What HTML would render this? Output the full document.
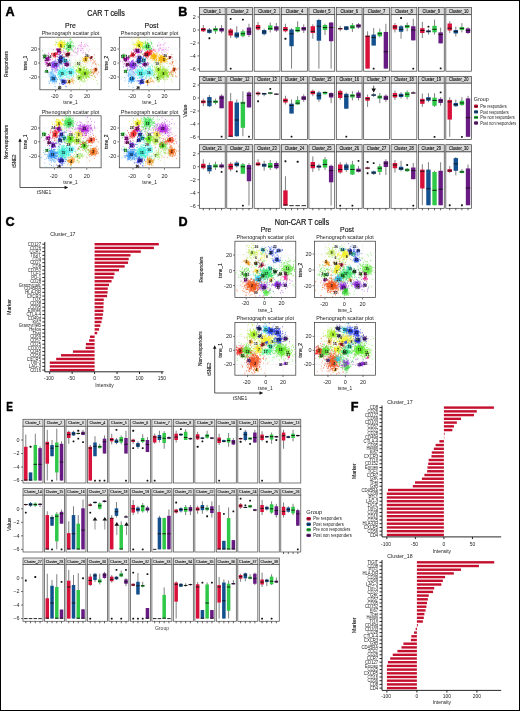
<!DOCTYPE html>
<html><head><meta charset="utf-8"><title>Figure</title>
<style>
html,body{margin:0;padding:0;background:#fff}
svg{display:block;will-change:transform}
text{font-family:"Liberation Sans",sans-serif}
</style></head><body>
<svg width="520" height="711" viewBox="0 0 520 711" font-family="Liberation Sans, sans-serif" fill="#222">
<defs><filter id="bl" x="-50%" y="-50%" width="200%" height="200%"><feGaussianBlur stdDeviation="8"/></filter></defs>
<rect x="0" y="0" width="520" height="711" fill="#fff"/>
<text x="5.6" y="15.8" font-size="12.6" font-weight="bold" fill="#000" stroke="#000" stroke-width=".45">A</text>
<text x="106" y="16" font-size="8.2" text-anchor="middle" textLength="37.5" lengthAdjust="spacingAndGlyphs" stroke="#111" stroke-width=".2">CAR T cells</text>
<text x="70.4" y="28" font-size="6.9" text-anchor="middle" stroke="#111" stroke-width=".15">Pre</text>
<text x="151.5" y="28" font-size="6.9" text-anchor="middle" stroke="#111" stroke-width=".15">Post</text>
<text font-size="5.6" text-anchor="middle" textLength="26" lengthAdjust="spacingAndGlyphs" stroke="#111" stroke-width=".12" transform="translate(8.3 64) rotate(-90)">Responders</text>
<text font-size="5.6" text-anchor="middle" textLength="34.5" lengthAdjust="spacingAndGlyphs" stroke="#111" stroke-width=".12" transform="translate(8.3 142) rotate(-90)">Non-responders</text>
<text font-size="5.4" text-anchor="middle" textLength="13.2" lengthAdjust="spacingAndGlyphs" stroke="#111" stroke-width=".12" transform="translate(16.1 161) rotate(-90)">tSNE2</text>
<text x="44" y="194.3" font-size="5.4" text-anchor="middle" textLength="14.5" lengthAdjust="spacingAndGlyphs">tSNE1</text>
<path d="M20 140.5V187.5H65.5" stroke="#111" stroke-width=".7" fill="none"/>
<path d="M20 138.2l1.7 3.6h-3.4zM68.2 187.5l-3.6 1.7v-3.4z" fill="#111"/>
<rect x="39.9" y="37.2" width="61.2" height="52.6" fill="#fff" stroke="#333" stroke-width=".7"/>
<path d="M55.5 37.2V89.8M71 37.2V89.8M87 37.2V89.8M39.9 49H101.1M39.9 63H101.1M39.9 77H101.1" stroke="#ebebeb" stroke-width=".5" fill="none"/>
<clipPath id="c1"><rect x="40.3" y="37.6" width="60.4" height="51.8"/></clipPath>
<g clip-path="url(#c1)" stroke-linecap="round" fill="none">
<g transform="scale(.1)">
<ellipse cx="608" cy="447" rx="25" ry="25" fill="#f2ee1c" opacity=".68" filter="url(#bl)" transform="rotate(0 608 447)"/>
<path d="M635 477h0m-25-45h0m-24 17h0m2-30h0m25 32h0m7-22h0m-11 18h0m-31 12h0m37 37h0m-2-51h0m21 7h0m-7-12h0m-14 29h0m10-19h0m-37 7h0m24 6h0m3 7h0m-6-18h0m15-26h0m-22 12h0m49 8h0m-27 14h0m-19-44h0m25 24h0m-5-19h0m-23 52h0m38-52h0m-57 26h0m42 4h0m-8-23h0m5 43h0m-20-52h0m-7 44h0m-20-17h0m15-1h0m15 3h0m36 8h0m-3-11h0m-37 11h0m-48-9h0m61-24h0m6 14h0m-60 7h0m31-7h0m16 36h0m6-26h0m5-36h0m18 15h0m-17-1h0m-28 15h0m58 22h0m-51-20h0m-11 5h0m12 16h0m-16-22h0m10-8h0m32 17h0m-3 22h0m12-52h0m-13-8h0m-12 75h0m-2-47h0m7 8h0m-3-16h0m21 34h0m-26-12h0m18 15h0m-6-7h0m-13-36h0m-5 43h0m30-18h0m-31 3h0m45 21h0m-47-28h0m-16-22h0m33 23h0m16 26h0m-3 1h0m-28-50h0m22 77h0m-3-78h0m-3 53h0m-26-13h0m9 10h0m28-20h0m25-14h0m-54 46h0m-4 7h0m17-66h0m0 24h0m5-7h0m17-43h0m-33 42h0m48-36h0m-43 18h0m-7 36h0m22 16h0m-21-24h0m36 13h0m-30 5h0m-12 14h0m22-39h0m2 19h0m30-20h0m-43 15h0m-10-47h0m34 27h0m6-13h0m-81 27h0m62 26h0m7-26h0m1-14h0m-10-20h0m9 12h0m-20 30h0m28-35h0m22 9h0m-24 31h0m-12-16h0m32 15h0m-27-55h0m-25 61h0m19-44h0m-17 14h0m27 14h0m7-25h0m23-5h0m-57 98h0m17-82h0m-13-11h0m78 77h0m-37-52h0m14-12h0m-26 21h0m-16 55h0m73-14h0m-160 22h0m114-100h0m-32 70h0m53-13h0m-45-36h0m30-5h0m-76-23h0m33 41h0m106-74h0m-79 56h0m-7 63h0m41-66h0m-79-53h0m21 114h0m-8-23h0m42-14h0m17-22h0m-84-46h0m77 35h0m-54 52h0m-21 41h0m64-100h0m-57 70h0m-24-75h0m52 37h0m0 8h0m-16-22h0" stroke="#f2ee1c" stroke-width="7"/>
<ellipse cx="690" cy="464" rx="30" ry="30" fill="#2ee03a" opacity=".35" filter="url(#bl)" transform="rotate(0 690 464)"/>
<path d="M721 480h0m-41 25h0m-36-39h0m63 21h0m-13-32h0m11 5h0m-3-63h0m-2 49h0m13 36h0m-5-27h0m-7 1h0m-5 5h0m-26 50h0m38-95h0m4 15h0m-27 20h0m-7 19h0m5-40h0m8 43h0m42-18h0m-70 0h0m43-12h0m-32 35h0m17-8h0m-15-25h0m7 16h0m0 14h0m21 2h0m-2-34h0m-38 40h0m27-16h0m-28-8h0m13-15h0m0-15h0m17 63h0m-19-25h0m-9 13h0m70-45h0m-49 63h0m14-31h0m-57-6h0m70 37h0m-7-47h0m-31-30h0m-10 70h0m23-58h0m34-8h0m-1 32h0m-22 23h0m-2 15h0m-6-38h0m-16-27h0m-1 58h0m37 9h0m45-16h0m-53-48h0m-18 83h0m19-55h0m-6-42h0m-27 14h0m-31 50h0m74-23h0m-15-19h0m3 41h0m25 19h0m-24-40h0m-32-11h0m35 28h0m-15 26h0m15-39h0m-20 1h0m-18-25h0m31 10h0m-14 42h0m1 3h0m5 4h0m11-77h0m18 36h0m-76 8h0m55-69h0m-39 94h0m103 31h0m-10-1h0m-189-95h0m137-100h0m29 183h0m-79-65h0m-8 18h0m46 1h0m-50 20h0m35 29h0m33-124h0m-90 79h0m49 20h0m66-23h0m-127-62h0m115 8h0m28 49h0m-30-41h0m-32-106h0m-6 181h0m-35-73h0" stroke="#2ee03a" stroke-width="7"/>
<path d="M829 488h0m-24 20h0m-27 14h0m7-63h0m88-5h0m-96 34h0m24-38h0m7 12h0m-9-9h0m83 11h0m-20-23h0m-14 5h0m-32 60h0m-3-83h0m0 58h0m36-27h0m-28 34h0m-43-5h0m26 17h0m23-19h0m-74 1h0m66-26h0m-5-11h0m22 62h0m14-38h0m35 44h0m-85-32h0m-22 1h0m75 45h0m-36-99h0m8 102h0m10-3h0m22 9h0m-7-71h0m-5 103h0m-31-142h0m84 73h0m-88-33h0m-29 43h0m54-43h0" stroke="#e46ae6" stroke-width="7"/>
<path d="M737 507h0m38 6h0m8-17h0m-50 9h0m1 10h0m40 33h0m-53 2h0m29 8h0m-6-62h0m24 38h0m-32-16h0m15 8h0m-46-39h0m44 37h0m-14-51h0m47 37h0m-61 48h0m56-14h0m-8-12h0" stroke="#f090e0" stroke-width="7"/>
<ellipse cx="589" cy="511" rx="16" ry="16" fill="#a000a8" opacity=".68" filter="url(#bl)" transform="rotate(0 589 511)"/>
<path d="M577 512h0m17 7h0m1-20h0m-13 8h0m5-7h0m-21-4h0m27 15h0m4-24h0m-13 36h0m-19-25h0m3 29h0m22-23h0m1 6h0m10 16h0m0-10h0m-2 6h0m5-34h0m-10 24h0m-3-4h0m-3 10h0m4-5h0m-16-18h0m4-6h0m3 12h0m-16-14h0m16 17h0m34 18h0m-38-17h0m-2-4h0m8 10h0m-3 11h0m16 14h0m-25-16h0m12-29h0m1-1h0m3 56h0m17-12h0m-1-42h0m-10 21h0m0-15h0m-31 40h0m41-23h0m-22-1h0m-9 10h0m18-15h0m-8 1h0m7-4h0m11 8h0m-14-14h0m17 28h0m-7-40h0m-18 50h0m10 8h0m-13-13h0m27-89h0m-26 61h0m-6-18h0m61 21h0m-22-33h0m-78 23h0m68-6h0m3 41h0m-27-23h0m-8 31h0m69-16h0m-62-33h0" stroke="#a000a8" stroke-width="7"/>
<ellipse cx="544" cy="549" rx="14" ry="14" fill="#e4102a" opacity=".68" filter="url(#bl)" transform="rotate(0 544 549)"/>
<path d="M542 559h0m-5 7h0m-5-17h0m27 20h0m-18-11h0m32 4h0m-52-9h0m50-16h0m-16-11h0m7 14h0m-8 19h0m-40-25h0m35-1h0m-4 6h0m15 5h0m-25 12h0m23-8h0m-10 7h0m-8-19h0m11 10h0m-21 13h0m20-8h0m-13-4h0m15 8h0m-16-16h0m13 12h0m5-14h0m1 32h0m0-18h0m0-16h0m-15 37h0m-13-35h0m27 5h0m-15-5h0m25 6h0m-22-14h0m11 20h0m-3 18h0m-3-31h0m-13 14h0m42-29h0m-37 25h0m22-18h0m-9 40h0m-8-21h0m16 16h0m15-39h0m-1 20h0m-56-8h0m-2 9h0m54-49h0m-53 72h0" stroke="#e4102a" stroke-width="7"/>
<ellipse cx="678" cy="543" rx="14" ry="14" fill="#a00828" opacity=".68" filter="url(#bl)" transform="rotate(0 678 543)"/>
<path d="M675 552h0m-11-10h0m-14-8h0m36 22h0m10-14h0m-27-3h0m-12 19h0m34-25h0m7-5h0m-14 6h0m-25 13h0m7 9h0m2-12h0m5 1h0m-2 7h0m14-8h0m-8 21h0m-6-27h0m16 5h0m-27-1h0m14-10h0m6-1h0m-4 0h0m19 9h0m-12 6h0m3-5h0m1 3h0m-36 3h0m13 7h0m17-15h0m-31-19h0m15 19h0m-2 26h0m20-23h0m-16-3h0m9-1h0m1 14h0m-18-6h0m31-18h0m-14 11h0m-25 27h0m20 4h0m17-34h0m-3-2h0m-46 43h0m48-7h0m-52-2h0m63-26h0m-70 3h0m34-7h0m18-16h0m-5 21h0" stroke="#a00828" stroke-width="7"/>
<ellipse cx="449" cy="562" rx="11" ry="11" fill="#1ec428" opacity=".68" filter="url(#bl)" transform="rotate(0 449 562)"/>
<path d="M463 561h0m9-10h0m-23 23h0m-14-6h0m18-12h0m-5 21h0m-2-12h0m8 8h0m-23-25h0m6 11h0m19 11h0m-9 6h0m2-7h0m-6 1h0m0 3h0m15 7h0m-12-29h0m12 14h0m-13-15h0m12-6h0m-12 28h0m2-6h0m7 2h0m6 0h0m-14-17h0m1 5h0m7 18h0m3-18h0m-5 6h0m-12 26h0m22-19h0m-37-60h0m10 76h0m10-23h0m0 10h0m5 25h0m-3-40h0" stroke="#1ec428" stroke-width="7"/>
<ellipse cx="475" cy="591" rx="16" ry="16" fill="#c400c0" opacity=".68" filter="url(#bl)" transform="rotate(0 475 591)"/>
<path d="M493 601h0m-9-3h0m-9-3h0m7-2h0m-31 16h0m18-25h0m2-2h0m-7 8h0m22-2h0m-5-14h0m4 3h0m-1 5h0m-16-7h0m-9 13h0m4 0h0m27-7h0m-19 9h0m-4 1h0m11 14h0m-12-16h0m7 18h0m-11-14h0m23 6h0m-19-21h0m-14 7h0m20-13h0m14 21h0m-14-8h0m9 3h0m1-3h0m7-14h0m-27 43h0m26-2h0m-23-11h0m23 2h0m-15 7h0m7-35h0m26 18h0m-15-11h0m-28 21h0m23-21h0m-8-8h0m-29 31h0m12-4h0m28-5h0m5 0h0m-15-5h0m2 5h0m-18-5h0m7 36h0m21-46h0m0-38h0m-14 98h0m0-15h0m-12-22h0m20-73h0m-32 112h0m-1-19h0m70-34h0m-19 11h0m-44 6h0m28-43h0m-24-10h0m3 36h0m-18-50h0m46 86h0" stroke="#c400c0" stroke-width="7"/>
<ellipse cx="608" cy="584" rx="16" ry="16" fill="#2828d8" opacity=".68" filter="url(#bl)" transform="rotate(0 608 584)"/>
<path d="M597 586h0m3-35h0m35 38h0m-44 12h0m27 2h0m0-11h0m9-11h0m-16-10h0m-17 17h0m17-23h0m2 33h0m-21-17h0m38-7h0m-14 21h0m-5-8h0m5 2h0m-6-23h0m2 9h0m15 38h0m-4-55h0m-2 28h0m-26-16h0m27 7h0m-15 9h0m13-35h0m4 24h0m-21 18h0m10-37h0m3 27h0m-21-6h0m-7 18h0m39-18h0m-25-11h0m-3 6h0m10 35h0m13-10h0m-26-1h0m3-22h0m19 10h0m22 3h0m-35 7h0m-11 0h0m34-11h0m-26 16h0m-8-9h0m8-1h0m-4 4h0m18 14h0m-12-16h0m-18-16h0m26-7h0m-6-8h0m16 41h0m-26 2h0m-3-15h0m30 12h0m2 31h0m-34-50h0m-33 28h0m20-40h0m16 27h0m7-19h0m10-1h0m-3-18h0m-15-6h0m39 58h0" stroke="#2828d8" stroke-width="7"/>
<ellipse cx="652" cy="606" rx="14" ry="14" fill="#20b4cc" opacity=".68" filter="url(#bl)" transform="rotate(0 652 606)"/>
<path d="M660 610h0m-14 3h0m-10-34h0m4 44h0m16 1h0m-11-6h0m25-1h0m-14 1h0m-8 8h0m-8-28h0m13 0h0m19 16h0m-27 11h0m23-23h0m2 18h0m-23-20h0m9 19h0m14 4h0m-22-36h0m-14 36h0m31-3h0m-12-13h0m5 5h0m-4-16h0m-16 12h0m13 14h0m-10-37h0m-10 21h0m40-3h0m-26 8h0m25 7h0m-7-1h0m-13-10h0m7 19h0m-28-25h0m28 3h0m-6 0h0m-9 8h0m25-9h0m-9 16h0m-21-15h0m-15 40h0m72-42h0m6 25h0m-91-9h0m50 1h0m10-23h0m11 18h0m18-10h0m-105 48h0m73-89h0m-28 25h0" stroke="#20b4cc" stroke-width="7"/>
<ellipse cx="602" cy="614" rx="12" ry="12" fill="#0c2c9c" opacity=".68" filter="url(#bl)" transform="rotate(0 602 614)"/>
<path d="M612 608h0m2 1h0m-2-1h0m-22 12h0m10-1h0m-15-15h0m14 30h0m7-37h0m-36 36h0m35-32h0m7 22h0m12-7h0m-27 6h0m-9-12h0m4-2h0m-3-9h0m2 19h0m11-5h0m5 9h0m0 13h0m-2-17h0m-8 7h0m20-41h0m-7 19h0m-4 12h0m-17-15h0m11 41h0m-10-31h0m9 1h0m15 24h0m-12-17h0m-3 12h0m3-9h0m-2 5h0m1-30h0m43-25h0m-38 35h0m-24 54h0m28-55h0m-27 17h0m19-13h0m-14 39h0m19-38h0m-32-13h0" stroke="#0c2c9c" stroke-width="7"/>
<ellipse cx="544" cy="650" rx="25" ry="25" fill="#8428e8" opacity=".68" filter="url(#bl)" transform="rotate(0 544 650)"/>
<path d="M560 636h0m-2 13h0m-5 9h0m-17-12h0m8 18h0m50 5h0m-76 27h0m25-59h0m5 13h0m2 0h0m-6 27h0m36-24h0m-3 17h0m-8-14h0m-20 11h0m-24-15h0m-3 18h0m27-7h0m-11-28h0m27 7h0m-24 10h0m13 0h0m-30-22h0m42 15h0m-26-12h0m24 27h0m-30-44h0m48 24h0m-61 1h0m1 10h0m12-24h0m25 7h0m-52 24h0m27-29h0m-23 8h0m22 4h0m2 36h0m32-20h0m-11-15h0m-41 20h0m58-25h0m-42 0h0m-13 25h0m5 17h0m56-26h0m-35-19h0m19 19h0m-48-21h0m40 9h0m-1 15h0m20-7h0m-7 24h0m5-29h0m-21 59h0m-10-64h0m6-12h0m-19 15h0m11 29h0m-16-24h0m27-2h0m10 51h0m-37-63h0m12 7h0m-1 20h0m46 41h0m-37-92h0m34 42h0m-40 22h0m6-27h0m-16 24h0m35-36h0m-28 42h0m-4-34h0m-1 4h0m33 6h0m3 11h0m-61-12h0m41-34h0m16 33h0m-26 12h0m30 4h0m-31-16h0m61-25h0m-49 27h0m30 11h0m-26-18h0m20 7h0m-27 2h0m16-2h0m-9 15h0m-20-21h0m16 19h0m10-24h0m-32 2h0m11 26h0m23-17h0m-35-28h0m24 39h0m6-17h0m4-35h0m11 71h0m-19-26h0m-8 13h0m-15-30h0m27-17h0m2 38h0m-10-19h0m35-1h0m-32 27h0m-3 5h0m0-16h0m0 8h0m-13 5h0m34-39h0m-51-6h0m14 41h0m17 24h0m31-69h0m-40 25h0m41 22h0m-14-33h0m22-5h0m-40 2h0m-19 25h0m0 9h0m29-13h0m17 48h0m20-99h0m-19 89h0m-45-56h0m69 46h0m-47 34h0m35 13h0m-58-33h0m-70-71h0m160-14h0m-80 27h0m28 65h0m49-57h0m-55 45h0m36-50h0m8-51h0m-47 3h0m-32 25h0m98 108h0m-44-66h0m-120-81h0m94 106h0m14-64h0m-56 56h0m133 8h0m-101-37h0m21 18h0m-82 55h0m83-44h0m-40 24h0m64-80h0m1 1h0m-126 68h0m38-61h0m2 21h0m25 10h0m37 64h0" stroke="#8428e8" stroke-width="7"/>
<ellipse cx="487" cy="644" rx="10" ry="10" fill="#980078" opacity=".68" filter="url(#bl)" transform="rotate(0 487 644)"/>
<path d="M492 649h0m0 2h0m4-4h0m-18-10h0m12 5h0m-6-2h0m-2 14h0m13-20h0m-6 10h0m-5 9h0m7-8h0m-10 8h0m9-6h0m-8 10h0m-20-24h0m12 1h0m5 6h0m6 6h0m14 3h0m-10-6h0m2 8h0m-9 8h0m6-7h0m-21-6h0m18 10h0m21-6h0m-7-11h0m-28 26h0m-5-30h0m1-8h0m13 33h0m-10-2h0" stroke="#980078" stroke-width="7"/>
<ellipse cx="665" cy="644" rx="14" ry="14" fill="#9400a0" opacity=".68" filter="url(#bl)" transform="rotate(0 665 644)"/>
<path d="M645 635h0m11 17h0m24-33h0m-14 43h0m0 1h0m12-15h0m-28-11h0m33-2h0m-29 5h0m25 6h0m-30-8h0m24 19h0m9-7h0m-11-16h0m-12-4h0m5 19h0m2-15h0m6 21h0m7-34h0m-40 12h0m32 23h0m3-11h0m-6-3h0m-10-8h0m42 8h0m-28 9h0m3-7h0m1 23h0m-17-29h0m-4 3h0m-3 7h0m21 10h0m7-17h0m-12-5h0m-2 10h0m5-2h0m-17 12h0m10-27h0m-17 23h0m-1 0h0m55 5h0m-16 1h0m-34-8h0m-29 9h0m59-11h0m10-7h0m-66 37h0m43-48h0m-15 6h0m17-21h0m-2 21h0m13 1h0" stroke="#9400a0" stroke-width="7"/>
<ellipse cx="468" cy="714" rx="8" ry="8" fill="#20d428" opacity=".68" filter="url(#bl)" transform="rotate(0 468 714)"/>
<path d="M473 708h0m-2 4h0m5 5h0m0-6h0m-11 3h0m-3-1h0m15-6h0m-12 8h0m15 14h0m-15-18h0m6-1h0m-15 8h0m15-2h0m2 0h0m-8 3h0m4-3h0m-7-1h0m6-13h0m-10 6h0m11-3h0m-16 10h0m-2 4h0" stroke="#20d428" stroke-width="7"/>
<ellipse cx="519" cy="735" rx="21" ry="21" fill="#7cc4ff" opacity=".35" filter="url(#bl)" transform="rotate(0 519 735)"/>
<path d="M505 733h0m33-34h0m-41 28h0m20-6h0m-13 5h0m-1 12h0m5-5h0m12 14h0m-11-18h0m18-29h0m-6 21h0m13 10h0m-29 22h0m5-32h0m17-17h0m-10 44h0m-18 4h0m16-25h0m-23 32h0m50-29h0m-16-26h0m-5 38h0m-14-17h0m9-3h0m-25 26h0m43-2h0m-2 7h0m-18-67h0m6 41h0m-20 17h0m3-28h0m56 13h0m-37 17h0m7-12h0m-1 0h0m-16-3h0m18 16h0m-3-36h0m-11 33h0m-3 0h0m8 12h0m-40-17h0m77 21h0m-57-32h0m6 23h0m39-36h0m12 37h0m-113-30h0m70-10h0m8 22h0m-7-8h0m14-11h0m9-43h0m-17 47h0" stroke="#7cc4ff" stroke-width="7"/>
<ellipse cx="621" cy="728" rx="32" ry="32" fill="#38f0dc" opacity=".44" filter="url(#bl)" transform="rotate(0 621 728)"/>
<path d="M611 735h0m-6-86h0m-20 74h0m29-7h0m-9 29h0m16-43h0m-22 50h0m25-15h0m-2-3h0m-14-30h0m-11 2h0m68 38h0m-43-18h0m-41 21h0m-3 7h0m31-61h0m49 11h0m-44 20h0m-30 15h0m4-16h0m5 45h0m29-3h0m-14-31h0m26-4h0m-20 26h0m16-26h0m12-70h0m-47 80h0m17-19h0m-28-2h0m71-3h0m-59 5h0m51-9h0m-67 22h0m32-2h0m-34-31h0m35 36h0m52 25h0m-15-10h0m-3-8h0m-10-25h0m-28 42h0m-17-47h0m23 19h0m-11-16h0m-3-7h0m10 102h0m-19-23h0m-2-56h0m29 11h0m-5-43h0m-7 19h0m-23 6h0m39-35h0m-35 57h0m9-36h0m9 1h0m28 21h0m40-15h0m-44-8h0m15-21h0m-45 33h0m91 61h0m-20-56h0m-89 14h0m66-31h0m22 67h0m-91-60h0m35 4h0m3 7h0m-2 64h0m-6-95h0m42 55h0m-58-47h0m6-32h0m-11 66h0m0-18h0m26-8h0m19 19h0m19 4h0m-46 33h0m23-29h0m-1-21h0m-30 39h0m5-38h0m40 32h0m-21 25h0m-6 9h0m40-54h0m-41 24h0m-36-11h0m59 22h0m18-32h0m-23-32h0m2 5h0m-48 64h0m79-47h0m-37 63h0m-42-22h0m26-23h0m6 23h0m33-43h0m-1 28h0m6-50h0m-14 27h0m-15-40h0m47 38h0m-42-36h0m-17 42h0m8-33h0m6 18h0m14-18h0m7 2h0m-58 38h0m44-1h0m-30-18h0m-9 36h0m-21-59h0m15 44h0m-52 30h0m-12-137h0m111 116h0m-38 50h0m-4-101h0m14 101h0m1 30h0m84-43h0m-25 11h0m-24-199h0m-16 121h0m-74-95h0m72 43h0m-8 15h0m18-8h0m-5 50h0m-38-12h0m40-130h0m-120 150h0m107 7h0m17-66h0m52 95h0m-52-55h0m-58-19h0m60 38h0m24 8h0m-69 50h0m-53-137h0m98 47h0m-99-54h0m78 155h0m78-80h0m-92-40h0m117 41h0m-123 46h0" stroke="#38f0dc" stroke-width="7"/>
<ellipse cx="703" cy="720" rx="32" ry="32" fill="#5cf0f4" opacity=".44" filter="url(#bl)" transform="rotate(0 703 720)"/>
<path d="M733 722h0m2-33h0m-20 47h0m-1 1h0m-6-2h0m-58-33h0m75-9h0m-44 79h0m24-44h0m8 37h0m-16-65h0m13 56h0m-51-39h0m35 7h0m26 5h0m-56-14h0m36 5h0m31-7h0m-43 4h0m16 21h0m-44-52h0m42 58h0m0-17h0m46-3h0m-37-4h0m17 14h0m-31 5h0m18-30h0m7 64h0m-46-79h0m25 22h0m9 4h0m-2 29h0m28-81h0m-19 54h0m0 0h0m-4-7h0m-26 2h0m37 5h0m-22 30h0m24-53h0m-42 17h0m32 31h0m-55 8h0m44-29h0m20 2h0m-16 18h0m25-53h0m-70 1h0m46 20h0m-11-6h0m-17 26h0m21-6h0m14 30h0m40-52h0m-21 19h0m-21 24h0m-26-31h0m39 18h0m22 1h0m-43-19h0m12-43h0m17 54h0m-48-6h0m29-32h0m9-25h0m14 48h0m-30 0h0m-21 31h0m-10-26h0m38-29h0m2 8h0m7 14h0m10 7h0m-58 26h0m56 0h0m-68-51h0m61 39h0m-31-17h0m12-50h0m-35 24h0m57 21h0m-79 6h0m44-15h0m-28-4h0m44 12h0m12 44h0m-28-73h0m-16 41h0m44-6h0m-21 10h0m32 13h0m-40-33h0m9-1h0m-24 42h0m29-54h0m6 1h0m-35-14h0m-6 28h0m37 10h0m1 4h0m-19 28h0m-17-55h0m80 31h0m-46 61h0m-33-26h0m26-46h0m-24 4h0m44 1h0m-31 10h0m44-8h0m-42-12h0m20-5h0m26 1h0m-9 10h0m-8-25h0m-24 4h0m-15 24h0m-9 51h0m121 0h0m-91-82h0m-95 77h0m30-48h0m31 3h0m124-5h0m-102 55h0m-17-156h0m-14 92h0m-1 68h0m108-109h0m-63 67h0m-25-47h0m47 13h0m75 20h0m-98 12h0m11-33h0m20 68h0m-20-23h0m-87-46h0m80 6h0m54 38h0m-60-57h0m-20 23h0m111-51h0m-39 45h0m37 71h0m-135-32h0m-30 20h0m70-96h0m4 89h0m136 14h0m-112-49h0m-143-77h0m-7 14h0" stroke="#5cf0f4" stroke-width="7"/>
<ellipse cx="532" cy="790" rx="20" ry="20" fill="#2494f4" opacity=".68" filter="url(#bl)" transform="rotate(0 532 790)"/>
<path d="M548 811h0m-11-27h0m6 44h0m-8-15h0m19-36h0m-20 0h0m3 6h0m-20 19h0m14-15h0m15 11h0m6 22h0m-40-22h0m-8 7h0m59-30h0m-11 26h0m-14-46h0m-23 29h0m18 8h0m12 1h0m-16-18h0m-9 12h0m48-2h0m-37 21h0m14-6h0m-11 16h0m-11-3h0m34-18h0m-33-15h0m13-21h0m16 18h0m-40 22h0m20-22h0m20-5h0m-30-7h0m37 35h0m-51-1h0m13-22h0m7-18h0m6 31h0m21-14h0m-46-1h0m13 29h0m45-4h0m-29-28h0m-29-1h0m33 38h0m-14-39h0m16 19h0m-25-24h0m-17 50h0m22-20h0m15 10h0m28-17h0m-17-11h0m-42 13h0m-8-24h0m19 35h0m9-39h0m3 19h0m-8 0h0m6 22h0m10-12h0m-21-26h0m44 50h0m-58-18h0m34-5h0m-4-8h0m20 12h0m-7-1h0m-13-12h0m17-22h0m2 26h0m-18-5h0m-33-6h0m36 7h0m1-7h0m-36 12h0m21-10h0m30-17h0m-21 25h0m43 9h0m-33 4h0m-4-16h0m-13 37h0m82-64h0m-68-3h0m57 98h0m-57-11h0m-1-90h0m54-13h0m-98 94h0m67-20h0m-44-45h0m-28 66h0m60 35h0m-3-57h0m-35-36h0m37-11h0m18 65h0m-79-16h0m52-14h0m-20 33h0m19-18h0m6-45h0" stroke="#2494f4" stroke-width="7"/>
<ellipse cx="633" cy="817" rx="16" ry="16" fill="#2430e4" opacity=".68" filter="url(#bl)" transform="rotate(0 633 817)"/>
<path d="M619 838h0m37-21h0m-8 17h0m5-5h0m-21-3h0m-4-6h0m-6-23h0m0 1h0m17 28h0m1-18h0m-6-7h0m5 23h0m19-19h0m-26 11h0m32 4h0m-24-22h0m-8 47h0m19-19h0m-22-20h0m8 4h0m26 0h0m-35 17h0m9-21h0m-20 1h0m37 3h0m-22 19h0m22-1h0m-15-18h0m-17 9h0m11 1h0m-25-20h0m36 36h0m-8-34h0m6 4h0m-12 8h0m14 17h0m-2-26h0m5 6h0m-32 18h0m43-25h0m-29 6h0m-1 22h0m16-12h0m-8-12h0m-9 1h0m14 17h0m-12 0h0m-6 18h0m-2-34h0m12 18h0m4-22h0m13 33h0m-46-79h0m46 29h0m12 78h0m7-41h0m-12-13h0m-46 1h0m12 10h0m-21-35h0m35 31h0m-2 23h0m-41-9h0m33-18h0m36 5h0m-5 40h0" stroke="#2430e4" stroke-width="7"/>
<ellipse cx="690" cy="817" rx="11" ry="11" fill="#f09420" opacity=".68" filter="url(#bl)" transform="rotate(0 690 817)"/>
<path d="M691 800h0m-5 13h0m7-3h0m-1 9h0m-19 13h0m12-27h0m-1 19h0m36-25h0m-35 29h0m0-10h0m2-1h0m7-9h0m-12-4h0m11 36h0m9-24h0m1 7h0m-15-12h0m4-1h0m-1 11h0m-12-14h0m9 3h0m2 10h0m4 4h0m-2-4h0m-2-2h0m0-1h0m-2 3h0m11 9h0m7-5h0m-27-33h0m-20 20h0m36 26h0m-2-20h0m-26 14h0m61-22h0m5 23h0m-59-2h0" stroke="#f09420" stroke-width="7"/>
<path d="M729 813h0m-22 0h0m32-24h0m-6 37h0m-3-29h0m-8 21h0m12-12h0m-18-10h0m6-7h0m9 48h0m-9-31h0m5 10h0m-6-1h0m-9-24h0m4 24h0m-1-19h0m14-19h0" stroke="#f0a040" stroke-width="7"/>
<ellipse cx="849" cy="733" rx="41" ry="32" fill="#8ce020" opacity=".53" filter="url(#bl)" transform="rotate(0 849 733)"/>
<path d="M835 674h0m-5 107h0m-33-19h0m33-43h0m8 64h0m-7-48h0m3-8h0m39 14h0m-20-25h0m3 12h0m-8 7h0m-15-34h0m29-14h0m16 32h0m-58 41h0m9-25h0m-9 9h0m40-17h0m-18-33h0m43 22h0m-40 5h0m12 6h0m-20-1h0m19 46h0m-43-12h0m39-15h0m-24 14h0m45-74h0m-79 91h0m37-49h0m-30 6h0m50-12h0m39 7h0m-14 6h0m-21-8h0m-24 43h0m54-6h0m-57-40h0m26 1h0m15 50h0m-37-51h0m-31 42h0m54-23h0m-27-8h0m12-18h0m26 50h0m23-41h0m58-8h0m-97-17h0m-9 41h0m-11-10h0m-12-9h0m-8 0h0m-29-10h0m53 17h0m55-24h0m-63 49h0m-6-30h0m-25-70h0m123 98h0m-4-22h0m-111 12h0m16-3h0m43 9h0m-38-12h0m37 32h0m-24 13h0m32-38h0m-39-1h0m39-34h0m1 32h0m-29-28h0m2 38h0m61-13h0m-65 14h0m41 1h0m-36-81h0m11 60h0m-42 3h0m4-9h0m71-7h0m-114 41h0m72-26h0m-55-47h0m46 33h0m17 9h0m6-6h0m1-2h0m3 29h0m-64-17h0m37 1h0m71-16h0m-64 22h0m-64 30h0m88-40h0m10 71h0m-55-33h0m81-54h0m-40-13h0m-6 16h0m10 7h0m21 41h0m15-33h0m-64-5h0m-10 5h0m-12-4h0m57 31h0m-12-64h0m35 86h0m-21-57h0m-7 8h0m-70 31h0m77-15h0m-5-12h0m-60 37h0m27-47h0m26-33h0m-22 56h0m-1-75h0m13 83h0m-47 36h0m48-57h0m8 25h0m-6-28h0m3-29h0m53-12h0m-69 23h0m9 17h0m29 0h0m-42 55h0m-23-52h0m20 25h0m12 6h0m-24-24h0m42-7h0m-9-40h0m7 33h0m44-18h0m-107 76h0m108-57h0m-122-13h0m70 30h0m22 19h0m-11-35h0m23 45h0m-31-50h0m13 14h0m-26-1h0m38 35h0m-5-27h0m-43-51h0m4 52h0m-21-2h0m2-4h0m-60 4h0m109-10h0m-1-25h0m-20 14h0m0 10h0m3-18h0m-19-27h0m6-18h0m18 113h0m-26-61h0m18 22h0m21-24h0m-33 24h0m23-42h0m3 75h0m-72-54h0m46-16h0m-33 69h0m49-32h0m25-41h0m8 15h0m-5 15h0m10 15h0m-45 11h0m-19-9h0m-24-20h0m105 27h0m-92 11h0m21-24h0m-1 6h0m-5 19h0m6-51h0m-3-19h0m35 63h0m73 4h0m-105 50h0m110-120h0m-185 8h0m86 100h0m75-46h0m4-39h0m-86-120h0m-28 121h0m116 9h0m-105 14h0m0-129h0m-21 111h0m31-30h0m-17 76h0m-69-53h0m60 2h0m43 57h0m-183-54h0m102-92h0m90 110h0m-62-20h0m-7 100h0m174-16h0m-198-28h0m104-38h0m-33-21h0m-31-25h0m-14 188h0m92-188h0m-82 75h0m169 71h0m-189-186h0m21 100h0m7-54h0m178-43h0m-95 69h0m-87 128h0m-47-102h0m76-59h0m-18 47h0m207 26h0m-195-117h0m33 136h0m177-147h0m-292-14h0m-7 184h0m99-117h0m17 38h0m-20 78h0m69-95h0m26 86h0m-102-91h0m-9-30h0m-119 128h0m239-220h0" stroke="#8ce020" stroke-width="7"/>
<ellipse cx="798" cy="701" rx="21" ry="21" fill="#a4f024" opacity=".56" filter="url(#bl)" transform="rotate(0 798 701)"/>
<path d="M794 686h0m-2 22h0m25 2h0m-6 11h0m-7 0h0m10-31h0m-2 5h0m4 27h0m-40-10h0m7-19h0m8 18h0m19-10h0m-46 9h0m54-52h0m-29 34h0m14 5h0m13-2h0m-32-26h0m-16 29h0m42-13h0m0 10h0m3 29h0m-6-38h0m9 19h0m-16 3h0m11 14h0m-34 0h0m26 2h0m-6-9h0m18 9h0m-21 2h0m-3-44h0m-6-2h0m38 38h0m-55-20h0m35 7h0m-13-15h0m23 10h0m-29 6h0m4-9h0m24 1h0m30-20h0m-60 50h0m20-29h0m13 0h0m-32 29h0m18-23h0m1-4h0m-17-16h0m-14 32h0m29-19h0m-26-19h0m18 28h0m4-7h0m-12 15h0m20 9h0m4-39h0m-20 14h0m30 4h0m-19 23h0m15-13h0m-45-14h0m63 14h0m-12 20h0m-8-64h0m-7 30h0m-21 20h0m3 4h0m20-30h0m-22 40h0m10-25h0m4-20h0m-12 7h0m-50-20h0m29 39h0m38-56h0m-27 47h0m-8-65h0m61 62h0m-43-17h0m24 1h0m-11 56h0m50 20h0m-87-62h0m-11-37h0m-4 24h0m35-21h0m12 54h0m-15-49h0m47 22h0m-20-30h0m12 69h0m-58-70h0" stroke="#a4f024" stroke-width="7"/>
<ellipse cx="798" cy="777" rx="17" ry="17" fill="#80d420" opacity=".44" filter="url(#bl)" transform="rotate(0 798 777)"/>
<path d="M793 786h0m16 7h0m-23-41h0m1 27h0m18-19h0m-7 13h0m7-7h0m-9 7h0m6 5h0m2 3h0m6-16h0m35 32h0m-65-10h0m12-20h0m23-21h0m-27 39h0m-12 5h0m17-12h0m26 1h0m-6 17h0m-22-24h0m26 14h0m2 24h0m-32-33h0m18-17h0m-19-2h0m9 21h0m26 34h0m-24-37h0m6 7h0m-5 15h0m17-28h0m-47 8h0m51 21h0m-26-29h0m7 0h0m-28-10h0m80 61h0m-44-17h0m-24-44h0m35 32h0m-58 23h0m-26-56h0m99 61h0m48-50h0m-87 21h0" stroke="#80d420" stroke-width="7"/>
<ellipse cx="855" cy="593" rx="16" ry="16" fill="#f0b000" opacity=".68" filter="url(#bl)" transform="rotate(0 855 593)"/>
<path d="M857 580h0m-5 9h0m16 2h0m-11 3h0m-5 14h0m-2-8h0m22-8h0m-2-4h0m-10-12h0m9 33h0m-13-35h0m-4 20h0m20-29h0m-13 30h0m-22 7h0m-3-1h0m34-19h0m-26 0h0m8 18h0m14-11h0m-1-9h0m-9-8h0m20 6h0m-29 37h0m23-34h0m0 48h0m-8-47h0m-12 34h0m1-33h0m39-10h0m-42-1h0m1 16h0m15-13h0m3 11h0m9 0h0m-18-17h0m-23 32h0m49-29h0m-30 19h0m4 11h0m8 1h0m-41-29h0m61 36h0m-50-23h0m28-4h0m-12-9h0m-8 45h0m15-26h0m7-9h0m-4 9h0m4-12h0m-13 44h0m20-56h0m-70 40h0m65-31h0m-38 14h0m35 19h0m6-6h0m-31-1h0m16-22h0m6 82h0m-20-78h0m18 3h0m-7 19h0m-21 2h0m54-32h0" stroke="#f0b000" stroke-width="7"/>
<ellipse cx="913" cy="576" rx="8" ry="8" fill="#c42020" opacity=".68" filter="url(#bl)" transform="rotate(0 913 576)"/>
<path d="M927 566h0m-11 11h0m-1-6h0m-12 7h0m-2 4h0m17-5h0m0 1h0m-3-2h0m-7-1h0m5-3h0m0-4h0m3 7h0m-18-1h0m8 1h0m18-5h0m-10-1h0m-4 12h0m9-6h0m8 17h0m16-43h0m-52 9h0m11 31h0" stroke="#c42020" stroke-width="7"/>
<ellipse cx="957" cy="695" rx="10" ry="10" fill="#f05010" opacity=".68" filter="url(#bl)" transform="rotate(0 957 695)"/>
<path d="M958 690h0m-3-3h0m10 11h0m-8-18h0m-5 3h0m0 18h0m-2 0h0m-1 10h0m7-20h0m8 12h0m-15-18h0m-1 15h0m4-9h0m8-3h0m1 11h0m-9-11h0m15-7h0m-8 29h0m-6-25h0m10 10h0m-13 5h0m6 7h0m7-19h0m0 11h0m-7-13h0m15 13h0m-29-7h0m20 21h0m25 7h0m-38-6h0m-11-21h0m29-3h0" stroke="#f05010" stroke-width="7"/>
<path d="M925 721h0m48 14h0m-54 19h0m13-33h0m11 2h0m-26-13h0m16 30h0m-38 0h0m78-47h0m-35 16h0m-30 44h0m41 4h0m23-9h0m-35-9h0m13-21h0m4-9h0m-18 25h0m24-5h0m-41-1h0m69-5h0m-31-30h0m-10 38h0m-23-9h0m11 15h0m8-51h0m11 90h0m-49-81h0m21 2h0m-12 28h0" stroke="#f07030" stroke-width="7"/>
<path d="M983 646h0m-48-15h0m19 7h0m-21-36h0m-16 62h0m36-32h0m2-22h0m-25 17h0m-18-20h0m32 10h0m-39-8h0m40 11h0m21 40h0m-43-20h0m14-29h0m17 35h0m-51-52h0m59 49h0" stroke="#f08040" stroke-width="7"/>
<path d="M813 659h0m-45-51h0m-5 42h0m48-68h0m-70 64h0m17-2h0m0-40h0m-4 37h0m49-29h0m-28 9h0m20 10h0m-6-16h0m-4 15h0m-3 9h0m-31 12h0m71-15h0m-83 30h0m42-30h0m9 54h0m-32-56h0m19 20h0m33 6h0m-14-16h0m3 5h0m2-29h0m54 25h0m-145-8h0m84-37h0" stroke="#c4e488" stroke-width="7"/>
<ellipse cx="595" cy="879" rx="5" ry="5" fill="#202020" opacity=".38" filter="url(#bl)" transform="rotate(0 595 879)"/>
<path d="M596 879h0m-3 2h0m-3 4h0m-2-12h0m9-2h0m3 12h0m3-18h0" stroke="#202020" stroke-width="7"/>
</g>
</g>
<g font-size="3.4" font-weight="bold" fill="#111" text-anchor="middle">
<text x="60.85" y="46.98">6</text>
<text x="69.1" y="47.99">13</text>
<text x="58.94" y="52.43">21</text>
<text x="54.5" y="56.24">1</text>
<text x="67.83" y="55.61">24</text>
<text x="44.09" y="57.51">12</text>
<text x="49.17" y="58.15">14</text>
<text x="46.88" y="61.32">23</text>
<text x="60.85" y="59.41">22</text>
<text x="65.29" y="61.95">17</text>
<text x="60.21" y="62.97">19</text>
<text x="49.17" y="66.01">25</text>
<text x="55.77" y="66.4">27</text>
<text x="66.94" y="65.76">28</text>
<text x="46.88" y="72.74">11</text>
<text x="62.11" y="74.9">15</text>
<text x="70.36" y="73.76">16</text>
<text x="53.23" y="80.36">18</text>
<text x="63.38" y="83.02">20</text>
<text x="69.1" y="83.28">4</text>
<text x="84.96" y="75.28">8</text>
<text x="79.88" y="70.84">9</text>
<text x="78.87" y="79.72">7</text>
<text x="85.59" y="60.68">5</text>
<text x="86.86" y="56.88">26</text>
<text x="91.31" y="58.91">2</text>
<text x="95.75" y="71.22">3</text>
<text x="78.61" y="64.75">10</text>
<text x="59.58" y="89.24">29</text>
</g>
<text x="70.5" y="34.8" font-size="5.3" text-anchor="middle" textLength="57.5" lengthAdjust="spacingAndGlyphs">Phenograph scattar plot</text>
<path d="M39.9 49h-1.9" stroke="#222" stroke-width=".6"/>
<text x="37" y="50.95" font-size="5.5" text-anchor="end">20</text>
<path d="M39.9 63h-1.9" stroke="#222" stroke-width=".6"/>
<text x="37" y="64.95" font-size="5.5" text-anchor="end">0</text>
<path d="M39.9 77h-1.9" stroke="#222" stroke-width=".6"/>
<text x="37" y="78.95" font-size="5.5" text-anchor="end">-20</text>
<path d="M55.5 89.8v1.9" stroke="#222" stroke-width=".6"/>
<text x="54.7" y="98.1" font-size="5.5" text-anchor="middle">-20</text>
<path d="M71 89.8v1.9" stroke="#222" stroke-width=".6"/>
<text x="71" y="98.1" font-size="5.5" text-anchor="middle">0</text>
<path d="M87 89.8v1.9" stroke="#222" stroke-width=".6"/>
<text x="87" y="98.1" font-size="5.5" text-anchor="middle">20</text>
<text x="70.5" y="104.1" font-size="5.6" text-anchor="middle" textLength="14.6" lengthAdjust="spacingAndGlyphs">tsne_1</text>
<text font-size="5.6" text-anchor="middle" textLength="14.6" lengthAdjust="spacingAndGlyphs" stroke="#111" stroke-width=".12" transform="translate(27 63) rotate(-90)">tsne_1</text>
<rect x="119.3" y="37.2" width="60.5" height="52.6" fill="#fff" stroke="#333" stroke-width=".7"/>
<path d="M133 37.2V89.8M149 37.2V89.8M164.5 37.2V89.8M119.3 49H179.8M119.3 63H179.8M119.3 77H179.8" stroke="#ebebeb" stroke-width=".5" fill="none"/>
<clipPath id="c2"><rect x="119.7" y="37.6" width="59.7" height="51.8"/></clipPath>
<g clip-path="url(#c2)" stroke-linecap="round" fill="none">
<g transform="scale(.1)">
<ellipse cx="1393" cy="447" rx="25" ry="25" fill="#f2ee1c" opacity=".68" filter="url(#bl)" transform="rotate(0 1393 447)"/>
<path d="M1441 434h0m-40 17h0m9-32h0m-25 14h0m-14-2h0m12 11h0m-8 14h0m7-73h0m35 57h0m-39 13h0m20-4h0m-22 3h0m-14 25h0m6-33h0m26 8h0m-6 6h0m-69-15h0m68-7h0m35-11h0m-33-21h0m7 8h0m-37 81h0m46-48h0m-11-29h0m-25 38h0m-22-3h0m8-3h0m13 33h0m43-46h0m-59-6h0m37-4h0m7 41h0m-7-30h0m18 3h0m1 0h0m16 0h0m-55 8h0m9-21h0m10 35h0m-42-17h0m41-2h0m20-24h0m-3 23h0m-11 0h0m-9-6h0m15 54h0m14-26h0m-11-27h0m2 52h0m-39-25h0m47-11h0m-4 23h0m29-2h0m-11-20h0m-17-3h0m-11-13h0m8 39h0m-17-24h0m16-5h0m6 5h0m-43-26h0m39 34h0m8-8h0m-18-37h0m24 13h0m-7-4h0m-35 26h0m5-17h0m27 28h0m-10-21h0m-25-2h0m6 9h0m26-3h0m-31-9h0m42 16h0m-21 2h0m7-3h0m12 14h0m-82-19h0m118-23h0m-57 48h0m-3 5h0m-26-53h0m22 11h0m-18 26h0m28-11h0m-14 5h0m6-20h0m13 22h0m-9 7h0m-24-17h0m12 30h0m21 16h0m21-51h0m-54 18h0m16-13h0m-15 15h0m25-4h0m3-26h0m-52 12h0m32-5h0m33 9h0m11 6h0m-17 6h0m3-36h0m5 28h0m-42 10h0m27 14h0m8-19h0m-48 27h0m63-18h0m-20 9h0m-27-11h0m18-34h0m7 27h0m27 12h0m-67-59h0m31 36h0m-18-26h0m15 6h0m-10 41h0m19-32h0m-28 11h0m58-6h0m0-6h0m-39 30h0m-30-12h0m-25 27h0m110-58h0m-43 11h0m-102 138h0m122-84h0m-11-29h0m87-87h0m-117 61h0m4 49h0m-22-88h0m-18 78h0m91 15h0m28-58h0m-26 53h0m-51-63h0m46 3h0m-52-13h0m90 41h0m-99-9h0m12 15h0m-65-55h0m97 98h0m-66-42h0m19-105h0m12 52h0m51 39h0m-40-55h0m8-21h0m4 145h0m-63-23h0m115-46h0m-13 12h0m-70-91h0m-26 23h0m152 76h0m-112-70h0" stroke="#f2ee1c" stroke-width="7"/>
<ellipse cx="1475" cy="464" rx="30" ry="30" fill="#2ee03a" opacity=".35" filter="url(#bl)" transform="rotate(0 1475 464)"/>
<path d="M1517 437h0m-6 53h0m-34-41h0m-2-16h0m16 71h0m6-15h0m-38-17h0m-8-18h0m42 70h0m-16-59h0m-46 4h0m23-38h0m-14 37h0m26 12h0m4-16h0m41 19h0m-17 16h0m-13-58h0m-24-14h0m27 28h0m4 29h0m-32-15h0m50-3h0m-8-6h0m-45-1h0m-22 22h0m32 15h0m-17-29h0m38-7h0m1-14h0m-35-15h0m12 14h0m19 11h0m-21-9h0m-30 9h0m56-23h0m-16 48h0m-11-12h0m6 54h0m44-30h0m-50-13h0m13-7h0m-10-5h0m-5 3h0m61-40h0m-74 45h0m51-21h0m-5 20h0m-1 23h0m-29-18h0m21-32h0m7-15h0m-48 57h0m9 15h0m52-53h0m-47-41h0m20 14h0m40-1h0m-37-26h0m-10 98h0m-2-52h0m-1 29h0m33-14h0m-71 13h0m73 48h0m-19-52h0m-18 14h0m56-42h0m-40-1h0m-19 21h0m29-16h0m-20 53h0m20-16h0m-3-21h0m1 17h0m-10 12h0m0-3h0m0-4h0m-17-31h0m-44 76h0m87-52h0m6-54h0m-27 17h0m-103 12h0m52 89h0m6-107h0m91 32h0m-121 12h0m30 77h0m-16-128h0m-88 4h0m241 29h0m-148 21h0m35-17h0m146 107h0m-47-18h0m-132-189h0m87 123h0m-36-27h0m35 36h0m-24-4h0m-24-45h0" stroke="#2ee03a" stroke-width="7"/>
<path d="M1661 478h0m20 29h0m-64 16h0m-18-43h0m5 6h0m34 68h0m-6-103h0m-44-25h0m51 89h0m-13-17h0m7 2h0m3-7h0m-53 24h0m76-85h0m-51 16h0m24 28h0m30 46h0m-62-52h0m-4 35h0m-11-5h0m-16 20h0m62-72h0m-42 42h0m35-98h0m-2 144h0m-21-95h0m54 53h0m-33 12h0m-47-42h0m3-16h0m27 3h0m63 51h0m-26-71h0m-34 50h0m12 19h0m-31-44h0m58 104h0m37-84h0m-95 16h0m42 52h0" stroke="#e46ae6" stroke-width="7"/>
<path d="M1527 498h0m33 1h0m-50 32h0m18-41h0m-2 17h0m1-9h0m21 10h0m-31 37h0m-8-8h0m39-27h0m-10-31h0m1 12h0m-29 33h0m4-3h0m29 24h0m0-1h0m-30-36h0m36 40h0m-5-44h0" stroke="#f090e0" stroke-width="7"/>
<ellipse cx="1374" cy="511" rx="16" ry="16" fill="#a000a8" opacity=".68" filter="url(#bl)" transform="rotate(0 1374 511)"/>
<path d="M1360 499h0m29 0h0m-18 20h0m9-17h0m20 11h0m-22 9h0m-8-2h0m2-20h0m-10 16h0m13-7h0m-7-1h0m16 17h0m-13-10h0m-21-18h0m15 3h0m18-15h0m-3 35h0m22-15h0m-22 25h0m6-31h0m-16-2h0m5 23h0m17-2h0m-6 7h0m-22-5h0m23-11h0m-25 4h0m14 7h0m-25-13h0m49 21h0m-28-20h0m-1-9h0m-3 12h0m-9-1h0m19-15h0m-10-4h0m7 23h0m-7-2h0m13 8h0m-24-13h0m-1-20h0m31 34h0m3 0h0m-22-7h0m-1 15h0m-23-13h0m23 4h0m23-17h0m2 22h0m-38 10h0m5-41h0m41-3h0m-20 19h0m-34 45h0m69-42h0m3-2h0m-37-8h0m-43-1h0m10 21h0m30-27h0m31 26h0m15-21h0m-60-10h0m17 16h0m-6 53h0m21-66h0" stroke="#a000a8" stroke-width="7"/>
<ellipse cx="1329" cy="549" rx="14" ry="14" fill="#e4102a" opacity=".68" filter="url(#bl)" transform="rotate(0 1329 549)"/>
<path d="M1334 547h0m-8 0h0m5 10h0m10-7h0m-20-1h0m7-3h0m-12 2h0m-6 15h0m28-5h0m-19-6h0m25-5h0m-26 1h0m-13 12h0m30-26h0m2 28h0m0-5h0m10-5h0m-2-5h0m-23-1h0m-4 8h0m4-1h0m11 14h0m16-24h0m-21 5h0m-5 21h0m20-22h0m-28-5h0m15 25h0m-14-2h0m-2-12h0m3-8h0m-14 11h0m27-18h0m-24 11h0m23-16h0m6 15h0m-18-7h0m-14 16h0m37-10h0m-24-10h0m6-9h0m14 0h0m15 49h0m-36-47h0m-56 20h0m79-23h0m18 6h0m-55 36h0m39-69h0m-27 19h0m11 34h0m-5 0h0" stroke="#e4102a" stroke-width="7"/>
<ellipse cx="1463" cy="543" rx="14" ry="14" fill="#a00828" opacity=".68" filter="url(#bl)" transform="rotate(0 1463 543)"/>
<path d="M1473 539h0m-24-7h0m23 30h0m-11-15h0m-7-10h0m19 0h0m-8 7h0m11 2h0m-14-6h0m-5 14h0m29-28h0m-12 6h0m-18 8h0m2-1h0m-2 24h0m-9-27h0m7 9h0m-5-2h0m15 21h0m6-22h0m-6 21h0m-2-28h0m-6 4h0m17-7h0m-16 11h0m-4 7h0m6-2h0m9 11h0m14-26h0m-34-3h0m20 19h0m-5-6h0m17 10h0m-15-3h0m-19 6h0m40-11h0m-28 12h0m0-13h0m12-3h0m1-19h0m-66 38h0m70-12h0m-21-4h0m19-28h0m-4 8h0m43 28h0m-43 15h0m16-2h0m-37-18h0m36 1h0m-18-18h0m1 46h0" stroke="#a00828" stroke-width="7"/>
<ellipse cx="1234" cy="562" rx="11" ry="11" fill="#1ec428" opacity=".68" filter="url(#bl)" transform="rotate(0 1234 562)"/>
<path d="M1223 549h0m0-1h0m23 32h0m-7-17h0m8 9h0m-33-11h0m43-3h0m-29-2h0m21 2h0m-10 15h0m-3-11h0m-11-11h0m20-1h0m0 24h0m3-14h0m-21 3h0m20 4h0m-8-6h0m4-17h0m-19 33h0m15-8h0m-22-15h0m14 7h0m15-4h0m-10-2h0m-3 11h0m5 5h0m-15-2h0m16-14h0m22-6h0m-34 24h0m36-19h0m1 16h0m-45 7h0m17-29h0m-4 39h0m10-30h0" stroke="#1ec428" stroke-width="7"/>
<ellipse cx="1259" cy="591" rx="16" ry="16" fill="#c400c0" opacity=".68" filter="url(#bl)" transform="rotate(0 1259 591)"/>
<path d="M1270 574h0m-2 34h0m-23-30h0m4 11h0m2 2h0m-3 4h0m19 2h0m-14 5h0m-12-19h0m18 24h0m-4-8h0m26 17h0m1-35h0m-19 17h0m5 0h0m-9-6h0m-16 8h0m21-16h0m19 8h0m-31 7h0m14 1h0m-7 1h0m3 6h0m2-26h0m-17 18h0m25-26h0m-4 18h0m-4-10h0m-18 3h0m4 2h0m11 6h0m23-12h0m-29 13h0m13-14h0m-26 16h0m23 4h0m3-27h0m5 18h0m13-3h0m-53 3h0m29 5h0m1-10h0m-24 4h0m17-6h0m5 5h0m-26-7h0m15 7h0m30 3h0m-13-26h0m8 20h0m-8-7h0m-8 35h0m0-15h0m-19-26h0m27 15h0m-3-13h0m-14 38h0m48-31h0m-55 14h0m42 4h0m4-13h0m-55-45h0m49 57h0m-40 3h0m-14 18h0m59 4h0" stroke="#c400c0" stroke-width="7"/>
<ellipse cx="1393" cy="584" rx="16" ry="16" fill="#2828d8" opacity=".68" filter="url(#bl)" transform="rotate(0 1393 584)"/>
<path d="M1388 603h0m16 2h0m-32-8h0m38-15h0m-5 5h0m6-5h0m-17-11h0m25 4h0m-39-1h0m14 12h0m5 18h0m7-37h0m-10 16h0m7 4h0m7 0h0m8-14h0m-10 24h0m-24-28h0m1 21h0m29-23h0m-24 2h0m13 18h0m-9 7h0m3 9h0m-7-25h0m4 7h0m15-5h0m-22-3h0m-3-16h0m11 30h0m0-15h0m10 18h0m-8-1h0m-5-3h0m8-20h0m-13 6h0m11-23h0m-1 32h0m-6 5h0m-16-2h0m9-11h0m27 4h0m-4 4h0m-17-5h0m-15 1h0m20 22h0m8-8h0m-21-19h0m16 16h0m-18 6h0m5-10h0m-4 17h0m36 8h0m-48-24h0m85-3h0m-48 3h0m-26 42h0m56-64h0m-29 68h0m-1-47h0m14 20h0m-59-44h0m76 6h0m-44-2h0m52-16h0m-46 23h0" stroke="#2828d8" stroke-width="7"/>
<ellipse cx="1437" cy="606" rx="14" ry="14" fill="#20b4cc" opacity=".68" filter="url(#bl)" transform="rotate(0 1437 606)"/>
<path d="M1435 594h0m-6 11h0m12-18h0m-2 10h0m-2 5h0m-1 2h0m7 3h0m-23-26h0m2 29h0m-2-14h0m38 7h0m-22 7h0m9-9h0m-6-16h0m2 28h0m-22 3h0m39-37h0m-23 43h0m10-23h0m-14 3h0m14-5h0m-23 11h0m7 17h0m-3-16h0m9-19h0m-3-5h0m10 11h0m-18-7h0m29 23h0m-26-7h0m17 8h0m-6-29h0m18 21h0m-3-13h0m-7 29h0m4-28h0m-15 30h0m-6-9h0m7-24h0m12 28h0m5-6h0m8-52h0m-24 87h0m12-15h0m-17-17h0m-22 4h0m34-21h0m-7 11h0m5 16h0m20-69h0m-18 77h0m-34-31h0" stroke="#20b4cc" stroke-width="7"/>
<ellipse cx="1386" cy="614" rx="12" ry="12" fill="#0c2c9c" opacity=".68" filter="url(#bl)" transform="rotate(0 1386 614)"/>
<path d="M1411 608h0m-14 9h0m-25-5h0m-4-1h0m28 10h0m-6-12h0m3 18h0m2-3h0m-3-5h0m-14 10h0m-2-24h0m4 2h0m20 5h0m-16-1h0m3 17h0m15-18h0m2 10h0m-14 7h0m-2-9h0m1-15h0m-15 1h0m4 4h0m3 17h0m6-3h0m3-16h0m-6-7h0m-15 19h0m17-3h0m11-15h0m-12-9h0m-7 29h0m-7-19h0m13 30h0m10-19h0m6 4h0m-22-14h0m18 9h0m7-9h0m1 3h0m8 30h0m-41 29h0m23-65h0m-35 17h0m30-19h0" stroke="#0c2c9c" stroke-width="7"/>
<ellipse cx="1329" cy="650" rx="25" ry="25" fill="#8428e8" opacity=".68" filter="url(#bl)" transform="rotate(0 1329 650)"/>
<path d="M1307 641h0m1-4h0m3 22h0m-33 32h0m42-41h0m-17 22h0m23-29h0m-15 20h0m28-25h0m23-6h0m-9 22h0m-51-9h0m38-3h0m-9 7h0m7-12h0m28 20h0m-7-11h0m-26-15h0m-3 50h0m6-45h0m-18 26h0m8 30h0m8-41h0m10 33h0m-45-48h0m17-25h0m10 38h0m21 15h0m-4-1h0m-22 45h0m38-64h0m-48 17h0m39 0h0m-5 10h0m-7-39h0m-18-17h0m28 25h0m-15 53h0m-19-42h0m-1-37h0m36 35h0m-21 17h0m-2-1h0m29-28h0m-17 17h0m13 46h0m-41-18h0m22-18h0m5-16h0m-32 3h0m7 29h0m27-41h0m-17 34h0m-21-18h0m32-22h0m18 10h0m0 12h0m-34-6h0m33-17h0m-37 17h0m28 14h0m-31-36h0m18 19h0m7-26h0m-15 8h0m41-18h0m-50 30h0m-17 2h0m20-23h0m6 58h0m12 1h0m23-25h0m-32-46h0m-34 48h0m42-1h0m-19-9h0m-4 23h0m23-57h0m-13 64h0m-9-47h0m1 12h0m21 7h0m2-8h0m9 40h0m-30-23h0m24-2h0m-7 6h0m-4-22h0m-11 27h0m5-50h0m1 25h0m27 31h0m-39 4h0m28 6h0m-17-17h0m25 18h0m-40-32h0m28-3h0m-20-1h0m19 43h0m0-17h0m-11-17h0m9-2h0m-28-2h0m80 0h0m-77 45h0m35-38h0m-39-13h0m25 3h0m-15 16h0m-6 9h0m25-31h0m-30 16h0m38-36h0m26 24h0m-63 29h0m9-42h0m-7-1h0m22-3h0m11 1h0m-8-24h0m-9 43h0m23-6h0m-10 14h0m-19 4h0m23-21h0m-59 63h0m98-45h0m0 53h0m-52-37h0m31-4h0m-30-40h0m38 29h0m37 10h0m-65-72h0m-9 65h0m-1-43h0m-117-8h0m128 107h0m-54-46h0m-6 17h0m45-39h0m25-28h0m-44 69h0m-31-81h0m92 70h0m-67-63h0m39 112h0m58-92h0m-86 8h0m-51 16h0m57 33h0m-17-31h0m8-37h0m101-15h0m-79 55h0m85-3h0m-99-2h0m93 12h0m-46 73h0m-66-47h0m2 4h0m59-25h0" stroke="#8428e8" stroke-width="7"/>
<ellipse cx="1272" cy="644" rx="10" ry="10" fill="#980078" opacity=".68" filter="url(#bl)" transform="rotate(0 1272 644)"/>
<path d="M1275 647h0m-26-12h0m41 10h0m-19 4h0m9-3h0m1 4h0m-13-4h0m13-9h0m-8 1h0m-3-6h0m3 7h0m9 3h0m7 12h0m-23 8h0m8-14h0m-12-4h0m5-10h0m-4 22h0m5-12h0m-2-3h0m2 2h0m5 8h0m-1-8h0m-7 6h0m11-7h0m-36 0h0m-6 27h0m38-3h0m-4-7h0m33-1h0m-48-42h0m8 30h0" stroke="#980078" stroke-width="7"/>
<ellipse cx="1450" cy="644" rx="14" ry="14" fill="#9400a0" opacity=".68" filter="url(#bl)" transform="rotate(0 1450 644)"/>
<path d="M1437 623h0m5 19h0m-13 0h0m28-11h0m-7 11h0m1 4h0m-13 3h0m33-2h0m-38-8h0m36 2h0m-19-12h0m-18 13h0m20-6h0m0 3h0m-26 1h0m29 27h0m-22-21h0m19 2h0m-2 11h0m11-23h0m-21 7h0m-7 2h0m24-8h0m-11-1h0m4 12h0m-12 5h0m0-9h0m14-11h0m-7-1h0m15 10h0m-27 9h0m12 12h0m2-13h0m-10-9h0m10 12h0m16-9h0m-16-11h0m-5 9h0m18 21h0m-14-27h0m-21 26h0m55-4h0m6-15h0m-47 4h0m-19-10h0m14-39h0m15 58h0m30-17h0m-4-15h0m2 2h0m-32-15h0m43 22h0" stroke="#9400a0" stroke-width="7"/>
<ellipse cx="1253" cy="714" rx="8" ry="8" fill="#20d428" opacity=".68" filter="url(#bl)" transform="rotate(0 1253 714)"/>
<path d="M1261 713h0m-6 6h0m-10-2h0m6-10h0m9 6h0m2 2h0m-11-5h0m2 0h0m7 0h0m3 2h0m-10-2h0m16-10h0m-10 22h0m2 4h0m2-23h0m-9 5h0m-2 5h0m16 13h0m-15-24h0m5 13h0m-11 12h0m25-25h0" stroke="#20d428" stroke-width="7"/>
<ellipse cx="1304" cy="735" rx="21" ry="21" fill="#7cc4ff" opacity=".35" filter="url(#bl)" transform="rotate(0 1304 735)"/>
<path d="M1325 717h0m-29-8h0m13 55h0m-26-40h0m3 12h0m35-25h0m-5 56h0m-18-33h0m15-32h0m-25 41h0m15 4h0m-16-15h0m3-16h0m24 47h0m-26-22h0m26 16h0m-22-48h0m19 13h0m-29 7h0m21 9h0m-3-38h0m-33 42h0m59 1h0m-41 8h0m2 6h0m21-8h0m-19-4h0m-20 11h0m14-22h0m36 17h0m-13-41h0m20 20h0m-45 31h0m68-31h0m-26 23h0m-11-6h0m-2-45h0m-18 26h0m-2 9h0m13 10h0m39-23h0m-25 42h0m-13-89h0m-1 104h0m24-97h0m-11 47h0m-29 36h0m-74 23h0m159-68h0m-102-39h0m49 32h0m-88-54h0m93 109h0m-68 19h0" stroke="#7cc4ff" stroke-width="7"/>
<ellipse cx="1405" cy="728" rx="32" ry="32" fill="#38f0dc" opacity=".44" filter="url(#bl)" transform="rotate(0 1405 728)"/>
<path d="M1392 732h0m-12 22h0m20-27h0m14-18h0m27 27h0m-52-38h0m21 33h0m-9-32h0m37 32h0m-7 12h0m-30-32h0m-29 40h0m28 12h0m43-21h0m-35 13h0m42-28h0m-26 43h0m-42-24h0m21-2h0m28-18h0m-13 46h0m9-28h0m-16-11h0m24-8h0m-37-8h0m2 18h0m8-9h0m58-22h0m-53 44h0m-5-14h0m-33-1h0m53-24h0m-10 43h0m-9-18h0m-40 26h0m97 2h0m-16-102h0m-62 56h0m20-2h0m-50 8h0m6-4h0m64 56h0m-9-27h0m-60-50h0m62 45h0m-12-33h0m-16 29h0m58-12h0m-104 59h0m76-71h0m19 33h0m-49-34h0m34 17h0m14-17h0m-54-19h0m12 86h0m-50-42h0m27-34h0m80-27h0m-64-8h0m-5 71h0m17 13h0m20-38h0m-18 24h0m-11-69h0m-2 65h0m17-56h0m-28 65h0m2 7h0m-9-72h0m-2 106h0m12-75h0m31 3h0m-64-1h0m79-27h0m-61 37h0m40-12h0m40 8h0m-78 13h0m38-4h0m-12 53h0m45-40h0m-43 7h0m26-12h0m-45 21h0m38-59h0m5 57h0m-1-34h0m-23-9h0m-4 47h0m26-57h0m-4 58h0m27-17h0m-60-22h0m4-9h0m-17 19h0m39-17h0m43 4h0m-27 63h0m-27-3h0m17 1h0m10-74h0m-39-14h0m3 21h0m22-37h0m-56 43h0m31 33h0m8-42h0m21-24h0m-4 69h0m15-45h0m23 31h0m-33 15h0m23-50h0m-35 20h0m0 17h0m17-15h0m4 36h0m-13-73h0m-121 16h0m101 14h0m15 4h0m69 3h0m-100-27h0m61-10h0m-50 31h0m-32-85h0m-26 28h0m12 36h0m80-1h0m-94 92h0m69-182h0m-3 39h0m-15 52h0m41-70h0m-9 152h0m-87-16h0m106-24h0m58-56h0m-111 61h0m59-17h0m-13-15h0m2-13h0m-7-10h0m-40-53h0m-13 86h0m-1 5h0m101-12h0m-103-10h0m-65 68h0m186-113h0m80 12h0m-113 59h0m43 52h0" stroke="#38f0dc" stroke-width="7"/>
<ellipse cx="1488" cy="720" rx="32" ry="32" fill="#5cf0f4" opacity=".44" filter="url(#bl)" transform="rotate(0 1488 720)"/>
<path d="M1516 756h0m-22-19h0m-30 32h0m24-32h0m4-35h0m-29 5h0m17-15h0m10 42h0m8-29h0m-10 49h0m23-41h0m-33 29h0m-44-6h0m26-30h0m19 36h0m-34-8h0m82-40h0m-26 85h0m-20-37h0m-4-19h0m-50-8h0m110 51h0m-65-35h0m5-13h0m-10 40h0m9 2h0m4 2h0m2-74h0m-11 37h0m42 14h0m-52 22h0m36-33h0m-25 20h0m14-63h0m2 46h0m-6-21h0m14-24h0m15 19h0m-58 25h0m74 21h0m-71-52h0m51 30h0m-5 10h0m-57 21h0m11-33h0m9 6h0m58 4h0m-52-15h0m18-6h0m23-16h0m-8-5h0m4 47h0m-13 10h0m32-29h0m-30-34h0m-31 63h0m-30 10h0m75-57h0m-16-2h0m27 1h0m3 17h0m-63 25h0m44-10h0m13-28h0m-69 11h0m49 11h0m-30 4h0m-12-7h0m50 4h0m-2-49h0m-22 33h0m-1-4h0m11 29h0m19-21h0m-28 12h0m-35 12h0m25 0h0m26-12h0m25 20h0m-20-53h0m-39 12h0m16-6h0m-17 50h0m-23 35h0m46-68h0m-50 4h0m62 20h0m-61-43h0m90 22h0m-6 16h0m-1-33h0m-13 17h0m-74 6h0m36-1h0m17-50h0m35 38h0m-29-48h0m-3 58h0m13-38h0m18-4h0m-19 50h0m4-40h0m-6-28h0m7 56h0m-3 6h0m-60 28h0m49-7h0m-62-1h0m45-52h0m28 34h0m40 45h0m-61-40h0m19-12h0m-39-20h0m-11-3h0m48 52h0m-72-69h0m44 46h0m21 30h0m10-83h0m42-69h0m-76 129h0m56-35h0m17 16h0m-114 3h0m105 23h0m8 10h0m3 16h0m-176-79h0m151-39h0m-16 16h0m13-18h0m25-27h0m-110-6h0m183 115h0m-191-6h0m69 42h0m-53-65h0m98 20h0m42 143h0m-18-98h0m-57-252h0m-25 117h0m-77 9h0m121 25h0m34 38h0m-108 40h0m-11-73h0m26 106h0m-73-3h0m112-39h0m-84-17h0m127 13h0m-34 15h0" stroke="#5cf0f4" stroke-width="7"/>
<ellipse cx="1317" cy="790" rx="20" ry="20" fill="#2494f4" opacity=".68" filter="url(#bl)" transform="rotate(0 1317 790)"/>
<path d="M1318 787h0m4 22h0m7-44h0m-31 24h0m26-17h0m-3 2h0m22 42h0m-21-5h0m-13-37h0m4 21h0m-2-2h0m-11-7h0m31 11h0m-26-2h0m25-8h0m-9 6h0m12 4h0m1-3h0m-6-9h0m-17-14h0m14 35h0m9-14h0m-11 3h0m-21 0h0m19 4h0m-12 32h0m22-44h0m4 7h0m-9-11h0m8 7h0m-18 7h0m-3 13h0m0-4h0m1-34h0m9 22h0m0-11h0m-25 23h0m38-18h0m-19-20h0m6 5h0m-2 37h0m-11-26h0m-8-3h0m1 22h0m4-1h0m24-13h0m-15 2h0m-7 28h0m-16-29h0m45-12h0m10 3h0m-25 31h0m17-18h0m-2-18h0m-5 1h0m-14 2h0m-3 18h0m20 14h0m3-4h0m-25 14h0m8-31h0m-26-10h0m18 11h0m-22 0h0m16-2h0m6 1h0m10 14h0m-22-12h0m13 36h0m10-32h0m-8-20h0m20-9h0m-43 23h0m4 19h0m41-22h0m-46 30h0m51-25h0m-16-5h0m-16-2h0m-25 29h0m49-12h0m-8 5h0m3 69h0m-46-112h0m49-21h0m14 43h0m-105-10h0m45 87h0m1-46h0m14-16h0m-18 33h0m58-80h0m17 53h0m-71-56h0m27 52h0m-25-17h0m57-56h0m23 84h0m-89-12h0m-32 7h0m136 27h0m-37-64h0m30 9h0m-79-30h0" stroke="#2494f4" stroke-width="7"/>
<ellipse cx="1418" cy="817" rx="16" ry="16" fill="#2430e4" opacity=".68" filter="url(#bl)" transform="rotate(0 1418 817)"/>
<path d="M1415 801h0m6 7h0m-11 14h0m28-5h0m-27-6h0m15-13h0m-6 2h0m-8 35h0m6-2h0m6-30h0m10-4h0m-28 21h0m10 11h0m23-2h0m-20-7h0m7 4h0m-16 7h0m4-8h0m-10-5h0m2-4h0m-22-9h0m22 26h0m-6-7h0m0 5h0m39-15h0m-21-3h0m-7-14h0m19 36h0m1-43h0m-19 29h0m7-2h0m-36-2h0m25 11h0m25 5h0m-21-8h0m14-26h0m-25 9h0m31 24h0m-29-23h0m9 21h0m18-5h0m-28-5h0m-1-2h0m-23-14h0m51 29h0m-11-38h0m5 31h0m-9-26h0m-6 38h0m1-17h0m1-2h0m7-73h0m-5 36h0m61 73h0m-19-75h0m-37 26h0m-11 40h0m-3-40h0m39-10h0m-32-35h0m8 74h0m-12-25h0m20 9h0m3-53h0m-33 72h0m1-31h0" stroke="#2430e4" stroke-width="7"/>
<ellipse cx="1475" cy="817" rx="11" ry="11" fill="#f09420" opacity=".68" filter="url(#bl)" transform="rotate(0 1475 817)"/>
<path d="M1471 825h0m4 7h0m-4-16h0m17 10h0m-31-7h0m16-14h0m2 25h0m-14-10h0m14 25h0m26-36h0m-30 12h0m-10 1h0m14-6h0m5 25h0m-8-25h0m-11-6h0m19 5h0m-5-2h0m-7-5h0m13 10h0m-18 6h0m20-7h0m-10 14h0m-9-10h0m21-16h0m-17 16h0m3-16h0m-1 3h0m5 2h0m8-12h0m-13 22h0m18-26h0m-24 10h0m35 23h0m-36-11h0m15-4h0m25-30h0" stroke="#f09420" stroke-width="7"/>
<path d="M1540 829h0m-17-27h0m-39 16h0m52-1h0m-5-8h0m-5 3h0m-21-23h0m-3 27h0m18-2h0m-7 4h0m4-4h0m-13-3h0m4-16h0m5-7h0m-8-5h0m-9 42h0m43-11h0" stroke="#f0a040" stroke-width="7"/>
<ellipse cx="1634" cy="733" rx="41" ry="32" fill="#8ce020" opacity=".53" filter="url(#bl)" transform="rotate(0 1634 733)"/>
<path d="M1621 676h0m2 70h0m9-29h0m23 0h0m-12 9h0m-23 53h0m60-26h0m-78 1h0m43-3h0m26-46h0m-27 35h0m7 4h0m-25 20h0m-20 26h0m62-42h0m-73-47h0m-5 38h0m60 12h0m-11-22h0m-74-11h0m88 8h0m17 7h0m5 35h0m-132-50h0m135 50h0m-47-28h0m33 31h0m15-59h0m-63-1h0m8 46h0m26-17h0m-13 50h0m19-68h0m-4 7h0m-26-6h0m-74-23h0m78-5h0m-28-3h0m-35 43h0m59-42h0m13 86h0m6-48h0m-57 16h0m67-57h0m-35 70h0m12-95h0m7 72h0m1-9h0m21 18h0m45-9h0m-59-2h0m-45-1h0m32-52h0m76 59h0m-47 3h0m-28 5h0m50 7h0m-64-1h0m38-38h0m-14 28h0m-18-5h0m-9-28h0m2-4h0m108 55h0m-94-64h0m30 63h0m-79-37h0m94 22h0m11-28h0m-67 0h0m-22-14h0m35 84h0m-4-46h0m-67 0h0m62-29h0m-47 52h0m87-43h0m-58 12h0m-6-50h0m0 89h0m-18-40h0m43-37h0m45 96h0m-18-54h0m16 19h0m-122-6h0m92-9h0m21-8h0m-16-24h0m-38 20h0m16 43h0m51-40h0m-15-9h0m-72 11h0m41 14h0m7-18h0m3 31h0m4-27h0m31-36h0m-119 23h0m103-27h0m-58 68h0m18-11h0m17-19h0m15-43h0m3 20h0m-32-11h0m9 61h0m50 3h0m-48-38h0m-12-31h0m101 64h0m-49-27h0m-40 3h0m7-43h0m-2 51h0m-50 17h0m29 5h0m10-47h0m-8 9h0m28-21h0m16 11h0m-56 33h0m-24 0h0m51-12h0m-10-16h0m28 31h0m-40-16h0m47-15h0m-1 1h0m39 15h0m-68-1h0m-35-34h0m2 53h0m65-23h0m-95-52h0m53 100h0m56-26h0m-92-30h0m2 3h0m101 37h0m-99-39h0m51-23h0m31 0h0m-34 42h0m-10-66h0m-4 74h0m-21-76h0m26 50h0m-28 7h0m51 35h0m-44-46h0m18 2h0m38-4h0m-60 58h0m-50-83h0m97-4h0m36 33h0m-11 21h0m-77-9h0m130-13h0m-102-38h0m46 48h0m-58 3h0m30-6h0m46-64h0m-57 72h0m-9-1h0m51-14h0m-18 47h0m-60-41h0m60 69h0m28-103h0m-13-17h0m-29 99h0m-23-34h0m9-40h0m8 61h0m-34-12h0m39-63h0m-11 67h0m18 39h0m11-65h0m-49 25h0m61 1h0m-47-38h0m0 52h0m28-42h0m-40-119h0m12-69h0m11 233h0m76-54h0m-108-57h0m20 64h0m40 17h0m-9-29h0m-43 42h0m-42-93h0m103-28h0m-31 57h0m-177 93h0m54-6h0m61-62h0m79 5h0m-95-72h0m85 63h0m-57-16h0m34 19h0m-68 30h0m72 37h0m0-132h0m-50 126h0m-9-104h0m-2-73h0m106 128h0m-127 14h0m128 25h0m-8 22h0m-45-35h0m-20-121h0m40 136h0m-54 54h0m129-25h0m-30-81h0m-39 98h0m14-117h0m42 58h0m-97-5h0m38-40h0m-38-20h0m81 81h0m-103-4h0m-1-88h0m35 91h0m-92-109h0m139 31h0m-58-12h0m12 34h0m23-47h0m-8-65h0m93 216h0m-44-99h0m-126-92h0m177 129h0" stroke="#8ce020" stroke-width="7"/>
<ellipse cx="1583" cy="701" rx="21" ry="21" fill="#a4f024" opacity=".56" filter="url(#bl)" transform="rotate(0 1583 701)"/>
<path d="M1577 720h0m14-3h0m3-24h0m-18 14h0m0 3h0m-3 5h0m-13-17h0m21 2h0m-51 6h0m70-23h0m-22 5h0m18 16h0m3-9h0m-30 8h0m36 2h0m6 12h0m-35-19h0m9 9h0m6 7h0m-20-1h0m51 2h0m-83 17h0m55-7h0m1-36h0m-12-1h0m-2 4h0m25-22h0m-25 44h0m-1-27h0m-10 5h0m35 0h0m-7-5h0m-42 1h0m44-9h0m-38 32h0m21-21h0m18 28h0m-19 11h0m27-25h0m-22-1h0m4 12h0m9 3h0m-1-34h0m-4 52h0m6-37h0m5-2h0m-18 5h0m20 39h0m-12-6h0m-17-72h0m-3 29h0m8 6h0m-9 17h0m12-31h0m2 25h0m1 8h0m-7-15h0m23-4h0m-24 27h0m11-23h0m2 5h0m-44-23h0m25 16h0m-7-37h0m9 29h0m-14-2h0m11 0h0m-9 6h0m17-4h0m-9-28h0m-2 44h0m11 9h0m-32-46h0m51 67h0m-15-11h0m-40 17h0m11-33h0m49-5h0m-65-35h0m46 62h0m-12-46h0m-26-13h0m24 74h0m37-16h0m-43-13h0m-54 22h0m93-76h0m-4-18h0m-45 57h0m17 34h0m46-6h0m-92-29h0m133 15h0" stroke="#a4f024" stroke-width="7"/>
<ellipse cx="1583" cy="777" rx="17" ry="17" fill="#80d420" opacity=".44" filter="url(#bl)" transform="rotate(0 1583 777)"/>
<path d="M1574 763h0m3 35h0m15 11h0m-2-16h0m-16 20h0m11-17h0m25-4h0m-7-23h0m-10 15h0m0 4h0m-6-14h0m7 11h0m-20-7h0m-14 7h0m10-4h0m10-24h0m-21 30h0m25-31h0m-8 19h0m6-20h0m-12 11h0m-7 6h0m20 21h0m26-30h0m-26 13h0m-4 3h0m20-13h0m-16-6h0m12 30h0m-8-21h0m-3 2h0m-2 22h0m14-11h0m-29-6h0m36-12h0m-19 43h0m-48-51h0m72 39h0m-44 12h0m28-36h0m-13 21h0m6-48h0m-39 29h0m50 41h0m-54-71h0m48 68h0" stroke="#80d420" stroke-width="7"/>
<ellipse cx="1640" cy="593" rx="16" ry="16" fill="#f0b000" opacity=".68" filter="url(#bl)" transform="rotate(0 1640 593)"/>
<path d="M1636 594h0m7-8h0m-4-2h0m4-21h0m6 35h0m-9-14h0m1 23h0m-8-37h0m2 18h0m2 6h0m-8-17h0m13 20h0m-12-23h0m13 19h0m14-13h0m-15 18h0m1-7h0m-13 7h0m4-7h0m-13-3h0m16 9h0m-5-10h0m18 2h0m-3 18h0m-10-10h0m-5-9h0m15 3h0m5 13h0m-12-40h0m-8 3h0m-13 28h0m9 7h0m13-12h0m-4-10h0m4-1h0m19 18h0m-2-1h0m-5-13h0m-28 24h0m23 13h0m20-22h0m-1 2h0m-40 1h0m7 12h0m14-21h0m-14 0h0m7-3h0m-5 13h0m4-17h0m18-6h0m8 37h0m6-54h0m-35 9h0m5 47h0m48-27h0m-40 21h0m-26-45h0m16 41h0m0 10h0m-1-1h0m-34-55h0m14 20h0m27 21h0m13-10h0m-36-18h0m51 42h0" stroke="#f0b000" stroke-width="7"/>
<ellipse cx="1697" cy="576" rx="8" ry="8" fill="#c42020" opacity=".68" filter="url(#bl)" transform="rotate(0 1697 576)"/>
<path d="M1696 575h0m-7-11h0m4 18h0m15-9h0m-5-3h0m-4 0h0m2 11h0m-3 0h0m2-6h0m-2-5h0m-18 20h0m10-19h0m9 3h0m-3 5h0m8-11h0m-1 1h0m2 10h0m13-32h0m-17 26h0m11-6h0m-18 4h0m27 2h0" stroke="#c42020" stroke-width="7"/>
<ellipse cx="1742" cy="695" rx="10" ry="10" fill="#f05010" opacity=".68" filter="url(#bl)" transform="rotate(0 1742 695)"/>
<path d="M1727 689h0m10 12h0m4-1h0m1-16h0m-8-1h0m-1 16h0m3-4h0m18-8h0m-13 14h0m5-11h0m-9 8h0m1-2h0m3 3h0m-7-12h0m6 26h0m22-22h0m-22 19h0m2-19h0m-14 15h0m12-13h0m11 7h0m4-13h0m-6 7h0m-4 16h0m-21-8h0m11-21h0m12 13h0m35-10h0m-47 5h0m9 12h0m-8-6h0m16-19h0" stroke="#f05010" stroke-width="7"/>
<path d="M1739 706h0m-44 20h0m39-4h0m-22-12h0m37-22h0m-25 62h0m-4-43h0m1 8h0m34 7h0m-61 15h0m61 22h0m-65-12h0m47-39h0m-6 35h0m-73-34h0m52 17h0m29-51h0m28 23h0m-52 45h0m8 20h0m16-59h0m-21 13h0m36 12h0m-35 14h0m48 25h0m-28-91h0m-22 54h0m41 30h0m-51-38h0" stroke="#f07030" stroke-width="7"/>
<path d="M1759 603h0m-24 57h0m-8-26h0m5 20h0m-28-23h0m20-19h0m4-19h0m-6 37h0m-4 13h0m9-16h0m-4-2h0m4 0h0m-16 24h0m22-33h0m-4 68h0m-10-68h0m5-1h0m-29 22h0" stroke="#f08040" stroke-width="7"/>
<path d="M1557 687h0m29-51h0m-62-74h0m22 37h0m11 9h0m-16 55h0m99 12h0m-95-42h0m38 42h0m-4-68h0m-29 50h0m57 28h0m7-40h0m-19-56h0m-6 51h0m33-7h0m-93-62h0m84 94h0m-66 2h0m46-40h0m-26-8h0m32 19h0m3 31h0m-51-45h0m44 29h0m-2-58h0m-2 12h0m-8 3h0" stroke="#c4e488" stroke-width="7"/>
<ellipse cx="1380" cy="879" rx="5" ry="5" fill="#202020" opacity=".38" filter="url(#bl)" transform="rotate(0 1380 879)"/>
<path d="M1385 879h0m1-5h0m-9 3h0m4 7h0m4-9h0m-7 1h0m-3 17h0" stroke="#202020" stroke-width="7"/>
<ellipse cx="1480" cy="532" rx="25" ry="15" fill="#f0102c" opacity=".8" filter="url(#bl)" transform="rotate(-35 1480 532)"/>
<path d="M1488 533h0m-48 18h0m50-25h0m-26 12h0m13-21h0m-2 18h0m5 9h0m-10-2h0m44-30h0m-48 35h0m18-11h0m11 13h0m-1-43h0m5-8h0m-35 43h0m48-9h0m-44 23h0m23-15h0m8-17h0m1 7h0m4-17h0m-24 27h0m27-13h0m32-32h0m-51 54h0m10-5h0m-38-28h0m15 3h0m5 1h0m8 11h0m10 0h0m-48 32h0m25-59h0m10 30h0m-23 7h0m-14-7h0m18-12h0m45-5h0m6 0h0m-36 28h0m-21 25h0m23-15h0m5-27h0m-14 9h0m20-5h0m16-21h0m8-4h0m-39 27h0m-15 1h0m-36 11h0m67-14h0m-42 17h0m53-6h0m-26-7h0m16-15h0m6 13h0m-26-11h0m9 27h0m-19-25h0m-9 2h0m58 12h0m-40-20h0m21 9h0m-38 8h0m42 8h0m21-30h0m-24 40h0m-27-18h0m20 2h0m9-13h0m-26 13h0m3 17h0m3-45h0m19 16h0m-19 19h0m22-29h0m-32 16h0m2 31h0m-16-37h0m20 9h0m14-10h0m2 15h0m-33-6h0m-3 17h0m38-22h0m-12 27h0m-12-15h0m2-14h0m9-2h0m31-10h0m1 18h0m-50 4h0m91-26h0m-19-8h0m-58 83h0m54-62h0m-56 20h0m33-27h0m-36 20h0m33-5h0m-122 17h0m136 3h0m-11-16h0m24 17h0m-138 20h0m75-45h0m41-26h0m-32-68h0m-54 150h0m53-63h0m-65 7h0m70-4h0m-42 29h0m52-34h0m-10 54h0m-31-27h0m80 16h0m-27-60h0m-63 37h0" stroke="#f0102c" stroke-width="7"/>
<ellipse cx="1541" cy="568" rx="20" ry="20" fill="#f8b400" opacity=".8" filter="url(#bl)" transform="rotate(0 1541 568)"/>
<path d="M1555 610h0m-44-91h0m47 41h0m-24-13h0m13 21h0m-37-3h0m28 6h0m-13 11h0m26-16h0m-8 16h0m5 2h0m5-30h0m-20 52h0m-1-35h0m11-12h0m-4 5h0m-23-5h0m24 24h0m-2-41h0m6 10h0m16 9h0m-25 12h0m6-22h0m6-20h0m-11 52h0m-1-48h0m21 26h0m-14 30h0m12-52h0m-13 46h0m-11-20h0m30 12h0m-19 12h0m-7-3h0m14-21h0m-7 7h0m-20-27h0m46-13h0m-23 44h0m-19-28h0m33 3h0m-9 33h0m-33-24h0m47-21h0m0 19h0m-31-3h0m5-1h0m15 6h0m-25 6h0m-9-1h0m23 21h0m-22-26h0m1-6h0m35 25h0m-45-10h0m25-9h0m6 17h0m5 3h0m-12-26h0m22 2h0m-7-10h0m5 14h0m-27 37h0m4-42h0m16 3h0m1 31h0m-1-36h0m16 16h0m-4-14h0m-3 15h0m-1-2h0m-17-8h0m-8-6h0m62 30h0m-46 3h0m-6 6h0m3-17h0m28-44h0m-20 69h0m28-16h0m-30-10h0m-10-27h0m-24 28h0m55-14h0m-21 36h0m19-36h0m-64-33h0m5 56h0m37-43h0m-18 30h0m21-16h0m1 20h0m-9-12h0m22 16h0m-27-10h0m19 10h0m-7-24h0m-4 11h0m26-6h0m-64 27h0m13-3h0m-17-8h0m8-22h0m51 56h0m-3-39h0m-38 33h0m96 4h0m-83-79h0m-20 25h0m102 24h0m-148-14h0m57 19h0m-34-99h0m75 121h0m21-25h0m-75-1h0m64-33h0m-87 50h0m72-38h0m41 85h0m-77-132h0m102 44h0m-104 0h0m8-20h0" stroke="#f8b400" stroke-width="7"/>
<ellipse cx="1611" cy="591" rx="18" ry="22" fill="#f8b400" opacity=".8" filter="url(#bl)" transform="rotate(0 1611 591)"/>
<path d="M1602 576h0m-8 20h0m16-23h0m1 15h0m18 16h0m-25 23h0m-14-25h0m20 16h0m-8-44h0m12 6h0m-14 12h0m-2-46h0m19 26h0m5 20h0m-4 9h0m18-18h0m-31 7h0m9 25h0m2-51h0m-31 5h0m21 23h0m2 11h0m24-33h0m-27 9h0m11 3h0m6-2h0m-13 29h0m13-42h0m-8 22h0m12 0h0m9-5h0m-40 7h0m38-24h0m-48 51h0m48-28h0m-14 15h0m-9-13h0m-9-8h0m21-1h0m33 24h0m-34-37h0m-25 26h0m4-7h0m18-3h0m-10 3h0m13-4h0m-2 35h0m3-19h0m1-5h0m10 15h0m-18-3h0m0-22h0m-5 2h0m8-4h0m0-6h0m-13-13h0m-1 33h0m-12-6h0m24 2h0m-3-8h0m2 16h0m-3-13h0m-3-4h0m9 23h0m-19-30h0m14 40h0m-47-23h0m50 15h0m-5-54h0m-9 64h0m9-17h0m-19-57h0m22 41h0m-24 17h0m25-44h0m3 32h0m-17-2h0m-4-18h0m12 21h0m-12 12h0m6-14h0m0-19h0m-4 4h0m12 49h0m-5-32h0m3 30h0m-18-19h0m24 6h0m-17-6h0m6-45h0m4 33h0m29-24h0m-24-12h0m62 31h0m-35-11h0m-44 1h0m23 51h0m-13-20h0m68-14h0m-39 15h0m2 2h0m-29-46h0m-6 26h0m74-56h0m-85 46h0m-12 21h0m46-8h0m27 28h0m-21-57h0m-27 38h0m-39-10h0m41 71h0m28-80h0m14-23h0m-64 49h0m24-13h0m-19-24h0m3-18h0m-24 38h0" stroke="#f8b400" stroke-width="7"/>
</g>
</g>
<g font-size="3.4" font-weight="bold" fill="#111" text-anchor="middle">
<text x="139.32" y="46.98">6</text>
<text x="147.57" y="47.99">13</text>
<text x="137.42" y="52.43">21</text>
<text x="132.98" y="56.24">1</text>
<text x="146.3" y="55.61">24</text>
<text x="122.57" y="57.51">12</text>
<text x="127.65" y="58.15">14</text>
<text x="125.36" y="61.32">23</text>
<text x="139.32" y="59.41">22</text>
<text x="143.76" y="61.95">17</text>
<text x="138.69" y="62.97">19</text>
<text x="127.65" y="66.01">25</text>
<text x="134.25" y="66.4">27</text>
<text x="145.41" y="65.76">28</text>
<text x="125.36" y="72.74">11</text>
<text x="140.59" y="74.9">15</text>
<text x="148.84" y="73.76">16</text>
<text x="131.71" y="80.36">18</text>
<text x="141.86" y="83.02">20</text>
<text x="147.57" y="83.28">4</text>
<text x="163.44" y="75.28">8</text>
<text x="158.36" y="70.84">9</text>
<text x="157.35" y="79.72">7</text>
<text x="164.07" y="60.68">5</text>
<text x="165.34" y="56.88">26</text>
<text x="169.78" y="58.91">2</text>
<text x="174.23" y="71.22">3</text>
<text x="157.09" y="64.75">10</text>
<text x="138.05" y="89.24">29</text>
</g>
<text x="149.55" y="34.8" font-size="5.3" text-anchor="middle" textLength="57.5" lengthAdjust="spacingAndGlyphs">Phenograph scattar plot</text>
<path d="M119.3 49h-1.9" stroke="#222" stroke-width=".6"/>
<text x="116.4" y="50.95" font-size="5.5" text-anchor="end">20</text>
<path d="M119.3 63h-1.9" stroke="#222" stroke-width=".6"/>
<text x="116.4" y="64.95" font-size="5.5" text-anchor="end">0</text>
<path d="M119.3 77h-1.9" stroke="#222" stroke-width=".6"/>
<text x="116.4" y="78.95" font-size="5.5" text-anchor="end">-20</text>
<path d="M133 89.8v1.9" stroke="#222" stroke-width=".6"/>
<text x="132.2" y="98.1" font-size="5.5" text-anchor="middle">-20</text>
<path d="M149 89.8v1.9" stroke="#222" stroke-width=".6"/>
<text x="149" y="98.1" font-size="5.5" text-anchor="middle">0</text>
<path d="M164.5 89.8v1.9" stroke="#222" stroke-width=".6"/>
<text x="164.5" y="98.1" font-size="5.5" text-anchor="middle">20</text>
<text x="149.55" y="104.1" font-size="5.6" text-anchor="middle" textLength="14.6" lengthAdjust="spacingAndGlyphs">tsne_1</text>
<text font-size="5.6" text-anchor="middle" textLength="14.6" lengthAdjust="spacingAndGlyphs" stroke="#111" stroke-width=".12" transform="translate(108.4 63) rotate(-90)">tsne_2</text>
<rect x="39.9" y="115.8" width="61.2" height="52" fill="#fff" stroke="#333" stroke-width=".7"/>
<path d="M54.5 115.8V167.8M70.8 115.8V167.8M86.8 115.8V167.8M39.9 128H101.1M39.9 141.8H101.1M39.9 156.2H101.1" stroke="#ebebeb" stroke-width=".5" fill="none"/>
<clipPath id="c3"><rect x="40.3" y="116.2" width="60.4" height="51.2"/></clipPath>
<g clip-path="url(#c3)" stroke-linecap="round" fill="none">
<g transform="scale(.1)">
<ellipse cx="589" cy="1234" rx="22" ry="22" fill="#f2ee1c" opacity=".68" filter="url(#bl)" transform="rotate(0 589 1234)"/>
<path d="M591 1256h0m-18-4h0m12-22h0m38 7h0m-34 10h0m20-13h0m-9-17h0m-17 9h0m-17-19h0m-6 23h0m26-1h0m5-19h0m-3 28h0m15-19h0m-21-21h0m-2-3h0m-16 59h0m-14-6h0m45-19h0m3 15h0m10-14h0m-29-7h0m-7 10h0m3 20h0m-19-38h0m16-18h0m51-6h0m-39 34h0m35-26h0m-11 22h0m-21 1h0m14-8h0m-13 27h0m34-50h0m-5 60h0m-36-11h0m0 24h0m12-34h0m-8 1h0m1-12h0m40-19h0m-101 32h0m62 9h0m-1-9h0m9 19h0m-14-23h0m43 16h0m-52 32h0m31-52h0m-34 16h0m6-25h0m-9 10h0m43 2h0m-45 19h0m27 3h0m20-18h0m-24 2h0m-18 13h0m45-9h0m-29-7h0m-9-10h0m6-1h0m0-13h0m14 29h0m-27-42h0m20 61h0m-13-28h0m3 20h0m-6 6h0m11-1h0m6-21h0m-27-8h0m22 24h0m9-24h0m3 30h0m-10-26h0m-5 23h0m17-31h0m-3 8h0m-20 30h0m28-35h0m-13 22h0m-13-11h0m23-30h0m-6 45h0m3-37h0m-3 9h0m5 26h0m-7-24h0m-14 28h0m-6-6h0m26-14h0m33 6h0m-4-37h0m-78 54h0m51-23h0m-13-29h0m-23-5h0m16 73h0m10-20h0m-28-30h0m31 5h0m44-22h0m24-4h0m-32 8h0m23 34h0m-48 24h0m-40-69h0m-53 87h0m51-69h0m25 98h0m-65-66h0m51 11h0m-54-36h0m102 75h0m29-93h0m-59 29h0m-55-51h0m81 65h0m-34 37h0m-33-27h0m39-22h0m18 9h0m-8 3h0m64-22h0m-36 36h0" stroke="#f2ee1c" stroke-width="7"/>
<ellipse cx="690" cy="1227" rx="34" ry="34" fill="#2ee048" opacity=".5" filter="url(#bl)" transform="rotate(0 690 1227)"/>
<path d="M681 1249h0m-13 10h0m1-44h0m31 35h0m16 2h0m-31-50h0m21 34h0m-41 18h0m31-52h0m7-10h0m-36 47h0m-18-10h0m5 19h0m17-15h0m-21-14h0m67 21h0m-76 13h0m74-35h0m14-19h0m-40 59h0m37 5h0m-65-83h0m41 9h0m-15 4h0m33 57h0m-14-22h0m-14-8h0m9 15h0m2-19h0m39 20h0m-13 28h0m-62-82h0m58 35h0m-32 4h0m1-25h0m-6 19h0m3-50h0m22 72h0m-69-29h0m48 37h0m-1 20h0m1-64h0m-19 47h0m1 3h0m45-7h0m0-21h0m-28-11h0m-17-27h0m2 14h0m-24 33h0m51-13h0m25 34h0m-9-41h0m-68 31h0m48 5h0m3 14h0m-19-16h0m-16-81h0m12 103h0m-33-13h0m27-38h0m19 17h0m-27-3h0m38 19h0m-32 20h0m72 23h0m-88-60h0m-14 5h0m65-41h0m-58 36h0m60-27h0m-24-47h0m-12 73h0m23 39h0m-35-104h0m43 45h0m-4 35h0m8 20h0m21-84h0m-39 99h0m-9-28h0m9-38h0m45 40h0m-50-4h0m-29-44h0m60 21h0m-53 11h0m38 23h0m17-43h0m-39 4h0m7 43h0m49-2h0m-33-44h0m14-3h0m-18-35h0m-18 84h0m-16-80h0m24 86h0m43-55h0m-52 7h0m-12 4h0m17-41h0m-8 33h0m-7-23h0m47 81h0m-32-63h0m22 6h0m-35 44h0m-7-58h0m10-4h0m12 39h0m45 3h0m-38-52h0m-3 8h0m-1 52h0m8-32h0m-25 5h0m23-24h0m-17 49h0m-31-36h0m13 54h0m48-28h0m-5-6h0m-3-51h0m-1 59h0m-46 6h0m57-63h0m-31 33h0m-1 18h0m-21-16h0m41 26h0m-5-27h0m18-47h0m6 46h0m-59-4h0m-16-44h0m41 35h0m29-3h0m-55-2h0m81 27h0m-63-28h0m-13 22h0m42 36h0m19-24h0m-49-30h0m-45-5h0m74 19h0m-1-28h0m14 45h0m-23 3h0m-62-26h0m37 64h0m19-63h0m28-15h0m15 10h0m-40-6h0m49-102h0m-7 79h0m-37-19h0m10 78h0m21 7h0m2 40h0m-59-127h0m-52 109h0m53 21h0m25-120h0m50 172h0m-64-168h0m-38 107h0m15-76h0m74 25h0m-33-33h0m-44 41h0m46 25h0m-38-14h0m57-15h0m5 54h0m-21-55h0m-69 15h0m51-37h0m-42 51h0m197-8h0m-144 0h0m-40-20h0m-4-43h0m53 51h0m-21-59h0m22-18h0m30 44h0m-45 66h0m32-122h0m-47 97h0m-49-162h0m60 138h0m29 8h0m-17 9h0m72 14h0m-48-51h0m34 12h0m-23-112h0m-29 117h0m-41 81h0" stroke="#2ee048" stroke-width="7"/>
<ellipse cx="843" cy="1291" rx="41" ry="30" fill="#b424e4" opacity=".62" filter="url(#bl)" transform="rotate(0 843 1291)"/>
<path d="M856 1288h0m-30 49h0m41-30h0m-48 16h0m42-38h0m-21-33h0m24 13h0m6 16h0m-47 19h0m27-36h0m-9 42h0m-6-47h0m0 9h0m-10 24h0m17-6h0m-52 14h0m47-18h0m11 56h0m-46-85h0m66 19h0m17-4h0m-57 43h0m44-9h0m-14-14h0m-29-2h0m55 22h0m-40-9h0m26 21h0m-31-31h0m15 65h0m-3-32h0m-57-10h0m4-47h0m25 23h0m26 12h0m1-19h0m76 20h0m-61 39h0m9-35h0m-20 31h0m-45-68h0m39-25h0m-30 75h0m11-23h0m36-32h0m-13 13h0m-44 9h0m33-3h0m-19 32h0m58-9h0m-40-39h0m-23-1h0m33 48h0m22-22h0m-41 5h0m16 10h0m43-31h0m20-34h0m-123 14h0m24 31h0m98-11h0m-31 8h0m-30-16h0m68 23h0m-92 56h0m25-45h0m-10-29h0m-41 15h0m97 14h0m-57 16h0m-24 7h0m29-53h0m22 33h0m-33-8h0m42 29h0m-58-97h0m92 57h0m-78 17h0m0 14h0m-26-30h0m-1 42h0m32-10h0m52-55h0m-51 46h0m9-21h0m25 25h0m-46-25h0m40 8h0m-16-31h0m51 21h0m-47 5h0m-7 4h0m-28 5h0m65 1h0m-16 2h0m-22 32h0m-23-34h0m55-3h0m-66-33h0m83 3h0m-49 36h0m2-55h0m-63 40h0m36-4h0m27 10h0m-45-44h0m72 25h0m-67-32h0m54 17h0m-50 45h0m43-1h0m-50-82h0m9 61h0m10 29h0m33-47h0m6 22h0m-33 30h0m-38-2h0m88-74h0m-41 45h0m-30-9h0m10 15h0m8-53h0m57 73h0m-65-1h0m91-58h0m-78 25h0m31 5h0m-63 38h0m35-13h0m84-36h0m-87 40h0m10-9h0m3 55h0m21-59h0m-17 1h0m-56-16h0m76-23h0m-22 27h0m-18 63h0m39-53h0m-48-6h0m16-4h0m16 63h0m36-19h0m1 27h0m-65-100h0m28 38h0m-6-22h0m21 57h0m-15-47h0m32-2h0m-50 15h0m-62 38h0m70-33h0m14-3h0m-54 33h0m62-35h0m83-38h0m-78 28h0m-72 49h0m-2-43h0m48 1h0m-28 28h0m39-63h0m-48 37h0m2 4h0m48-25h0m-73-17h0m74 19h0m48 2h0m-47 27h0m-10-9h0m30-11h0m-22-5h0m54 13h0m-38-76h0m-42 44h0m17 17h0m-35 4h0m60 32h0m-44 0h0m-2-11h0m-8 11h0m102-33h0m-35-28h0m-60 100h0m18-52h0m-50-13h0m27 30h0m8 32h0m-18-54h0m-29-17h0m104 7h0m-81 14h0m72-1h0m1-45h0m27 52h0m-126 28h0m52-33h0m-48-28h0m5 36h0m51-43h0m-5 50h0m-13-14h0m-13-54h0m23 33h0m21 30h0m-19-31h0m38 19h0m-26-5h0m-150-39h0m41 12h0m173-81h0m1 68h0m-78 6h0m64-12h0m-194 60h0m134 19h0m52-112h0m-27 81h0m-20-2h0m27-39h0m-32 93h0m-63-64h0m3-60h0m41 75h0m135-23h0m-41 45h0m-60-221h0m4 192h0m-81 4h0m174-78h0m-137 125h0m-90-117h0m146 120h0m64-12h0m75-22h0m-249-35h0m133 34h0m-178 1h0m79-36h0m157 2h0m-148 3h0m2 131h0m102-68h0m-105-95h0m65-93h0m53 55h0m-64 98h0m-61 1h0m103 94h0m-21-5h0m5-122h0m27-20h0m-49 69h0m68-21h0m-180 62h0m113-97h0m-68 53h0m79 7h0m-32 51h0m-9-68h0m32 40h0m-62-83h0m33-22h0m-30-33h0m97 164h0m-120-44h0m-11-96h0m57 57h0m54-125h0m-123 122h0m74 124h0" stroke="#b424e4" stroke-width="7"/>
<path d="M690 1293h0m40-55h0m-83 146h0m33-72h0m12-26h0m1-11h0m30 56h0m-7-46h0m-71 12h0m22 24h0m-14-36h0m48 37h0m-1-46h0m-21 88h0m44-76h0m26 19h0m-52-19h0m41 25h0m-43-28h0m-32 30h0m34 37h0m-24-52h0m51 32h0m-45 18h0m31-16h0m-4 3h0m-20-33h0m41 17h0m-20 20h0m-3-20h0" stroke="#f4a4f0" stroke-width="7"/>
<ellipse cx="589" cy="1291" rx="16" ry="16" fill="#a000c8" opacity=".68" filter="url(#bl)" transform="rotate(0 589 1291)"/>
<path d="M561 1285h0m39-5h0m-14 14h0m2 8h0m7-13h0m8-2h0m-23 8h0m17-6h0m-21-4h0m16 15h0m20-11h0m-25-25h0m19 39h0m-17-21h0m-33 19h0m23 9h0m20-2h0m-11-2h0m-16 4h0m17-34h0m-5 3h0m9 3h0m-20 5h0m13 7h0m12 13h0m-3 5h0m-37-22h0m43-15h0m-14 19h0m-17-10h0m27 3h0m12 34h0m-21-44h0m1 7h0m-18 2h0m12 1h0m18 18h0m-6-18h0m0 5h0m-3-13h0m-42 23h0m32-17h0m7 6h0m-3 20h0m5-17h0m-13-4h0m17 0h0m-2-11h0m1-1h0m-10 4h0m8 23h0m5-38h0m-4 52h0m16-14h0m-50-29h0m12 2h0m25 14h0m-16 15h0m-10-25h0m22-28h0m-26-1h0m-5 34h0m25 14h0m12-41h0m42 68h0m-84-56h0" stroke="#a000c8" stroke-width="7"/>
<ellipse cx="551" cy="1338" rx="17" ry="27" fill="#f02424" opacity=".68" filter="url(#bl)" transform="rotate(25 551 1338)"/>
<path d="M544 1339h0m15 3h0m-65 38h0m60-21h0m-13-23h0m26-2h0m-3 12h0m6 2h0m14-33h0m-19 40h0m-28 2h0m4-4h0m12 11h0m13 14h0m9-12h0m-25-19h0m12-33h0m2 2h0m-13 15h0m3-17h0m-1 24h0m9 20h0m5-24h0m-8-22h0m-25 35h0m16-13h0m-20 31h0m10-5h0m2-3h0m10-51h0m16 33h0m-21 18h0m10-10h0m-14-29h0m3 33h0m8-3h0m-12-14h0m29-7h0m-35 26h0m31 2h0m-7-35h0m-3 2h0m-10 31h0m-2 13h0m5-58h0m9 58h0m-21-31h0m0-3h0m8 27h0m5-51h0m10 27h0m18-11h0m-11-43h0m-15 90h0m6-36h0m-20-35h0m-11 73h0m40-41h0m-16 20h0m14-29h0m-29 32h0m26-19h0m16 22h0m-41-4h0m24-14h0m2 30h0m-19-18h0m17-15h0m3-5h0m-23 18h0m-3-25h0m-6 22h0m-5 24h0m48-37h0m-19-2h0m-12 20h0m5 37h0m35-65h0m-38 8h0m-1 8h0m17-7h0m-40 48h0m17 4h0m-8-23h0m28 12h0m-23-29h0m15-33h0m-5 36h0m3-13h0m15-6h0m-16 27h0m11 10h0m-30-49h0m-1 41h0m-26-36h0m-4 19h0m38-7h0m12 74h0m-25-77h0m-21-23h0m20 45h0m24-12h0m-20-27h0m-5 12h0m-16 2h0m33 113h0m31-39h0m-23 1h0m-3-51h0m-34-53h0m99-5h0m-48 47h0m-24 4h0m33-44h0m8-25h0m13 81h0m-2-38h0m-5 77h0" stroke="#f02424" stroke-width="7"/>
<ellipse cx="443" cy="1343" rx="10" ry="10" fill="#1ec428" opacity=".68" filter="url(#bl)" transform="rotate(0 443 1343)"/>
<path d="M446 1345h0m1-8h0m-5 5h0m5 14h0m6-10h0m-4-5h0m-9-11h0m-7 3h0m10 9h0m4 11h0m2-11h0m-9-1h0m9-5h0m-18 6h0m21 12h0m-3-27h0m-7 22h0m11 10h0m-17-12h0m-6-5h0m10 8h0m5-21h0m-2 18h0m13-10h0m-20 2h0m26-1h0m-17 14h0m-16 11h0m-15 14h0m18-50h0m-2-5h0m-2 7h0" stroke="#1ec428" stroke-width="7"/>
<ellipse cx="614" cy="1343" rx="14" ry="14" fill="#3030e4" opacity=".68" filter="url(#bl)" transform="rotate(0 614 1343)"/>
<path d="M602 1342h0m16-5h0m-1-3h0m0 6h0m-14 4h0m10-8h0m1 13h0m-13-11h0m21 5h0m1 27h0m-22-23h0m10 12h0m10-31h0m6 15h0m-16 1h0m6-10h0m-6 24h0m-7-21h0m19-4h0m-10 14h0m-8-7h0m0 1h0m13 3h0m-1 3h0m6-15h0m-7 29h0m-4-21h0m3-5h0m6 8h0m-8 8h0m15-23h0m-19 12h0m-10 11h0m39 1h0m-9-30h0m-19 7h0m13 13h0m-10 7h0m10 12h0m7-7h0m-54 19h0m41-66h0m2 31h0m-6 28h0m-30-7h0m60-42h0m5 11h0m-51 38h0m17-66h0m-14 60h0m2-28h0m13 11h0" stroke="#3030e4" stroke-width="7"/>
<ellipse cx="481" cy="1381" rx="12" ry="12" fill="#c400c0" opacity=".68" filter="url(#bl)" transform="rotate(0 481 1381)"/>
<path d="M475 1372h0m11 22h0m-30-8h0m36-13h0m4-7h0m-5 32h0m6-43h0m-15 16h0m4 25h0m0 2h0m-21-25h0m11 15h0m18-15h0m-22 17h0m-4-3h0m5-6h0m30-2h0m-21-6h0m5 24h0m1-29h0m-3 29h0m-13-17h0m0-4h0m-1-8h0m15 13h0m-27-10h0m15-1h0m9 9h0m2-11h0m-11 9h0m4 1h0m-4 2h0m24-6h0m-33 10h0m-3 15h0m42 19h0m-19-73h0m32 57h0m-7-18h0m-36-2h0m-33 21h0m27-35h0m22-5h0m9 5h0" stroke="#c400c0" stroke-width="7"/>
<ellipse cx="640" cy="1380" rx="14" ry="14" fill="#20b4d4" opacity=".68" filter="url(#bl)" transform="rotate(0 640 1380)"/>
<path d="M666 1394h0m-18-10h0m-7-9h0m-22-1h0m13 1h0m9-15h0m-14 13h0m8 17h0m35-11h0m-23 1h0m-4 19h0m-1-12h0m-1-13h0m11 4h0m5-10h0m-12 31h0m-12-15h0m24 1h0m-25-8h0m12-3h0m-8 8h0m-9 17h0m7-19h0m8 16h0m-6 7h0m25-15h0m-36-22h0m13 17h0m9 11h0m-2-13h0m0-23h0m8 6h0m-34 9h0m17-6h0m2 14h0m9 4h0m-12-3h0m19-4h0m-15-21h0m5 46h0m14-28h0m12 35h0m3-57h0m-60 45h0m40-6h0m-47 7h0m80 10h0m16-17h0m-58 32h0m21-97h0m-61 60h0m24 36h0" stroke="#20b4d4" stroke-width="7"/>
<ellipse cx="602" cy="1401" rx="12" ry="12" fill="#1c30c0" opacity=".68" filter="url(#bl)" transform="rotate(0 602 1401)"/>
<path d="M618 1415h0m-19-15h0m11-1h0m-1 6h0m1-2h0m-15-31h0m-6 15h0m20 0h0m-13 20h0m13 5h0m-2 6h0m-11-4h0m-8-16h0m18 10h0m-7-13h0m-9-16h0m-8 39h0m2-32h0m1 13h0m14-3h0m-10 4h0m-1 5h0m29-13h0m-13 5h0m-6-9h0m5 13h0m12 25h0m-24-13h0m3-17h0m-4 11h0m25-6h0m-11-8h0m-5-5h0m2-7h0m51 48h0m-63-38h0m3 13h0m15 39h0m-16-84h0m17 52h0m-24 8h0m14-35h0m2-11h0m-7 66h0" stroke="#1c30c0" stroke-width="7"/>
<ellipse cx="703" cy="1389" rx="24" ry="24" fill="#5ce410" opacity=".68" filter="url(#bl)" transform="rotate(0 703 1389)"/>
<path d="M727 1401h0m-21-7h0m-26-2h0m9-15h0m45-3h0m-29 17h0m18-7h0m-10 13h0m-13-19h0m-17 32h0m4 2h0m49-34h0m-51-9h0m8 46h0m-5-47h0m-17 23h0m41 28h0m-3-31h0m-6 58h0m32-39h0m-38-22h0m5 2h0m11-11h0m28-6h0m-24 34h0m5 12h0m-12-23h0m22 22h0m-28-9h0m-24-9h0m-17 17h0m29-6h0m21-30h0m8 44h0m-34 5h0m25-55h0m-13 25h0m19-23h0m-21 25h0m13 29h0m11-21h0m-34-35h0m-3 17h0m33 34h0m7-49h0m-21 58h0m4-32h0m-29-37h0m17 22h0m20 3h0m-44 49h0m41-79h0m25 49h0m-36-16h0m14-46h0m9 50h0m-6-16h0m-25 42h0m-54-7h0m88-55h0m-27 18h0m-6-12h0m-15 27h0m20 9h0m20-22h0m27 43h0m-72-35h0m24 11h0m-13 23h0m12 11h0m-7-4h0m23-20h0m-2-11h0m-26-11h0m5 0h0m7 19h0m13-21h0m-39 24h0m19-25h0m23 6h0m-7 3h0m-38 11h0m32 2h0m6-23h0m26 10h0m-8 10h0m-4 8h0m-4-38h0m-16 44h0m2-33h0m3 25h0m-17-19h0m7-12h0m24 2h0m-14 18h0m8 2h0m6-24h0m-62 31h0m79-24h0m-31 24h0m-16-17h0m7 11h0m9 21h0m-18-45h0m-10 18h0m25-9h0m14-14h0m-39 59h0m27-59h0m20 21h0m-38 4h0m39 8h0m-22 18h0m-15-36h0m25-16h0m4 27h0m29 7h0m41-69h0m-97 34h0m15 48h0m-43 15h0m90-36h0m-103 21h0m74-65h0m-46 17h0m-31 37h0m105-1h0m-74-16h0m27 78h0m-16-56h0m5 28h0m-21-27h0m19 3h0m-44-28h0m104 32h0m-89 79h0m62-117h0m-33-28h0m78 91h0m-3-95h0m-138-48h0m16 66h0m12-46h0m70 40h0m-9 79h0m-46-72h0m85-42h0m-72 15h0m10 22h0m17 6h0" stroke="#5ce410" stroke-width="7"/>
<ellipse cx="786" cy="1343" rx="21" ry="21" fill="#f0e444" opacity=".56" filter="url(#bl)" transform="rotate(0 786 1343)"/>
<path d="M806 1330h0m-22 24h0m-13-22h0m13 4h0m15-5h0m-39 23h0m12-22h0m9 30h0m18-16h0m-9-10h0m24 24h0m-42-2h0m-9-29h0m11 41h0m45-26h0m-42 21h0m0 5h0m-7-10h0m2 12h0m16-40h0m0-29h0m-1 51h0m39-29h0m-20 40h0m-8-27h0m-9-9h0m2-5h0m-13 21h0m-7-23h0m14 26h0m12 2h0m17-7h0m-5-17h0m-12 30h0m21-23h0m-1 9h0m-38-26h0m23 18h0m-2 12h0m0-1h0m-25-9h0m11 15h0m-13 8h0m-21-38h0m46 28h0m23 13h0m-52-37h0m18 17h0m12-7h0m-25-4h0m12-2h0m-2 27h0m-1-31h0m12 32h0m-24-20h0m-12-12h0m8-5h0m8 56h0m31-40h0m-13 8h0m-5-35h0m-5 14h0m-5 18h0m-54-42h0m69 67h0m8-42h0m-22 29h0m3-48h0m16 26h0m-13-19h0m-19 51h0m12-12h0m67-7h0m-59-11h0m30 23h0m-15 45h0m3-13h0m-50-55h0m56-21h0m-78 27h0m35 18h0m77-31h0m-99 5h0m19-8h0m63 41h0m-27-30h0m21 5h0m28 4h0m-66 25h0m81-90h0m-61 20h0m-78 28h0m92-45h0" stroke="#f0e444" stroke-width="7"/>
<ellipse cx="773" cy="1406" rx="22" ry="22" fill="#b0e440" opacity=".62" filter="url(#bl)" transform="rotate(0 773 1406)"/>
<path d="M765 1439h0m31-39h0m-11 8h0m-22-16h0m33 2h0m-26 3h0m-24 5h0m61-14h0m-35 40h0m9-22h0m3 6h0m-12-21h0m-7-16h0m10 27h0m-14-25h0m2-4h0m21 12h0m4 5h0m-3 26h0m3-16h0m-50 13h0m23-35h0m-8 33h0m31 1h0m1 13h0m-18-19h0m1-5h0m2 9h0m-6-2h0m25-7h0m-6-11h0m-25 47h0m12-9h0m-33-65h0m35 38h0m-41 18h0m53-26h0m-1 24h0m-9-21h0m10 2h0m-21-17h0m11 47h0m-10-31h0m-15 5h0m38 1h0m-4 23h0m-26-31h0m27 6h0m-31 5h0m27 19h0m-23-13h0m24-57h0m5 49h0m-43 34h0m37-27h0m35 14h0m-60-19h0m49 22h0m-3-22h0m-8-11h0m-24 22h0m1-1h0m0-5h0m40 5h0m-18-36h0m-30 42h0m-19-24h0m23 29h0m-25-31h0m32 12h0m-30 20h0m42 1h0m-2-12h0m-15-16h0m-17 13h0m0 12h0m31-31h0m-7-18h0m-21 16h0m-7 2h0m21-1h0m-11-10h0m-20 32h0m28 12h0m-14-31h0m33 34h0m6-10h0m-43-6h0m96-94h0m-59 169h0m-55-75h0m118 11h0m-69 11h0m-14-4h0m2 4h0m-28-38h0m39-81h0m30 73h0m-59-41h0m19 19h0m29 98h0m-42-90h0m12 17h0m25-67h0m1 76h0m-43-58h0m58 103h0m-24-16h0m21-20h0m-1-46h0m0-56h0m14 157h0m0-94h0m-56 54h0" stroke="#b0e440" stroke-width="7"/>
<ellipse cx="913" cy="1401" rx="25" ry="15" fill="#f03410" opacity=".68" filter="url(#bl)" transform="rotate(-20 913 1401)"/>
<path d="M897 1412h0m20 8h0m-16-21h0m27 11h0m-28-22h0m-20 4h0m30-3h0m-4-4h0m3 25h0m-13 12h0m14-30h0m-5 11h0m-12-2h0m16-23h0m54 16h0m-17 25h0m-20-23h0m-13 13h0m23-27h0m9 3h0m-47 40h0m7-11h0m-16 5h0m19 0h0m-29-14h0m15 6h0m-2-6h0m18-8h0m6 7h0m-30 21h0m2-25h0m55-18h0m-31 29h0m-13-6h0m7-4h0m-12 21h0m21-14h0m-5-14h0m21-9h0m-3 1h0m-29 22h0m62-12h0m-45 10h0m17-18h0m-62 15h0m37-9h0m5 26h0m-8-24h0m13 19h0m30-17h0m-43 0h0m-17 5h0m45-1h0m-19-14h0m-6 6h0m33-3h0m-31 11h0m3 1h0m-10 5h0m14 3h0m8-5h0m-22-1h0m-37 2h0m28-30h0m45 27h0m-14 24h0m-42-15h0m30-18h0m33 9h0m-28-16h0m-1 13h0m-1-19h0m-19 39h0m16-21h0m-13-29h0m34 4h0m-43 41h0m91 4h0m-102-38h0m60 17h0m-87 73h0m-17-29h0m98-22h0m-8 7h0m-13-61h0m-10 89h0m-62-3h0m25-100h0m15 77h0m-74 43h0m151-104h0m-61 39h0m39-54h0m-40 66h0m-43 14h0m66-5h0m-55-12h0m64-20h0m-47 58h0m28-47h0" stroke="#f03410" stroke-width="7"/>
<ellipse cx="830" cy="1437" rx="23" ry="9" fill="#f04020" opacity=".38" filter="url(#bl)" transform="rotate(-25 830 1437)"/>
<path d="M833 1442h0m-4-10h0m15-2h0m-11 8h0m-23 9h0m21-22h0m-6 14h0m16-9h0m-7 11h0m-27 1h0m21 3h0m25-18h0m-26 8h0m10 13h0m-10-13h0m30-11h0m-32 9h0m23-6h0m-56 10h0m42-6h0m6 6h0m21-2h0m-50 9h0m9 5h0m-36 29h0m-4 15h0m72-117h0m-29 46h0m-43 67h0m33-12h0m55-1h0" stroke="#f04020" stroke-width="7"/>
<ellipse cx="843" cy="1457" rx="20" ry="20" fill="#50d424" opacity=".68" filter="url(#bl)" transform="rotate(0 843 1457)"/>
<path d="M836 1471h0m10-20h0m14 7h0m-24 2h0m-14 15h0m48-42h0m-25 19h0m-13 19h0m39-8h0m-33 22h0m0-39h0m-4 26h0m10-12h0m-11 3h0m9 23h0m0-45h0m28 21h0m-27 3h0m1-42h0m-1 55h0m15-33h0m-20 20h0m39-2h0m-30-15h0m-10 1h0m6-7h0m-6-3h0m24 29h0m-21-14h0m16 7h0m-21-47h0m-22 54h0m27-23h0m-26 23h0m10-8h0m18-11h0m-18 13h0m-3-15h0m20 29h0m-5-17h0m17-41h0m-25 34h0m3 19h0m3-4h0m24-14h0m-9 28h0m9-23h0m-42-11h0m26 16h0m4-6h0m-20 10h0m32-11h0m-14 15h0m-7-7h0m22-18h0m-17-1h0m-17-18h0m23 70h0m-10-14h0m22-32h0m-2 0h0m-48 21h0m29-18h0m16 20h0m-15-12h0m9-18h0m7 5h0m-6 24h0m9-46h0m-27 26h0m-1 2h0m11 4h0m38 3h0m-35-16h0m-5 9h0m14-17h0m-14 3h0m-24 28h0m25-6h0m29 18h0m-29-11h0m-14-20h0m-37 34h0m57 10h0m60-65h0m-57 22h0m37-1h0m16 89h0m12-11h0m-58-68h0m-61 6h0m-8-41h0m99 68h0m-81 42h0m0-115h0m89 94h0m-58-33h0m-47 6h0m36 6h0m-3-51h0m46 40h0m-38-75h0m24 100h0m16-96h0" stroke="#50d424" stroke-width="7"/>
<ellipse cx="932" cy="1513" rx="24" ry="24" fill="#f06410" opacity=".68" filter="url(#bl)" transform="rotate(0 932 1513)"/>
<path d="M934 1519h0m29-8h0m-36 34h0m-19-45h0m6 36h0m4-10h0m0 16h0m24-41h0m3 19h0m-12-25h0m37 21h0m-45 0h0m7-26h0m21-7h0m-3-6h0m-44 60h0m-2-23h0m34 26h0m29-9h0m-24 5h0m9-53h0m-7 14h0m38 41h0m-64 12h0m-5-25h0m-6-18h0m29-19h0m7 46h0m20 1h0m-24-5h0m-23-26h0m42-12h0m-37 39h0m8-41h0m-9 10h0m-13 2h0m39 1h0m-11-2h0m-7 26h0m11-17h0m-13 25h0m-2-49h0m21 41h0m-16-24h0m28 36h0m-18-26h0m6 35h0m-26-18h0m-28-27h0m52 14h0m-35 13h0m37-1h0m-20-19h0m3 9h0m6-7h0m12 24h0m-12 3h0m-35 24h0m16-57h0m26 28h0m-5-51h0m-11 8h0m24 15h0m-64-7h0m52-7h0m4-11h0m-15 51h0m6-37h0m-15 38h0m28-13h0m1-8h0m-14-1h0m-9 24h0m-10 22h0m34-48h0m13 38h0m-22-56h0m-4 23h0m-14-28h0m-6 31h0m14 15h0m-20-5h0m8-4h0m20 19h0m7-33h0m-8-23h0m-3 38h0m5-20h0m0 15h0m2-23h0m8 18h0m-38-3h0m45 33h0m-28-45h0m-1 28h0m33-10h0m-31 25h0m13-43h0m-13 33h0m-2-18h0m-7 10h0m41 13h0m-35-45h0m35 35h0m-57 14h0m20-39h0m9-15h0m-21 54h0m16-18h0m31-2h0m-28 4h0m34-2h0m-39 28h0m35-60h0m-20 68h0m-35-72h0m58 6h0m-94 84h0m58-45h0m57-6h0m-87 83h0m77-93h0m-56-58h0m44 3h0m47-27h0m-40 36h0m-78 74h0m47 1h0m-51-37h0m32 17h0m51-16h0m-76 9h0m-31-30h0m122 4h0m-16 6h0m-74 22h0m59-11h0m-11 75h0m-10-55h0m-33 19h0m3-26h0m9 20h0m43 16h0m-19-17h0m75-65h0m-116 73h0m44-31h0m-108-13h0m142 30h0m-39-27h0" stroke="#f06410" stroke-width="7"/>
<ellipse cx="532" cy="1452" rx="17" ry="17" fill="#6410c4" opacity=".68" filter="url(#bl)" transform="rotate(0 532 1452)"/>
<path d="M523 1447h0m10-20h0m17 10h0m-1 26h0m-27-15h0m15 19h0m-17-8h0m22-9h0m-5-3h0m-10-8h0m-7 23h0m19-2h0m-14-3h0m19-22h0m-26 2h0m15 17h0m24 12h0m-61-11h0m30 9h0m-9-33h0m1 28h0m8 1h0m31-24h0m-32 19h0m18-13h0m-11-4h0m20 25h0m5 9h0m-19-9h0m4-10h0m-13-5h0m7 8h0m13-2h0m-13 21h0m-11-37h0m40-1h0m-41 37h0m5-30h0m4 5h0m-14-23h0m1 9h0m5 6h0m17 20h0m-19 14h0m35-47h0m-40 49h0m17-26h0m-8 0h0m18 9h0m-15-16h0m-4 23h0m0-16h0m7 4h0m-18 34h0m26-16h0m-25-42h0m18 17h0m-14 27h0m-23-68h0m90 57h0m-95 20h0m17-45h0m17 12h0m61-22h0m-80-10h0m23 2h0m4 74h0m57-48h0m-53-11h0m-15 38h0m-48-46h0m29-2h0m12 35h0m8 74h0m44-106h0" stroke="#6410c4" stroke-width="7"/>
<ellipse cx="487" cy="1427" rx="9" ry="9" fill="#980078" opacity=".62" filter="url(#bl)" transform="rotate(0 487 1427)"/>
<path d="M486 1422h0m4 5h0m3 1h0m5-2h0m-9 4h0m0-3h0m3 5h0m-1 0h0m-6-8h0m11 13h0m-10 1h0m-1 1h0m9-11h0m-2-6h0m-8 1h0m10 9h0m-8-4h0m-6-2h0m0 11h0m21-21h0m-23 38h0m11-46h0m-12 9h0m7-11h0" stroke="#980078" stroke-width="7"/>
<ellipse cx="633" cy="1521" rx="38" ry="38" fill="#3cf0d4" opacity=".62" filter="url(#bl)" transform="rotate(0 633 1521)"/>
<path d="M650 1501h0m40 45h0m-103-53h0m46-24h0m-38 99h0m16-68h0m30 33h0m-4 15h0m-24 10h0m59-47h0m-40 6h0m-11-31h0m18 7h0m-28-1h0m29-3h0m22-23h0m-64 48h0m26-28h0m80 22h0m-117 14h0m99 40h0m-57-46h0m64 9h0m-51-45h0m-27 54h0m-47-6h0m60-14h0m9 19h0m36-56h0m-10 30h0m-34 24h0m4 18h0m-20-10h0m13-78h0m-33 99h0m35-16h0m10-36h0m81 57h0m-116-38h0m40-69h0m-47 103h0m82 6h0m-70-30h0m37-15h0m-23 9h0m-43-97h0m42 137h0m-24-71h0m43-14h0m2 19h0m-24-18h0m23 55h0m34-35h0m-77 15h0m61-36h0m-12 106h0m18-114h0m-43-1h0m-26 119h0m34-93h0m16-12h0m46 54h0m-53 8h0m26-11h0m-86-34h0m116-5h0m-76-9h0m35 19h0m-36 44h0m-11-7h0m44-14h0m15-11h0m-29 52h0m-4-36h0m-3-40h0m24-12h0m9 69h0m-3-37h0m-62-13h0m122-15h0m-58 39h0m-17-41h0m-50 28h0m47 3h0m16-19h0m-61 31h0m37-77h0m37 86h0m1-21h0m-24-33h0m-55 76h0m17-107h0m-1 56h0m12-26h0m29 33h0m26-11h0m8 22h0m-50-20h0m19 8h0m-67-1h0m20 4h0m-15 4h0m103-24h0m-5 14h0m-83 8h0m86-41h0m-75 88h0m11-43h0m-58 3h0m9-23h0m84-34h0m-49 110h0m51-46h0m-5-3h0m16-52h0m-3 35h0m-57 0h0m-48 8h0m34 45h0m14 1h0m46 21h0m-19-65h0m-56-31h0m39-7h0m3 10h0m-7 42h0m13-13h0m7 28h0m-30-54h0m1 0h0m23 12h0m7-60h0m-47 44h0m55 19h0m13 22h0m-36-57h0m-26 40h0m-29 12h0m101 4h0m9 13h0m-53 22h0m-14-15h0m-58-43h0m40 10h0m13-6h0m49-10h0m-14 27h0m-25-82h0m-51 23h0m74 105h0m-8-84h0m25 39h0m-58-1h0m27-39h0m3 49h0m18 1h0m-37-42h0m52 51h0m19-6h0m-68-45h0m76 17h0m-9 4h0m-96-17h0m61 57h0m-17-6h0m42-50h0m-28 28h0m-60 12h0m57-60h0m-34 14h0m-2 17h0m55-12h0m-46 49h0m21-24h0m-57 4h0m37-1h0m7 22h0m5-3h0m-4-38h0m-16 52h0m37-2h0m19-33h0m-70 5h0m54-20h0m-71 38h0m-5-40h0m-27-17h0m142 47h0m-55-8h0m-30-26h0m102 3h0m-75-21h0m7 56h0m-12-14h0m15 4h0m-11-9h0m-22 56h0m49-106h0m47 17h0m-61 24h0m-27 28h0m26-33h0m-24-51h0m13 103h0m13-62h0m-28-19h0m21 12h0m-5 13h0m35 11h0m-51 20h0m44 70h0m-56-79h0m-9 31h0m76 12h0m-14-3h0m-59-40h0m42 38h0m4-3h0m-45-108h0m91 51h0m-29 54h0m18-17h0m-30-41h0m40 22h0m-81 23h0m57-103h0m-88 59h0m102-21h0m-91 78h0m-11-19h0m32-7h0m40-21h0m16-18h0m-34-19h0m-2-3h0m22 58h0m-28-34h0m22 9h0m-67-20h0m55 7h0m39 47h0m-49-22h0m44 24h0m-7-28h0m-4-12h0m-17 2h0m-1 15h0m-8-48h0m11-17h0m-9 42h0m-5 16h0m16-30h0m-143 60h0m224-37h0m-190 92h0m126-125h0m-178 84h0m298-60h0m-184 17h0m73-31h0m-86-11h0m88-12h0m-128 140h0m57-322h0m60 257h0m-59-93h0m91 24h0m14 67h0m-70 96h0m46-240h0m18 176h0m-7 118h0m-2-95h0m-65-120h0m-20 26h0m80 35h0m11 15h0m-127-168h0m60 210h0m-16-128h0m-2 112h0m54-113h0m-27 17h0m-24 88h0m25-13h0m-101 36h0m-14-247h0m87 224h0m27 26h0m80 6h0m-101-74h0m-53-11h0m89 54h0m-133-258h0m74 175h0m97 43h0m-53 57h0m-55-52h0m129 113h0m22-164h0m-24-3h0m-80-34h0m-63-38h0m35-4h0m-14 74h0m91-93h0m-41 171h0m45-37h0m-31 38h0m11 10h0m52 96h0m-72-141h0m48-35h0m-58-28h0m19 60h0m0-12h0m-66 28h0m8-68h0m56 7h0m-194-1h0m18 12h0m289 73h0m-302 101h0m157-190h0m21 9h0m-111 20h0m117 39h0" stroke="#3cf0d4" stroke-width="7"/>
<ellipse cx="707" cy="1495" rx="22" ry="22" fill="#5cf0f4" opacity=".62" filter="url(#bl)" transform="rotate(0 707 1495)"/>
<path d="M714 1486h0m-5-10h0m11 53h0m-22-23h0m52-42h0m-66 74h0m48-22h0m-36-27h0m-1 16h0m4-26h0m-15 28h0m19-5h0m-31-5h0m36 13h0m9-20h0m5 2h0m-7 31h0m8-40h0m-17 22h0m29-8h0m-28-17h0m-29 21h0m21-31h0m20 19h0m13 2h0m-36 29h0m5-7h0m21-46h0m-41 10h0m38 5h0m26 33h0m-20-12h0m0 6h0m-17-18h0m-19 5h0m0-34h0m16 28h0m-10 22h0m31 14h0m-29-17h0m15 8h0m-2-29h0m-17 8h0m31 7h0m-33-26h0m44 18h0m-2-12h0m-41-22h0m35 12h0m-26 35h0m9-15h0m-29 24h0m21-1h0m-9 0h0m17-26h0m-32 24h0m-12 7h0m39-4h0m19 10h0m-49-27h0m27-17h0m9 7h0m24-8h0m-27 37h0m-12-7h0m30-23h0m-23 4h0m23 10h0m-55 12h0m3-35h0m-3-3h0m35 22h0m2-29h0m4 37h0m-42-5h0m28-23h0m-5 9h0m6 15h0m7-11h0m-6 3h0m26 24h0m-5-39h0m14 9h0m-51 1h0m31 6h0m-8-18h0m14 15h0m-16 15h0m46-33h0m-44 35h0m-5-18h0m20-13h0m-9-59h0m-18 125h0m-4-88h0m-51 80h0m65 8h0m52-47h0m-12-9h0m-41-27h0m-24 60h0m52-50h0m22 37h0m-92-39h0m14 32h0m25-35h0m5 53h0m26-15h0m-42-44h0m-9 42h0m24 51h0m22-66h0m-55-83h0m-43 68h0" stroke="#5cf0f4" stroke-width="7"/>
<ellipse cx="525" cy="1546" rx="33" ry="33" fill="#3090f4" opacity=".62" filter="url(#bl)" transform="rotate(0 525 1546)"/>
<path d="M545 1588h0m-5-30h0m-12-10h0m-1-26h0m-29 57h0m27 19h0m29 14h0m-7-88h0m26 3h0m-26 13h0m-40 18h0m-12 0h0m46-30h0m-35 11h0m12 10h0m-27-12h0m-9-19h0m23 26h0m46-6h0m-14 38h0m-17-49h0m7 30h0m-25-19h0m28-6h0m-15 5h0m15 22h0m-30-46h0m-19 53h0m62-69h0m-35 27h0m-22 46h0m35-5h0m66-19h0m-89-40h0m71 55h0m-61-27h0m11 51h0m44-61h0m-4 32h0m-43 7h0m42-5h0m-35 12h0m-53-24h0m50 34h0m-21-69h0m38 20h0m-4 8h0m-48 18h0m61-25h0m-38-22h0m60 49h0m-35-25h0m-19 38h0m73-51h0m-50 49h0m-5-18h0m8 54h0m0-69h0m-41-17h0m-21 43h0m66-5h0m25 27h0m-34-66h0m35 55h0m-34-80h0m26 39h0m-83 16h0m79 36h0m-42-12h0m12-29h0m-27 43h0m-21-8h0m42-51h0m-21 20h0m3-37h0m12 35h0m21-12h0m-44-24h0m25 39h0m-3-6h0m19 19h0m8 15h0m-16-59h0m10 25h0m-21 24h0m-27-30h0m33 37h0m-13-11h0m59-1h0m-14-11h0m-23 22h0m-17-72h0m38 18h0m-26 31h0m33 40h0m-51-26h0m5 1h0m21 1h0m-36-14h0m41-1h0m17 0h0m-62-48h0m4 65h0m36-53h0m-21 28h0m-4-35h0m5 75h0m16-24h0m-19 16h0m1-16h0m55-22h0m-42 19h0m-11-67h0m5 18h0m48 31h0m-19 29h0m-48 1h0m47 9h0m-26-51h0m-11 3h0m3-9h0m42 19h0m-19 10h0m-13-13h0m7-20h0m-18 53h0m33-50h0m-44 42h0m1-28h0m18-13h0m4 39h0m-13-8h0m21 11h0m-41 30h0m15-47h0m-8 6h0m74 11h0m-125-19h0m67-11h0m26 13h0m-6 14h0m1-1h0m4-20h0m-27 10h0m11 9h0m-11 5h0m3-95h0m23 107h0m-68-79h0m92 67h0m-61 2h0m14-56h0m-24 70h0m19-41h0m23 26h0m14-65h0m-2 78h0m-10-25h0m-22-35h0m-11 42h0m0-4h0m12 52h0m45-45h0m-21 8h0m3-19h0m-19-8h0m-26 23h0m20-24h0m-10 16h0m38-60h0m-55 24h0m-24 63h0m51-92h0m32 89h0m-41-70h0m35 24h0m10 34h0m-13 45h0m14-83h0m-13-18h0m15 16h0m-5 96h0m-24-66h0m8-50h0m5 24h0m32-9h0m-47 19h0m5-22h0m31 64h0m14-54h0m-166 43h0m106-81h0m-23 115h0m-52-83h0m66-7h0m93-44h0m-103 72h0m-76 33h0m101 17h0m-26-136h0m61 37h0m-32 9h0m86 67h0m-72 89h0m-34-70h0m32-57h0m42 2h0m-1 22h0m-18 18h0m-104-31h0m147 185h0m-58-163h0m-16-21h0m24-23h0m54 30h0m-93 17h0m-20-18h0m94 25h0m-55 20h0m-182-45h0m121-52h0m37 105h0m9 49h0m108-154h0m-173 93h0m48 49h0m61-107h0m122 102h0m-244-135h0m148-40h0m-25 109h0m-112 58h0m73-123h0m70 117h0m-56-86h0m-22 33h0m4-20h0m-17 18h0m167 29h0m-66 54h0m-83-157h0m-31 90h0m27 34h0m62-16h0" stroke="#3090f4" stroke-width="7"/>
<ellipse cx="614" cy="1604" rx="18" ry="18" fill="#2424d8" opacity=".68" filter="url(#bl)" transform="rotate(0 614 1604)"/>
<path d="M606 1605h0m20-3h0m-27-14h0m14-2h0m-13 23h0m14-9h0m-25-6h0m10 16h0m7-29h0m0 41h0m17-35h0m4 64h0m-24-29h0m32-10h0m-50-18h0m30 14h0m-8 10h0m3-25h0m8-16h0m38 36h0m-31-4h0m12 9h0m-11-17h0m-45-12h0m35 5h0m-32 19h0m42-20h0m-16 9h0m-16 19h0m30-14h0m-12-3h0m13 23h0m-4-7h0m10-22h0m-18 2h0m-16 2h0m1 5h0m35 6h0m-31 10h0m12 14h0m-26-26h0m15-8h0m1 6h0m-3-7h0m8 54h0m23-55h0m-42-7h0m15 0h0m-16 10h0m39 7h0m3 3h0m-1-7h0m-6 8h0m1-12h0m-28 20h0m21-8h0m-21-1h0m21 1h0m7-6h0m-25 8h0m10 5h0m7-29h0m-7-12h0m26 13h0m-35-5h0m-34 60h0m59-17h0m15-1h0m10-52h0m28 32h0m-45 1h0m-26-6h0m19-47h0m31 36h0m-63 19h0m2 31h0m28-57h0m-55 9h0m51 56h0m-12-20h0m27 45h0m5-67h0m-54-30h0m34 60h0" stroke="#2424d8" stroke-width="7"/>
<ellipse cx="712" cy="1609" rx="20" ry="20" fill="#f09420" opacity=".68" filter="url(#bl)" transform="rotate(0 712 1609)"/>
<path d="M693 1613h0m10 0h0m5-17h0m10 0h0m3 5h0m-34-25h0m17 62h0m7-29h0m-12-7h0m40 20h0m-39-48h0m23 47h0m-24-18h0m24 18h0m-28-3h0m2-2h0m-9-6h0m25 18h0m15-41h0m-7-13h0m-39 38h0m34-17h0m-2-4h0m-10 15h0m7-10h0m-16 22h0m21-52h0m13 26h0m-22 37h0m-5-30h0m22 3h0m-54 1h0m46 23h0m29-34h0m-56 26h0m17-11h0m35-14h0m-19 11h0m-38-3h0m49-16h0m3 33h0m-28-1h0m-2-7h0m1 16h0m-6-8h0m-8-6h0m26 7h0m-8-6h0m-33-8h0m35 38h0m-12-20h0m15-30h0m-40 17h0m52 7h0m-21 11h0m-18-26h0m13 43h0m37-43h0m-49-10h0m44 25h0m-35-3h0m7-18h0m13 9h0m-8 23h0m7-12h0m-11-17h0m22 29h0m-3-35h0m-23 8h0m33-6h0m-17-4h0m-4 37h0m-19-3h0m23-7h0m-15-11h0m19 20h0m-39-7h0m49-12h0m-31-11h0m-2 3h0m41-20h0m-27 66h0m3-43h0m53 4h0m-86 2h0m28 33h0m-7-80h0m-26 48h0m17 9h0m-21 28h0m120-28h0m-45-5h0m-49 37h0m8 6h0m75-28h0m-10-53h0m-68 16h0m-26-14h0m44-5h0m-5 8h0m13 33h0m11-5h0m-17 17h0m47-34h0" stroke="#f09420" stroke-width="7"/>
<path d="M779 1562h0m8-5h0m-1-23h0m-3 28h0m-22-44h0m-21 56h0m54 4h0m-22-12h0m43-9h0m5 2h0m-21 18h0m-4-38h0m-14 67h0m0 11h0m14-56h0m24-3h0m-73-13h0m26 60h0m5 1h0m-42-46h0m92-11h0m-25 31h0m6-34h0m-15 39h0m0-19h0m-10-9h0m-14 14h0m24-33h0m-38 33h0m44 12h0m-5-1h0m12-76h0m21 41h0m-17 19h0m-39 10h0m-20-9h0m67-7h0m5 13h0m-5-28h0m-22-52h0m7 56h0m-38-7h0m-4 14h0m46 5h0m28 7h0m-47-17h0m-33-30h0m7 13h0m1 28h0m18 6h0m0 6h0m-15-5h0m-6 59h0m29-46h0" stroke="#94e444" stroke-width="7"/>
<ellipse cx="468" cy="1503" rx="7" ry="7" fill="#20d428" opacity=".68" filter="url(#bl)" transform="rotate(0 468 1503)"/>
<path d="M471 1498h0m5 8h0m-13 6h0m3-4h0m-5-5h0m9 2h0m-1-6h0m10 0h0m-13 4h0m3 1h0m-7-5h0m6-1h0m11-1h0m-13 0h0m16 0h0m14 7h0m-17 6h0m-27 12h0" stroke="#20d428" stroke-width="7"/>
<path d="M849 1482h0m79 15h0m-70-17h0m24 73h0m-23-106h0m-37 88h0m72-25h0m22-24h0m-31 36h0m-3 14h0m-19-67h0m5 37h0m-22 45h0m26-84h0m-19 21h0m39 15h0m-19 2h0m-11 13h0m-9-3h0m28-45h0m20 11h0m-38 45h0m6-38h0m-11-51h0m12 25h0m7 35h0m-25-5h0m34 32h0m27-12h0m-18 3h0m48 31h0m-65-13h0" stroke="#a0e860" stroke-width="7"/>
<ellipse cx="589" cy="1663" rx="5" ry="5" fill="#202020" opacity=".38" filter="url(#bl)" transform="rotate(0 589 1663)"/>
<path d="M593 1664h0m-4 0h0m5-5h0m0 5h0m-1 2h0m-3-6h0m5-6h0" stroke="#202020" stroke-width="7"/>
</g>
</g>
<g font-size="3.4" font-weight="bold" fill="#111" text-anchor="middle">
<text x="58.94" y="124.98">6</text>
<text x="69.1" y="124.98">13</text>
<text x="84.33" y="130.43">25</text>
<text x="58.94" y="130.43">21</text>
<text x="53.23" y="129.16">24</text>
<text x="55.13" y="135.89">1</text>
<text x="43.71" y="135.89">12</text>
<text x="61.48" y="135.64">22</text>
<text x="48.15" y="139.7">23</text>
<text x="64.02" y="139.57">17</text>
<text x="60.21" y="141.73">19</text>
<text x="70.36" y="140.21">9</text>
<text x="70.75" y="135.89">30</text>
<text x="78.61" y="135.64">5</text>
<text x="77.6" y="142.24">10</text>
<text x="91.31" y="141.48">3</text>
<text x="84.33" y="147.06">8</text>
<text x="93.21" y="152.9">2</text>
<text x="53.23" y="146.55">27</text>
<text x="49.17" y="143.76">26</text>
<text x="68.46" y="145.66">28</text>
<text x="63.38" y="153.91">15</text>
<text x="70.75" y="151.12">16</text>
<text x="52.6" y="156.2">18</text>
<text x="61.48" y="161.78">20</text>
<text x="71.25" y="162.54">4</text>
<text x="77.35" y="157.47">7</text>
<text x="46.88" y="151.63">11</text>
<text x="58.94" y="167.62">29</text>
</g>
<text x="70.5" y="113.7" font-size="5.3" text-anchor="middle" textLength="57.5" lengthAdjust="spacingAndGlyphs">Phenograph scattar plot</text>
<path d="M39.9 128h-1.9" stroke="#222" stroke-width=".6"/>
<text x="37" y="129.95" font-size="5.5" text-anchor="end">20</text>
<path d="M39.9 141.8h-1.9" stroke="#222" stroke-width=".6"/>
<text x="37" y="143.75" font-size="5.5" text-anchor="end">0</text>
<path d="M39.9 156.2h-1.9" stroke="#222" stroke-width=".6"/>
<text x="37" y="158.15" font-size="5.5" text-anchor="end">-20</text>
<path d="M54.5 167.8v1.9" stroke="#222" stroke-width=".6"/>
<text x="53.7" y="177.5" font-size="5.5" text-anchor="middle">-20</text>
<path d="M70.8 167.8v1.9" stroke="#222" stroke-width=".6"/>
<text x="70.8" y="177.5" font-size="5.5" text-anchor="middle">0</text>
<path d="M86.8 167.8v1.9" stroke="#222" stroke-width=".6"/>
<text x="86.8" y="177.5" font-size="5.5" text-anchor="middle">20</text>
<text x="70.5" y="183.9" font-size="5.6" text-anchor="middle" textLength="14.6" lengthAdjust="spacingAndGlyphs">tsne_1</text>
<text font-size="5.6" text-anchor="middle" textLength="14.6" lengthAdjust="spacingAndGlyphs" stroke="#111" stroke-width=".12" transform="translate(27 141.8) rotate(-90)">tsne_1</text>
<rect x="119.3" y="115.8" width="60.5" height="52" fill="#fff" stroke="#333" stroke-width=".7"/>
<path d="M133 115.8V167.8M149 115.8V167.8M164.5 115.8V167.8M119.3 128H179.8M119.3 141.8H179.8M119.3 156.2H179.8" stroke="#ebebeb" stroke-width=".5" fill="none"/>
<clipPath id="c4"><rect x="119.7" y="116.2" width="59.7" height="51.2"/></clipPath>
<g clip-path="url(#c4)" stroke-linecap="round" fill="none">
<g transform="scale(.1)">
<ellipse cx="1374" cy="1234" rx="22" ry="22" fill="#f2ee1c" opacity=".68" filter="url(#bl)" transform="rotate(0 1374 1234)"/>
<path d="M1375 1242h0m-9-2h0m25 2h0m11-24h0m-27 4h0m-15 9h0m18 11h0m5 32h0m7-68h0m-12 17h0m-13 34h0m5-57h0m10 29h0m-27-11h0m10 16h0m4 1h0m40-15h0m-47 10h0m34-8h0m6-11h0m-44 22h0m3-10h0m23 24h0m-6-18h0m22 12h0m-28 15h0m-12-19h0m28-3h0m-22 6h0m1-16h0m-9 33h0m8-2h0m17-25h0m5 9h0m-9-29h0m-2 40h0m8 2h0m18-10h0m8-35h0m-39-18h0m19 47h0m15-8h0m-66 29h0m12-45h0m21 33h0m-6-7h0m-24 27h0m32-29h0m12 1h0m-7-19h0m-6 24h0m21-10h0m-17 8h0m8-2h0m-14-13h0m24 14h0m-19 57h0m15-47h0m-13-33h0m17 17h0m-19 19h0m17-14h0m-17 34h0m9-56h0m4 21h0m-13 9h0m3 24h0m0-31h0m17-15h0m-3 9h0m3-14h0m-13-13h0m-16 29h0m17 34h0m24-59h0m-46 46h0m21-46h0m1 4h0m-24-2h0m11 62h0m11-42h0m38-6h0m-47 4h0m10-1h0m18 0h0m-16 9h0m-25-21h0m14-23h0m1 42h0m3-3h0m3-5h0m6-23h0m4 14h0m-7 7h0m-16-6h0m31-5h0m-45 23h0m31-2h0m-47-27h0m72-14h0m-11 67h0m-19-74h0m68 51h0m-65-19h0m-44 4h0m44-22h0m-3 76h0m12-47h0m23 38h0m-5-65h0m-104 61h0m72-45h0m16-3h0m-42 86h0m-37-37h0m99 36h0m-29-48h0m-45-19h0m-45-22h0m79 17h0m-17 49h0m-42-40h0m45-3h0m17 73h0m-42-24h0m94-56h0" stroke="#f2ee1c" stroke-width="7"/>
<ellipse cx="1475" cy="1227" rx="34" ry="34" fill="#2ee048" opacity=".5" filter="url(#bl)" transform="rotate(0 1475 1227)"/>
<path d="M1459 1195h0m-6 88h0m-36-43h0m40 39h0m27-87h0m-22 41h0m17-31h0m-11 14h0m21 19h0m-7-23h0m15 1h0m-44 3h0m14 4h0m-43 44h0m69 0h0m-28-16h0m16-19h0m43-17h0m-33-31h0m0 42h0m-43-11h0m-29-13h0m61-42h0m25 97h0m-50-66h0m-17 5h0m17 94h0m-10-39h0m64-46h0m-40 44h0m-11 16h0m76-35h0m-80 17h0m31-36h0m-13 22h0m17 29h0m-26-66h0m-31 85h0m32-61h0m78 41h0m-6-35h0m-79-9h0m36 25h0m-6 50h0m25-90h0m-24 45h0m-32 47h0m45-22h0m-40-72h0m35 26h0m-36 2h0m21 7h0m-11 8h0m84 20h0m-92 23h0m1-97h0m-25-13h0m69 25h0m-70 15h0m33-19h0m-10 34h0m33-26h0m-2 33h0m-1-22h0m-46 41h0m47-45h0m-37 37h0m76-8h0m14-2h0m-59 5h0m20-54h0m-25 75h0m-47-28h0m63 40h0m22-47h0m14-29h0m-94 66h0m56-67h0m11 54h0m-10-35h0m-54-34h0m29 41h0m-8-10h0m39-16h0m-46 85h0m3-72h0m47-31h0m15 14h0m-67 0h0m-4 15h0m52 18h0m12 23h0m-71-21h0m17-12h0m20 22h0m8-68h0m-16 45h0m55 6h0m-51 7h0m22-32h0m-25 28h0m3-3h0m-14 9h0m-22 42h0m36-94h0m-7 76h0m2-30h0m-57 42h0m64-92h0m-14 93h0m23-80h0m-26 47h0m72 0h0m-36-15h0m-19-19h0m-37-9h0m19 71h0m16-2h0m22-28h0m-35 54h0m44-24h0m38 7h0m-62-31h0m9 51h0m-43-111h0m14 50h0m-2 25h0m32-26h0m-14 53h0m52-5h0m-64-14h0m-22-83h0m78 74h0m-28 15h0m27-31h0m-38 9h0m16-12h0m-60 63h0m17-84h0m36 15h0m-1 67h0m24-78h0m-30 11h0m25-23h0m-60-22h0m40 57h0m6 12h0m-53-33h0m4 44h0m53-73h0m-9 43h0m-11 15h0m-20-27h0m-2-10h0m-10 50h0m44-38h0m-112 140h0m99-121h0m36 89h0m-55-239h0m-1 137h0m-15 87h0m7-67h0m-22 26h0m8 4h0m48-39h0m11-104h0m-45 107h0m4 57h0m74-112h0m17 29h0m-36 85h0m-98-120h0m62 34h0m-95 53h0m108-27h0m8 31h0m-66-24h0m23-47h0m-26 99h0m-92-113h0m183 23h0m-78 80h0m-17-77h0m79-14h0m-54 34h0m87-58h0m-26 50h0m-51-73h0m121 110h0m-85-51h0m78-20h0m-153-8h0m56 65h0m-114-2h0m133 46h0m-35 23h0m136-118h0m-133 90h0m86-58h0m-3-91h0m-12 117h0" stroke="#2ee048" stroke-width="7"/>
<ellipse cx="1628" cy="1291" rx="41" ry="30" fill="#b424e4" opacity=".62" filter="url(#bl)" transform="rotate(0 1628 1291)"/>
<path d="M1658 1304h0m-8-23h0m23-39h0m-36 35h0m54-13h0m-58 27h0m22 1h0m-61-3h0m72 21h0m-60-48h0m-18 27h0m36-6h0m-12 13h0m59 20h0m-56-5h0m6 12h0m41-8h0m38 2h0m-42 9h0m-62-42h0m22 29h0m12-51h0m-26 25h0m10-6h0m-32 14h0m5-12h0m22 2h0m66-3h0m-59-50h0m-16 66h0m19 13h0m0 0h0m18 7h0m-17-4h0m-6-41h0m52-14h0m-67 73h0m35-31h0m2-10h0m57 2h0m-18-1h0m-68-7h0m23 69h0m-21-52h0m-30 3h0m46-4h0m7-20h0m-1 11h0m31-2h0m-37-29h0m32 27h0m-57 33h0m59-30h0m-29-31h0m-77 35h0m27 12h0m37-9h0m-6 4h0m43-7h0m-1 15h0m-29-59h0m25 26h0m-54-30h0m-23 77h0m114 0h0m8-79h0m-41 13h0m-72 49h0m77-38h0m-83-16h0m47 60h0m70-11h0m-97-37h0m35 42h0m-67-9h0m44 13h0m-33 3h0m100 11h0m4-31h0m-47-30h0m-4 8h0m20 37h0m-24 21h0m-38-53h0m98 8h0m-33-55h0m26 44h0m-70 41h0m24-66h0m41 19h0m-55 7h0m-3 6h0m3-2h0m92 19h0m-61-22h0m38 28h0m-54-27h0m22-28h0m-48 34h0m34 11h0m-59 11h0m33-27h0m18 5h0m-18-1h0m36 10h0m-15-17h0m31 19h0m-61 23h0m-21-43h0m70 6h0m-36 2h0m11 20h0m19-27h0m-35-32h0m0 59h0m16 17h0m-9-22h0m36-33h0m16-6h0m-52-11h0m-1 20h0m40-25h0m-16 58h0m3 15h0m9-46h0m-7 4h0m-41 11h0m6-7h0m48 15h0m-93-20h0m44 73h0m24-67h0m7-42h0m34 47h0m-79 28h0m5-47h0m51 74h0m-37-49h0m7 12h0m-9-7h0m-12-6h0m52-33h0m-4 77h0m-44-50h0m25 8h0m-38 21h0m55 4h0m2-38h0m-27-1h0m87 6h0m-54 45h0m-32-30h0m17 32h0m-52-31h0m53 4h0m-40 11h0m41-45h0m-48 70h0m13-84h0m33 11h0m-14 38h0m-28-45h0m88 2h0m-96 31h0m50-2h0m-41 24h0m-7-41h0m56 43h0m-7-2h0m-2-3h0m-35-36h0m41 41h0m-31-42h0m8 44h0m2-32h0m-2-1h0m21-3h0m-12 5h0m-29 6h0m34-42h0m-2 47h0m-11-31h0m-17 41h0m-7 8h0m15-15h0m-82 4h0m100-51h0m26 27h0m-68 44h0m81-8h0m-17 2h0m-82-30h0m99 17h0m-40-20h0m-15-12h0m8-49h0m36 68h0m-124 0h0m98-3h0m15 21h0m-3-59h0m-87 22h0m96-26h0m-45 30h0m12-24h0m23 32h0m11 9h0m-30 21h0m42-12h0m-64-3h0m57 10h0m78 52h0m-137 57h0m74-85h0m-34-115h0m-150 113h0m205 61h0m-127-106h0m24 44h0m-17-88h0m-50 38h0m168-62h0m-97 158h0m-25-210h0m-10 173h0m67-103h0m-47 129h0m-50 9h0m66-49h0m-44-87h0m237 44h0m-232 40h0m19-90h0m-12 26h0m153-66h0m-64 1h0m12 67h0m2 16h0m22 56h0m-36-3h0m-60-60h0m-22 56h0m79-43h0m-104 4h0m112 52h0m-77-4h0m-40-71h0m10 41h0m11-58h0m133 107h0m-185 2h0m173-8h0m-89 25h0m72-162h0m-186 19h0m178 259h0m-125-165h0m103-22h0m35 53h0m-39 44h0m50-34h0m28-128h0m28 2h0m-102 39h0m-70 10h0m-46 40h0m98-77h0m19 61h0m-21-133h0m39 130h0m106 123h0m-55-106h0m-52-61h0m-56-24h0" stroke="#b424e4" stroke-width="7"/>
<path d="M1463 1287h0m53 70h0m-111-47h0m20-38h0m52 31h0m89 10h0m-108-44h0m38 20h0m-25-16h0m42 50h0m0-27h0m-29 5h0m-30 26h0m-21-34h0m14 20h0m-5-7h0m16-9h0m12 66h0m-14-19h0m15 46h0m17-52h0m-44 13h0m36-62h0m4 66h0m-18-39h0m48 23h0m-58-70h0m54 56h0m-6 13h0m-19-8h0" stroke="#f4a4f0" stroke-width="7"/>
<ellipse cx="1374" cy="1291" rx="16" ry="16" fill="#a000c8" opacity=".68" filter="url(#bl)" transform="rotate(0 1374 1291)"/>
<path d="M1367 1289h0m9-5h0m-4 29h0m1-11h0m5-27h0m6-7h0m-5 22h0m-16 10h0m5 16h0m-17-7h0m36-12h0m-28-22h0m-12 19h0m24 9h0m6-4h0m-23-6h0m25 12h0m-38 1h0m10-14h0m26 26h0m4-26h0m-17-12h0m-7 8h0m6 19h0m-2-5h0m11-21h0m4-13h0m3 23h0m-12 4h0m14 9h0m-6-19h0m6-17h0m14 19h0m-16 24h0m-14-24h0m12-7h0m11-11h0m-19 26h0m8-10h0m16 24h0m-18-8h0m-17 3h0m20-2h0m5-7h0m-9-22h0m-22 2h0m32 18h0m-18-11h0m17 8h0m11-4h0m-33-22h0m-10 37h0m-18 8h0m58-52h0m-6-5h0m-8 25h0m13-15h0m-23 42h0m-8-25h0m-7 39h0m27-7h0m18-8h0m-13-30h0m-11 33h0m-34-43h0m55 75h0" stroke="#a000c8" stroke-width="7"/>
<ellipse cx="1336" cy="1338" rx="17" ry="27" fill="#f02424" opacity=".68" filter="url(#bl)" transform="rotate(25 1336 1338)"/>
<path d="M1342 1342h0m3 24h0m1-4h0m-15-6h0m13 12h0m-43-6h0m41-50h0m-24 25h0m1-37h0m13 51h0m23-4h0m-21-29h0m10 26h0m2-19h0m-15-6h0m4 26h0m13 14h0m-22 3h0m-1-48h0m10 45h0m15-49h0m-33 25h0m43-33h0m-29 32h0m8 31h0m0-49h0m0 8h0m-18 22h0m39-59h0m-29 60h0m-25 12h0m34-19h0m-20 14h0m36-26h0m-60 20h0m57-53h0m20-3h0m-31 11h0m-24 26h0m54 4h0m-13-5h0m-36 5h0m-25 25h0m41-55h0m-2 26h0m-14 10h0m34 2h0m-39 10h0m37-22h0m-14-10h0m-31 25h0m19 25h0m54-74h0m-61 31h0m37 21h0m-4-22h0m-16 48h0m5-10h0m-30 7h0m21-54h0m-10 20h0m27 9h0m-9-6h0m0 5h0m-46 39h0m41-23h0m11-32h0m-21 22h0m19 4h0m-16-25h0m-4-6h0m12 0h0m-18 57h0m21-76h0m-25 52h0m-4-4h0m40-14h0m-39 0h0m10-5h0m32 21h0m-43-29h0m-7 41h0m40-40h0m-7 7h0m-3-28h0m6 16h0m-15 25h0m30-17h0m-8-12h0m-49 28h0m61-11h0m-30-69h0m-18 96h0m56-69h0m-4-6h0m-44 57h0m55-70h0m-60 49h0m38 2h0m-25 62h0m-41-61h0m106 49h0m-82 1h0m47-19h0m-85-51h0m59 52h0m70-58h0m-99 25h0m66-2h0m-66 15h0m20 29h0m1-21h0m-40-14h0m67-1h0m-75 44h0m85-34h0m-31 68h0m-28-27h0" stroke="#f02424" stroke-width="7"/>
<ellipse cx="1228" cy="1343" rx="10" ry="10" fill="#1ec428" opacity=".68" filter="url(#bl)" transform="rotate(0 1228 1343)"/>
<path d="M1234 1340h0m-9 14h0m12-6h0m-17-9h0m8-8h0m-13 5h0m17 12h0m-5 1h0m14-16h0m-6 5h0m5-11h0m-10 0h0m-2 15h0m-3 7h0m-7-8h0m16-1h0m-1 3h0m-3-7h0m-13 3h0m22 8h0m-14-9h0m13 12h0m-10-1h0m1 5h0m-9-9h0m18 7h0m-24-21h0m28 43h0m-30-35h0m39 0h0m-11 21h0m-15 18h0" stroke="#1ec428" stroke-width="7"/>
<ellipse cx="1399" cy="1343" rx="14" ry="14" fill="#3030e4" opacity=".68" filter="url(#bl)" transform="rotate(0 1399 1343)"/>
<path d="M1400 1339h0m10 17h0m-20-13h0m4 1h0m-8 2h0m27-9h0m-16 5h0m-12 1h0m10-8h0m21 2h0m-22-23h0m11 28h0m5-7h0m-12 7h0m19 9h0m-39 16h0m35-28h0m-26-3h0m-7 2h0m29 5h0m-19 6h0m15-3h0m2 14h0m-1-3h0m5-15h0m-3 1h0m-12 5h0m10 5h0m-4-25h0m-2 19h0m8 1h0m-9-5h0m13 10h0m-12-6h0m1-8h0m-2 1h0m9-6h0m-12 16h0m8-17h0m-13 7h0m17 22h0m-10 20h0m20-75h0m-24 57h0m30-30h0m-31 6h0m11-22h0m1 52h0m1-6h0m-23-1h0m9-7h0m22-38h0" stroke="#3030e4" stroke-width="7"/>
<ellipse cx="1266" cy="1381" rx="12" ry="12" fill="#c400c0" opacity=".68" filter="url(#bl)" transform="rotate(0 1266 1381)"/>
<path d="M1256 1391h0m17-5h0m-14 5h0m14-18h0m-18 16h0m13-16h0m-6 0h0m8 9h0m6 3h0m-7 9h0m-4-24h0m0 3h0m8 26h0m-13-20h0m-7 19h0m32-9h0m-3 6h0m-21-15h0m4 11h0m-13-20h0m18 4h0m-19-2h0m22 26h0m-6-4h0m-13-13h0m16-5h0m-5 31h0m-14-42h0m16 24h0m-16-17h0m11 8h0m-12 6h0m20-9h0m-21 17h0m14-44h0m16 53h0m-35-10h0m13-12h0m18-22h0m3 50h0m-17-18h0m1-13h0m29-12h0m-30 66h0" stroke="#c400c0" stroke-width="7"/>
<ellipse cx="1424" cy="1380" rx="14" ry="14" fill="#20b4d4" opacity=".68" filter="url(#bl)" transform="rotate(0 1424 1380)"/>
<path d="M1423 1379h0m1-2h0m-1 17h0m-13-37h0m18 17h0m-8 5h0m2-10h0m1 8h0m-10 4h0m28 4h0m2-7h0m-13 1h0m-14-10h0m-10 17h0m15-3h0m-10-19h0m3 27h0m29 13h0m-16-24h0m-18-20h0m11 20h0m3-13h0m0 16h0m5 17h0m-16-17h0m6-11h0m8-9h0m15 19h0m-3 0h0m5-11h0m-26 33h0m16-9h0m-8-18h0m-1 17h0m8-14h0m-30 6h0m33 13h0m-11-38h0m-7 32h0m13-6h0m-1-18h0m-14 9h0m22-30h0m23 66h0m-55-62h0m59 49h0m-46-43h0m43 41h0m-28 22h0m-28-52h0m2 17h0m-31-8h0" stroke="#20b4d4" stroke-width="7"/>
<ellipse cx="1386" cy="1401" rx="12" ry="12" fill="#1c30c0" opacity=".68" filter="url(#bl)" transform="rotate(0 1386 1401)"/>
<path d="M1378 1398h0m-1-22h0m15 38h0m5-21h0m-10 15h0m-4-19h0m8 15h0m-9 10h0m-3-9h0m8 10h0m2-23h0m-17 14h0m3 9h0m20-13h0m-13-3h0m19 6h0m-28-9h0m19-2h0m12-3h0m-9 8h0m8 10h0m-15-4h0m-4-19h0m1 11h0m0-3h0m-13 8h0m9 7h0m13-20h0m-6 10h0m0-4h0m-8 20h0m10-27h0m-16 13h0m7-4h0m-10 22h0m34-3h0m-19-17h0m-26 46h0m36-50h0m32-20h0m-51 16h0m-2 13h0m2-5h0m0 10h0" stroke="#1c30c0" stroke-width="7"/>
<ellipse cx="1488" cy="1389" rx="24" ry="24" fill="#5ce410" opacity=".68" filter="url(#bl)" transform="rotate(0 1488 1389)"/>
<path d="M1481 1373h0m29-14h0m-4 56h0m-19-41h0m5 9h0m-16 33h0m29-71h0m-46 33h0m73-3h0m-53 33h0m13-42h0m34 44h0m-46-14h0m6-3h0m12-9h0m39 5h0m-58 26h0m-3-13h0m41-27h0m-47 45h0m23-70h0m-23 49h0m36-23h0m-35 34h0m10-43h0m60 49h0m-42-3h0m-14-18h0m6 14h0m6-17h0m-28-5h0m35 8h0m-10 32h0m30-56h0m-18 5h0m-13 40h0m3 16h0m-3-18h0m-11-31h0m4-16h0m-6-1h0m10 14h0m4 38h0m11-18h0m-19-21h0m-22 27h0m29-1h0m-43-20h0m1-1h0m28 6h0m26-14h0m0 32h0m-18-18h0m-2 9h0m-10 0h0m19-12h0m-7 6h0m-12 8h0m8-1h0m-9 23h0m34-47h0m-33 6h0m17 6h0m-27 0h0m-21-1h0m36-3h0m29 21h0m-1-14h0m-16-23h0m18 20h0m-26 8h0m-15-1h0m14-31h0m21 9h0m-24 20h0m8-21h0m-28 23h0m17-9h0m6-7h0m60-25h0m-32 33h0m-38 22h0m17-34h0m-13 1h0m6 18h0m3-22h0m-20 8h0m44-14h0m-24-22h0m8 36h0m21-20h0m-21 44h0m-2-55h0m27 53h0m-16-28h0m-13 30h0m1 23h0m-2-53h0m-2-21h0m-2 77h0m-2-46h0m-9 16h0m24 15h0m-52-5h0m18-13h0m26-9h0m-18 40h0m-5-70h0m53 45h0m-33 3h0m-13 2h0m31-43h0m-21 11h0m-1-5h0m19-5h0m-5 40h0m-40-69h0m36 80h0m-6-46h0m-71 8h0m75 19h0m73-25h0m-91-52h0m32 23h0m73-10h0m-108-10h0m43 74h0m-94-32h0m156 42h0m-76-26h0m-22-58h0m-5 117h0m35-12h0m17-65h0m-73 27h0m17-47h0m-18 79h0m-30-102h0m60 94h0m10 6h0m-22-36h0m39 46h0m23-40h0m-15-23h0m-80-12h0m18-69h0m8 100h0m25-21h0m-10 29h0m20 27h0" stroke="#5ce410" stroke-width="7"/>
<ellipse cx="1570" cy="1343" rx="21" ry="21" fill="#f0e444" opacity=".56" filter="url(#bl)" transform="rotate(0 1570 1343)"/>
<path d="M1543 1322h0m65 40h0m-43-6h0m20-10h0m2-2h0m-20-21h0m7 64h0m15-59h0m-20 32h0m27-4h0m-42-32h0m7 3h0m-6 16h0m14 7h0m-16-19h0m33 3h0m-8 9h0m-27 2h0m-9-20h0m6 9h0m50-28h0m-4 59h0m-44-5h0m23-24h0m32 19h0m-65-18h0m45 21h0m-21-18h0m-1-7h0m1 4h0m-1-14h0m6-4h0m2 23h0m14 11h0m-31 1h0m5-20h0m9 23h0m-6 4h0m19-24h0m-3-18h0m-27 35h0m2-38h0m38 35h0m-33-3h0m23-14h0m-25-15h0m20 16h0m-14 1h0m10 5h0m-30 21h0m42-16h0m-19-13h0m20 7h0m-31 5h0m10-6h0m-13-4h0m28 17h0m11-3h0m-18 15h0m-19-35h0m20 36h0m-15-39h0m15 18h0m-8 22h0m2 5h0m24-45h0m0 29h0m-1-43h0m1 40h0m-19 12h0m-30-1h0m37-13h0m-20-72h0m-11 171h0m-16-151h0m96 60h0m-71-19h0m29 29h0m16-26h0m-56-11h0m-11 32h0m48-18h0m-34-9h0m15 11h0m-20-9h0m-10-43h0m110 29h0m-112-15h0m81 28h0m-76 9h0m27 10h0m10-62h0m23 47h0" stroke="#f0e444" stroke-width="7"/>
<ellipse cx="1558" cy="1406" rx="22" ry="22" fill="#b0e440" opacity=".62" filter="url(#bl)" transform="rotate(0 1558 1406)"/>
<path d="M1558 1421h0m-4-5h0m-6-23h0m25 20h0m-20-8h0m-21-25h0m1 11h0m31 18h0m-4-33h0m4 42h0m-6 15h0m1 10h0m0-51h0m-32 3h0m31 24h0m-50-46h0m60 51h0m2-16h0m5-40h0m-18 53h0m22 0h0m-47 2h0m19 3h0m9-27h0m-1 41h0m35-55h0m-27 14h0m-10 23h0m19-1h0m-23-8h0m5-20h0m-13 28h0m-5-45h0m35 25h0m0-20h0m-32 15h0m33 14h0m-3-5h0m18-3h0m-23-34h0m-45 36h0m9-12h0m33 18h0m-8-12h0m-2 13h0m33-21h0m13 6h0m-60 10h0m13 20h0m-8 6h0m13 15h0m-10-42h0m5 12h0m-19-26h0m7 44h0m32-10h0m-1-13h0m-33-24h0m-11 27h0m9 5h0m41 5h0m-38-2h0m5-15h0m22-23h0m-14 23h0m32 14h0m-40-11h0m15-10h0m-11 14h0m25-13h0m-19-2h0m-5 9h0m-22-16h0m15-3h0m16-7h0m23 32h0m-24-33h0m-48 10h0m32 44h0m-4-32h0m13 7h0m-3-25h0m16-21h0m13 41h0m-22 8h0m0-31h0m4-22h0m-2 56h0m17 4h0m3-30h0m-39 61h0m73-38h0m-57-10h0m38 33h0m3-51h0m-28 37h0m6 4h0m43-3h0m-62-68h0m50 81h0m-74-7h0m7-56h0m33 35h0m70-16h0m-105-57h0m3 43h0m-17 11h0m49 33h0m20-47h0m-46 5h0m12 41h0m-84 4h0m128-50h0m-20-7h0" stroke="#b0e440" stroke-width="7"/>
<ellipse cx="1697" cy="1401" rx="25" ry="15" fill="#f03410" opacity=".68" filter="url(#bl)" transform="rotate(-20 1697 1401)"/>
<path d="M1687 1388h0m0 18h0m-6-1h0m24-27h0m-13 13h0m8 12h0m7 3h0m-10-4h0m7-1h0m-33 13h0m24-37h0m26 19h0m-46 14h0m34-8h0m-9-18h0m2 32h0m2-31h0m5 25h0m17-32h0m-50 21h0m51 8h0m-20 13h0m-45-8h0m26 4h0m18 1h0m-32-13h0m47 17h0m-18-10h0m17-9h0m11-3h0m0 9h0m-53-7h0m36-26h0m-6 36h0m-3-8h0m15-24h0m-29 51h0m-20-25h0m52-29h0m5 15h0m-14 7h0m12 14h0m11-4h0m-31-7h0m-9-11h0m-13 26h0m24-26h0m-8-7h0m-37 36h0m47-35h0m21 30h0m-16 14h0m-57-21h0m17-13h0m27-8h0m-34 38h0m85-34h0m-61 29h0m10-19h0m-2 4h0m-5-3h0m-11-9h0m3 13h0m33-5h0m0 0h0m-17-18h0m36 20h0m-50 4h0m44-18h0m-28 0h0m-3 10h0m-8-9h0m11-7h0m-1 2h0m23 40h0m-9-7h0m-57 6h0m-11 6h0m72-88h0m-30 18h0m-22 15h0m53 9h0m-44 34h0m28-8h0m-22 7h0m1-7h0m18-15h0m-1 19h0m-48-22h0m46-1h0m-26 49h0m-21-25h0m105-57h0m-56 31h0m35 50h0m23-23h0m-59 45h0m-9-17h0m-6-35h0m-34 37h0" stroke="#f03410" stroke-width="7"/>
<ellipse cx="1615" cy="1437" rx="23" ry="9" fill="#f04020" opacity=".38" filter="url(#bl)" transform="rotate(-25 1615 1437)"/>
<path d="M1659 1434h0m-23 4h0m-31-3h0m7 7h0m17-1h0m-24 4h0m9-9h0m-2 5h0m6-3h0m-27 9h0m10 7h0m23-29h0m-16 29h0m47-24h0m-39-4h0m-1 14h0m10-17h0m-24 15h0m12-11h0m-18 14h0m15-9h0m37-6h0m-19 7h0m16-18h0m-52 55h0m38-26h0m-10-59h0m18 2h0m-20 68h0m-61 19h0m44-26h0" stroke="#f04020" stroke-width="7"/>
<ellipse cx="1628" cy="1457" rx="20" ry="20" fill="#50d424" opacity=".68" filter="url(#bl)" transform="rotate(0 1628 1457)"/>
<path d="M1659 1446h0m-52-12h0m26 34h0m-30-5h0m28 13h0m-34-30h0m39 22h0m-14-6h0m7-14h0m-14-3h0m12 23h0m35 10h0m-33-33h0m11 5h0m-21 27h0m32-15h0m-47 20h0m53-19h0m-37 13h0m12-16h0m26-10h0m-31 7h0m-6 8h0m42-15h0m-35 42h0m-4-44h0m-28 16h0m47 2h0m-11-25h0m-11 29h0m16-12h0m-25-23h0m7 24h0m4 3h0m22-2h0m-11-7h0m4-39h0m-40 43h0m24-4h0m-26 8h0m18-3h0m24 20h0m20-38h0m-36 18h0m-12 19h0m14-24h0m-27 12h0m42 26h0m-3-59h0m7 16h0m-1 36h0m-19-23h0m8-11h0m40-8h0m-45 29h0m21-20h0m-20-4h0m-8 2h0m0-2h0m6 27h0m-13-9h0m-13 1h0m53-3h0m-29 3h0m14-1h0m2-37h0m-25-3h0m7 15h0m23-6h0m17 27h0m-50 10h0m6-35h0m-1 21h0m30 7h0m-37 1h0m0 4h0m23-24h0m-3 27h0m-23-9h0m25-9h0m-6-47h0m82-20h0m-4 161h0m-101-83h0m6 10h0m19-42h0m9 30h0m41-63h0m-56 55h0m-1 16h0m12-32h0m-20 76h0m-4-45h0m66-82h0m-85 96h0m66-8h0m19 4h0m-3-51h0m-46 23h0m-12-24h0m-25 67h0m54 32h0m10-23h0m-53-73h0" stroke="#50d424" stroke-width="7"/>
<ellipse cx="1716" cy="1513" rx="24" ry="24" fill="#f06410" opacity=".68" filter="url(#bl)" transform="rotate(0 1716 1513)"/>
<path d="M1710 1518h0m-12-3h0m20 2h0m-22 12h0m0 17h0m-9-43h0m18-5h0m11-1h0m4 33h0m-8-25h0m27 32h0m-37-21h0m43-33h0m-14 46h0m-7-50h0m7 45h0m-19-10h0m17-10h0m-21 22h0m-5 13h0m20-48h0m-1 75h0m-3-27h0m15-43h0m-47 33h0m33-23h0m1 26h0m10-22h0m-39 28h0m21-29h0m37 22h0m-29-10h0m-1-1h0m-3-15h0m24-6h0m-16 0h0m-4 11h0m-9 2h0m37-2h0m-64-13h0m13-3h0m14 30h0m-9-20h0m23 19h0m3 20h0m0-44h0m4 26h0m13-9h0m-37 44h0m-11 0h0m11-36h0m-11 9h0m15-16h0m14 8h0m-26 29h0m1-65h0m5 27h0m-14-7h0m29-3h0m-2-20h0m-18 47h0m12-55h0m39 19h0m-51 13h0m13 25h0m1-37h0m27 24h0m-25-21h0m0-3h0m11 36h0m-13-34h0m-12 48h0m-3-43h0m33-8h0m22 42h0m-40-41h0m-2 35h0m34-32h0m-16 47h0m-7-46h0m-14 23h0m1-22h0m17-1h0m-29 14h0m19-53h0m-25 78h0m69-39h0m-23 51h0m-28-46h0m6 26h0m28-19h0m-24 16h0m12 7h0m-45-15h0m21 11h0m10-40h0m-27 14h0m37 23h0m-39-15h0m9 5h0m10-55h0m5 55h0m-17-12h0m46-13h0m-20 9h0m-6 7h0m-6 3h0m5 4h0m-13-48h0m6 67h0m25-19h0m-17-19h0m7 18h0m7-10h0m-16 21h0m-16 8h0m39-19h0m-40-41h0m18-19h0m-60 74h0m62-34h0m25-59h0m-42 39h0m-2-5h0m31 77h0m-10-26h0m34 6h0m-83 2h0m79 24h0m-6-58h0m-124-10h0m105 72h0m38-42h0m24-53h0m-116 113h0m114-67h0m-63 57h0m-17-42h0m87-57h0m-207 52h0m172 23h0m6 42h0m-23-26h0m-39-109h0m91 50h0m-154 74h0m79-83h0m-1 59h0m16-54h0m-13-8h0" stroke="#f06410" stroke-width="7"/>
<ellipse cx="1317" cy="1452" rx="17" ry="17" fill="#6410c4" opacity=".68" filter="url(#bl)" transform="rotate(0 1317 1452)"/>
<path d="M1360 1442h0m-32 1h0m-27 3h0m17 19h0m8 0h0m-16-11h0m27 16h0m0-32h0m-31 11h0m10 8h0m-13-16h0m0 30h0m16-39h0m8 27h0m0-21h0m-28 9h0m5-19h0m20 21h0m-23 16h0m18-3h0m10-11h0m-11 4h0m-2-2h0m-16-4h0m4-10h0m10 16h0m-12 0h0m23-23h0m-9 27h0m35-15h0m-28 10h0m-11 4h0m3 0h0m5-3h0m-24-10h0m41 7h0m-33-8h0m35-4h0m-24-5h0m-8 20h0m4 12h0m22-15h0m-4-20h0m-18 5h0m2 21h0m11 1h0m-11 2h0m29 0h0m-35-12h0m18 24h0m-11-38h0m23 39h0m-14-30h0m2-13h0m-8 41h0m-7-36h0m8 32h0m-10-28h0m19 53h0m-30-11h0m12-68h0m-7-8h0m-35 89h0m59-43h0m-30 31h0m-30-70h0m24 59h0m54-20h0m-1 40h0m-1-27h0m-34 9h0m11 52h0m-16-55h0m61-52h0m-42 51h0" stroke="#6410c4" stroke-width="7"/>
<ellipse cx="1272" cy="1427" rx="9" ry="9" fill="#980078" opacity=".62" filter="url(#bl)" transform="rotate(0 1272 1427)"/>
<path d="M1263 1421h0m-3 6h0m8 5h0m0-2h0m-4-2h0m-6 0h0m12-5h0m1-8h0m-3 4h0m3 6h0m-1 0h0m-9 7h0m22 3h0m-15-1h0m18-7h0m-15 4h0m9-18h0m1 13h0m-7 1h0m-26-14h0m14-7h0m-18 24h0m60-15h0m-46 6h0" stroke="#980078" stroke-width="7"/>
<ellipse cx="1418" cy="1521" rx="38" ry="38" fill="#3cf0d4" opacity=".62" filter="url(#bl)" transform="rotate(0 1418 1521)"/>
<path d="M1495 1512h0m-75-18h0m33 0h0m-57 15h0m-11-22h0m19 70h0m78-57h0m-47 35h0m-41-40h0m39 9h0m-43 29h0m-4 6h0m-5 29h0m24-85h0m-6 51h0m5-45h0m7 36h0m16 35h0m-49-44h0m67-2h0m52-61h0m-75 66h0m52-16h0m-37 8h0m3-15h0m-53 4h0m-8 14h0m5-19h0m64-15h0m-41 61h0m2-21h0m-7 10h0m50 1h0m5 38h0m-65-46h0m20-18h0m45-39h0m-14-14h0m-35 79h0m10 4h0m57-70h0m-82 79h0m20 15h0m2-47h0m-30 11h0m48-51h0m-45 64h0m-14-19h0m43-1h0m6 9h0m-22 59h0m90-42h0m-44-9h0m-62 75h0m41-104h0m-16 50h0m47 26h0m-48-50h0m-34-3h0m46 22h0m-21-19h0m15 23h0m-63-53h0m59-6h0m33 91h0m-42-43h0m38-37h0m-73 15h0m43 9h0m36-1h0m-29-36h0m40 9h0m-30 14h0m-55-38h0m54 56h0m59-25h0m-85 105h0m20-89h0m-52 42h0m84-71h0m-23 13h0m4-56h0m16 73h0m-40-6h0m-16-31h0m43-7h0m-61 45h0m67 36h0m21 5h0m-39-43h0m-18-20h0m56-9h0m-63 57h0m13-12h0m-2-1h0m16-7h0m7-50h0m-14 58h0m-60 8h0m28-2h0m56-9h0m37-38h0m-50 33h0m3-26h0m-31 39h0m33-31h0m12-33h0m-46 45h0m-21-48h0m46 65h0m16-7h0m14-18h0m-87 32h0m105-27h0m-55-16h0m5 21h0m23 36h0m24-54h0m-97-10h0m45-36h0m-3 88h0m-7-28h0m26 23h0m-32-17h0m-7-33h0m-20 3h0m50 86h0m25-78h0m-57 18h0m39-28h0m-23 36h0m-39-32h0m73 32h0m-32 35h0m-59-5h0m61-59h0m33 57h0m-38-29h0m-37-59h0m-15 85h0m30-99h0m10 56h0m1 31h0m-42 13h0m114-19h0m-134 2h0m82-40h0m25-8h0m-25 56h0m1-50h0m-8 26h0m53 1h0m-27-78h0m-62 108h0m47-47h0m0-23h0m70 95h0m-27-30h0m-17 2h0m-6-49h0m-27 53h0m-22-19h0m40 13h0m-22 11h0m-40-4h0m66-46h0m-11 40h0m13-47h0m-45 37h0m32-28h0m-30 8h0m15-61h0m30 69h0m-30-20h0m-10-12h0m11 58h0m-14 31h0m72-32h0m-37-1h0m-10-28h0m30 30h0m-91-6h0m36-42h0m-3 60h0m18-57h0m20 35h0m61-63h0m-73-5h0m13 85h0m-54 11h0m-25-75h0m64-27h0m1 53h0m23-31h0m-63 21h0m69 38h0m-74-14h0m11-29h0m49 3h0m7 37h0m47 5h0m-68-64h0m20 3h0m-42-9h0m-18 24h0m21-28h0m3 43h0m-15 6h0m4-21h0m24-33h0m-43 42h0m47 17h0m35-73h0m-20 27h0m-30 7h0m7 20h0m16-16h0m-8 39h0m-34-6h0m51-46h0m-60 80h0m7-24h0m26 10h0m44-81h0m-21 30h0m-44-9h0m38 86h0m-17-88h0m83-76h0m-82 116h0m-44 37h0m73-42h0m3 25h0m6 25h0m0-96h0m-113 41h0m63-43h0m36 68h0m-9-53h0m-7 62h0m40-60h0m-60 9h0m18-37h0m40 63h0m-5-24h0m-63 38h0m36-3h0m5-62h0m24 60h0m-13-3h0m-23 38h0m32-41h0m-34-13h0m63-36h0m43 25h0m-157-20h0m161 8h0m-46 29h0m-58-28h0m12 137h0m-44-152h0m-16 219h0m88-210h0m-41-46h0m-40-122h0m164 155h0m-197 109h0m86-114h0m-18 198h0m21-65h0m-5-158h0m-153 52h0m76 34h0m159 50h0m-115-11h0m71-88h0m-20 23h0m-75 45h0m-41-132h0m172 156h0m-107-6h0m101 14h0m-148-85h0m119 43h0m-38 1h0m-11-29h0m-56-73h0m47 89h0m70-29h0m-75 1h0m-82 38h0m128 24h0m45-121h0m-57 6h0m15 44h0m-61 21h0m-35 8h0m149 24h0m-83 87h0m111-116h0m-116 6h0m16 48h0m75 70h0m-58-73h0m16-65h0m-61-5h0m116 82h0m-37-79h0m-97 10h0m-15 91h0m-29-74h0m137-223h0m-81 161h0m80 134h0m-76-191h0m38 157h0m-36-126h0m-43 88h0m83 22h0m-66 31h0m109-137h0m-106-16h0m-18 17h0m105 115h0m-56 22h0m-11-128h0m-61 40h0" stroke="#3cf0d4" stroke-width="7"/>
<ellipse cx="1492" cy="1495" rx="22" ry="22" fill="#5cf0f4" opacity=".62" filter="url(#bl)" transform="rotate(0 1492 1495)"/>
<path d="M1461 1494h0m15 23h0m21-40h0m5-6h0m-5 12h0m-8 37h0m9-36h0m22 44h0m-4-19h0m-6 17h0m-28-25h0m-12-1h0m41 9h0m-18-14h0m-26 6h0m36 20h0m-21-38h0m5 14h0m11-15h0m6 17h0m-20 17h0m-3-10h0m-24 17h0m44-30h0m-17-22h0m31 9h0m-52 26h0m1 21h0m50-45h0m-18 41h0m-28-22h0m45-21h0m-56 15h0m0-1h0m52 3h0m-29 9h0m24 1h0m-23-8h0m16 8h0m12-42h0m-19 16h0m-7 15h0m27-4h0m-36 1h0m38 5h0m-52-29h0m12 10h0m8 42h0m32-29h0m-5 10h0m8-4h0m-21-1h0m4-19h0m-4 25h0m-38 24h0m40-9h0m26-46h0m-47 73h0m14-26h0m23-3h0m-34-5h0m-6 1h0m37-33h0m11 20h0m-15 6h0m12 15h0m-37-13h0m0-7h0m20-26h0m-19 19h0m12-6h0m-17-23h0m16 44h0m4-41h0m3 17h0m-42 41h0m28-17h0m17-18h0m-37-2h0m58-8h0m-18 6h0m5-29h0m-32 63h0m18-11h0m-21-27h0m13 6h0m-11 46h0m12-24h0m34 51h0m-76-133h0m23-12h0m-1 134h0m43-44h0m-18-58h0m-67 23h0m90-15h0m-69 48h0m50-22h0m-5 30h0m-47-73h0m23 90h0m-35 0h0m66 34h0m-20-23h0m16-56h0m-75 58h0m-17-125h0m66 121h0m92-102h0m-74 82h0m7-18h0m30 15h0m-90-27h0m77 78h0" stroke="#5cf0f4" stroke-width="7"/>
<ellipse cx="1310" cy="1546" rx="33" ry="33" fill="#3090f4" opacity=".62" filter="url(#bl)" transform="rotate(0 1310 1546)"/>
<path d="M1332 1518h0m-26 9h0m-20-8h0m2 72h0m82-22h0m-73-26h0m-7 27h0m25-14h0m3-22h0m1-16h0m48-11h0m-13 36h0m-78 46h0m32-33h0m20-12h0m12-47h0m-6 0h0m-35 78h0m-25-21h0m63 17h0m-25-30h0m-23 5h0m16-11h0m5-19h0m29 28h0m-9 35h0m28-49h0m-52 46h0m-1-25h0m-23 38h0m-5-82h0m64 41h0m-28-14h0m28-42h0m-54 56h0m16 36h0m-18-18h0m35-28h0m-41 13h0m5-10h0m22 25h0m32-47h0m7-2h0m-82 35h0m115-11h0m-24 11h0m-63 4h0m4-26h0m12-20h0m-5 7h0m-3 3h0m45 75h0m-6-56h0m-69 19h0m73-56h0m2 42h0m-61-49h0m42 58h0m-9-5h0m19-16h0m-47 20h0m21 30h0m-34-56h0m13 12h0m33 19h0m5-12h0m-17 0h0m24-2h0m-38 52h0m33-97h0m-11 7h0m14 14h0m-5 65h0m-20 19h0m-7-56h0m23 28h0m18-23h0m-52 8h0m63 4h0m-56-43h0m69 10h0m-52 7h0m-23 37h0m-6-7h0m35 29h0m3-60h0m-24 15h0m8-79h0m-19 57h0m30-9h0m45 21h0m-67 28h0m28-51h0m22 30h0m-22 0h0m9-7h0m-56 49h0m55-67h0m-7 11h0m26 23h0m-77 2h0m24 1h0m-53 12h0m111-13h0m-66 9h0m-38-5h0m57-43h0m21 30h0m9-32h0m-57-21h0m39 41h0m-13-7h0m14 17h0m25 21h0m-3-21h0m-22-22h0m14-9h0m-41 23h0m64 13h0m-24-16h0m-35-16h0m70 59h0m-83-63h0m7 59h0m4 6h0m-4-15h0m29-32h0m9 50h0m6-41h0m-36-6h0m10 4h0m12-23h0m-2 45h0m-41-47h0m10 23h0m48-2h0m-15-1h0m27 43h0m1-33h0m-27 34h0m-37 2h0m36-73h0m-57 31h0m25 5h0m8-2h0m-24 19h0m60-30h0m-3-11h0m-32 40h0m-8-27h0m-24-5h0m96 3h0m-25 62h0m-43-40h0m5-6h0m31-40h0m3 18h0m-42-3h0m34-3h0m-17-24h0m45 24h0m-44 37h0m-24 30h0m-4-24h0m53 13h0m-17 21h0m-11-71h0m57 32h0m-29-24h0m-34 3h0m-2 7h0m37-31h0m-29 44h0m15 4h0m-48 8h0m36-50h0m-31-9h0m38-41h0m-5 24h0m43 41h0m-31 9h0m-6 7h0m16-13h0m-47 32h0m25-20h0m-30-11h0m1-18h0m35 33h0m52-83h0m-150 106h0m78-33h0m-127-93h0m134 43h0m167 99h0m-168-14h0m-74-81h0m98-42h0m70 32h0m-70-43h0m-97 18h0m100 89h0m-16-2h0m-62 5h0m129 32h0m-146-86h0m66-29h0m138 63h0m-226-45h0m74 73h0m56 7h0m-83-13h0m185-83h0m-124 117h0m-132-20h0m147-41h0m-95 25h0m78-61h0m32 108h0m-6-15h0m15-46h0m-169-31h0m117-1h0m44 74h0m35-26h0m-134 17h0m99-25h0m-82 14h0m129 41h0m-160-109h0m131-52h0m21 123h0m-52-36h0m6 103h0m-67-28h0m8-12h0m-15-5h0m27-86h0m65 63h0m25-33h0m-89 56h0m-59-59h0m107-30h0m-101 0h0m114 89h0" stroke="#3090f4" stroke-width="7"/>
<ellipse cx="1399" cy="1604" rx="18" ry="18" fill="#2424d8" opacity=".68" filter="url(#bl)" transform="rotate(0 1399 1604)"/>
<path d="M1392 1611h0m-3 8h0m-18-29h0m57 34h0m-37-18h0m18 11h0m-11 5h0m-1-39h0m13 30h0m-36-22h0m35 50h0m10-22h0m-14 19h0m6-55h0m-14 30h0m-16-34h0m27 15h0m-61 30h0m58-23h0m6-1h0m-5 3h0m-33 12h0m6 5h0m-5-11h0m4 10h0m48-9h0m0-13h0m-41 17h0m24-18h0m-9 15h0m-25 17h0m11-32h0m25 10h0m-1 8h0m2 4h0m-23 6h0m17-33h0m7 1h0m-19-1h0m-12 31h0m18-14h0m4-13h0m-5 9h0m26-1h0m-23-10h0m6 14h0m-24-6h0m-13 27h0m22-30h0m34-17h0m-42 39h0m13-10h0m-12-29h0m4 34h0m-1-38h0m-13 31h0m27 1h0m-12-12h0m9 13h0m-19-5h0m15 0h0m-10-3h0m4-2h0m5 10h0m5 21h0m27-21h0m-2 47h0m-2-56h0m-26-33h0m-7 45h0m54-13h0m-21-5h0m8 65h0m-17-67h0m-53-35h0m52 58h0m-23-25h0m-6 51h0m10-64h0m20 30h0m-8 83h0m-7-82h0m-38 16h0m83-25h0" stroke="#2424d8" stroke-width="7"/>
<ellipse cx="1497" cy="1609" rx="20" ry="20" fill="#f09420" opacity=".68" filter="url(#bl)" transform="rotate(0 1497 1609)"/>
<path d="M1474 1593h0m25 25h0m-16 3h0m9-12h0m20-11h0m-5 35h0m13-30h0m-21-2h0m-8 39h0m44-15h0m-60-6h0m59-16h0m-6 2h0m-37-4h0m9 2h0m-7-24h0m6 25h0m-6 32h0m-35-21h0m34-30h0m-1 19h0m5 41h0m-24-51h0m67 9h0m-36-13h0m-13 27h0m0 27h0m4-32h0m12 3h0m-6-9h0m-6 2h0m-6-15h0m25 21h0m3-21h0m-19 22h0m-25 14h0m5-37h0m14 23h0m5-7h0m-16 2h0m-23 8h0m66 5h0m-29 6h0m-6-24h0m21-22h0m0 16h0m1-32h0m4 74h0m-10-37h0m-25-10h0m27 0h0m-19 22h0m1-32h0m0 24h0m14 11h0m-16-12h0m40 13h0m5-17h0m-40 32h0m-18-31h0m2 39h0m-1-70h0m56 45h0m-30-9h0m18 17h0m-24-49h0m-1 19h0m-11 24h0m33-17h0m18 6h0m-42 4h0m35 6h0m-23-8h0m-24 15h0m28-7h0m14-17h0m-25 29h0m21-31h0m-7-7h0m9 46h0m0-27h0m-68 44h0m61-25h0m-13-27h0m31 50h0m11-59h0m-51 53h0m-28-34h0m37-17h0m-24-29h0m43 85h0m7-37h0m-6-3h0m-8 37h0m-16-28h0m-23 14h0m22 13h0m-57-61h0m37-4h0m30 58h0m-79-41h0m31 37h0m31-15h0m-10-41h0" stroke="#f09420" stroke-width="7"/>
<path d="M1528 1636h0m50-89h0m22-3h0m6-17h0m-101-31h0m81 64h0m-16-8h0m7-1h0m-37-3h0m43 46h0m29-54h0m-22-28h0m-44 76h0m30-34h0m-5-28h0m8 26h0m-13-23h0m11-1h0m17 46h0m-11-6h0m-2-13h0m-25-14h0m-18-5h0m77 20h0m-54-42h0m23 25h0m30 39h0m-38-5h0m-24-1h0m-10-18h0m9 27h0m51 24h0m-24-60h0m-10-39h0m4 40h0m15-41h0m-28 53h0m28-15h0m-42 3h0m42-1h0m-50 65h0m31-79h0m-10 22h0m34 29h0m-10-47h0m-33 34h0m44-1h0m-1-40h0m-28 24h0m-18 1h0m47-8h0m-70-55h0m41 81h0m8 1h0" stroke="#94e444" stroke-width="7"/>
<ellipse cx="1253" cy="1503" rx="7" ry="7" fill="#20d428" opacity=".68" filter="url(#bl)" transform="rotate(0 1253 1503)"/>
<path d="M1247 1503h0m5-4h0m12 13h0m-14-32h0m8 19h0m-8 2h0m0 7h0m1-9h0m-4 12h0m-1-25h0m5 16h0m13-12h0m-10 26h0m8-24h0m-9 9h0m18 14h0m-20-14h0m-4-14h0" stroke="#20d428" stroke-width="7"/>
<path d="M1685 1531h0m7-5h0m-50-3h0m9-22h0m-8 23h0m3 12h0m37 6h0m-18-56h0m-46-15h0m36 51h0m8-33h0m-1 20h0m17-5h0m2 17h0m-24-28h0m-6-6h0m30 2h0m3 12h0m-58 61h0m-6-59h0m52-32h0m27 76h0m-64-44h0m20 25h0m-19-9h0m13-16h0m43-14h0m-10 61h0m-78-63h0m110-7h0m-70 2h0m12 57h0" stroke="#a0e860" stroke-width="7"/>
<ellipse cx="1374" cy="1663" rx="5" ry="5" fill="#202020" opacity=".38" filter="url(#bl)" transform="rotate(0 1374 1663)"/>
<path d="M1374 1661h0m3-1h0m-6 8h0m2-4h0m0-10h0m-10 13h0m0-19h0" stroke="#202020" stroke-width="7"/>
</g>
</g>
<g font-size="3.4" font-weight="bold" fill="#111" text-anchor="middle">
<text x="137.42" y="124.98">6</text>
<text x="147.57" y="124.98">13</text>
<text x="162.8" y="130.43">25</text>
<text x="137.42" y="130.43">21</text>
<text x="131.71" y="129.16">24</text>
<text x="133.61" y="135.89">1</text>
<text x="122.19" y="135.89">12</text>
<text x="139.96" y="135.64">22</text>
<text x="126.63" y="139.7">23</text>
<text x="142.5" y="139.57">17</text>
<text x="138.69" y="141.73">19</text>
<text x="148.84" y="140.21">9</text>
<text x="149.22" y="135.89">30</text>
<text x="157.09" y="135.64">5</text>
<text x="156.08" y="142.24">10</text>
<text x="169.78" y="141.48">3</text>
<text x="162.8" y="147.06">8</text>
<text x="171.69" y="152.9">2</text>
<text x="131.71" y="146.55">27</text>
<text x="127.65" y="143.76">26</text>
<text x="146.94" y="145.66">28</text>
<text x="141.86" y="153.91">15</text>
<text x="149.22" y="151.12">16</text>
<text x="131.07" y="156.2">18</text>
<text x="139.96" y="161.78">20</text>
<text x="149.73" y="162.54">4</text>
<text x="155.82" y="157.47">7</text>
<text x="125.36" y="151.63">11</text>
<text x="137.42" y="167.62">29</text>
</g>
<text x="149.55" y="113.7" font-size="5.3" text-anchor="middle" textLength="57.5" lengthAdjust="spacingAndGlyphs">Phenograph scattar plot</text>
<path d="M119.3 128h-1.9" stroke="#222" stroke-width=".6"/>
<text x="116.4" y="129.95" font-size="5.5" text-anchor="end">20</text>
<path d="M119.3 141.8h-1.9" stroke="#222" stroke-width=".6"/>
<text x="116.4" y="143.75" font-size="5.5" text-anchor="end">0</text>
<path d="M119.3 156.2h-1.9" stroke="#222" stroke-width=".6"/>
<text x="116.4" y="158.15" font-size="5.5" text-anchor="end">-20</text>
<path d="M133 167.8v1.9" stroke="#222" stroke-width=".6"/>
<text x="132.2" y="177.5" font-size="5.5" text-anchor="middle">-20</text>
<path d="M149 167.8v1.9" stroke="#222" stroke-width=".6"/>
<text x="149" y="177.5" font-size="5.5" text-anchor="middle">0</text>
<path d="M164.5 167.8v1.9" stroke="#222" stroke-width=".6"/>
<text x="164.5" y="177.5" font-size="5.5" text-anchor="middle">20</text>
<text x="149.55" y="183.9" font-size="5.6" text-anchor="middle" textLength="14.6" lengthAdjust="spacingAndGlyphs">tsne_1</text>
<text font-size="5.6" text-anchor="middle" textLength="14.6" lengthAdjust="spacingAndGlyphs" stroke="#111" stroke-width=".12" transform="translate(108.4 141.8) rotate(-90)">tsne_2</text>
<text x="178.2" y="15.9" font-size="12.6" font-weight="bold" fill="#000" stroke="#000" stroke-width=".45">B</text>
<text font-size="5.8" text-anchor="middle" textLength="13" lengthAdjust="spacingAndGlyphs" stroke="#111" stroke-width=".12" transform="translate(187.3 111) rotate(-90)">Value</text>
<path d="M199.4 17.04h-1.9" stroke="#222" stroke-width=".7"/>
<text x="195.8" y="18.94" font-size="5.4" text-anchor="end" fill="#222">2</text>
<path d="M199.4 30h-1.9" stroke="#222" stroke-width=".7"/>
<text x="195.8" y="31.9" font-size="5.4" text-anchor="end" fill="#222">0</text>
<path d="M199.4 42.96h-1.9" stroke="#222" stroke-width=".7"/>
<text x="195.8" y="44.86" font-size="5.4" text-anchor="end" fill="#222">−2</text>
<path d="M199.4 55.92h-1.9" stroke="#222" stroke-width=".7"/>
<text x="195.8" y="57.82" font-size="5.4" text-anchor="end" fill="#222">−4</text>
<path d="M199.4 68.88h-1.9" stroke="#222" stroke-width=".7"/>
<text x="195.8" y="70.78" font-size="5.4" text-anchor="end" fill="#222">−6</text>
<rect x="199.4" y="7.6" width="25.8" height="7.1" fill="#d9d9d9" stroke="#3a3a3a" stroke-width=".7"/>
<rect x="199.4" y="14.7" width="25.8" height="56.5" fill="#fff" stroke="#3a3a3a" stroke-width=".7"/>
<text x="212.3" y="12.65" font-size="4.5" text-anchor="middle" textLength="17.55" lengthAdjust="spacingAndGlyphs" fill="#000" stroke="#000" stroke-width=".08">Cluster_1</text>
<path d="M203.3 25.01V31.94" stroke="#2a2a2a" stroke-width=".6"/>
<rect x="201.1" y="28.06" width="4.4" height="3.24" fill="#d8103a"/>
<path d="M201.1 29.35h4.4" stroke="#111" stroke-width=".9"/>
<path d="M209.4 28.06V33.76" stroke="#2a2a2a" stroke-width=".6"/>
<rect x="207.2" y="29.48" width="4.4" height="3.5" fill="#14508e"/>
<path d="M207.2 30.97h4.4" stroke="#111" stroke-width=".9"/>
<rect x="208.5" y="37.33" width="1.8" height="1.8" rx=".5" fill="#111"/>
<path d="M215.5 25.79V33.76" stroke="#2a2a2a" stroke-width=".6"/>
<rect x="213.3" y="28.06" width="4.4" height="3.24" fill="#30c848"/>
<path d="M213.3 29.35h4.4" stroke="#111" stroke-width=".9"/>
<path d="M221.6 25.01V33.24" stroke="#2a2a2a" stroke-width=".6"/>
<rect x="219.4" y="28.06" width="4.4" height="3.43" fill="#671b82"/>
<path d="M219.4 29.68h4.4" stroke="#111" stroke-width=".9"/>
<rect x="226.78" y="7.6" width="25.8" height="7.1" fill="#d9d9d9" stroke="#3a3a3a" stroke-width=".7"/>
<rect x="226.78" y="14.7" width="25.8" height="56.5" fill="#fff" stroke="#3a3a3a" stroke-width=".7"/>
<text x="239.68" y="12.65" font-size="4.5" text-anchor="middle" textLength="17.55" lengthAdjust="spacingAndGlyphs" fill="#000" stroke="#000" stroke-width=".08">Cluster_2</text>
<path d="M230.68 28.06V37.97" stroke="#2a2a2a" stroke-width=".6"/>
<rect x="228.48" y="29.48" width="4.4" height="6.03" fill="#d8103a"/>
<path d="M228.48 31.94h4.4" stroke="#111" stroke-width=".9"/>
<rect x="229.78" y="17.89" width="1.8" height="1.8" rx=".5" fill="#111"/>
<rect x="229.78" y="67.72" width="1.8" height="1.8" rx=".5" fill="#111"/>
<path d="M236.78 26.24V38.75" stroke="#2a2a2a" stroke-width=".6"/>
<rect x="234.58" y="32.46" width="4.4" height="4.99" fill="#14508e"/>
<path d="M234.58 34.99h4.4" stroke="#111" stroke-width=".9"/>
<path d="M242.88 29.48V37.45" stroke="#2a2a2a" stroke-width=".6"/>
<rect x="240.68" y="31.3" width="4.4" height="4.92" fill="#30c848"/>
<path d="M240.68 33.76h4.4" stroke="#111" stroke-width=".9"/>
<rect x="241.98" y="18.73" width="1.8" height="1.8" rx=".5" fill="#111"/>
<path d="M248.98 23.78V37" stroke="#2a2a2a" stroke-width=".6"/>
<rect x="246.78" y="27.54" width="4.4" height="7.45" fill="#671b82"/>
<path d="M246.78 31.94h4.4" stroke="#111" stroke-width=".9"/>
<rect x="254.16" y="7.6" width="25.8" height="7.1" fill="#d9d9d9" stroke="#3a3a3a" stroke-width=".7"/>
<rect x="254.16" y="14.7" width="25.8" height="56.5" fill="#fff" stroke="#3a3a3a" stroke-width=".7"/>
<text x="267.06" y="12.65" font-size="4.5" text-anchor="middle" textLength="17.55" lengthAdjust="spacingAndGlyphs" fill="#000" stroke="#000" stroke-width=".08">Cluster_3</text>
<path d="M258.06 22.03V30.52" stroke="#2a2a2a" stroke-width=".6"/>
<rect x="255.86" y="25.01" width="4.4" height="4.47" fill="#d8103a"/>
<path d="M255.86 27.54h4.4" stroke="#111" stroke-width=".9"/>
<path d="M264.16 28.7V35.51" stroke="#2a2a2a" stroke-width=".6"/>
<rect x="261.96" y="30" width="4.4" height="4.21" fill="#14508e"/>
<path d="M261.96 31.94h4.4" stroke="#111" stroke-width=".9"/>
<path d="M270.26 22.55V32.46" stroke="#2a2a2a" stroke-width=".6"/>
<rect x="268.06" y="25.46" width="4.4" height="4.54" fill="#30c848"/>
<path d="M268.06 28.7h4.4" stroke="#111" stroke-width=".9"/>
<path d="M276.36 23V31.94" stroke="#2a2a2a" stroke-width=".6"/>
<rect x="274.16" y="26.24" width="4.4" height="4.28" fill="#671b82"/>
<path d="M274.16 28.06h4.4" stroke="#111" stroke-width=".9"/>
<rect x="281.54" y="7.6" width="25.8" height="7.1" fill="#d9d9d9" stroke="#3a3a3a" stroke-width=".7"/>
<rect x="281.54" y="14.7" width="25.8" height="56.5" fill="#fff" stroke="#3a3a3a" stroke-width=".7"/>
<text x="294.44" y="12.65" font-size="4.5" text-anchor="middle" textLength="17.55" lengthAdjust="spacingAndGlyphs" fill="#000" stroke="#000" stroke-width=".08">Cluster_4</text>
<path d="M285.44 23.78V32.46" stroke="#2a2a2a" stroke-width=".6"/>
<rect x="283.24" y="27.02" width="4.4" height="4.28" fill="#d8103a"/>
<path d="M283.24 29.48h4.4" stroke="#111" stroke-width=".9"/>
<rect x="284.54" y="37.85" width="1.8" height="1.8" rx=".5" fill="#111"/>
<path d="M291.54 28.06V68.62" stroke="#2a2a2a" stroke-width=".6"/>
<rect x="289.34" y="29.48" width="4.4" height="16.72" fill="#14508e"/>
<path d="M289.34 33.76h4.4" stroke="#111" stroke-width=".9"/>
<path d="M297.64 21.25V32.46" stroke="#2a2a2a" stroke-width=".6"/>
<rect x="295.44" y="27.02" width="4.4" height="4.73" fill="#30c848"/>
<path d="M295.44 30.52h4.4" stroke="#111" stroke-width=".9"/>
<path d="M303.74 24.3V32.98" stroke="#2a2a2a" stroke-width=".6"/>
<rect x="301.54" y="27.02" width="4.4" height="3.5" fill="#671b82"/>
<path d="M301.54 28.7h4.4" stroke="#111" stroke-width=".9"/>
<rect x="308.92" y="7.6" width="25.8" height="7.1" fill="#d9d9d9" stroke="#3a3a3a" stroke-width=".7"/>
<rect x="308.92" y="14.7" width="25.8" height="56.5" fill="#fff" stroke="#3a3a3a" stroke-width=".7"/>
<text x="321.82" y="12.65" font-size="4.5" text-anchor="middle" textLength="17.55" lengthAdjust="spacingAndGlyphs" fill="#000" stroke="#000" stroke-width=".08">Cluster_5</text>
<path d="M312.82 24.3V38.75" stroke="#2a2a2a" stroke-width=".6"/>
<rect x="310.62" y="26.24" width="4.4" height="6.74" fill="#d8103a"/>
<path d="M310.62 31.3h4.4" stroke="#111" stroke-width=".9"/>
<path d="M318.92 18.79V68.62" stroke="#2a2a2a" stroke-width=".6"/>
<rect x="316.72" y="20.02" width="4.4" height="20.67" fill="#14508e"/>
<path d="M316.72 26.24h4.4" stroke="#111" stroke-width=".9"/>
<path d="M325.02 23.78V34.99" stroke="#2a2a2a" stroke-width=".6"/>
<rect x="322.82" y="25.01" width="4.4" height="4.99" fill="#30c848"/>
<path d="M322.82 27.54h4.4" stroke="#111" stroke-width=".9"/>
<path d="M331.12 22.03V68.62" stroke="#2a2a2a" stroke-width=".6"/>
<rect x="328.92" y="22.55" width="4.4" height="18.66" fill="#671b82"/>
<path d="M328.92 27.54h4.4" stroke="#111" stroke-width=".9"/>
<rect x="336.3" y="7.6" width="25.8" height="7.1" fill="#d9d9d9" stroke="#3a3a3a" stroke-width=".7"/>
<rect x="336.3" y="14.7" width="25.8" height="56.5" fill="#fff" stroke="#3a3a3a" stroke-width=".7"/>
<text x="349.2" y="12.65" font-size="4.5" text-anchor="middle" textLength="17.55" lengthAdjust="spacingAndGlyphs" fill="#000" stroke="#000" stroke-width=".08">Cluster_6</text>
<path d="M340.2 25.79V31.3" stroke="#2a2a2a" stroke-width=".6"/>
<rect x="338" y="28.06" width="4.4" height="1.3" fill="#d8103a"/>
<path d="M338 28.7h4.4" stroke="#111" stroke-width=".9"/>
<path d="M346.3 26.11V30.52" stroke="#2a2a2a" stroke-width=".6"/>
<rect x="344.1" y="26.24" width="4.4" height="3.76" fill="#14508e"/>
<path d="M344.1 28.06h4.4" stroke="#111" stroke-width=".9"/>
<path d="M352.4 23V31.94" stroke="#2a2a2a" stroke-width=".6"/>
<rect x="350.2" y="25.01" width="4.4" height="3.69" fill="#30c848"/>
<path d="M350.2 27.02h4.4" stroke="#111" stroke-width=".9"/>
<path d="M358.5 23V28.7" stroke="#2a2a2a" stroke-width=".6"/>
<rect x="356.3" y="24.3" width="4.4" height="3.24" fill="#671b82"/>
<path d="M356.3 25.79h4.4" stroke="#111" stroke-width=".9"/>
<rect x="363.68" y="7.6" width="25.8" height="7.1" fill="#d9d9d9" stroke="#3a3a3a" stroke-width=".7"/>
<rect x="363.68" y="14.7" width="25.8" height="56.5" fill="#fff" stroke="#3a3a3a" stroke-width=".7"/>
<text x="376.58" y="12.65" font-size="4.5" text-anchor="middle" textLength="17.55" lengthAdjust="spacingAndGlyphs" fill="#000" stroke="#000" stroke-width=".08">Cluster_7</text>
<path d="M367.58 31.3V68.62" stroke="#2a2a2a" stroke-width=".6"/>
<rect x="365.38" y="35.7" width="4.4" height="32.92" fill="#d8103a"/>
<path d="M365.38 36.22h4.4" stroke="#111" stroke-width=".9"/>
<path d="M373.68 28.06V45.55" stroke="#2a2a2a" stroke-width=".6"/>
<rect x="371.48" y="34.54" width="4.4" height="11.02" fill="#14508e"/>
<path d="M371.48 37.45h4.4" stroke="#111" stroke-width=".9"/>
<rect x="372.78" y="67.72" width="1.8" height="1.8" rx=".5" fill="#111"/>
<path d="M379.78 28.7V37.45" stroke="#2a2a2a" stroke-width=".6"/>
<rect x="377.58" y="31.94" width="4.4" height="4.28" fill="#30c848"/>
<path d="M377.58 33.76h4.4" stroke="#111" stroke-width=".9"/>
<path d="M385.88 23.78V68.62" stroke="#2a2a2a" stroke-width=".6"/>
<rect x="383.68" y="31.94" width="4.4" height="36.68" fill="#671b82"/>
<path d="M383.68 51.71h4.4" stroke="#111" stroke-width=".9"/>
<rect x="391.06" y="7.6" width="25.8" height="7.1" fill="#d9d9d9" stroke="#3a3a3a" stroke-width=".7"/>
<rect x="391.06" y="14.7" width="25.8" height="56.5" fill="#fff" stroke="#3a3a3a" stroke-width=".7"/>
<text x="403.96" y="12.65" font-size="4.5" text-anchor="middle" textLength="17.55" lengthAdjust="spacingAndGlyphs" fill="#000" stroke="#000" stroke-width=".08">Cluster_8</text>
<path d="M394.96 23V32.46" stroke="#2a2a2a" stroke-width=".6"/>
<rect x="392.76" y="25.01" width="4.4" height="4.47" fill="#d8103a"/>
<path d="M392.76 27.02h4.4" stroke="#111" stroke-width=".9"/>
<path d="M401.06 25.01V38.75" stroke="#2a2a2a" stroke-width=".6"/>
<rect x="398.86" y="26.24" width="4.4" height="5.51" fill="#14508e"/>
<path d="M398.86 29.48h4.4" stroke="#111" stroke-width=".9"/>
<rect x="400.16" y="17.11" width="1.8" height="1.8" rx=".5" fill="#111"/>
<path d="M407.16 22.55V31.3" stroke="#2a2a2a" stroke-width=".6"/>
<rect x="404.96" y="25.01" width="4.4" height="3.05" fill="#30c848"/>
<path d="M404.96 26.24h4.4" stroke="#111" stroke-width=".9"/>
<path d="M413.26 18.79V40.37" stroke="#2a2a2a" stroke-width=".6"/>
<rect x="411.06" y="26.24" width="4.4" height="14.13" fill="#671b82"/>
<path d="M411.06 30h4.4" stroke="#111" stroke-width=".9"/>
<rect x="412.36" y="67.72" width="1.8" height="1.8" rx=".5" fill="#111"/>
<rect x="418.44" y="7.6" width="25.8" height="7.1" fill="#d9d9d9" stroke="#3a3a3a" stroke-width=".7"/>
<rect x="418.44" y="14.7" width="25.8" height="56.5" fill="#fff" stroke="#3a3a3a" stroke-width=".7"/>
<text x="431.34" y="12.65" font-size="4.5" text-anchor="middle" textLength="17.55" lengthAdjust="spacingAndGlyphs" fill="#000" stroke="#000" stroke-width=".08">Cluster_9</text>
<path d="M422.34 21.96V38.04" stroke="#2a2a2a" stroke-width=".6"/>
<rect x="420.14" y="28.19" width="4.4" height="4.8" fill="#d8103a"/>
<path d="M420.14 30.45h4.4" stroke="#111" stroke-width=".9"/>
<path d="M428.44 28.83V34.54" stroke="#2a2a2a" stroke-width=".6"/>
<rect x="426.24" y="30.45" width="4.4" height="1.88" fill="#14508e"/>
<path d="M426.24 31.3h4.4" stroke="#111" stroke-width=".9"/>
<rect x="427.54" y="25.67" width="1.8" height="1.8" rx=".5" fill="#111"/>
<path d="M434.54 19.63V34.54" stroke="#2a2a2a" stroke-width=".6"/>
<rect x="432.34" y="25.85" width="4.4" height="6.48" fill="#30c848"/>
<path d="M432.34 29.35h4.4" stroke="#111" stroke-width=".9"/>
<path d="M440.64 27.67V43.35" stroke="#2a2a2a" stroke-width=".6"/>
<rect x="438.44" y="32.33" width="4.4" height="11.02" fill="#671b82"/>
<path d="M438.44 34.54h4.4" stroke="#111" stroke-width=".9"/>
<rect x="439.74" y="67.53" width="1.8" height="1.8" rx=".5" fill="#111"/>
<rect x="445.82" y="7.6" width="25.8" height="7.1" fill="#d9d9d9" stroke="#3a3a3a" stroke-width=".7"/>
<rect x="445.82" y="14.7" width="25.8" height="56.5" fill="#fff" stroke="#3a3a3a" stroke-width=".7"/>
<text x="458.72" y="12.65" font-size="4.5" text-anchor="middle" textLength="19.5" lengthAdjust="spacingAndGlyphs" fill="#000" stroke="#000" stroke-width=".08">Cluster_10</text>
<path d="M449.72 21.25V32.98" stroke="#2a2a2a" stroke-width=".6"/>
<rect x="447.52" y="23.52" width="4.4" height="6.93" fill="#d8103a"/>
<path d="M447.52 28.19h4.4" stroke="#111" stroke-width=".9"/>
<path d="M455.82 26.57V36.48" stroke="#2a2a2a" stroke-width=".6"/>
<rect x="453.62" y="30" width="4.4" height="3.43" fill="#14508e"/>
<path d="M453.62 31.62h4.4" stroke="#111" stroke-width=".9"/>
<path d="M461.92 23.13V32.33" stroke="#2a2a2a" stroke-width=".6"/>
<rect x="459.72" y="27.02" width="4.4" height="2.98" fill="#30c848"/>
<path d="M459.72 28.38h4.4" stroke="#111" stroke-width=".9"/>
<path d="M468.02 27.21V34.15" stroke="#2a2a2a" stroke-width=".6"/>
<rect x="465.82" y="28.38" width="4.4" height="4.6" fill="#671b82"/>
<path d="M465.82 30.45h4.4" stroke="#111" stroke-width=".9"/>
<path d="M199.4 85.04h-1.9" stroke="#222" stroke-width=".7"/>
<text x="195.8" y="86.94" font-size="5.4" text-anchor="end" fill="#222">2</text>
<path d="M199.4 98h-1.9" stroke="#222" stroke-width=".7"/>
<text x="195.8" y="99.9" font-size="5.4" text-anchor="end" fill="#222">0</text>
<path d="M199.4 110.96h-1.9" stroke="#222" stroke-width=".7"/>
<text x="195.8" y="112.86" font-size="5.4" text-anchor="end" fill="#222">−2</text>
<path d="M199.4 123.92h-1.9" stroke="#222" stroke-width=".7"/>
<text x="195.8" y="125.82" font-size="5.4" text-anchor="end" fill="#222">−4</text>
<path d="M199.4 136.88h-1.9" stroke="#222" stroke-width=".7"/>
<text x="195.8" y="138.78" font-size="5.4" text-anchor="end" fill="#222">−6</text>
<rect x="199.4" y="76.6" width="25.8" height="6.6" fill="#d9d9d9" stroke="#3a3a3a" stroke-width=".7"/>
<rect x="199.4" y="83.2" width="25.8" height="56.2" fill="#fff" stroke="#3a3a3a" stroke-width=".7"/>
<text x="212.3" y="81.4" font-size="4.5" text-anchor="middle" textLength="19.5" lengthAdjust="spacingAndGlyphs" fill="#000" stroke="#000" stroke-width=".08">Cluster_11</text>
<path d="M203.3 98.65V106.23" stroke="#2a2a2a" stroke-width=".6"/>
<rect x="201.1" y="100.46" width="4.4" height="2.72" fill="#d8103a"/>
<path d="M201.1 101.76h4.4" stroke="#111" stroke-width=".9"/>
<path d="M209.4 95.02V107.07" stroke="#2a2a2a" stroke-width=".6"/>
<rect x="207.2" y="97.03" width="4.4" height="9.2" fill="#14508e"/>
<path d="M207.2 101.89h4.4" stroke="#111" stroke-width=".9"/>
<path d="M215.5 98.65V104.48" stroke="#2a2a2a" stroke-width=".6"/>
<rect x="213.3" y="100.46" width="4.4" height="2.53" fill="#30c848"/>
<path d="M213.3 101.76h4.4" stroke="#111" stroke-width=".9"/>
<path d="M221.6 94.24V108.24" stroke="#2a2a2a" stroke-width=".6"/>
<rect x="219.4" y="95.73" width="4.4" height="12.51" fill="#671b82"/>
<path d="M219.4 98h4.4" stroke="#111" stroke-width=".9"/>
<rect x="220.7" y="135.72" width="1.8" height="1.8" rx=".5" fill="#111"/>
<rect x="226.78" y="76.6" width="25.8" height="6.6" fill="#d9d9d9" stroke="#3a3a3a" stroke-width=".7"/>
<rect x="226.78" y="83.2" width="25.8" height="56.2" fill="#fff" stroke="#3a3a3a" stroke-width=".7"/>
<text x="239.68" y="81.4" font-size="4.5" text-anchor="middle" textLength="19.5" lengthAdjust="spacingAndGlyphs" fill="#000" stroke="#000" stroke-width=".08">Cluster_12</text>
<path d="M230.68 93.01V136.62" stroke="#2a2a2a" stroke-width=".6"/>
<rect x="228.48" y="101.24" width="4.4" height="35.38" fill="#d8103a"/>
<path d="M228.48 136.23h4.4" stroke="#111" stroke-width=".9"/>
<path d="M236.78 99.49V136.62" stroke="#2a2a2a" stroke-width=".6"/>
<rect x="234.58" y="102.54" width="4.4" height="33.7" fill="#14508e"/>
<path d="M234.58 120.03h4.4" stroke="#111" stroke-width=".9"/>
<path d="M242.88 91.26V136.23" stroke="#2a2a2a" stroke-width=".6"/>
<rect x="240.68" y="101.76" width="4.4" height="26.05" fill="#30c848"/>
<path d="M240.68 102.99h4.4" stroke="#111" stroke-width=".9"/>
<path d="M248.98 91.26V107.46" stroke="#2a2a2a" stroke-width=".6"/>
<rect x="246.78" y="92.49" width="4.4" height="14.97" fill="#671b82"/>
<path d="M246.78 95.54h4.4" stroke="#111" stroke-width=".9"/>
<rect x="248.08" y="135.72" width="1.8" height="1.8" rx=".5" fill="#111"/>
<rect x="254.16" y="76.6" width="25.8" height="6.6" fill="#d9d9d9" stroke="#3a3a3a" stroke-width=".7"/>
<rect x="254.16" y="83.2" width="25.8" height="56.2" fill="#fff" stroke="#3a3a3a" stroke-width=".7"/>
<text x="267.06" y="81.4" font-size="4.5" text-anchor="middle" textLength="19.5" lengthAdjust="spacingAndGlyphs" fill="#000" stroke="#000" stroke-width=".08">Cluster_13</text>
<path d="M258.06 91.26V96.25" stroke="#2a2a2a" stroke-width=".6"/>
<rect x="255.86" y="92.49" width="4.4" height="2.01" fill="#d8103a"/>
<path d="M255.86 93.46h4.4" stroke="#111" stroke-width=".9"/>
<rect x="257.16" y="100.34" width="1.8" height="1.8" rx=".5" fill="#111"/>
<path d="M264.16 92.82V96.25" stroke="#2a2a2a" stroke-width=".6"/>
<rect x="261.96" y="93.01" width="4.4" height="1.49" fill="#14508e"/>
<path d="M261.96 93.79h4.4" stroke="#111" stroke-width=".9"/>
<path d="M270.26 92.17V94.44" stroke="#2a2a2a" stroke-width=".6"/>
<rect x="268.06" y="92.49" width="4.4" height="1.3" fill="#30c848"/>
<path d="M268.06 93.01h4.4" stroke="#111" stroke-width=".9"/>
<rect x="269.36" y="87.9" width="1.8" height="1.8" rx=".5" fill="#111"/>
<path d="M276.36 93.46V94.76" stroke="#2a2a2a" stroke-width=".6"/>
<rect x="274.16" y="93.79" width="4.4" height=".8" fill="#671b82"/>
<path d="M274.16 94.11h4.4" stroke="#111" stroke-width=".9"/>
<rect x="281.54" y="76.6" width="25.8" height="6.6" fill="#d9d9d9" stroke="#3a3a3a" stroke-width=".7"/>
<rect x="281.54" y="83.2" width="25.8" height="56.2" fill="#fff" stroke="#3a3a3a" stroke-width=".7"/>
<text x="294.44" y="81.4" font-size="4.5" text-anchor="middle" textLength="19.5" lengthAdjust="spacingAndGlyphs" fill="#000" stroke="#000" stroke-width=".08">Cluster_14</text>
<path d="M285.44 95.73V104.48" stroke="#2a2a2a" stroke-width=".6"/>
<rect x="283.24" y="98.65" width="4.4" height="3.89" fill="#d8103a"/>
<path d="M283.24 100.46h4.4" stroke="#111" stroke-width=".9"/>
<path d="M291.54 99.49V113.55" stroke="#2a2a2a" stroke-width=".6"/>
<rect x="289.34" y="103.7" width="4.4" height="9.85" fill="#14508e"/>
<path d="M289.34 105.45h4.4" stroke="#111" stroke-width=".9"/>
<rect x="290.64" y="135.72" width="1.8" height="1.8" rx=".5" fill="#111"/>
<path d="M297.64 96.25V105" stroke="#2a2a2a" stroke-width=".6"/>
<rect x="295.44" y="99.94" width="4.4" height="4.54" fill="#30c848"/>
<path d="M295.44 103.18h4.4" stroke="#111" stroke-width=".9"/>
<path d="M303.74 94.24V101.89" stroke="#2a2a2a" stroke-width=".6"/>
<rect x="301.54" y="96.25" width="4.4" height="3.69" fill="#671b82"/>
<path d="M301.54 98h4.4" stroke="#111" stroke-width=".9"/>
<rect x="308.92" y="76.6" width="25.8" height="6.6" fill="#d9d9d9" stroke="#3a3a3a" stroke-width=".7"/>
<rect x="308.92" y="83.2" width="25.8" height="56.2" fill="#fff" stroke="#3a3a3a" stroke-width=".7"/>
<text x="321.82" y="81.4" font-size="4.5" text-anchor="middle" textLength="19.5" lengthAdjust="spacingAndGlyphs" fill="#000" stroke="#000" stroke-width=".08">Cluster_15</text>
<path d="M312.82 89.58V96.25" stroke="#2a2a2a" stroke-width=".6"/>
<rect x="310.62" y="90.87" width="4.4" height="3.37" fill="#d8103a"/>
<path d="M310.62 92.49h4.4" stroke="#111" stroke-width=".9"/>
<path d="M318.92 90.87V101.89" stroke="#2a2a2a" stroke-width=".6"/>
<rect x="316.72" y="92.49" width="4.4" height="7" fill="#14508e"/>
<path d="M316.72 95.73h4.4" stroke="#111" stroke-width=".9"/>
<path d="M325.02 91.52V94.76" stroke="#2a2a2a" stroke-width=".6"/>
<rect x="322.82" y="91.78" width="4.4" height="2.46" fill="#30c848"/>
<path d="M322.82 92.49h4.4" stroke="#111" stroke-width=".9"/>
<path d="M331.12 92.17V103.18" stroke="#2a2a2a" stroke-width=".6"/>
<rect x="328.92" y="93.01" width="4.4" height="4.47" fill="#671b82"/>
<path d="M328.92 95.02h4.4" stroke="#111" stroke-width=".9"/>
<rect x="336.3" y="76.6" width="25.8" height="6.6" fill="#d9d9d9" stroke="#3a3a3a" stroke-width=".7"/>
<rect x="336.3" y="83.2" width="25.8" height="56.2" fill="#fff" stroke="#3a3a3a" stroke-width=".7"/>
<text x="349.2" y="81.4" font-size="4.5" text-anchor="middle" textLength="19.5" lengthAdjust="spacingAndGlyphs" fill="#000" stroke="#000" stroke-width=".08">Cluster_16</text>
<path d="M340.2 89.58V99.94" stroke="#2a2a2a" stroke-width=".6"/>
<rect x="338" y="90.87" width="4.4" height="7.13" fill="#d8103a"/>
<path d="M338 93.79h4.4" stroke="#111" stroke-width=".9"/>
<path d="M346.3 92.49V108.69" stroke="#2a2a2a" stroke-width=".6"/>
<rect x="344.1" y="93.79" width="4.4" height="14.9" fill="#14508e"/>
<path d="M344.1 96.25h4.4" stroke="#111" stroke-width=".9"/>
<rect x="345.4" y="135.72" width="1.8" height="1.8" rx=".5" fill="#111"/>
<path d="M352.4 91.26V100.46" stroke="#2a2a2a" stroke-width=".6"/>
<rect x="350.2" y="94.24" width="4.4" height="3.24" fill="#30c848"/>
<path d="M350.2 95.73h4.4" stroke="#111" stroke-width=".9"/>
<path d="M358.5 90.55V100.46" stroke="#2a2a2a" stroke-width=".6"/>
<rect x="356.3" y="92.49" width="4.4" height="5.51" fill="#671b82"/>
<path d="M356.3 95.02h4.4" stroke="#111" stroke-width=".9"/>
<rect x="363.68" y="76.6" width="25.8" height="6.6" fill="#d9d9d9" stroke="#3a3a3a" stroke-width=".7"/>
<rect x="363.68" y="83.2" width="25.8" height="56.2" fill="#fff" stroke="#3a3a3a" stroke-width=".7"/>
<text x="376.58" y="81.4" font-size="4.5" text-anchor="middle" textLength="19.5" lengthAdjust="spacingAndGlyphs" fill="#000" stroke="#000" stroke-width=".08">Cluster_17</text>
<path d="M367.58 94.5V106.94" stroke="#2a2a2a" stroke-width=".6"/>
<rect x="365.38" y="97.03" width="4.4" height="3.69" fill="#d8103a"/>
<path d="M365.38 98.65h4.4" stroke="#111" stroke-width=".9"/>
<path d="M373.68 93.01V97.03" stroke="#2a2a2a" stroke-width=".6"/>
<rect x="371.48" y="94.5" width="4.4" height="1.23" fill="#14508e"/>
<path d="M371.48 95.02h4.4" stroke="#111" stroke-width=".9"/>
<path d="M379.78 93.01V103.18" stroke="#2a2a2a" stroke-width=".6"/>
<rect x="377.58" y="95.54" width="4.4" height="3.11" fill="#30c848"/>
<path d="M377.58 97.03h4.4" stroke="#111" stroke-width=".9"/>
<path d="M385.88 94.24V101.89" stroke="#2a2a2a" stroke-width=".6"/>
<rect x="383.68" y="95.73" width="4.4" height="4.21" fill="#671b82"/>
<path d="M383.68 98h4.4" stroke="#111" stroke-width=".9"/>
<rect x="391.06" y="76.6" width="25.8" height="6.6" fill="#d9d9d9" stroke="#3a3a3a" stroke-width=".7"/>
<rect x="391.06" y="83.2" width="25.8" height="56.2" fill="#fff" stroke="#3a3a3a" stroke-width=".7"/>
<text x="403.96" y="81.4" font-size="4.5" text-anchor="middle" textLength="19.5" lengthAdjust="spacingAndGlyphs" fill="#000" stroke="#000" stroke-width=".08">Cluster_18</text>
<path d="M394.96 90.55V99.94" stroke="#2a2a2a" stroke-width=".6"/>
<rect x="392.76" y="93.01" width="4.4" height="4.47" fill="#d8103a"/>
<path d="M392.76 95.54h4.4" stroke="#111" stroke-width=".9"/>
<path d="M401.06 92.17V98.65" stroke="#2a2a2a" stroke-width=".6"/>
<rect x="398.86" y="93.79" width="4.4" height="3.24" fill="#14508e"/>
<path d="M398.86 95.54h4.4" stroke="#111" stroke-width=".9"/>
<path d="M407.16 90.55V99.49" stroke="#2a2a2a" stroke-width=".6"/>
<rect x="404.96" y="92.17" width="4.4" height="4.86" fill="#30c848"/>
<path d="M404.96 94.24h4.4" stroke="#111" stroke-width=".9"/>
<path d="M413.26 91.26V93.46" stroke="#2a2a2a" stroke-width=".6"/>
<rect x="411.06" y="92.69" width="4.4" height=".8" fill="#671b82"/>
<path d="M411.06 92.95h4.4" stroke="#111" stroke-width=".9"/>
<rect x="418.44" y="76.6" width="25.8" height="6.6" fill="#d9d9d9" stroke="#3a3a3a" stroke-width=".7"/>
<rect x="418.44" y="83.2" width="25.8" height="56.2" fill="#fff" stroke="#3a3a3a" stroke-width=".7"/>
<text x="431.34" y="81.4" font-size="4.5" text-anchor="middle" textLength="19.5" lengthAdjust="spacingAndGlyphs" fill="#000" stroke="#000" stroke-width=".08">Cluster_19</text>
<path d="M422.34 93.59V106.88" stroke="#2a2a2a" stroke-width=".6"/>
<rect x="420.14" y="98.84" width="4.4" height="4.99" fill="#d8103a"/>
<path d="M420.14 100.72h4.4" stroke="#111" stroke-width=".9"/>
<path d="M428.44 93.14V102.28" stroke="#2a2a2a" stroke-width=".6"/>
<rect x="426.24" y="97.22" width="4.4" height="3.5" fill="#14508e"/>
<path d="M426.24 98.84h4.4" stroke="#111" stroke-width=".9"/>
<path d="M434.54 93.14V106.88" stroke="#2a2a2a" stroke-width=".6"/>
<rect x="432.34" y="97.68" width="4.4" height="8.1" fill="#30c848"/>
<path d="M432.34 100.46h4.4" stroke="#111" stroke-width=".9"/>
<rect x="433.64" y="135.92" width="1.8" height="1.8" rx=".5" fill="#111"/>
<path d="M440.64 97.22V105.78" stroke="#2a2a2a" stroke-width=".6"/>
<rect x="438.44" y="98.84" width="4.4" height="4.15" fill="#671b82"/>
<path d="M438.44 100.72h4.4" stroke="#111" stroke-width=".9"/>
<rect x="439.74" y="91.53" width="1.8" height="1.8" rx=".5" fill="#111"/>
<rect x="445.82" y="76.6" width="25.8" height="6.6" fill="#d9d9d9" stroke="#3a3a3a" stroke-width=".7"/>
<rect x="445.82" y="83.2" width="25.8" height="56.2" fill="#fff" stroke="#3a3a3a" stroke-width=".7"/>
<text x="458.72" y="81.4" font-size="4.5" text-anchor="middle" textLength="19.5" lengthAdjust="spacingAndGlyphs" fill="#000" stroke="#000" stroke-width=".08">Cluster_20</text>
<path d="M449.72 97.22V136.82" stroke="#2a2a2a" stroke-width=".6"/>
<rect x="447.52" y="99.94" width="4.4" height="19.63" fill="#d8103a"/>
<path d="M447.52 101.89h4.4" stroke="#111" stroke-width=".9"/>
<path d="M455.82 99.56V106.88" stroke="#2a2a2a" stroke-width=".6"/>
<rect x="453.62" y="102.99" width="4.4" height="3.24" fill="#14508e"/>
<path d="M453.62 104.48h4.4" stroke="#111" stroke-width=".9"/>
<path d="M461.92 97.22V105.78" stroke="#2a2a2a" stroke-width=".6"/>
<rect x="459.72" y="100.72" width="4.4" height="4.41" fill="#30c848"/>
<path d="M459.72 102.99h4.4" stroke="#111" stroke-width=".9"/>
<rect x="461.02" y="135.92" width="1.8" height="1.8" rx=".5" fill="#111"/>
<path d="M468.02 95.86V136.82" stroke="#2a2a2a" stroke-width=".6"/>
<rect x="465.82" y="98.39" width="4.4" height="38.43" fill="#671b82"/>
<path d="M465.82 117.7h4.4" stroke="#111" stroke-width=".9"/>
<path d="M199.4 153.79h-1.9" stroke="#222" stroke-width=".7"/>
<text x="195.8" y="155.69" font-size="5.4" text-anchor="end" fill="#222">2</text>
<path d="M199.4 166.75h-1.9" stroke="#222" stroke-width=".7"/>
<text x="195.8" y="168.65" font-size="5.4" text-anchor="end" fill="#222">0</text>
<path d="M199.4 179.71h-1.9" stroke="#222" stroke-width=".7"/>
<text x="195.8" y="181.61" font-size="5.4" text-anchor="end" fill="#222">−2</text>
<path d="M199.4 192.67h-1.9" stroke="#222" stroke-width=".7"/>
<text x="195.8" y="194.57" font-size="5.4" text-anchor="end" fill="#222">−4</text>
<path d="M199.4 205.63h-1.9" stroke="#222" stroke-width=".7"/>
<text x="195.8" y="207.53" font-size="5.4" text-anchor="end" fill="#222">−6</text>
<rect x="199.4" y="144.7" width="25.8" height="7.2" fill="#d9d9d9" stroke="#3a3a3a" stroke-width=".7"/>
<rect x="199.4" y="151.9" width="25.8" height="56.4" fill="#fff" stroke="#3a3a3a" stroke-width=".7"/>
<text x="212.3" y="149.8" font-size="4.5" text-anchor="middle" textLength="19.5" lengthAdjust="spacingAndGlyphs" fill="#000" stroke="#000" stroke-width=".08">Cluster_21</text>
<path d="M203.3 208.3v2" stroke="#222" stroke-width=".7"/>
<path d="M203.3 159.3V169.47" stroke="#2a2a2a" stroke-width=".6"/>
<rect x="201.1" y="163.77" width="4.4" height="4.47" fill="#d8103a"/>
<path d="M201.1 166.23h4.4" stroke="#111" stroke-width=".9"/>
<path d="M209.4 208.3v2" stroke="#222" stroke-width=".7"/>
<path d="M209.4 162.54V173.75" stroke="#2a2a2a" stroke-width=".6"/>
<rect x="207.2" y="165" width="4.4" height="6.29" fill="#14508e"/>
<path d="M207.2 168.24h4.4" stroke="#111" stroke-width=".9"/>
<path d="M215.5 208.3v2" stroke="#222" stroke-width=".7"/>
<path d="M215.5 161.76V169.99" stroke="#2a2a2a" stroke-width=".6"/>
<rect x="213.3" y="164.29" width="4.4" height="3.24" fill="#30c848"/>
<path d="M213.3 166.23h4.4" stroke="#111" stroke-width=".9"/>
<path d="M221.6 208.3v2" stroke="#222" stroke-width=".7"/>
<path d="M221.6 162.54V168.69" stroke="#2a2a2a" stroke-width=".6"/>
<rect x="219.4" y="164.48" width="4.4" height="3.05" fill="#671b82"/>
<path d="M219.4 166.23h4.4" stroke="#111" stroke-width=".9"/>
<rect x="220.7" y="171.03" width="1.8" height="1.8" rx=".5" fill="#111"/>
<rect x="226.78" y="144.7" width="25.8" height="7.2" fill="#d9d9d9" stroke="#3a3a3a" stroke-width=".7"/>
<rect x="226.78" y="151.9" width="25.8" height="56.4" fill="#fff" stroke="#3a3a3a" stroke-width=".7"/>
<text x="239.68" y="149.8" font-size="4.5" text-anchor="middle" textLength="19.5" lengthAdjust="spacingAndGlyphs" fill="#000" stroke="#000" stroke-width=".08">Cluster_22</text>
<path d="M230.68 208.3v2" stroke="#222" stroke-width=".7"/>
<path d="M230.68 162.02V171.29" stroke="#2a2a2a" stroke-width=".6"/>
<rect x="228.48" y="163.77" width="4.4" height="5.7" fill="#d8103a"/>
<path d="M228.48 166.75h4.4" stroke="#111" stroke-width=".9"/>
<path d="M236.78 208.3v2" stroke="#222" stroke-width=".7"/>
<path d="M236.78 160.79V167.53" stroke="#2a2a2a" stroke-width=".6"/>
<rect x="234.58" y="162.54" width="4.4" height="3.69" fill="#14508e"/>
<path d="M234.58 164.48h4.4" stroke="#111" stroke-width=".9"/>
<rect x="235.88" y="170.39" width="1.8" height="1.8" rx=".5" fill="#111"/>
<path d="M242.88 208.3v2" stroke="#222" stroke-width=".7"/>
<path d="M242.88 162.99V173.75" stroke="#2a2a2a" stroke-width=".6"/>
<rect x="240.68" y="164.29" width="4.4" height="9.46" fill="#30c848"/>
<path d="M240.68 166.75h4.4" stroke="#111" stroke-width=".9"/>
<rect x="241.98" y="204.73" width="1.8" height="1.8" rx=".5" fill="#111"/>
<path d="M248.98 208.3v2" stroke="#222" stroke-width=".7"/>
<path d="M248.98 162.99V205.63" stroke="#2a2a2a" stroke-width=".6"/>
<rect x="246.78" y="165" width="4.4" height="16.2" fill="#671b82"/>
<path d="M246.78 168.24h4.4" stroke="#111" stroke-width=".9"/>
<rect x="254.16" y="144.7" width="25.8" height="7.2" fill="#d9d9d9" stroke="#3a3a3a" stroke-width=".7"/>
<rect x="254.16" y="151.9" width="25.8" height="56.4" fill="#fff" stroke="#3a3a3a" stroke-width=".7"/>
<text x="267.06" y="149.8" font-size="4.5" text-anchor="middle" textLength="19.5" lengthAdjust="spacingAndGlyphs" fill="#000" stroke="#000" stroke-width=".08">Cluster_23</text>
<path d="M258.06 208.3v2" stroke="#222" stroke-width=".7"/>
<path d="M258.06 159.3V166.23" stroke="#2a2a2a" stroke-width=".6"/>
<rect x="255.86" y="162.54" width="4.4" height="2.92" fill="#d8103a"/>
<path d="M255.86 164.29h4.4" stroke="#111" stroke-width=".9"/>
<path d="M264.16 208.3v2" stroke="#222" stroke-width=".7"/>
<path d="M264.16 160.79V170.64" stroke="#2a2a2a" stroke-width=".6"/>
<rect x="261.96" y="163.77" width="4.4" height="2.98" fill="#14508e"/>
<path d="M261.96 165h4.4" stroke="#111" stroke-width=".9"/>
<path d="M270.26 208.3v2" stroke="#222" stroke-width=".7"/>
<path d="M270.26 160.01V169.99" stroke="#2a2a2a" stroke-width=".6"/>
<rect x="268.06" y="162.99" width="4.4" height="5.05" fill="#30c848"/>
<path d="M268.06 166.23h4.4" stroke="#111" stroke-width=".9"/>
<path d="M276.36 208.3v2" stroke="#222" stroke-width=".7"/>
<path d="M276.36 161.24V169.47" stroke="#2a2a2a" stroke-width=".6"/>
<rect x="274.16" y="162.99" width="4.4" height="5.25" fill="#671b82"/>
<path d="M274.16 165.45h4.4" stroke="#111" stroke-width=".9"/>
<rect x="281.54" y="144.7" width="25.8" height="7.2" fill="#d9d9d9" stroke="#3a3a3a" stroke-width=".7"/>
<rect x="281.54" y="151.9" width="25.8" height="56.4" fill="#fff" stroke="#3a3a3a" stroke-width=".7"/>
<text x="294.44" y="149.8" font-size="4.5" text-anchor="middle" textLength="19.5" lengthAdjust="spacingAndGlyphs" fill="#000" stroke="#000" stroke-width=".08">Cluster_24</text>
<path d="M285.44 208.3v2" stroke="#222" stroke-width=".7"/>
<path d="M285.44 176.21V205.63" stroke="#2a2a2a" stroke-width=".6"/>
<rect x="283.24" y="190.4" width="4.4" height="15.23" fill="#d8103a"/>
<path d="M283.24 204.98h4.4" stroke="#111" stroke-width=".9"/>
<rect x="284.54" y="160.34" width="1.8" height="1.8" rx=".5" fill="#111"/>
<path d="M291.54 208.3v2" stroke="#222" stroke-width=".7"/>
<path d="M289.34 205.63h4.4" stroke="#3a3a3a" stroke-width="1.1"/>
<path d="M297.64 208.3v2" stroke="#222" stroke-width=".7"/>
<path d="M295.44 205.63h4.4" stroke="#3a3a3a" stroke-width="1.1"/>
<rect x="296.74" y="160.86" width="1.8" height="1.8" rx=".5" fill="#111"/>
<path d="M303.74 208.3v2" stroke="#222" stroke-width=".7"/>
<path d="M301.54 205.63h4.4" stroke="#3a3a3a" stroke-width="1.1"/>
<rect x="308.92" y="144.7" width="25.8" height="7.2" fill="#d9d9d9" stroke="#3a3a3a" stroke-width=".7"/>
<rect x="308.92" y="151.9" width="25.8" height="56.4" fill="#fff" stroke="#3a3a3a" stroke-width=".7"/>
<text x="321.82" y="149.8" font-size="4.5" text-anchor="middle" textLength="19.5" lengthAdjust="spacingAndGlyphs" fill="#000" stroke="#000" stroke-width=".08">Cluster_25</text>
<path d="M312.82 208.3v2" stroke="#222" stroke-width=".7"/>
<path d="M312.82 156.38V171.93" stroke="#2a2a2a" stroke-width=".6"/>
<rect x="310.62" y="162.02" width="4.4" height="6.22" fill="#d8103a"/>
<path d="M310.62 165.45h4.4" stroke="#111" stroke-width=".9"/>
<path d="M318.92 208.3v2" stroke="#222" stroke-width=".7"/>
<path d="M318.92 163.77V170.64" stroke="#2a2a2a" stroke-width=".6"/>
<rect x="316.72" y="165.45" width="4.4" height="2.07" fill="#14508e"/>
<path d="M316.72 166.75h4.4" stroke="#111" stroke-width=".9"/>
<path d="M325.02 208.3v2" stroke="#222" stroke-width=".7"/>
<path d="M325.02 157.03V169.99" stroke="#2a2a2a" stroke-width=".6"/>
<rect x="322.82" y="159.3" width="4.4" height="8.23" fill="#30c848"/>
<path d="M322.82 164.48h4.4" stroke="#111" stroke-width=".9"/>
<path d="M331.12 208.3v2" stroke="#222" stroke-width=".7"/>
<path d="M331.12 164.48V205.63" stroke="#2a2a2a" stroke-width=".6"/>
<rect x="328.92" y="165.78" width="4.4" height="16.52" fill="#671b82"/>
<path d="M328.92 170.64h4.4" stroke="#111" stroke-width=".9"/>
<rect x="336.3" y="144.7" width="25.8" height="7.2" fill="#d9d9d9" stroke="#3a3a3a" stroke-width=".7"/>
<rect x="336.3" y="151.9" width="25.8" height="56.4" fill="#fff" stroke="#3a3a3a" stroke-width=".7"/>
<text x="349.2" y="149.8" font-size="4.5" text-anchor="middle" textLength="19.5" lengthAdjust="spacingAndGlyphs" fill="#000" stroke="#000" stroke-width=".08">Cluster_26</text>
<path d="M340.2 208.3v2" stroke="#222" stroke-width=".7"/>
<path d="M340.2 162.02V173.75" stroke="#2a2a2a" stroke-width=".6"/>
<rect x="338" y="164.48" width="4.4" height="7.97" fill="#d8103a"/>
<path d="M338 169.47h4.4" stroke="#111" stroke-width=".9"/>
<rect x="339.3" y="204.73" width="1.8" height="1.8" rx=".5" fill="#111"/>
<path d="M346.3 208.3v2" stroke="#222" stroke-width=".7"/>
<path d="M346.3 162.54V171.93" stroke="#2a2a2a" stroke-width=".6"/>
<rect x="344.1" y="164.48" width="4.4" height="5.51" fill="#14508e"/>
<path d="M344.1 167.01h4.4" stroke="#111" stroke-width=".9"/>
<path d="M352.4 208.3v2" stroke="#222" stroke-width=".7"/>
<path d="M352.4 160.79V174.98" stroke="#2a2a2a" stroke-width=".6"/>
<rect x="350.2" y="164.48" width="4.4" height="10.04" fill="#30c848"/>
<path d="M350.2 169.47h4.4" stroke="#111" stroke-width=".9"/>
<rect x="351.5" y="204.73" width="1.8" height="1.8" rx=".5" fill="#111"/>
<path d="M358.5 208.3v2" stroke="#222" stroke-width=".7"/>
<path d="M358.5 166.23V172.45" stroke="#2a2a2a" stroke-width=".6"/>
<rect x="356.3" y="168.69" width="4.4" height="3.05" fill="#671b82"/>
<path d="M356.3 170.64h4.4" stroke="#111" stroke-width=".9"/>
<rect x="357.6" y="159.89" width="1.8" height="1.8" rx=".5" fill="#111"/>
<rect x="363.68" y="144.7" width="25.8" height="7.2" fill="#d9d9d9" stroke="#3a3a3a" stroke-width=".7"/>
<rect x="363.68" y="151.9" width="25.8" height="56.4" fill="#fff" stroke="#3a3a3a" stroke-width=".7"/>
<text x="376.58" y="149.8" font-size="4.5" text-anchor="middle" textLength="19.5" lengthAdjust="spacingAndGlyphs" fill="#000" stroke="#000" stroke-width=".08">Cluster_27</text>
<path d="M367.58 208.3v2" stroke="#222" stroke-width=".7"/>
<path d="M367.58 166.75V169.34" stroke="#2a2a2a" stroke-width=".6"/>
<rect x="365.38" y="167.53" width="4.4" height="1.17" fill="#d8103a"/>
<path d="M365.38 168.05h4.4" stroke="#111" stroke-width=".9"/>
<rect x="366.68" y="161.12" width="1.8" height="1.8" rx=".5" fill="#111"/>
<rect x="366.68" y="172.33" width="1.8" height="1.8" rx=".5" fill="#111"/>
<path d="M373.68 208.3v2" stroke="#222" stroke-width=".7"/>
<path d="M373.68 170.64V174.98" stroke="#2a2a2a" stroke-width=".6"/>
<rect x="371.48" y="171.29" width="4.4" height="2.46" fill="#14508e"/>
<path d="M371.48 172.97h4.4" stroke="#111" stroke-width=".9"/>
<rect x="372.78" y="162.29" width="1.8" height="1.8" rx=".5" fill="#111"/>
<path d="M379.78 208.3v2" stroke="#222" stroke-width=".7"/>
<path d="M379.78 163.77V174.98" stroke="#2a2a2a" stroke-width=".6"/>
<rect x="377.58" y="166.23" width="4.4" height="5.7" fill="#30c848"/>
<path d="M377.58 168.24h4.4" stroke="#111" stroke-width=".9"/>
<path d="M385.88 208.3v2" stroke="#222" stroke-width=".7"/>
<path d="M385.88 159.3V174.98" stroke="#2a2a2a" stroke-width=".6"/>
<rect x="383.68" y="161.24" width="4.4" height="5.77" fill="#671b82"/>
<path d="M383.68 163.25h4.4" stroke="#111" stroke-width=".9"/>
<rect x="391.06" y="144.7" width="25.8" height="7.2" fill="#d9d9d9" stroke="#3a3a3a" stroke-width=".7"/>
<rect x="391.06" y="151.9" width="25.8" height="56.4" fill="#fff" stroke="#3a3a3a" stroke-width=".7"/>
<text x="403.96" y="149.8" font-size="4.5" text-anchor="middle" textLength="19.5" lengthAdjust="spacingAndGlyphs" fill="#000" stroke="#000" stroke-width=".08">Cluster_28</text>
<path d="M394.96 208.3v2" stroke="#222" stroke-width=".7"/>
<path d="M394.96 160.01V172.45" stroke="#2a2a2a" stroke-width=".6"/>
<rect x="392.76" y="162.99" width="4.4" height="5.25" fill="#d8103a"/>
<path d="M392.76 165h4.4" stroke="#111" stroke-width=".9"/>
<path d="M401.06 208.3v2" stroke="#222" stroke-width=".7"/>
<path d="M401.06 160.79V171.29" stroke="#2a2a2a" stroke-width=".6"/>
<rect x="398.86" y="166.75" width="4.4" height="3.24" fill="#14508e"/>
<path d="M398.86 168.69h4.4" stroke="#111" stroke-width=".9"/>
<path d="M407.16 208.3v2" stroke="#222" stroke-width=".7"/>
<path d="M407.16 168.05V171.93" stroke="#2a2a2a" stroke-width=".6"/>
<rect x="404.96" y="168.69" width="4.4" height="2.59" fill="#30c848"/>
<path d="M404.96 169.99h4.4" stroke="#111" stroke-width=".9"/>
<rect x="406.26" y="164.1" width="1.8" height="1.8" rx=".5" fill="#111"/>
<path d="M413.26 208.3v2" stroke="#222" stroke-width=".7"/>
<path d="M413.26 162.99V179.19" stroke="#2a2a2a" stroke-width=".6"/>
<rect x="411.06" y="167.53" width="4.4" height="11.66" fill="#671b82"/>
<path d="M411.06 170.64h4.4" stroke="#111" stroke-width=".9"/>
<rect x="412.36" y="204.73" width="1.8" height="1.8" rx=".5" fill="#111"/>
<rect x="418.44" y="144.7" width="25.8" height="7.2" fill="#d9d9d9" stroke="#3a3a3a" stroke-width=".7"/>
<rect x="418.44" y="151.9" width="25.8" height="56.4" fill="#fff" stroke="#3a3a3a" stroke-width=".7"/>
<text x="431.34" y="149.8" font-size="4.5" text-anchor="middle" textLength="19.5" lengthAdjust="spacingAndGlyphs" fill="#000" stroke="#000" stroke-width=".08">Cluster_29</text>
<path d="M422.34 208.3v2" stroke="#222" stroke-width=".7"/>
<path d="M422.34 164.29V205.24" stroke="#2a2a2a" stroke-width=".6"/>
<rect x="420.14" y="169.6" width="4.4" height="18.86" fill="#d8103a"/>
<path d="M420.14 171.29h4.4" stroke="#111" stroke-width=".9"/>
<path d="M428.44 208.3v2" stroke="#222" stroke-width=".7"/>
<path d="M428.44 162.21V205.24" stroke="#2a2a2a" stroke-width=".6"/>
<rect x="426.24" y="169.6" width="4.4" height="35.64" fill="#14508e"/>
<path d="M426.24 188.72h4.4" stroke="#111" stroke-width=".9"/>
<path d="M434.54 208.3v2" stroke="#222" stroke-width=".7"/>
<path d="M434.54 170.77V205.24" stroke="#2a2a2a" stroke-width=".6"/>
<rect x="432.34" y="171.93" width="4.4" height="33.31" fill="#30c848"/>
<path d="M432.34 190.27h4.4" stroke="#111" stroke-width=".9"/>
<path d="M440.64 208.3v2" stroke="#222" stroke-width=".7"/>
<path d="M440.64 162.21V205.24" stroke="#2a2a2a" stroke-width=".6"/>
<rect x="438.44" y="170.77" width="4.4" height="34.47" fill="#671b82"/>
<path d="M438.44 189.17h4.4" stroke="#111" stroke-width=".9"/>
<rect x="445.82" y="144.7" width="25.8" height="7.2" fill="#d9d9d9" stroke="#3a3a3a" stroke-width=".7"/>
<rect x="445.82" y="151.9" width="25.8" height="56.4" fill="#fff" stroke="#3a3a3a" stroke-width=".7"/>
<text x="458.72" y="149.8" font-size="4.5" text-anchor="middle" textLength="19.5" lengthAdjust="spacingAndGlyphs" fill="#000" stroke="#000" stroke-width=".08">Cluster_30</text>
<path d="M449.72 208.3v2" stroke="#222" stroke-width=".7"/>
<path d="M449.72 166.1V173.04" stroke="#2a2a2a" stroke-width=".6"/>
<rect x="447.52" y="169.15" width="4.4" height="2.79" fill="#d8103a"/>
<path d="M447.52 170.77h4.4" stroke="#111" stroke-width=".9"/>
<rect x="448.82" y="204.34" width="1.8" height="1.8" rx=".5" fill="#111"/>
<path d="M455.82 208.3v2" stroke="#222" stroke-width=".7"/>
<path d="M455.82 157.03V175.37" stroke="#2a2a2a" stroke-width=".6"/>
<rect x="453.62" y="158.13" width="4.4" height="12.64" fill="#14508e"/>
<path d="M453.62 163.83h4.4" stroke="#111" stroke-width=".9"/>
<path d="M461.92 208.3v2" stroke="#222" stroke-width=".7"/>
<path d="M461.92 169.15V173.23" stroke="#2a2a2a" stroke-width=".6"/>
<rect x="459.72" y="170.77" width="4.4" height="2.27" fill="#30c848"/>
<path d="M459.72 171.93h4.4" stroke="#111" stroke-width=".9"/>
<rect x="461.02" y="204.34" width="1.8" height="1.8" rx=".5" fill="#111"/>
<path d="M468.02 208.3v2" stroke="#222" stroke-width=".7"/>
<path d="M468.02 164.55V205.24" stroke="#2a2a2a" stroke-width=".6"/>
<rect x="465.82" y="168.43" width="4.4" height="36.81" fill="#671b82"/>
<path d="M465.82 188h4.4" stroke="#111" stroke-width=".9"/>
<path d="M373.68 85.6V89.5" stroke="#333" stroke-width=".8"/><path d="M373.68 92.5l-2.3 -3.9h4.6z" fill="#111"/>
<text x="473.8" y="101.3" font-size="5.6" textLength="14.8" lengthAdjust="spacingAndGlyphs">Group</text>
<rect x="474.1" y="104.6" width="3.9" height="3.4" rx=".9" fill="#d8103a"/>
<path d="M474.1 106.3h3.9" stroke="#111" stroke-width=".8"/>
<text x="480.2" y="107.9" font-size="4.5" textLength="26.6" lengthAdjust="spacingAndGlyphs">Pre responders</text>
<rect x="474.1" y="110.2" width="3.9" height="3.4" rx=".9" fill="#14508e"/>
<path d="M474.1 111.9h3.9" stroke="#111" stroke-width=".8"/>
<text x="480.2" y="113.5" font-size="4.5" textLength="28.5" lengthAdjust="spacingAndGlyphs">Post responders</text>
<rect x="474.1" y="115.7" width="3.9" height="3.4" rx=".9" fill="#30c848"/>
<path d="M474.1 117.4h3.9" stroke="#111" stroke-width=".8"/>
<text x="480.2" y="119" font-size="4.5" textLength="34.6" lengthAdjust="spacingAndGlyphs">Pre non responders</text>
<rect x="474.1" y="121.3" width="3.9" height="3.4" rx=".9" fill="#671b82"/>
<path d="M474.1 123h3.9" stroke="#111" stroke-width=".8"/>
<text x="480.2" y="124.6" font-size="4.5" textLength="35.9" lengthAdjust="spacingAndGlyphs">Post non responders</text>
<text x="5.4" y="226.4" font-size="12.6" font-weight="bold" fill="#000" stroke="#000" stroke-width=".45">C</text>
<rect x="94.6" y="243" width="64.21" height="2.4" fill="#c4102e"/>
<rect x="94.6" y="246.7" width="59.27" height="2.4" fill="#c4102e"/>
<rect x="94.6" y="250.41" width="46.25" height="2.4" fill="#c4102e"/>
<rect x="94.6" y="254.11" width="35.92" height="2.4" fill="#c4102e"/>
<rect x="94.6" y="257.81" width="34.12" height="2.4" fill="#c4102e"/>
<rect x="94.6" y="261.51" width="33.45" height="2.4" fill="#c4102e"/>
<rect x="94.6" y="265.22" width="30.08" height="2.4" fill="#c4102e"/>
<rect x="94.6" y="268.92" width="24.47" height="2.4" fill="#c4102e"/>
<rect x="94.6" y="272.62" width="19.89" height="2.4" fill="#c4102e"/>
<rect x="94.6" y="276.33" width="19.04" height="2.4" fill="#c4102e"/>
<rect x="94.6" y="280.03" width="16.97" height="2.4" fill="#c4102e"/>
<rect x="94.6" y="283.73" width="14.37" height="2.4" fill="#c4102e"/>
<rect x="94.6" y="287.44" width="13.16" height="2.4" fill="#c4102e"/>
<rect x="94.6" y="291.14" width="12.98" height="2.4" fill="#c4102e"/>
<rect x="94.6" y="294.84" width="12.48" height="2.4" fill="#c4102e"/>
<rect x="94.6" y="298.55" width="9.16" height="2.4" fill="#c4102e"/>
<rect x="94.6" y="302.25" width="8.98" height="2.4" fill="#c4102e"/>
<rect x="94.6" y="305.95" width="8.85" height="2.4" fill="#c4102e"/>
<rect x="94.6" y="309.65" width="8.85" height="2.4" fill="#c4102e"/>
<rect x="94.6" y="313.36" width="8.31" height="2.4" fill="#c4102e"/>
<rect x="94.6" y="317.06" width="7.77" height="2.4" fill="#c4102e"/>
<rect x="94.6" y="320.76" width="6.91" height="2.4" fill="#c4102e"/>
<rect x="94.6" y="324.47" width="5.7" height="2.4" fill="#c4102e"/>
<rect x="94.6" y="328.17" width="4.49" height="2.4" fill="#c4102e"/>
<rect x="94.6" y="331.87" width="2.6" height="2.4" fill="#c4102e"/>
<rect x="89.93" y="335.57" width="4.67" height="2.4" fill="#c4102e"/>
<rect x="89.08" y="339.28" width="5.52" height="2.4" fill="#c4102e"/>
<rect x="85.93" y="342.98" width="8.67" height="2.4" fill="#c4102e"/>
<rect x="85.62" y="346.68" width="8.98" height="2.4" fill="#c4102e"/>
<rect x="72.96" y="350.39" width="21.64" height="2.4" fill="#c4102e"/>
<rect x="61.01" y="354.09" width="33.59" height="2.4" fill="#c4102e"/>
<rect x="56.17" y="357.79" width="38.43" height="2.4" fill="#c4102e"/>
<rect x="49.79" y="361.5" width="44.81" height="2.4" fill="#c4102e"/>
<rect x="49.79" y="365.2" width="44.81" height="2.4" fill="#c4102e"/>
<rect x="49.79" y="368.9" width="44.81" height="2.4" fill="#c4102e"/>
<path d="M44.8 242V371.8H163.5M44.8 244.2h-2.5M44.8 247.9h-2.5M44.8 251.61h-2.5M44.8 255.31h-2.5M44.8 259.01h-2.5M44.8 262.71h-2.5M44.8 266.42h-2.5M44.8 270.12h-2.5M44.8 273.82h-2.5M44.8 277.53h-2.5M44.8 281.23h-2.5M44.8 284.93h-2.5M44.8 288.64h-2.5M44.8 292.34h-2.5M44.8 296.04h-2.5M44.8 299.75h-2.5M44.8 303.45h-2.5M44.8 307.15h-2.5M44.8 310.85h-2.5M44.8 314.56h-2.5M44.8 318.26h-2.5M44.8 321.96h-2.5M44.8 325.67h-2.5M44.8 329.37h-2.5M44.8 333.07h-2.5M44.8 336.77h-2.5M44.8 340.48h-2.5M44.8 344.18h-2.5M44.8 347.88h-2.5M44.8 351.59h-2.5M44.8 355.29h-2.5M44.8 358.99h-2.5M44.8 362.7h-2.5M44.8 366.4h-2.5M44.8 370.1h-2.5M49.7 371.8v2.2M72.15 371.8v2.2M94.6 371.8v2.2M117.05 371.8v2.2M139.5 371.8v2.2M161.95 371.8v2.2" stroke="#111" stroke-width=".9" fill="none"/>
<g font-size="4.7" text-anchor="end" fill="#1a1a1a" stroke="#fff" stroke-width=".55" paint-order="stroke" transform="translate(41 0) scale(.9 1)">
<text x="0" y="245.85">CD127</text>
<text x="0" y="249.55">CD26</text>
<text x="0" y="253.26">CCR7</text>
<text x="0" y="256.96">TIGIT</text>
<text x="0" y="260.66">CD4</text>
<text x="0" y="264.36">CD27</text>
<text x="0" y="268.07">CD8</text>
<text x="0" y="271.77">CD152</text>
<text x="0" y="275.47">TCF1</text>
<text x="0" y="279.18">PD-1</text>
<text x="0" y="282.88">CD28</text>
<text x="0" y="286.58">GranzymeK</text>
<text x="0" y="290.29">CD45RA</text>
<text x="0" y="293.99">HLA-DR</text>
<text x="0" y="297.69">CXCR3</text>
<text x="0" y="301.39">TOX</text>
<text x="0" y="305.1">CD38</text>
<text x="0" y="308.8">CD95</text>
<text x="0" y="312.5">Eomes</text>
<text x="0" y="316.21">CTLA-4</text>
<text x="0" y="319.91">CD49d</text>
<text x="0" y="323.61">Ki67</text>
<text x="0" y="327.32">GranzymeB</text>
<text x="0" y="331.02">Helios</text>
<text x="0" y="334.72">Tbet</text>
<text x="0" y="338.42">CD69</text>
<text x="0" y="342.13">CD57</text>
<text x="0" y="345.83">CD25</text>
<text x="0" y="349.53">CD103</text>
<text x="0" y="353.24">CD45</text>
<text x="0" y="356.94">CD56</text>
<text x="0" y="360.64">CXCR5</text>
<text x="0" y="364.35">Tim-3</text>
<text x="0" y="368.05">LAG-3</text>
<text x="0" y="371.75">CD16</text>
</g>
<text x="48.9" y="380.3" font-size="4.9" text-anchor="middle">-100</text>
<text x="71.35" y="380.3" font-size="4.9" text-anchor="middle">-50</text>
<text x="94.6" y="380.3" font-size="4.9" text-anchor="middle">0</text>
<text x="117.05" y="380.3" font-size="4.9" text-anchor="middle">50</text>
<text x="139.5" y="380.3" font-size="4.9" text-anchor="middle">100</text>
<text x="161.95" y="380.3" font-size="4.9" text-anchor="middle">150</text>
<text x="50.2" y="236.4" font-size="5" textLength="25.3" lengthAdjust="spacingAndGlyphs">Cluster_17</text>
<text x="104.45" y="387.3" font-size="5.9" text-anchor="middle" textLength="18.4" lengthAdjust="spacingAndGlyphs">Intensity</text>
<text font-size="5.9" text-anchor="middle" textLength="15.5" lengthAdjust="spacingAndGlyphs" stroke="#111" stroke-width=".12" transform="translate(11.1 306.9) rotate(-90)">Marker</text>
<text x="178.4" y="226.3" font-size="12.6" font-weight="bold" fill="#000" stroke="#000" stroke-width=".45">D</text>
<text x="302" y="224.7" font-size="8.2" text-anchor="middle" textLength="54.3" lengthAdjust="spacingAndGlyphs" stroke="#111" stroke-width=".2">Non-CAR T cells</text>
<text x="266" y="231.6" font-size="6.9" text-anchor="middle" stroke="#111" stroke-width=".15">Pre</text>
<text x="347" y="231.6" font-size="6.9" text-anchor="middle" stroke="#111" stroke-width=".15">Post</text>
<text font-size="5.6" text-anchor="middle" textLength="26" lengthAdjust="spacingAndGlyphs" stroke="#111" stroke-width=".12" transform="translate(202.6 269.5) rotate(-90)">Responders</text>
<text font-size="5.6" text-anchor="middle" textLength="34.5" lengthAdjust="spacingAndGlyphs" stroke="#111" stroke-width=".12" transform="translate(202.4 348.7) rotate(-90)">Non-responders</text>
<text font-size="5.4" text-anchor="middle" textLength="13.2" lengthAdjust="spacingAndGlyphs" stroke="#111" stroke-width=".12" transform="translate(210.8 369) rotate(-90)">tSNE2</text>
<text x="240" y="400.2" font-size="5.4" text-anchor="middle" textLength="14.5" lengthAdjust="spacingAndGlyphs">tSNE1</text>
<path d="M214.7 347.5V393H260.5" stroke="#111" stroke-width=".7" fill="none"/>
<path d="M214.7 345.2l1.7 3.6h-3.4zM263.2 393l-3.6 1.7v-3.4z" fill="#111"/>
<rect x="234.9" y="241.2" width="60.9" height="56.4" fill="#fff" stroke="#333" stroke-width=".7"/>
<path d="M246.2 241.2V297.6M264.5 241.2V297.6M281.5 241.2V297.6M234.9 255H295.8M234.9 270.6H295.8M234.9 285.6H295.8" stroke="#ebebeb" stroke-width=".5" fill="none"/>
<clipPath id="c5"><rect x="235.3" y="241.6" width="60.1" height="55.6"/></clipPath>
<g clip-path="url(#c5)" stroke-linecap="round" fill="none">
<g transform="scale(.1)">
<ellipse cx="2520" cy="2525" rx="28" ry="28" fill="#b4e444" opacity=".35" filter="url(#bl)" transform="rotate(0 2520 2525)"/>
<path d="M2494 2501h0m41-26h0m-18 1h0m28 54h0m5-15h0m-21 5h0m-25 9h0m-11-11h0m43 9h0m-25 47h0m11-61h0m2 1h0m-12 4h0m53 8h0m-41 15h0m41-20h0m-58 59h0m-19-62h0m47 58h0m-36-103h0m36 41h0m-23 22h0m13-4h0m-14 22h0m43-27h0m-44 15h0m21-39h0m-21 46h0m8-30h0m7 6h0m-5-42h0m39 47h0m-58 18h0m26-22h0m16 50h0m-10-15h0m35-58h0m-59 40h0m-26-23h0m66 29h0m-16-65h0m39 54h0m-35-1h0m-54-43h0m11 74h0m8-47h0m13 18h0m16-7h0m-38-75h0m31 75h0m23-8h0m-40 11h0m-21-32h0m12 29h0m68 11h0m-20-12h0m-19-15h0m-13-44h0m-20 26h0m45 43h0m7 19h0m-32-11h0m49-23h0m-19-4h0m-59 7h0m17-1h0m8 5h0m-37 39h0m112-63h0m-108 17h0m75 20h0m-13-113h0m-72 157h0m65-136h0m-53 3h0m-7 125h0m38-2h0m19-126h0m-40 182h0m-5-161h0m96 55h0m-60 67h0m-85-51h0m34-88h0m12 124h0m33-145h0m-47 163h0m103-127h0" stroke="#b4e444" stroke-width="7"/>
<path d="M2824 2506h0m-131 9h0m77 63h0m4-74h0m-58-37h0m17 31h0m12-24h0m-28 14h0m-25-11h0m7 0h0m58 46h0m-69 15h0m59 35h0m-18-61h0m-18 12h0m43 2h0m-27 14h0m12-11h0m-37-2h0m-2-38h0m42 107h0m30-76h0m-42 36h0m56 8h0m-57-38h0m-5-17h0m-19 2h0m-47-35h0m94 10h0m4-13h0m-33 61h0m-25-40h0m128 1h0m-116 4h0m27 20h0m35 29h0m-51-41h0m-36-42h0m24 81h0m32 3h0m29-35h0m43-13h0m-100 3h0m64 11h0m-68 20h0m68-19h0m-50 43h0m45-5h0m-64-24h0m41-76h0m31 69h0m-56 79h0m17-109h0m-7 47h0m32-22h0m-61-24h0m1-13h0m29 21h0m3-12h0m-33 23h0m18 48h0m-20-34h0m32-55h0m28 54h0m-103 15h0m110-50h0m28 34h0m-104 15h0m29-69h0m-65 58h0m51 14h0" stroke="#3458f4" stroke-width="7"/>
<ellipse cx="2628" cy="2500" rx="12" ry="12" fill="#30c4d8" opacity=".68" filter="url(#bl)" transform="rotate(0 2628 2500)"/>
<path d="M2632 2495h0m-9 24h0m23-11h0m-21-18h0m-1 28h0m9-20h0m-17 4h0m3-1h0m17 11h0m-6-15h0m1 22h0m1-33h0m12 17h0m20-7h0m-37 2h0m5-3h0m-19-14h0m14 14h0m-5 27h0m14-10h0m-13-8h0m3-6h0m10 9h0m-5-5h0m-18-9h0m19 4h0m-12 7h0m-1-10h0m18 3h0m6 9h0m-6 6h0m-31-12h0m9-4h0m12 17h0m0 24h0m-10-38h0m13 23h0m-3-35h0m-6-18h0m35 48h0m-18-10h0m-23-15h0m31-9h0m-35 53h0" stroke="#30c4d8" stroke-width="7"/>
<ellipse cx="2767" cy="2598" rx="17" ry="17" fill="#2444e4" opacity=".68" filter="url(#bl)" transform="rotate(0 2767 2598)"/>
<path d="M2789 2602h0m-14-1h0m12-9h0m-18 13h0m19-10h0m-17-3h0m-12-3h0m10 21h0m-11-20h0m4 13h0m15-22h0m-4 4h0m5 0h0m-25 4h0m14-4h0m4 15h0m-2 2h0m11-14h0m-12 10h0m-28 6h0m17-15h0m5 11h0m10 5h0m-14 3h0m16-15h0m-6 16h0m6-1h0m-5 6h0m29-10h0m-52 18h0m14-42h0m-24 24h0m47 8h0m-20 6h0m4-28h0m2 11h0m0 3h0m-31 16h0m22-13h0m-3-6h0m8-24h0m8 30h0m-20-37h0m6 17h0m10 11h0m21 9h0m-26-7h0m-35-14h0m26 11h0m17 4h0m9-12h0m-9 8h0m-4 6h0m-4-2h0m3 11h0m-1-10h0m37 5h0m-28 6h0m-37 6h0m52-8h0m6 10h0m7-41h0m-23 2h0m24 20h0m-74 0h0m9 25h0m19-92h0m-1 93h0m20-48h0m10 35h0m24 10h0m-32-50h0m-3 32h0m-8 4h0m-35 4h0" stroke="#2444e4" stroke-width="7"/>
<ellipse cx="2710" cy="2529" rx="12" ry="12" fill="#203080" opacity=".41" filter="url(#bl)" transform="rotate(0 2710 2529)"/>
<path d="M2711 2533h0m-1-6h0m3 11h0m-5-5h0m-5 1h0m8-17h0m12 4h0m-11-4h0m-19 19h0m4-27h0m12 5h0m0 34h0m-2-15h0m9-1h0m-6 13h0m0-12h0m2-16h0m2 13h0m3 7h0m10-26h0m-28 8h0m-7 20h0m17-6h0m-34-24h0m34 11h0m-11 7h0" stroke="#203080" stroke-width="7"/>
<ellipse cx="2786" cy="2506" rx="10" ry="10" fill="#2848e8" opacity=".38" filter="url(#bl)" transform="rotate(0 2786 2506)"/>
<path d="M2785 2498h0m16 3h0m-9 11h0m3-10h0m-16 9h0m10-24h0m-24 15h0m19 3h0m6-6h0m19 15h0m-11-5h0m-28 0h0m12 2h0m4 2h0m-15-13h0m16-7h0m-8 25h0m43-15h0" stroke="#2848e8" stroke-width="7"/>
<path d="M2651 2530h0m-45 52h0m36-48h0m1 41h0m25 28h0m-27-47h0m-10-16h0m-38-34h0m-17 20h0m42 48h0m-43-7h0m61 36h0m-17-25h0m-10 25h0m-42-24h0m-27 51h0m114-134h0m-51 25h0m-43 35h0m31 51h0m12-76h0m16 53h0m31 4h0m-81-47h0m46 0h0m33 17h0m-29-1h0m4-40h0m72 33h0m-99-42h0m22 14h0m15 90h0m10-58h0m23 9h0m-46 9h0m-15 13h0m-27-77h0m85 36h0m-54 38h0m-4-53h0m9 8h0m27 17h0m-29 43h0m-45-79h0m80 96h0m-22-69h0m39 43h0m-7-82h0m-40 28h0m-34 56h0m64-37h0m-34 65h0m31-52h0m-5 8h0m-62-22h0m54 40h0" stroke="#f2f244" stroke-width="7"/>
<ellipse cx="2475" cy="2627" rx="20" ry="10" fill="#f09414" opacity=".68" filter="url(#bl)" transform="rotate(40 2475 2627)"/>
<path d="M2465 2610h0m11 2h0m11 29h0m16-14h0m-46 3h0m11-28h0m3 37h0m17-11h0m-8 7h0m-3-3h0m3 11h0m7 5h0m-4-33h0m7 9h0m19 19h0m-46-46h0m16 36h0m3 3h0m-20-12h0m13-13h0m9 29h0m-18-24h0m18 27h0m-27-20h0m-13-22h0m37 29h0m4-11h0m-13 10h0m-8-10h0m21-7h0m-19 13h0m-9-13h0m29 11h0m-18 7h0m22-1h0m-3 11h0m-17-2h0m13-1h0m1 4h0m8-1h0m-46-21h0m37 20h0m-4-13h0m15-15h0m1 35h0m-48-35h0m21 8h0m-22 73h0m-5-80h0m47 39h0m34 1h0m-55-32h0m-45-1h0m12-8h0" stroke="#f09414" stroke-width="7"/>
<ellipse cx="2615" cy="2649" rx="12" ry="12" fill="#a01030" opacity=".68" filter="url(#bl)" transform="rotate(0 2615 2649)"/>
<path d="M2628 2641h0m-14 6h0m19 5h0m-35 8h0m28-31h0m-38 46h0m28-47h0m10 35h0m-34-1h0m31-13h0m-15 4h0m-1-2h0m6-6h0m8 14h0m3-5h0m8-18h0m-16 15h0m12-25h0m-17 20h0m6 26h0m1-24h0m2 11h0m-6 7h0m-11-4h0m20-3h0m8-12h0m-11 5h0m-11-11h0m-1 17h0m-15-22h0m23 26h0m-1 0h0m0-18h0m-15 7h0m53 0h0m-60 11h0m-7-38h0m54 34h0m-3-4h0m-24-1h0m-5 19h0m-20-64h0m9 61h0m7-70h0" stroke="#a01030" stroke-width="7"/>
<ellipse cx="2558" cy="2633" rx="10" ry="10" fill="#705424" opacity=".62" filter="url(#bl)" transform="rotate(0 2558 2633)"/>
<path d="M2582 2626h0m-25 13h0m5-7h0m-17 6h0m5-6h0m15-1h0m-22-2h0m21 11h0m-16-6h0m13 9h0m1-8h0m-6 3h0m9-6h0m-9 16h0m2-21h0m6-4h0m-15 19h0m10-2h0m6-13h0m-2 4h0m-3 5h0m-2-13h0m3 11h0m7-19h0m-6 15h0m-11-1h0m3-20h0m-5 16h0m18 6h0" stroke="#705424" stroke-width="7"/>
<ellipse cx="2666" cy="2737" rx="54" ry="40" fill="#30e468" opacity=".44" filter="url(#bl)" transform="rotate(0 2666 2737)"/>
<path d="M2725 2757h0m-46-13h0m-72 5h0m112-43h0m2 51h0m-43-32h0m-11-12h0m-1 27h0m3-40h0m36 17h0m-22 39h0m-25 59h0m13-64h0m-15-3h0m-42 10h0m37-36h0m47 44h0m-49-60h0m-66 1h0m104 51h0m-73-19h0m96-25h0m-67-4h0m41-31h0m-23 74h0m3 15h0m28-46h0m-67-17h0m62 29h0m-16-25h0m43 56h0m-16-62h0m76 61h0m-153 4h0m40-54h0m-26 39h0m44-9h0m-22-38h0m20 24h0m-19 27h0m78-39h0m-30-3h0m-5 43h0m-33-13h0m-34-18h0m72 35h0m54-55h0m-113 34h0m22-19h0m-20 13h0m70 0h0m-84 13h0m-77-37h0m82 36h0m-68-16h0m50 37h0m77-44h0m-13-22h0m-11 44h0m35-21h0m-132 38h0m44-42h0m29 68h0m13-15h0m5-79h0m16 59h0m-42-64h0m140 114h0m-100-52h0m22 4h0m-100-61h0m95 85h0m10-16h0m-44 4h0m64-14h0m-12 21h0m-81-1h0m-2-64h0m98-23h0m-74 79h0m24-40h0m-55 28h0m60-19h0m-62-41h0m40 42h0m35-8h0m3-27h0m-109 66h0m54-55h0m12-11h0m-9-6h0m21 25h0m-9 18h0m21-53h0m-12 45h0m-54 0h0m68 22h0m61-24h0m-76 69h0m-30-85h0m6 8h0m17 22h0m-30-39h0m29-3h0m-31 49h0m30-42h0m-55 0h0m-2 47h0m91-7h0m-18-24h0m-6 17h0m-5-17h0m-46 24h0m60-43h0m-25 33h0m30-51h0m-78 10h0m7 9h0m85-3h0m53 44h0m-59-9h0m7 13h0m-3 6h0m-7-6h0m19-11h0m-66 48h0m2-37h0m105-32h0m-97-1h0m-27 41h0m30-16h0m-61 11h0m40-74h0m0 10h0m94-3h0m-53 20h0m-45-7h0m83 5h0m-75 41h0m10 14h0m-15-71h0m49 87h0m3-63h0m26 50h0m-63-11h0m14-9h0m28 23h0m-23-25h0m-105-27h0m120 1h0m-3 18h0m-13 9h0m51 12h0m-52-51h0m14 3h0m35 12h0m-76 16h0m-15 20h0m54-36h0m-35 77h0m69-39h0m-36 29h0m-27-54h0m10-24h0m-31 88h0m43-83h0m-16 12h0m-8 13h0m-42-53h0m51 48h0m-39 4h0m25 9h0m14 28h0m66-14h0m-56 6h0m29-12h0m1-25h0m0 27h0m-15-21h0m-33 23h0m-3-50h0m88 69h0m-99 6h0m-52-24h0m111-11h0m-36 16h0m29-58h0m-50 65h0m59-65h0m-90 48h0m27-36h0m12 29h0m-60 17h0m66 4h0m-31-54h0m66 57h0m-22-40h0m56 43h0m-42-41h0m39 29h0m-65 23h0m59-38h0m-26 17h0m-37-60h0m67-13h0m-110 7h0m81 74h0m-46 8h0m93 2h0m-119-2h0m145-67h0m-158 67h0m87-40h0m-24-51h0m-32 58h0m54 22h0m18-42h0m-41 57h0m-52-27h0m21-10h0m110 6h0m-94-33h0m-38 20h0m-36-2h0m98-25h0m-37 64h0m82 26h0m-4-53h0m-55 28h0m36-32h0m46-10h0m-66 38h0m12-31h0m23 82h0m-56-63h0m31-16h0m51-8h0m1-27h0m-64 5h0m10 46h0m7-14h0m-33-44h0m45 38h0m69-128h0m-124-2h0m118 74h0m-187 124h0m83-49h0m-1 67h0m34-66h0m-26 54h0m100-101h0m-23-88h0m-146 74h0m5 82h0m-57-160h0m139 52h0m-12 74h0m-64-38h0m134 31h0m-69 52h0m-71-145h0m33 218h0m85 46h0m34-100h0m-131-198h0m-143 138h0m88-102h0m148 113h0m-164-3h0m236 53h0m-183 0h0m-113-95h0m135 118h0m-68-169h0m77 132h0m-93-40h0m91-54h0m-80 68h0m125 1h0m2-42h0m-93 7h0m147 12h0m-22 56h0m-17-86h0m-115 117h0m70-111h0m23 76h0m68-117h0m-83 144h0m-46-87h0m-21-115h0m-40 125h0m142-212h0m-51 182h0m-113 12h0m67 110h0m-18-24h0m-17-160h0m230 21h0m-164-64h0m52 230h0m-39-129h0m25-37h0m-113 62h0m84-139h0m-184 172h0m101-2h0m191-40h0m-132-191h0m188 265h0m-202-151h0m110-72h0m19 226h0m-169-155h0" stroke="#30e468" stroke-width="7"/>
<ellipse cx="2875" cy="2694" rx="43" ry="43" fill="#54e430" opacity=".35" filter="url(#bl)" transform="rotate(0 2875 2694)"/>
<path d="M2935 2679h0m-53 5h0m-73 44h0m120-52h0m-82 69h0m-21-60h0m6-42h0m24-36h0m-20 89h0m16-38h0m105 63h0m-98 10h0m38-30h0m3-18h0m-43 71h0m21-9h0m-68-80h0m36 34h0m28 28h0m19-32h0m0 23h0m-8-103h0m-25 100h0m3 26h0m-4-44h0m-10-6h0m63 50h0m-7-24h0m-25-64h0m16 21h0m-11 17h0m19-18h0m-2 22h0m27-4h0m-58-58h0m34 63h0m-102 15h0m89-27h0m27 7h0m-48 17h0m-32 5h0m9-10h0m64-21h0m-57 68h0m22-20h0m19-20h0m27-16h0m-97-7h0m30-29h0m7 51h0m30-11h0m-21-1h0m-10-30h0m17 57h0m-26-28h0m46-32h0m-10 37h0m21-35h0m-48 80h0m82-31h0m-22-40h0m-12 31h0m-11-50h0m-17 63h0m32-8h0m-23 17h0m42-78h0m-116 48h0m114 58h0m-29-90h0m-5 10h0m8 15h0m28-26h0m-7 8h0m-26 34h0m-66-74h0m38 53h0m-14 34h0m29-4h0m-44-25h0m29 38h0m47-49h0m-42-64h0m67 92h0m-50-1h0m-22-69h0m-25 31h0m23-9h0m14 57h0m-1-16h0m72-31h0m-100 53h0m10 30h0m-10-57h0m79-53h0m-22 63h0m-27 36h0m-27-25h0m3 22h0m-24-45h0m23-34h0m50 23h0m-14-64h0m-53 44h0m46-20h0m-1 85h0m-8-27h0m-16-34h0m12 36h0m50-1h0m-73 21h0m-10-94h0m26 43h0m28 21h0m-64-22h0m26 93h0m-24-103h0m82 83h0m-52-4h0m8-75h0m0 60h0m52-37h0m-92 15h0m28-30h0m29 29h0m-54-30h0m86 16h0m14-73h0m-96 81h0m4 5h0m35-50h0m57 103h0m-116-69h0m13-3h0m28 5h0m52 48h0m-48-26h0m33-66h0m-19 18h0m35 76h0m-27 7h0m-20-75h0m54 26h0m-34-44h0m13 41h0m-29-33h0m-20 22h0m30 56h0m-63-89h0m26 23h0m4-15h0m5 53h0m9-45h0m34 36h0m-53 35h0m11-73h0m34 5h0m-84 126h0m39-168h0m46 59h0m-154-22h0m175 0h0m-3-52h0m29 59h0m-114-64h0m120 86h0m-95 28h0m17-50h0m36-8h0m41 200h0m-188-165h0m92 44h0m-110 108h0m197-5h0m25-222h0m-93 191h0m93-172h0m-63 153h0m76-125h0m-65 66h0m-45-56h0m86 17h0m-74 85h0m87-44h0m-112-98h0m-49 13h0m101-49h0m-84 21h0m75 42h0m96 126h0m-106-104h0m74-54h0m-8-27h0m-96 114h0m36-140h0m-67 126h0m-56 118h0m64-118h0m250-29h0m-180 61h0m-30-115h0m-101 90h0m96 79h0m28-48h0" stroke="#54e430" stroke-width="7"/>
<path d="M2408 2715h0m52-2h0m8-2h0m-33 28h0m-31 78h0m-4-40h0m98-60h0m-39 43h0m-1-11h0m-25-5h0m-7-58h0m11 66h0m18-13h0m-24-9h0m-14-9h0m31-24h0m49-39h0m-30 56h0m13-6h0m-6-9h0m-56 19h0m28-27h0m40-3h0m-50 41h0m4 33h0m-28-3h0m72-32h0m29-57h0m-89 5h0m-88-31h0m118 43h0m-94 41h0m39-18h0m27 64h0m-67-43h0m204-6h0m-109-3h0m19 18h0m-8-55h0m-21 57h0m0 2h0m37 27h0m-29-26h0m-21-33h0m39-31h0m15 4h0m-44 12h0m-28 44h0m-30 33h0m3-24h0m48-36h0m22 56h0m-5-70h0m-7 60h0m-36-25h0m80-32h0m-50 54h0m-15-33h0m11 9h0m-29-67h0m78 31h0m-73 58h0m13-37h0m-19-3h0m53 47h0m13-80h0m-38 66h0m-19-56h0m19 72h0m-29-11h0m66-52h0" stroke="#64e444" stroke-width="7"/>
<ellipse cx="2564" cy="2712" rx="12" ry="12" fill="#f0e424" opacity=".68" filter="url(#bl)" transform="rotate(0 2564 2712)"/>
<path d="M2552 2709h0m9-3h0m4 29h0m9-10h0m-10-1h0m-6-9h0m18 20h0m-6-21h0m-6-11h0m7 26h0m1-17h0m-10-9h0m16 9h0m-1-9h0m-5 18h0m-9-14h0m28 22h0m-13-23h0m1 13h0m4-8h0m-21-9h0m-13-7h0m12 18h0m19 19h0m-21-42h0m9 26h0m-8-13h0m-2 11h0m8-19h0m-3 7h0m-8 11h0m1 1h0m-17 4h0m28-11h0m-22-30h0m-6 74h0m34-42h0m-23-12h0m-12 21h0m46-29h0m-7 13h0m-6-10h0m10 57h0m-30-44h0" stroke="#f0e424" stroke-width="7"/>
<ellipse cx="2628" cy="2760" rx="12" ry="12" fill="#20a428" opacity=".68" filter="url(#bl)" transform="rotate(0 2628 2760)"/>
<path d="M2638 2753h0m-23-18h0m7 37h0m-2-14h0m-18-3h0m24-2h0m-3-5h0m-5 24h0m-2 1h0m-2 0h0m12-6h0m0-2h0m26-28h0m-30 28h0m21-18h0m-14 22h0m-6-8h0m8 10h0m1-6h0m-11-9h0m30-8h0m-27 6h0m5-2h0m7 1h0m-14-8h0m1 0h0m2 21h0m-14 14h0m25-17h0m-12 8h0m9-15h0m-3 6h0m-10 13h0m-6-10h0m-6-6h0m15 5h0m39-14h0m-22 19h0m-6-34h0m-6-11h0m25 69h0m-21-21h0m-4-51h0m-7 60h0" stroke="#20a428" stroke-width="7"/>
<ellipse cx="2583" cy="2793" rx="23" ry="23" fill="#30c4f4" opacity=".62" filter="url(#bl)" transform="rotate(0 2583 2793)"/>
<path d="M2582 2778h0m-53 35h0m85 13h0m18-73h0m-48 53h0m-11-8h0m32-15h0m-9-7h0m-59 18h0m56 9h0m6-29h0m-3-40h0m-9 34h0m-3 3h0m3 39h0m17-27h0m6 16h0m0-6h0m-47 2h0m3-20h0m-22 22h0m64-24h0m-29-9h0m12 50h0m-8-8h0m14-16h0m1-29h0m-18 35h0m16 22h0m-17-41h0m-4 10h0m-9-20h0m23 3h0m-6 23h0m-1 20h0m8-16h0m21-11h0m-53-3h0m44-9h0m-35 28h0m62-17h0m-25 37h0m-31-42h0m6 0h0m4-10h0m-5 21h0m44-24h0m-37 11h0m-3 7h0m-15 4h0m2 8h0m33 5h0m-17 3h0m-6-3h0m55-1h0m-13 6h0m-45-9h0m-12 5h0m42-1h0m-6-8h0m-25-35h0m17 52h0m7-22h0m-5 14h0m1-22h0m-33-25h0m13 29h0m-8 11h0m-9 1h0m54-8h0m-62 3h0m22 1h0m5-12h0m11 31h0m-9-18h0m-26 36h0m13-37h0m-10 8h0m9-8h0m6-6h0m5-11h0m3 1h0m-3 7h0m-14 12h0m31-1h0m-40 7h0m44-41h0m4-13h0m-14 56h0m18 15h0m-15-10h0m20 16h0m-23-18h0m-27-29h0m48 22h0m-47-11h0m-49-2h0m107-65h0m-41 82h0m-3-9h0m-21-36h0m28-41h0m-5 14h0m-25 118h0m14-78h0m49-12h0m-57 29h0m48-35h0m-26-37h0m-49 70h0m24 14h0m56-93h0m-17 88h0m-26 1h0m-18 11h0m38 55h0m-83-114h0m92 82h0m-64-84h0m28 58h0m-16 23h0m96-46h0m-15-51h0m-85 83h0" stroke="#30c4f4" stroke-width="7"/>
<ellipse cx="2520" cy="2859" rx="45" ry="38" fill="#f05414" opacity=".62" filter="url(#bl)" transform="rotate(0 2520 2859)"/>
<path d="M2549 2818h0m-47 53h0m15-36h0m1 48h0m-17-63h0m63 24h0m-117 22h0m104 25h0m1-33h0m-22 14h0m47-4h0m-113 21h0m61-35h0m-14 28h0m9-15h0m-1 20h0m-40-16h0m58-13h0m35 51h0m-62-13h0m-15 24h0m68-76h0m-14 32h0m-42-54h0m7 68h0m40-19h0m-18-38h0m-37 31h0m13-35h0m-38 65h0m42-23h0m-32-50h0m67 48h0m1-33h0m-47 33h0m4 30h0m56-62h0m-9 17h0m-6 17h0m-38-4h0m77 25h0m-54-42h0m72 52h0m-72-20h0m-11-2h0m35-14h0m-36-18h0m-22 13h0m37-65h0m13 37h0m5 64h0m20-15h0m-79 38h0m11-12h0m-14-48h0m-11 2h0m62 29h0m-79-41h0m28 45h0m40 0h0m-10 18h0m7-30h0m17-12h0m-52-17h0m79 50h0m-64-25h0m-46 15h0m54-99h0m-29 57h0m18 8h0m-16-53h0m86 24h0m-96-15h0m27 81h0m55 23h0m-66-62h0m72-2h0m-34 61h0m-50-87h0m57 11h0m-31 57h0m24 7h0m-39-42h0m38 9h0m-85-43h0m90-25h0m-78 34h0m42 47h0m39-39h0m-56-14h0m77 40h0m-22-73h0m-88 92h0m142-16h0m-103-65h0m-17 63h0m56-32h0m13 65h0m-6-62h0m-59 5h0m15 65h0m13-3h0m-5-42h0m37-13h0m-13 8h0m-12 1h0m53 54h0m-49-11h0m3-43h0m16-5h0m20-10h0m-38 19h0m-19-30h0m36 50h0m-24-56h0m-14 19h0m12 5h0m82-30h0m-108 17h0m-12 46h0m-2-53h0m16 33h0m30-29h0m-11 38h0m34 39h0m-42-13h0m99-25h0m-134-11h0m95 16h0m-26-48h0m18 39h0m-22-67h0m21 61h0m-3-23h0m36 44h0m-45-61h0m-36-18h0m31 31h0m-22-51h0m21 32h0m-89 88h0m143-55h0m-140 0h0m105-23h0m3 56h0m-11-10h0m-60-35h0m-2-29h0m69 35h0m1 1h0m-64 49h0m76-47h0m-23-48h0m-38 92h0m26-41h0m45 46h0m-86-56h0m45-19h0m11 53h0m-18-64h0m-9 43h0m20-1h0m-26 53h0m62-70h0m-94 52h0m20-69h0m33-3h0m-36 32h0m29-8h0m39 38h0m28-7h0m-56 14h0m-16 3h0m-15-48h0m-75-8h0m107 39h0m-9-4h0m84-7h0m-80-8h0m14-33h0m-4 95h0m18-31h0m-63-71h0m27 59h0m-22-36h0m-26-12h0m102 41h0m-20-14h0m-64-8h0m47-3h0m15 36h0m-77-8h0m67 53h0m-58-73h0m34-2h0m60-19h0m-61 61h0m63-20h0m-14-20h0m-8 2h0m7-38h0m-11 28h0m-45 14h0m24-3h0m-57-16h0m58 45h0m-17-21h0m-27 13h0m17-63h0m80 26h0m-71 61h0m-20-91h0m43 71h0m-44-39h0m55 2h0m-35 5h0m80-38h0m-45 43h0m19-69h0m-40 82h0m-65-85h0m121 89h0m-88-40h0m48 57h0m-50-28h0m71-29h0m-23 65h0m-93-77h0m143 33h0m-40 18h0m-1 31h0m24-13h0m-96-57h0m106 8h0m-73-21h0m-36 31h0m64 14h0m-36-32h0m-52 46h0m22 15h0m66-86h0m-18 95h0m-51-33h0m66 2h0m-18 43h0m6-82h0m-38 9h0m3 14h0m-22 69h0m63-73h0m39 51h0m-100-26h0m9-40h0m55 15h0m1-8h0m9 29h0m-90-16h0m-19-34h0m95 66h0m-55-45h0m28-16h0m64 65h0m-46-42h0m-2 8h0m-22-36h0m16 51h0m2 30h0m-61-54h0m87 49h0m-27-29h0m10 5h0m-1-6h0m28-12h0m-32-27h0m-29 30h0m50-5h0m37-6h0m-49 2h0m41 7h0m-92-15h0m-43 44h0m170-34h0m-59 38h0m-35-48h0m53-13h0m-24 49h0m-53-74h0m60 56h0m-4-34h0m-42 52h0m25-12h0m-43 10h0m55 45h0m14-24h0m-42 157h0m-86-148h0m-93-91h0m268-98h0m6 60h0m-38 39h0m-102 5h0m107 15h0m3 25h0m-124 98h0m19-120h0m158 126h0m-85-23h0m21-151h0m-91 76h0m141-44h0m-133-24h0m20-5h0m49 127h0m-20-201h0m-124 132h0m214-32h0m-44 33h0m31-77h0m-181 44h0m99 52h0m152 18h0m-242 28h0m-64-6h0m141-120h0m-28 31h0m77 23h0m38-32h0m51 210h0m-95-62h0m-39-63h0m44-182h0m48 77h0m-118 34h0m97 32h0m-80-12h0m-26 92h0m-41-67h0m67-3h0m-32-62h0m99 97h0m-117-147h0m29 121h0m-40-87h0m-129 88h0m139 45h0m103-57h0m-24 36h0m0-13h0m73-76h0m-188 52h0m67 133h0m24-214h0m9 75h0m119 25h0m-38-10h0m-156-23h0m20 168h0m177-194h0m-307-7h0m167-8h0m44 79h0m33 13h0m-101-74h0m101 62h0m-213 7h0m263-121h0m-120 214h0m-10-39h0m-35-103h0m-4-3h0m75-36h0m-7 5h0m73 49h0m-3-72h0m-81 152h0m-54 7h0m44-50h0m33-41h0" stroke="#f05414" stroke-width="7"/>
<ellipse cx="2634" cy="2869" rx="21" ry="21" fill="#8414d4" opacity=".68" filter="url(#bl)" transform="rotate(0 2634 2869)"/>
<path d="M2644 2881h0m-20 8h0m1-19h0m22-23h0m-8 32h0m11 4h0m-33-34h0m20 55h0m13-45h0m-8 18h0m-9-13h0m-17-13h0m28 20h0m-8 17h0m16-43h0m-19 27h0m-9-5h0m1 41h0m6-22h0m-15-51h0m40 43h0m-26-16h0m17 17h0m-26 13h0m38-27h0m-76 29h0m68-31h0m-36 11h0m39 11h0m-24-34h0m-27 0h0m13 1h0m39-1h0m-61 30h0m47-13h0m4 2h0m7-17h0m-14 2h0m-6 25h0m9-4h0m9 21h0m-48-35h0m51 6h0m-2 34h0m-1-19h0m-10-20h0m-8 31h0m30-5h0m-28-41h0m2 13h0m11-8h0m-36 38h0m19-20h0m3-5h0m-9-1h0m-4 14h0m7-32h0m0 33h0m9-16h0m-25-8h0m21 11h0m24 15h0m-16-35h0m21 20h0m-64 22h0m38-11h0m-4-6h0m-15-11h0m27 30h0m-34-16h0m33-34h0m-11 22h0m-19-4h0m28 26h0m-19-17h0m26 9h0m-37 8h0m57-18h0m5-27h0m-61 28h0m50 7h0m-18-18h0m-14 8h0m22-2h0m-28 10h0m40-34h0m-46 42h0m12 15h0m-18-48h0m67 27h0m-35-7h0m-33-23h0m48 45h0m1-26h0m-97 17h0m79-6h0m-47-36h0m108 47h0m-62-65h0m-2 132h0m22 53h0m-101-161h0m28 11h0m84 0h0m-73 102h0m56-89h0m20-47h0m-33 74h0m59-1h0m-5 9h0m-30-137h0m20 146h0m-35-34h0m-4-26h0m-20-90h0" stroke="#8414d4" stroke-width="7"/>
<ellipse cx="2774" cy="2844" rx="28" ry="19" fill="#8424d4" opacity=".62" filter="url(#bl)" transform="rotate(0 2774 2844)"/>
<path d="M2751 2846h0m48-15h0m9 11h0m-40 4h0m35-18h0m-7 35h0m-25-2h0m8-11h0m-39-1h0m24-34h0m41 16h0m-31 40h0m-1-34h0m50 11h0m-28 24h0m1-33h0m-30 4h0m46 15h0m-50-22h0m15 14h0m-1-18h0m37 22h0m-44-1h0m-14-14h0m-5 3h0m7-1h0m-38 3h0m61 16h0m-29-12h0m6 15h0m29-22h0m-70 18h0m92-14h0m-51 13h0m15-25h0m31 20h0m-5-10h0m1-6h0m-39-13h0m18-2h0m-17 0h0m13 54h0m-20-43h0m7 1h0m16 45h0m2-20h0m-26-24h0m36 16h0m-14-15h0m-11 9h0m64 19h0m-77-13h0m35-2h0m-62-8h0m71-2h0m-36 5h0m21-7h0m-11 17h0m2-40h0m-15 36h0m27-9h0m-7-10h0m12 7h0m16-15h0m-36 31h0m0-14h0m-11-2h0m12 0h0m-1-5h0m-25 0h0m41 23h0m-17-34h0m11 20h0m-19 12h0m35-22h0m-26 21h0m-13-4h0m50-2h0m-14-13h0m-60 20h0m97-20h0m-54 1h0m-13 20h0m26-36h0m-7 17h0m4 57h0m-26-31h0m-15-7h0m71-10h0m-11-13h0m-49 32h0m29 6h0m0-45h0m-8-4h0m12-63h0m-7-2h0m-10 72h0m36 101h0m49-42h0m-86-64h0m62-20h0m-48 78h0m-37-88h0m-52 12h0m41 112h0m130-90h0m-124 29h0m-15-12h0m38-15h0m5 33h0m35 7h0m-111-43h0m11 78h0m-49-58h0m98 29h0m66 30h0m-142-114h0m17 55h0m136 79h0m-28-69h0m-10-12h0m128-33h0" stroke="#8424d4" stroke-width="7"/>
<ellipse cx="2850" cy="2852" rx="10" ry="10" fill="#7020c0" opacity=".56" filter="url(#bl)" transform="rotate(0 2850 2852)"/>
<path d="M2858 2856h0m-2-25h0m-23 16h0m5 12h0m24-2h0m-8 8h0m-4-11h0m-5 0h0m4-2h0m-4 3h0m-2 6h0m7-19h0m-6 13h0m-4-12h0m11 14h0m-3-11h0m3-5h0m6 15h0m8-10h0m-31-17h0m31 22h0m0-14h0m-3 6h0m37-9h0m-29-24h0m-31 17h0m34 44h0" stroke="#7020c0" stroke-width="7"/>
<ellipse cx="2856" cy="2781" rx="12" ry="12" fill="#f02494" opacity=".62" filter="url(#bl)" transform="rotate(0 2856 2781)"/>
<path d="M2875 2792h0m-11-30h0m-8 11h0m-9 1h0m20-3h0m-24 19h0m16-23h0m-13 25h0m6-13h0m4 8h0m-4-6h0m6-13h0m9 25h0m-10-14h0m-1-9h0m19-2h0m-32 1h0m20 27h0m-12-31h0m-1 18h0m2 2h0m-3-17h0m-5 1h0m10 26h0m7-28h0m-1 21h0m-7 1h0m0-17h0m10 33h0m-26-35h0m15 13h0m48 19h0m-35-19h0m-27-15h0m38 18h0m-30-12h0m-1 19h0m-34-14h0m15-17h0m32 16h0" stroke="#f02494" stroke-width="7"/>
<ellipse cx="2748" cy="2717" rx="10" ry="10" fill="#205424" opacity=".68" filter="url(#bl)" transform="rotate(0 2748 2717)"/>
<path d="M2762 2727h0m-22-9h0m13-5h0m-19 7h0m14-5h0m0 19h0m-6-22h0m15-1h0m-3 2h0m-11-1h0m18 6h0m-20-1h0m4 9h0m-11-25h0m12-4h0m2 22h0m10 12h0m2-5h0m4-9h0m-21 1h0m9-5h0m6 5h0m16-14h0m-28 13h0m-6 3h0m-1-17h0m-20 34h0m34-33h0m-9 12h0m2 2h0m-9-14h0m32 5h0" stroke="#205424" stroke-width="7"/>
<ellipse cx="2659" cy="2925" rx="21" ry="21" fill="#54e444" opacity=".5" filter="url(#bl)" transform="rotate(0 2659 2925)"/>
<path d="M2674 2950h0m-31-11h0m14-30h0m-2 16h0m3 7h0m-17-6h0m23 15h0m37-13h0m-31-13h0m17 9h0m-41 1h0m4-30h0m15 13h0m3 9h0m4-37h0m-2 48h0m-21-25h0m13 25h0m44-24h0m-41 19h0m-5-16h0m-10 29h0m6-27h0m6 20h0m15 2h0m-20-27h0m37 14h0m-17-5h0m-43 10h0m19-5h0m-11 2h0m-2 6h0m-3-1h0m19 10h0m32-10h0m-34 32h0m9-46h0m-5 26h0m15-10h0m25-25h0m-69-10h0m51 41h0m-7-10h0m26 8h0m-70-30h0m59 41h0m-57-34h0m27 21h0m-8-15h0m15 20h0m14 4h0m-18-20h0m10 37h0m-10-7h0m11 7h0m-18-33h0m-7 25h0m14-12h0m-4-7h0m11 1h0m-18 26h0m23-40h0m-15-21h0m28 28h0m-50-70h0m24 63h0m31-43h0m-40 48h0m13 8h0m-51-18h0m103 57h0m-73-30h0m-8-26h0m31 39h0m-2-40h0m-2 36h0m-30-68h0m9 57h0m102 1h0m-93-18h0m-35-45h0" stroke="#54e444" stroke-width="7"/>
<ellipse cx="2456" cy="2748" rx="10" ry="10" fill="#208424" opacity=".68" filter="url(#bl)" transform="rotate(0 2456 2748)"/>
<path d="M2463 2768h0m-2-12h0m-24 0h0m6-6h0m13-9h0m-8 9h0m6 3h0m16 17h0m-9-24h0m4 2h0m-8-9h0m-9 11h0m19 0h0m-11 17h0m-4-24h0m11-4h0m-15-1h0m8 4h0m10-4h0m-8-4h0m1 38h0m-5-43h0m1 26h0m24-27h0m-24 16h0m-4 26h0m22-21h0m-54-18h0m24-19h0m24 72h0m-7-22h0m-11-25h0" stroke="#208424" stroke-width="7"/>
<ellipse cx="2456" cy="2798" rx="10" ry="10" fill="#a024a0" opacity=".62" filter="url(#bl)" transform="rotate(0 2456 2798)"/>
<path d="M2470 2800h0m-2 4h0m-3 1h0m-1-11h0m-2 22h0m3-22h0m-9-1h0m7 7h0m-18-10h0m15 13h0m-5 2h0m-6 5h0m-1-1h0m-2-26h0m-8 4h0m11 19h0m10-2h0m-12 8h0m18-19h0m-13 12h0m-4-10h0m22 3h0m-20 9h0m-38 2h0m58 20h0m-17-12h0m17-15h0m-19 10h0m0-20h0" stroke="#a024a0" stroke-width="7"/>
<ellipse cx="2710" cy="2798" rx="8" ry="8" fill="#f08010" opacity=".56" filter="url(#bl)" transform="rotate(0 2710 2798)"/>
<path d="M2708 2807h0m-6-10h0m11 6h0m0-25h0m-1 23h0m16-18h0m-31 26h0m2-18h0m13 8h0m3-7h0m5 14h0m-5-7h0m-5-11h0m-8 10h0m-1-6h0m-2 23h0m14 9h0m16-35h0" stroke="#f08010" stroke-width="7"/>
<ellipse cx="2856" cy="2741" rx="9" ry="9" fill="#901060" opacity=".62" filter="url(#bl)" transform="rotate(0 2856 2741)"/>
<path d="M2860 2747h0m-10-10h0m6 6h0m-5 3h0m23 10h0m-14-34h0m-3 31h0m-1-17h0m-9-1h0m2 1h0m8 12h0m-4 2h0m-1-6h0m27 6h0m-32 4h0m13-15h0m-1 8h0m3-5h0m-14-8h0m18 26h0m-26-39h0m6-5h0m18 30h0m-10-22h0" stroke="#901060" stroke-width="7"/>
<ellipse cx="2805" cy="2741" rx="9" ry="9" fill="#406020" opacity=".56" filter="url(#bl)" transform="rotate(0 2805 2741)"/>
<path d="M2803 2730h0m5 0h0m-17 19h0m11-15h0m7 1h0m-9 15h0m11-9h0m-6 4h0m-4-10h0m-2 8h0m0 6h0m12 0h0m0 0h0m-13-7h0m2 12h0m7-3h0m6-11h0m-29 14h0m-7-12h0m38-8h0m-28 7h0m-4 7h0" stroke="#406020" stroke-width="7"/>
<ellipse cx="2698" cy="2684" rx="12" ry="12" fill="#30d0c0" opacity=".5" filter="url(#bl)" transform="rotate(0 2698 2684)"/>
<path d="M2701 2692h0m-3 3h0m-3-3h0m16-12h0m-15 9h0m-7-15h0m6 9h0m-11-10h0m0 6h0m8 13h0m5 10h0m1-30h0m-8 12h0m11 0h0m-11-3h0m17-22h0m-23 17h0m22 38h0m-28-23h0m29-5h0m-11-7h0m11 6h0m-16-19h0m12 31h0m7-25h0m-29-7h0m20 37h0m-20-25h0m12-8h0m-6 5h0m-7-31h0m36 27h0" stroke="#30d0c0" stroke-width="7"/>
</g>
</g>
<g font-size="3.4" font-weight="bold" fill="#111" text-anchor="middle">
<text x="256.48" y="248.18">26</text>
<text x="274.88" y="247.55">23</text>
<text x="262.83" y="251.36">24</text>
<text x="278.69" y="251.99">28</text>
<text x="252.04" y="253.52">9</text>
<text x="271.08" y="254.28">21</text>
<text x="267.01" y="258.34">8</text>
<text x="255.85" y="259.35">6</text>
<text x="276.79" y="261.13">25</text>
<text x="246.33" y="262.78">5</text>
<text x="255.85" y="264.68">14</text>
<text x="261.56" y="266.21">1</text>
<text x="270.44" y="269.76">19</text>
<text x="287.58" y="269.76">11</text>
<text x="257.11" y="272.55">7</text>
<text x="266.25" y="275.47">17</text>
<text x="274.88" y="273.06">18</text>
<text x="280.59" y="275.47">13</text>
<text x="285.67" y="275.47">31</text>
<text x="242.52" y="275.47">3</text>
<text x="247.6" y="276.11">12</text>
<text x="262.83" y="277.38">16</text>
<text x="245.69" y="281.44">27</text>
<text x="259.02" y="280.68">22</text>
<text x="271.08" y="281.82">4</text>
<text x="252.04" y="287.28">2</text>
<text x="264.1" y="289.05">29</text>
<text x="278.06" y="286.51">33</text>
<text x="278.06" y="289.43">35</text>
<text x="285.29" y="286.51">32</text>
<text x="255.85" y="293.88">30</text>
</g>
<text x="265.35" y="239.1" font-size="5.3" text-anchor="middle" textLength="57.5" lengthAdjust="spacingAndGlyphs">Phenograph scattar plot</text>
<path d="M234.9 255h-1.9" stroke="#222" stroke-width=".6"/>
<text x="232" y="256.95" font-size="5.5" text-anchor="end">20</text>
<path d="M234.9 270.6h-1.9" stroke="#222" stroke-width=".6"/>
<text x="232" y="272.55" font-size="5.5" text-anchor="end">0</text>
<path d="M234.9 285.6h-1.9" stroke="#222" stroke-width=".6"/>
<text x="232" y="287.55" font-size="5.5" text-anchor="end">-20</text>
<path d="M246.2 297.6v1.9" stroke="#222" stroke-width=".6"/>
<text x="245.4" y="305.1" font-size="5.5" text-anchor="middle">-20</text>
<path d="M264.5 297.6v1.9" stroke="#222" stroke-width=".6"/>
<text x="264.5" y="305.1" font-size="5.5" text-anchor="middle">0</text>
<path d="M281.5 297.6v1.9" stroke="#222" stroke-width=".6"/>
<text x="281.5" y="305.1" font-size="5.5" text-anchor="middle">20</text>
<text x="265.35" y="311.9" font-size="5.6" text-anchor="middle" textLength="14.6" lengthAdjust="spacingAndGlyphs">tsne_1</text>
<text font-size="5.6" text-anchor="middle" textLength="14.6" lengthAdjust="spacingAndGlyphs" stroke="#111" stroke-width=".12" transform="translate(221.7 270.6) rotate(-90)">tsne_1</text>
<rect x="314.5" y="241.2" width="60.9" height="56.4" fill="#fff" stroke="#333" stroke-width=".7"/>
<path d="M325 241.2V297.6M344.4 241.2V297.6M362.6 241.2V297.6M314.5 254H375.4M314.5 270H375.4M314.5 285.7H375.4" stroke="#ebebeb" stroke-width=".5" fill="none"/>
<clipPath id="c6"><rect x="314.9" y="241.6" width="60.1" height="55.6"/></clipPath>
<g clip-path="url(#c6)" stroke-linecap="round" fill="none">
<g transform="scale(.1)">
<ellipse cx="3316" cy="2525" rx="28" ry="28" fill="#b4e444" opacity=".35" filter="url(#bl)" transform="rotate(0 3316 2525)"/>
<path d="M3328 2487h0m-28 41h0m49-2h0m-69 7h0m10 20h0m21 12h0m3-62h0m-30 15h0m43 34h0m-4-42h0m5-16h0m0 15h0m22 39h0m-25-45h0m4 31h0m-24-22h0m40 5h0m-19 40h0m-42 8h0m55-53h0m-43-13h0m41-30h0m0 61h0m-35-15h0m7 6h0m27-13h0m5 40h0m-30-9h0m-6-12h0m23 42h0m-12-46h0m1-1h0m-24 45h0m10-54h0m-2 28h0m81 52h0m-44-59h0m-22-30h0m17 20h0m30-4h0m-68-35h0m-18 54h0m47-38h0m-41 31h0m26-1h0m7-22h0m-38 20h0m41 1h0m19 17h0m-32-8h0m-37 2h0m47 8h0m23-44h0m-25 46h0m-9-23h0m-2 11h0m20-31h0m-38-31h0m51 39h0m-35-2h0m-5 27h0m35-65h0m-15 52h0m-6 0h0m44 5h0m-11 16h0m-60 17h0m39-46h0m35 114h0m-78-141h0m55-52h0m-71 88h0m90 23h0m4 26h0m-61-68h0m6 0h0m69 58h0m-153-18h0m48-78h0m113 118h0m-5-31h0m31-88h0m-48 23h0m-69-47h0m103 165h0m-31-114h0m-34-23h0m-22 125h0" stroke="#b4e444" stroke-width="7"/>
<path d="M3591 2544h0m-30-28h0m-15-2h0m5-17h0m18 15h0m-29 3h0m49 38h0m-85-67h0m50 38h0m-29 4h0m68-11h0m-8-15h0m-60 30h0m5-30h0m-35 6h0m23 12h0m53 19h0m4-11h0m-26 15h0m10 14h0m-46-21h0m28 29h0m23-65h0m-15 46h0m-14 20h0m8-91h0m1 74h0m-40-3h0m-70 48h0m49-91h0m39-33h0m22 17h0m-59-50h0m73 125h0m-35-34h0m68 6h0m-16 23h0m-15-17h0m16-11h0m-38-34h0m-79-7h0m63 70h0m-1-109h0m37 116h0m-13-34h0m-1-13h0m40-27h0m-77-23h0m8 28h0m-5 32h0m62-56h0m-34 24h0m-28 9h0m37-42h0m41 55h0m-80-55h0m64 83h0m-6-19h0m31 51h0m14-44h0m-43-27h0m-30 3h0m-2 13h0m-1-2h0m5-15h0m-31-2h0m48 43h0m16 62h0m-76-58h0m-11-51h0m18 23h0" stroke="#3458f4" stroke-width="7"/>
<ellipse cx="3424" cy="2500" rx="12" ry="12" fill="#30c4d8" opacity=".68" filter="url(#bl)" transform="rotate(0 3424 2500)"/>
<path d="M3438 2517h0m-9-6h0m0-23h0m13 7h0m-23 5h0m-4-6h0m18-3h0m-15-8h0m-13 21h0m24-7h0m14-6h0m-13 2h0m-5 13h0m-14 9h0m13-14h0m-1 4h0m-11-17h0m17 11h0m-8 5h0m20-14h0m-41 7h0m7 1h0m8 3h0m29-1h0m-37-11h0m7-3h0m16 17h0m5 6h0m-12-14h0m-3 5h0m-2-16h0m31 31h0m-27-19h0m-1 9h0m-3-53h0m13 61h0m-36-44h0m28 7h0m25 44h0m-61-9h0m6-26h0m62 10h0m-16-4h0m31 10h0" stroke="#30c4d8" stroke-width="7"/>
<ellipse cx="3564" cy="2598" rx="17" ry="17" fill="#2444e4" opacity=".68" filter="url(#bl)" transform="rotate(0 3564 2598)"/>
<path d="M3607 2606h0m-47-6h0m1 20h0m-11-9h0m35 3h0m-39 3h0m30-3h0m-25-13h0m30-1h0m-13-7h0m-6 6h0m38-2h0m-43-13h0m13 17h0m-13-26h0m34 21h0m-36 6h0m-3-7h0m-15-5h0m-9 19h0m35-15h0m1-16h0m-1 20h0m13-11h0m-20 9h0m10 3h0m1 10h0m0-7h0m-6-25h0m10 15h0m-9-12h0m26 33h0m-29-8h0m18 21h0m-10-15h0m-15-16h0m9-2h0m-13 13h0m3-20h0m11 31h0m18-21h0m-32-18h0m16 31h0m11-13h0m-22 8h0m28-6h0m-10-5h0m-10 25h0m-5-2h0m3-18h0m16 10h0m-19-11h0m8 2h0m-1 11h0m-13 0h0m27-29h0m-13 6h0m-22 12h0m39-14h0m-7 14h0m-69-6h0m88 47h0m-66-87h0m49 37h0m-8-7h0m18 35h0m-33-19h0m8 17h0m12-8h0m11-7h0m-34 24h0m0-64h0m-11 39h0m11-14h0m21 25h0" stroke="#2444e4" stroke-width="7"/>
<ellipse cx="3507" cy="2529" rx="12" ry="12" fill="#203080" opacity=".41" filter="url(#bl)" transform="rotate(0 3507 2529)"/>
<path d="M3504 2525h0m5 14h0m-15-15h0m2-2h0m19 29h0m-9-32h0m-10 19h0m22 2h0m-3-16h0m-16 6h0m16-6h0m-18 18h0m-5 4h0m4-9h0m7 6h0m-1-12h0m10-5h0m-18-3h0m4 9h0m-29 9h0m84-8h0m-65-19h0m-1-8h0m49-29h0m-49 51h0m-11 38h0" stroke="#203080" stroke-width="7"/>
<ellipse cx="3583" cy="2506" rx="10" ry="10" fill="#2848e8" opacity=".38" filter="url(#bl)" transform="rotate(0 3583 2506)"/>
<path d="M3580 2507h0m0-2h0m-4 12h0m-1-17h0m14-3h0m9 7h0m-16 18h0m-12 1h0m7-22h0m14 21h0m-9-14h0m2-2h0m1 2h0m-8-10h0m-36 13h0m30-2h0m21-2h0m4 4h0" stroke="#2848e8" stroke-width="7"/>
<path d="M3455 2565h0m-58 32h0m-20 17h0m23-66h0m42 83h0m-63-76h0m69 108h0m-108-107h0m55-31h0m101 57h0m-69-23h0m38 38h0m-58-47h0m27 19h0m-53-16h0m12 64h0m-31-25h0m57-26h0m-21 44h0m6 6h0m31-43h0m-41-4h0m34 37h0m-53-65h0m9 5h0m-31 54h0m115-87h0m0 39h0m-32 71h0m-24-23h0m-1-24h0m-15 3h0m26 29h0m-2-89h0m-24 104h0m-6-34h0m4-3h0m77 61h0m-96-106h0m11 3h0m29 23h0m44 21h0m-46-16h0m13 28h0m59-43h0m-33 22h0m-45 7h0m-15 88h0m51-118h0m-21-4h0m-14 7h0m-20-26h0m77 36h0m-24-13h0m-40-3h0m109 60h0" stroke="#f2f244" stroke-width="7"/>
<ellipse cx="3272" cy="2627" rx="20" ry="10" fill="#f09414" opacity=".68" filter="url(#bl)" transform="rotate(40 3272 2627)"/>
<path d="M3283 2638h0m-17-10h0m26 2h0m-36-7h0m20 4h0m-9-21h0m-3 7h0m5 18h0m4 6h0m-14-3h0m14-1h0m9-9h0m1 25h0m0-10h0m-27-18h0m7 22h0m2-26h0m3-1h0m-9-5h0m3 29h0m28 15h0m-34-35h0m24 22h0m-22-14h0m14-5h0m19 30h0m-21-12h0m9-26h0m11 28h0m-15-15h0m22 22h0m-24-37h0m8 8h0m-9 12h0m18 10h0m-24-48h0m4 36h0m-27-11h0m21 22h0m1-34h0m18 41h0m-32-29h0m38 30h0m-31-45h0m4 10h0m-15 39h0m-50-7h0m50-19h0m-19-10h0m-28 36h0m62 8h0m34-34h0m-40 26h0m73-33h0" stroke="#f09414" stroke-width="7"/>
<ellipse cx="3411" cy="2649" rx="12" ry="12" fill="#a01030" opacity=".68" filter="url(#bl)" transform="rotate(0 3411 2649)"/>
<path d="M3422 2636h0m10 24h0m-19-9h0m-3-2h0m8 2h0m2-3h0m6-18h0m-13 24h0m2 9h0m-6-22h0m4 4h0m8 6h0m-20-18h0m32 9h0m-7 4h0m-17 4h0m-18-10h0m24-2h0m-14-2h0m27 12h0m-38-13h0m22 14h0m8-2h0m0 2h0m-8 1h0m3-10h0m9 20h0m-9-2h0m-11-4h0m7-12h0m5-3h0m-12 14h0m14-8h0m-13 8h0m10-1h0m-20-39h0m7 58h0m13-29h0m-8 42h0m5-18h0m-17-20h0m21 9h0m36-10h0m-39 15h0" stroke="#a01030" stroke-width="7"/>
<ellipse cx="3354" cy="2633" rx="10" ry="10" fill="#705424" opacity=".62" filter="url(#bl)" transform="rotate(0 3354 2633)"/>
<path d="M3344 2633h0m18-2h0m4 15h0m-7-7h0m-1 12h0m5-19h0m-17-8h0m-6 14h0m9 8h0m8-8h0m1 0h0m3-6h0m-7 1h0m10-9h0m-22-12h0m27 25h0m1 11h0m-8-14h0m-16-3h0m10 0h0m0 2h0m13-3h0m-11 4h0m3 5h0m0 6h0m-27-14h0m21 56h0m-18-65h0m30-10h0" stroke="#705424" stroke-width="7"/>
<ellipse cx="3462" cy="2737" rx="54" ry="40" fill="#30e468" opacity=".44" filter="url(#bl)" transform="rotate(0 3462 2737)"/>
<path d="M3519 2695h0m-111 93h0m48-55h0m-25 47h0m11-89h0m30-4h0m18 37h0m47-23h0m-63 16h0m-78-17h0m84 20h0m34 28h0m-6 9h0m-29-8h0m26-42h0m6 46h0m-61 18h0m15-100h0m4 68h0m14-10h0m9-30h0m-81 17h0m-16 56h0m101-41h0m-31 40h0m-39-4h0m71-40h0m-3 0h0m-80 49h0m9-100h0m13 44h0m38-5h0m26 27h0m-30-5h0m34-37h0m-72 1h0m45 71h0m66-35h0m-121 17h0m5-2h0m16 2h0m28-20h0m26 39h0m3-74h0m-6 68h0m54-35h0m-72 95h0m11-90h0m-7-16h0m24 26h0m26-16h0m-33 63h0m-59-3h0m-35-65h0m-1 13h0m-17-44h0m-4 45h0m63-3h0m-47-41h0m26 57h0m17-32h0m31 54h0m29-15h0m-82-10h0m-7 0h0m67-76h0m-73 84h0m52 1h0m-29-18h0m12 40h0m-2-49h0m-90-47h0m115 104h0m-34-8h0m139-84h0m-85 20h0m-8 8h0m13-30h0m16 38h0m-4-18h0m46 60h0m-50 1h0m-58-82h0m-34-19h0m53 53h0m-88-21h0m109-1h0m-84 20h0m72 3h0m-11 40h0m69-27h0m-87-21h0m-69-31h0m68 53h0m-34 8h0m90 28h0m-33-44h0m-6 3h0m-19-9h0m61 31h0m-40-30h0m16-23h0m-58 15h0m30 17h0m52 8h0m27-10h0m-11 23h0m-79-24h0m-5-64h0m88 60h0m15-41h0m-83 82h0m41 16h0m31-78h0m-96 73h0m19-34h0m-8-2h0m37-12h0m14-27h0m58 37h0m-96 4h0m-10-42h0m-11 39h0m79 49h0m-29-50h0m-77 2h0m1 49h0m98-90h0m39-21h0m-62 74h0m24-32h0m31-8h0m-103-21h0m12-20h0m9 48h0m36 17h0m-20-24h0m35 20h0m-44 57h0m8-61h0m-42 32h0m7 45h0m42-86h0m-39 81h0m55-72h0m-8 52h0m-40-39h0m-3-54h0m74 48h0m-81-13h0m31 75h0m18-62h0m-28-2h0m37 23h0m-113-31h0m94 26h0m-46-35h0m56 22h0m-44-51h0m36 62h0m25 1h0m20-54h0m-19-13h0m-39 48h0m17 6h0m30-20h0m-26-12h0m22 60h0m6 20h0m-83-57h0m6 42h0m20-16h0m50-58h0m26 66h0m-90-23h0m33 46h0m14-12h0m1-15h0m-44-40h0m68 18h0m-53-14h0m-25 17h0m30-21h0m14 18h0m10-49h0m-12-3h0m28 41h0m26 6h0m-52 17h0m44 8h0m-39-42h0m-64 78h0m41-174h0m10 158h0m42-45h0m-73 5h0m24 0h0m20-18h0m-41 20h0m-13-9h0m73-40h0m10 15h0m33 36h0m-73 48h0m-17-79h0m77 8h0m-97 14h0m39 10h0m27-7h0m-18 63h0m-58 12h0m19-78h0m156 40h0m-96-10h0m-56-55h0m49 57h0m-75-28h0m59 10h0m-40-3h0m15-52h0m-28 63h0m19-81h0m69 45h0m-83 23h0m0-12h0m95-1h0m-127 5h0m70-28h0m-25-25h0m-6 86h0m23-44h0m0-21h0m-40 74h0m47-41h0m-33-7h0m62-8h0m-11-16h0m14-22h0m-14 0h0m62 15h0m-142-16h0m63 65h0m20-50h0m-31 27h0m67 137h0m37 5h0m44-188h0m-39 138h0m-77-95h0m-54 29h0m76-42h0m44-90h0m-24-76h0m-44 161h0m-6-41h0m66 57h0m-96 109h0m-95-34h0m20-31h0m-149-124h0m85 144h0m132-119h0m77 158h0m-132-77h0m-17-13h0m-5 37h0m216-96h0m1-19h0m-187 90h0m21-121h0m90 120h0m29-28h0m112 19h0m-50-25h0m-113-42h0m-96 144h0m141-40h0m-129-93h0m-78-107h0m383 155h0m-308 91h0m30-50h0m124-28h0m-84-77h0m-48 85h0m43 154h0m90-358h0m-150 182h0m3-20h0m34 95h0m-9-193h0m16 278h0m48-190h0m70 79h0m48 262h0m-99-195h0m59-51h0m-133-1h0m-44-45h0m-3-160h0m59 226h0m-178-68h0m244 23h0m40 121h0m-153-19h0m186-259h0m-206 151h0m45 59h0m81-136h0m120 0h0m-128 101h0m-68-94h0m113 62h0m-156 9h0m-42-96h0" stroke="#30e468" stroke-width="7"/>
<ellipse cx="3672" cy="2694" rx="43" ry="43" fill="#54e430" opacity=".35" filter="url(#bl)" transform="rotate(0 3672 2694)"/>
<path d="M3716 2671h0m-41 13h0m-22-23h0m20 40h0m18-11h0m-1 24h0m1 22h0m-44-39h0m-37 4h0m-22-7h0m85-25h0m-25 23h0m34 15h0m-8-36h0m11 18h0m-23-21h0m39 63h0m-38-65h0m0 46h0m-12-45h0m75 9h0m-96-30h0m80 38h0m-54 6h0m-14 6h0m122 9h0m-70-7h0m-28 65h0m-1 16h0m-17-109h0m-4 54h0m24-82h0m29 81h0m-11-23h0m-27-23h0m-2 98h0m41-65h0m-48 23h0m22-68h0m-12 94h0m-26-89h0m62 19h0m-65 23h0m39-11h0m-5 24h0m-29-99h0m10 90h0m-43-31h0m68-5h0m5-24h0m14 55h0m9-8h0m-48 37h0m38-2h0m-84-84h0m42 22h0m-20 7h0m80 18h0m-38-11h0m13 16h0m-6-22h0m-18 89h0m51-104h0m-61 27h0m16-7h0m46-26h0m-103-23h0m19 24h0m40 77h0m-31-98h0m62 47h0m21 27h0m-46-25h0m-22 49h0m45-54h0m-24 34h0m-6 19h0m26-75h0m-35 59h0m3-20h0m23 18h0m-4-53h0m9 25h0m6 5h0m-18-21h0m7 82h0m-1-14h0m-33 13h0m-29-29h0m36-40h0m-8 33h0m-69-60h0m108 34h0m-38-7h0m24 40h0m39 14h0m-3-135h0m-20 32h0m23 85h0m-59-3h0m20-62h0m-17 15h0m33 19h0m-6 31h0m16 6h0m-76-25h0m51 20h0m-65 16h0m48-36h0m18-58h0m44 95h0m-34-2h0m23-31h0m-24 12h0m-11-21h0m-56-36h0m89 22h0m16 20h0m-46-88h0m22 37h0m-15 59h0m-17-34h0m15 28h0m31-29h0m-60 59h0m-11-33h0m30-57h0m-63 1h0m68 70h0m-24-9h0m-6 24h0m-24 11h0m50-34h0m43-19h0m-10-32h0m-14 29h0m20 23h0m-75-5h0m73-46h0m-22 44h0m-39-36h0m3 18h0m57-3h0m-62 29h0m105-9h0m-113 34h0m1-64h0m62 4h0m-43 22h0m-37-38h0m54-18h0m-29 66h0m58-108h0m-36 117h0m34-4h0m-68-44h0m27 33h0m-149 50h0m272-129h0m-76-99h0m-36 88h0m-158 117h0m171-47h0m-74 44h0m79-48h0m-16 150h0m-70-50h0m27-122h0m0 35h0m58 169h0m86-233h0m-101-82h0m-219 73h0m171-39h0m140 25h0m-73 100h0m36 86h0m-73-130h0m61 207h0m-61-225h0m40 24h0m-46-64h0m-1 136h0m13 68h0m6-116h0m-24 111h0m100-81h0m-121-71h0m-108 76h0m99 39h0m44-151h0m26 85h0m-65 49h0m-65 16h0m126-55h0m-3 1h0m-37-30h0m81 24h0m-103-126h0m123 94h0m-150-107h0m95-8h0m86 72h0m-59-78h0" stroke="#54e430" stroke-width="7"/>
<path d="M3200 2746h0m42-30h0m7 61h0m-19-40h0m-1-63h0m-58 113h0m86-77h0m22-62h0m-49 133h0m9-40h0m-65 3h0m76-41h0m4 16h0m-60 38h0m87-36h0m-21 43h0m78-53h0m-113-1h0m1 20h0m8 29h0m40-2h0m-60-73h0m73-12h0m-77 45h0m82-15h0m-97 45h0m59 9h0m34-24h0m-51-30h0m-3 19h0m50-27h0m10 7h0m-22-11h0m-17 23h0m18-16h0m-78 36h0m11-16h0m31 43h0m17-4h0m16-65h0m-26 79h0m-7-18h0m-28-61h0m31-10h0m-30 22h0m38-17h0m-29 80h0m59-64h0m30 79h0m-47-39h0m-62-27h0m125-8h0m-188 83h0m46-39h0m122 3h0m-40-59h0m-51-12h0m94 1h0m-51 61h0m15-61h0m2 71h0m-12 2h0m-65-88h0m136 51h0m-103 33h0m95-25h0m-96-69h0m20 116h0m-44-80h0m37 72h0m19 11h0" stroke="#64e444" stroke-width="7"/>
<ellipse cx="3361" cy="2712" rx="12" ry="12" fill="#f0e424" opacity=".68" filter="url(#bl)" transform="rotate(0 3361 2712)"/>
<path d="M3345 2720h0m7-20h0m37 26h0m-35 14h0m-12-31h0m25-19h0m5 9h0m-14 33h0m2-20h0m-2 5h0m-8-10h0m19-12h0m-17 14h0m1 12h0m18-5h0m0 6h0m-12-34h0m3 13h0m11 18h0m-4-14h0m-6 21h0m-9 4h0m-8-7h0m21 4h0m14-5h0m-14-1h0m8-20h0m-15 26h0m3-17h0m-5-7h0m15 9h0m-25 0h0m-4 6h0m25 17h0m-20-16h0m22-14h0m22 21h0m-44-45h0m-11 41h0m-21 10h0m-2-34h0m59-11h0m-21 35h0m-4-9h0" stroke="#f0e424" stroke-width="7"/>
<ellipse cx="3424" cy="2760" rx="12" ry="12" fill="#20a428" opacity=".68" filter="url(#bl)" transform="rotate(0 3424 2760)"/>
<path d="M3444 2765h0m-28-30h0m22 36h0m-20-21h0m-3 21h0m20-2h0m-9-31h0m-7 7h0m4 12h0m0-8h0m14 27h0m-5-29h0m-14 14h0m3-1h0m5 3h0m-13 5h0m0-8h0m19 1h0m10 9h0m-2-7h0m-34 9h0m13-13h0m30 9h0m-22-16h0m2 7h0m-10 20h0m12-25h0m10-1h0m-11 6h0m-8 0h0m4 9h0m3-14h0m5 19h0m-2-11h0m-33 8h0m-33 12h0m55-27h0m9 27h0m-17 21h0m-40-43h0m37-20h0m-8 17h0m13 52h0m44-28h0" stroke="#20a428" stroke-width="7"/>
<ellipse cx="3380" cy="2793" rx="23" ry="23" fill="#30c4f4" opacity=".62" filter="url(#bl)" transform="rotate(0 3380 2793)"/>
<path d="M3350 2777h0m27 25h0m3-2h0m-9-20h0m2 27h0m39-17h0m-42-15h0m16 20h0m-44-5h0m72 1h0m-16 0h0m-28 9h0m38-1h0m-57 1h0m20 15h0m-13-24h0m-11 16h0m39-39h0m-3 12h0m-27 24h0m-14-10h0m44 7h0m-12-3h0m16 15h0m-30 12h0m-30-29h0m62-20h0m-10 33h0m4-14h0m4-19h0m-33 17h0m4-16h0m30 18h0m-24 9h0m13-28h0m26-3h0m-12-2h0m-7 12h0m3 6h0m-7 11h0m-7-19h0m3 29h0m-3 6h0m32-6h0m-5-2h0m-24-14h0m39 6h0m-50-30h0m20-1h0m4 11h0m-10-11h0m2 31h0m-28-14h0m17-23h0m12 19h0m-25 32h0m17-11h0m-4-23h0m-1-13h0m-13 40h0m13 9h0m11-22h0m5-7h0m36 4h0m-55 13h0m30 19h0m1-30h0m-28-14h0m-14 30h0m16 1h0m-5-13h0m-15-24h0m39-3h0m33 5h0m-25 31h0m-7-1h0m-29-16h0m-6 1h0m44-3h0m-16 28h0m5-35h0m1 6h0m1-17h0m-6 10h0m-21 20h0m53-23h0m-38 49h0m27-49h0m-7-5h0m1 38h0m-54 11h0m24-10h0m-16-25h0m-9 11h0m58 4h0m-15 5h0m-22-5h0m84 30h0m-30-118h0m-81 97h0m39-43h0m41 8h0m14 57h0m-47 7h0m-11-92h0m-46 5h0m57 111h0m-6-23h0m-5-84h0m-1 33h0m5-33h0m9 20h0m-118-31h0m143 30h0m-30 17h0m29-1h0m-55-20h0m-38-15h0m71 73h0m21-38h0m93 44h0m-155-88h0m58 36h0m-54 22h0" stroke="#30c4f4" stroke-width="7"/>
<ellipse cx="3316" cy="2859" rx="45" ry="38" fill="#f05414" opacity=".62" filter="url(#bl)" transform="rotate(0 3316 2859)"/>
<path d="M3382 2879h0m3 16h0m-95 3h0m52-33h0m-49-28h0m28 42h0m9 8h0m20-30h0m23-14h0m-63 45h0m-43-81h0m118 21h0m-41 8h0m-63 8h0m41-20h0m-32 58h0m63-14h0m-6-7h0m8 15h0m-72 51h0m61-73h0m-16 28h0m-30-58h0m-36 42h0m8 7h0m-26-15h0m94-7h0m6 1h0m-58 14h0m27-39h0m30-9h0m-2 45h0m-51 26h0m12-70h0m-14 86h0m4-94h0m14 46h0m20-3h0m-22 39h0m20-33h0m64 10h0m-67-69h0m-20 72h0m82 31h0m-13-82h0m-59 31h0m-12-21h0m24 21h0m-40-18h0m50 49h0m4-24h0m-8-3h0m13-13h0m20-15h0m-28 62h0m36-9h0m-63-2h0m14-35h0m0 41h0m39-4h0m-61-20h0m-37 26h0m50-54h0m-34 24h0m47-2h0m-16-15h0m-35-4h0m48 37h0m-15-39h0m65 61h0m-83-66h0m93 55h0m-51-61h0m6 91h0m-57-32h0m58 59h0m-4-87h0m-6 23h0m-51 13h0m48-2h0m-5-98h0m-35 46h0m-16 0h0m11 15h0m41 7h0m-33 9h0m71-39h0m-40-6h0m-26 48h0m26-63h0m3 21h0m30 36h0m9 22h0m-135-13h0m75 2h0m-62-1h0m71-56h0m21 30h0m-5-32h0m12-17h0m2 78h0m25-55h0m-32 64h0m7-45h0m-67 23h0m53 15h0m8-27h0m-91-1h0m129-39h0m-82 50h0m-13-61h0m56 54h0m-63-50h0m41 88h0m45-41h0m22 1h0m-92 49h0m46-53h0m-55 34h0m37-17h0m25-21h0m-35-9h0m49 4h0m-17 71h0m-27-1h0m28-50h0m-32 67h0m37-99h0m-24 38h0m31 20h0m-11-68h0m-20 24h0m-19-19h0m30 25h0m78 22h0m-124-2h0m55-7h0m-58-31h0m40 58h0m20-29h0m66-45h0m-44 35h0m-45 1h0m-93 24h0m132-30h0m-79 69h0m59-73h0m-28 2h0m18 49h0m7-17h0m-55-34h0m107 5h0m-15 75h0m-7-37h0m9-45h0m-15 20h0m-123-20h0m121-12h0m-31 70h0m-17-47h0m-1-10h0m-33 27h0m-23-37h0m48-7h0m35 29h0m-21 29h0m-25 1h0m48-28h0m7 68h0m1-51h0m-29 13h0m-40-20h0m55-36h0m26 114h0m0-113h0m-41 35h0m6 49h0m28 13h0m-1-55h0m-14-31h0m-34 81h0m48-2h0m-13-84h0m-53-44h0m91 69h0m-39-39h0m-13 28h0m-36 55h0m-17-112h0m55 54h0m-29 22h0m-19-23h0m72 35h0m-35-21h0m24-18h0m-68 17h0m71 56h0m-41-56h0m24 17h0m40 24h0m-83-32h0m-1-32h0m-55 63h0m32-56h0m35-19h0m2 49h0m46 21h0m-80-53h0m99 50h0m-8-34h0m-43-19h0m-24 13h0m57-25h0m-64 19h0m13-9h0m30-19h0m34 60h0m22 34h0m-54-41h0m49 47h0m-57-138h0m57 86h0m-81-8h0m62-5h0m4 56h0m-70-97h0m-41 51h0m126-3h0m-21 53h0m27-31h0m-13-17h0m-110-11h0m110 37h0m-26-29h0m-40-23h0m-8 22h0m10-49h0m-33 24h0m113 23h0m-72 4h0m-28-59h0m26 113h0m-6-78h0m49 46h0m-44-42h0m55 31h0m-86-22h0m43 15h0m19 19h0m-33-15h0m16-10h0m8 11h0m10-37h0m1 6h0m-45 25h0m26 2h0m41-95h0m-7 44h0m-76 65h0m41-95h0m-49 54h0m118 93h0m-100-114h0m76 43h0m-56 6h0m13 30h0m-12-23h0m65 6h0m-19-43h0m-77 69h0m16-65h0m41 23h0m7 5h0m-5 48h0m33-40h0m-122-30h0m19 2h0m44 1h0m26 19h0m-3 19h0m-29-55h0m-1-22h0m54 38h0m-50 49h0m4-22h0m14 9h0m-4 32h0m-15-55h0m15-1h0m-4-20h0m-10 18h0m17 21h0m30-37h0m115 15h0m-153-14h0m115-25h0m-46-68h0m-68 59h0m-50 29h0m25 45h0m-132-71h0m86-11h0m69-147h0m0 57h0m205 145h0m-190 109h0m80-69h0m-183-46h0m76 147h0m-3-80h0m-41-74h0m48 4h0m-9-68h0m-49 194h0m70-215h0m49 48h0m-117 79h0m35 14h0m119 7h0m6-218h0m-125 30h0m-15 35h0m91 160h0m-59-127h0m-149 35h0m123 26h0m-19 155h0m115-88h0m-49-35h0m-9-38h0m125-23h0m-134 196h0m-99-57h0m3-129h0m105-49h0m248 63h0m-183-38h0m104 7h0m-29 76h0m-159 89h0m-19-65h0m30-57h0m-58-45h0m72 8h0m-6-73h0m49 105h0m-84 192h0m-4-141h0m-1-59h0m135 8h0m-55 102h0m76-172h0m-109 27h0m32 2h0m-62-87h0m44 65h0m107 72h0m-56-26h0m-42 8h0m-30 19h0m59-1h0m-13-73h0m-144 171h0m-65-48h0m64-100h0m-61 92h0m110 174h0m14-151h0m53-99h0m-46 82h0m162-38h0m-16 41h0m-19-100h0m-98-11h0m-54 185h0m211-234h0m-83 16h0m-147-110h0" stroke="#f05414" stroke-width="7"/>
<ellipse cx="3430" cy="2869" rx="21" ry="21" fill="#8414d4" opacity=".68" filter="url(#bl)" transform="rotate(0 3430 2869)"/>
<path d="M3428 2856h0m-15-11h0m-10 40h0m43 19h0m-1-80h0m-10 19h0m8 12h0m-1 7h0m3 52h0m-8-50h0m-14 13h0m-7 9h0m6-33h0m-16 43h0m0-17h0m8-19h0m22 16h0m2-31h0m14 29h0m-34-11h0m3 30h0m-3-26h0m20 8h0m13-9h0m-27-4h0m-8 15h0m15 1h0m-31-40h0m62 33h0m-30-32h0m17-11h0m-12 36h0m21-13h0m-54-14h0m32 53h0m-3-13h0m-47-31h0m44 13h0m0-1h0m24 9h0m-24-6h0m23-26h0m-36 36h0m-1 20h0m20-43h0m-24 22h0m22 7h0m31 13h0m-36-37h0m23-9h0m-3 10h0m31 15h0m-48-7h0m16 11h0m-26 0h0m22-21h0m-16 20h0m-25 8h0m29-8h0m29-29h0m-46 42h0m3-30h0m20 42h0m11-30h0m-19 3h0m0 5h0m-13-3h0m23-8h0m1 3h0m10 5h0m-31-35h0m9 61h0m-17-58h0m42 38h0m-19-30h0m-5 24h0m44 9h0m-30-11h0m-28-4h0m4-16h0m-11 35h0m38-23h0m-30 14h0m8-17h0m36 23h0m-11-34h0m-10 23h0m-23-4h0m-20-3h0m63-35h0m-36 22h0m-24 1h0m-8-8h0m46-8h0m-31 27h0m9-44h0m-8 27h0m53 6h0m-91 22h0m50 17h0m59-73h0m-91 50h0m31 17h0m-100-58h0m94 46h0m11 9h0m-65 31h0m64 17h0m52-96h0m-64 20h0m73 4h0m-26 47h0m3-36h0m-32-40h0m-19-5h0" stroke="#8414d4" stroke-width="7"/>
<ellipse cx="3570" cy="2844" rx="28" ry="19" fill="#8424d4" opacity=".62" filter="url(#bl)" transform="rotate(0 3570 2844)"/>
<path d="M3590 2843h0m-31-3h0m35 17h0m-28-12h0m11-23h0m-31 19h0m3-14h0m25 4h0m-52 15h0m27-26h0m31 46h0m-14-42h0m-9 51h0m-3-21h0m27 21h0m-9-28h0m-1 1h0m-20 0h0m8 21h0m58-23h0m-20 30h0m-41-34h0m0 18h0m27-10h0m-14-29h0m-18 20h0m63 16h0m-17-28h0m-45-1h0m19 14h0m40 23h0m-13-36h0m-89-6h0m35 50h0m38-32h0m-17 17h0m-10 21h0m18-6h0m-22-18h0m-15-11h0m46-35h0m-8 16h0m29 7h0m-41-11h0m-8 4h0m5 15h0m4-12h0m29 18h0m-59-6h0m64-2h0m-21 17h0m-25 14h0m-5-10h0m26-14h0m31-31h0m-16 24h0m-3-17h0m-8 32h0m-2 18h0m34-11h0m-34-38h0m2 1h0m2 24h0m-10 11h0m1-6h0m5-26h0m-32 22h0m39 7h0m-21 7h0m0-17h0m17 27h0m-58-41h0m39 11h0m-3-25h0m27 30h0m30-16h0m-18-19h0m-9 27h0m-40 16h0m15-14h0m8-16h0m7 0h0m-13-3h0m2 30h0m-11-2h0m46 14h0m-1 13h0m-21-24h0m-27-15h0m30-4h0m-17 27h0m16-12h0m-13-1h0m8-45h0m-31 34h0m26-10h0m11-11h0m7 17h0m-11 2h0m-45-5h0m88 39h0m-45-26h0m-11-47h0m38 82h0m76 13h0m-99-40h0m19 5h0m-73-15h0m118 69h0m-58-137h0m4 99h0m-52-63h0m1 19h0m14-15h0m65-18h0m59 117h0m-118-57h0m10-15h0m-14-3h0m112 5h0m-85 50h0m20-45h0" stroke="#8424d4" stroke-width="7"/>
<ellipse cx="3646" cy="2852" rx="10" ry="10" fill="#7020c0" opacity=".56" filter="url(#bl)" transform="rotate(0 3646 2852)"/>
<path d="M3646 2853h0m-7 19h0m3-30h0m7 12h0m-3-4h0m-3-5h0m7-6h0m3 15h0m-11-9h0m12 10h0m-9-15h0m9 14h0m6 4h0m-18-2h0m-5-3h0m-1 16h0m16-30h0m-8 4h0m12-3h0m-6 14h0m-16-10h0m24 15h0m-33 0h0m61 20h0m-49-42h0m-17 60h0m16-73h0" stroke="#7020c0" stroke-width="7"/>
<ellipse cx="3653" cy="2781" rx="12" ry="12" fill="#f02494" opacity=".62" filter="url(#bl)" transform="rotate(0 3653 2781)"/>
<path d="M3672 2792h0m-29-28h0m17 25h0m-1 0h0m-12-7h0m-2-5h0m5 4h0m3 10h0m-20-5h0m19-9h0m5 4h0m-10-5h0m0 21h0m18-32h0m-17 9h0m6 6h0m9-6h0m-18 2h0m-5 12h0m15-3h0m1-7h0m8-6h0m-13 19h0m-6-7h0m14-2h0m13 11h0m-19-12h0m2-3h0m2-11h0m18 19h0m-13 8h0m-29-8h0m13-27h0m-33 9h0m31 35h0m16 1h0m-3-16h0m-21 6h0m1-10h0m31 32h0" stroke="#f02494" stroke-width="7"/>
<ellipse cx="3545" cy="2717" rx="10" ry="10" fill="#205424" opacity=".68" filter="url(#bl)" transform="rotate(0 3545 2717)"/>
<path d="M3545 2718h0m-3 2h0m6-9h0m10 10h0m-23-9h0m4-13h0m11 29h0m-8-24h0m4 16h0m-7-6h0m-3 4h0m1 10h0m15-20h0m-7 3h0m4 2h0m-1 9h0m-23-2h0m18-1h0m17 3h0m-14-12h0m3 16h0m-20-10h0m10 17h0m-15-15h0m17-3h0m11-12h0m-22 13h0m15-2h0m1-24h0m9 14h0m-24 2h0m19 15h0" stroke="#205424" stroke-width="7"/>
<ellipse cx="3456" cy="2925" rx="21" ry="21" fill="#54e444" opacity=".5" filter="url(#bl)" transform="rotate(0 3456 2925)"/>
<path d="M3438 2930h0m8-13h0m26-1h0m11 3h0m-5 6h0m4 9h0m-53-13h0m5-3h0m38 24h0m-10-10h0m-10 10h0m-14-30h0m19 4h0m10 36h0m3-31h0m6 17h0m-24-19h0m-2 27h0m19-8h0m-11 14h0m13-16h0m-14-35h0m35-17h0m-34 41h0m14 3h0m5-23h0m-47 28h0m10-20h0m26 6h0m-2 5h0m-17 3h0m3-4h0m-29-6h0m22-2h0m21 12h0m-6 10h0m-13 0h0m-3-4h0m-3 27h0m5-57h0m-11 13h0m-9 6h0m43-24h0m15 47h0m-14 0h0m-2-3h0m34-3h0m-22-17h0m-34 17h0m12-34h0m-8 25h0m1-3h0m-24 11h0m34-22h0m19 12h0m-28 7h0m18-25h0m-22 29h0m6-14h0m15 3h0m-37 17h0m36-26h0m7-9h0m-70-20h0m138 24h0m-69-23h0m-6 12h0m11 50h0m-12-8h0m-34-16h0m57 26h0m-169-19h0m90-39h0m24 19h0m108 28h0m-66-42h0m-4 99h0m28-70h0m-25-34h0m-36-5h0m-32 75h0" stroke="#54e444" stroke-width="7"/>
<ellipse cx="3253" cy="2748" rx="10" ry="10" fill="#208424" opacity=".68" filter="url(#bl)" transform="rotate(0 3253 2748)"/>
<path d="M3246 2738h0m-4 11h0m-13 0h0m16-13h0m1 12h0m6 5h0m-2-5h0m0-7h0m-2 0h0m18-5h0m-23 4h0m9 13h0m-12-16h0m16 9h0m0 3h0m-2-12h0m-12-2h0m27 17h0m-20 1h0m8-1h0m-2 0h0m-10-14h0m0 6h0m2 1h0m8 5h0m19-23h0m-3 6h0m-54 29h0m27 3h0m31-3h0m-8-13h0m-47 7h0" stroke="#208424" stroke-width="7"/>
<ellipse cx="3253" cy="2798" rx="10" ry="10" fill="#a024a0" opacity=".62" filter="url(#bl)" transform="rotate(0 3253 2798)"/>
<path d="M3246 2789h0m8 27h0m-13-10h0m37-10h0m-25 4h0m-9-6h0m12 4h0m-4 2h0m4 1h0m-17 6h0m-4-9h0m11-17h0m2 16h0m8-2h0m-6-8h0m-4 22h0m-2-8h0m17-16h0m5 15h0m-28 22h0m8-18h0m13-4h0m-17 4h0m34-6h0m-32 11h0m6-7h0m0 7h0m-16-17h0m2 9h0" stroke="#a024a0" stroke-width="7"/>
<ellipse cx="3507" cy="2798" rx="8" ry="8" fill="#f08010" opacity=".56" filter="url(#bl)" transform="rotate(0 3507 2798)"/>
<path d="M3509 2803h0m5 1h0m8-12h0m-15 19h0m-5-10h0m6 0h0m-14-2h0m8 0h0m-4-10h0m1 16h0m9-28h0m0 17h0m-7-3h0m-1 2h0m-18-8h0m8 21h0m49-8h0m-43-3h0" stroke="#f08010" stroke-width="7"/>
<ellipse cx="3653" cy="2741" rx="9" ry="9" fill="#901060" opacity=".62" filter="url(#bl)" transform="rotate(0 3653 2741)"/>
<path d="M3652 2736h0m19 11h0m-21-7h0m6 1h0m5 0h0m-14-10h0m7 10h0m-6 7h0m-1-12h0m15 10h0m-14 1h0m-8-15h0m5 15h0m8 7h0m6-5h0m-13-6h0m7-3h0m7 7h0m-2-3h0m0-15h0m-16 6h0m5 33h0m5-42h0m-26-4h0" stroke="#901060" stroke-width="7"/>
<ellipse cx="3602" cy="2741" rx="9" ry="9" fill="#406020" opacity=".56" filter="url(#bl)" transform="rotate(0 3602 2741)"/>
<path d="M3601 2757h0m6-18h0m-7-6h0m13 10h0m-1-4h0m-11 3h0m4 8h0m-10-7h0m11-6h0m6-5h0m-10-5h0m3 11h0m-15 4h0m14 0h0m7 6h0m3-6h0m-14 9h0m-1-31h0m-42 11h0m76-15h0m-47-15h0m27 51h0" stroke="#406020" stroke-width="7"/>
<ellipse cx="3494" cy="2684" rx="12" ry="12" fill="#30d0c0" opacity=".5" filter="url(#bl)" transform="rotate(0 3494 2684)"/>
<path d="M3512 2703h0m-1-23h0m-30 14h0m3-10h0m0-8h0m2-5h0m18 9h0m-19-1h0m-11-10h0m9 13h0m7 11h0m11-24h0m-5 19h0m-8 1h0m14-16h0m-18-9h0m17 22h0m11-11h0m-32 9h0m-11 13h0m13-14h0m8-31h0m-9 31h0m14 7h0m-7-14h0m28 21h0m-16-3h0m-31-31h0m-4 55h0m14-40h0m26-19h0m-3 9h0" stroke="#30d0c0" stroke-width="7"/>
<ellipse cx="3452" cy="2544" rx="25" ry="25" fill="#f2f22c" opacity=".62" filter="url(#bl)" transform="rotate(0 3452 2544)"/>
<path d="M3472 2539h0m-33 7h0m17-18h0m10 44h0m-20 19h0m6-66h0m-10 1h0m14 8h0m-2 14h0m37 12h0m-61-22h0m16 8h0m-15 13h0m15-54h0m15 23h0m17 4h0m-50-13h0m20 52h0m-7-27h0m6 14h0m4-10h0m-7-2h0m13-14h0m-6 15h0m-18 24h0m40-27h0m-33-26h0m30 34h0m-8 16h0m-31-40h0m46 18h0m-36-10h0m3-7h0m5 15h0m24 7h0m-26-37h0m-3 38h0m28 16h0m-4-41h0m-59-20h0m41 52h0m-11-9h0m40-30h0m-9 27h0m-26-5h0m12-3h0m-3-13h0m-1-6h0m6 23h0m-25-13h0m20 9h0m-5-11h0m-4-12h0m1-4h0m4 1h0m27 24h0m-44 11h0m23-31h0m27 43h0m-39-7h0m6-23h0m38 11h0m-45 15h0m33 2h0m-7-13h0m-41 13h0m29-27h0m-9 21h0m-19-12h0m88-15h0m-89 13h0m0 9h0m34 43h0m-8-76h0m7-17h0m8 37h0m-44 22h0m14-14h0m-43 11h0m49-27h0m-10 16h0m38-1h0m-46-4h0m44 3h0m-21-2h0m19 13h0m-36-24h0m2 12h0m21 14h0m-15 38h0m-5-46h0m11-17h0m-23 40h0m2-29h0m26-32h0m-33 61h0m61-78h0m-4 18h0m-38 40h0m27-8h0m-1-16h0m-21 9h0m14 26h0m-8-26h0m7 2h0m-37-21h0m28 47h0m16-17h0m13 29h0m1-24h0m-7-34h0m-73-18h0m87 56h0m-49 7h0m-1-95h0m0 100h0m-4 15h0m48-56h0m-15 35h0m-88-11h0m142 50h0m-136-66h0m38 24h0m65-67h0m-34 50h0m-37-28h0m13 4h0m-16 63h0m50-4h0m-26-34h0m63 104h0m-130-78h0m47-106h0m-4 36h0m105 16h0m-106-11h0m32 96h0m-61-49h0m69 15h0m-101-26h0m114 72h0m36-83h0m41 4h0m-105 20h0m-2-50h0m38 95h0m-84-64h0m64 23h0" stroke="#f2f22c" stroke-width="7"/>
<ellipse cx="3373" cy="2674" rx="17" ry="17" fill="#f0e820" opacity=".68" filter="url(#bl)" transform="rotate(0 3373 2674)"/>
<path d="M3386 2669h0m16-18h0m-12 8h0m-16 21h0m3 0h0m-12-23h0m17 1h0m-20 36h0m-9-3h0m29-23h0m-20 25h0m32-23h0m-10 30h0m-9-7h0m-11-30h0m5 10h0m8 25h0m2-45h0m-4 26h0m-16 0h0m6 32h0m-3-34h0m8-1h0m26-8h0m-9 1h0m-26 10h0m4-8h0m17 3h0m-2-13h0m-12 27h0m-11-24h0m14 18h0m-1-4h0m29-1h0m-22-15h0m-2 12h0m-14-16h0m4-11h0m21 38h0m-7 10h0m8-11h0m2 21h0m-7-59h0m4 56h0m-8-33h0m-18 10h0m6-26h0m-6 40h0m15-21h0m-8-19h0m18-7h0m-23 21h0m-7 26h0m0-35h0m18 15h0m7-3h0m3-15h0m-19 6h0m-12 30h0m20-19h0m-45 16h0m23 10h0m-11-32h0m88 31h0m-35-25h0m20-41h0m-32 39h0m59-29h0m-61 41h0m55-10h0m-44 24h0m-4-44h0m-41 47h0m62 9h0m-66 22h0" stroke="#f0e820" stroke-width="7"/>
<ellipse cx="3500" cy="2506" rx="10" ry="10" fill="#1c2890" opacity=".62" filter="url(#bl)" transform="rotate(0 3500 2506)"/>
<path d="M3498 2499h0m4 15h0m-26-14h0m23 10h0m-6-8h0m-1 3h0m-10-9h0m31 14h0m-3-7h0m-7 2h0m10-3h0m-32 11h0m15-5h0m11 0h0m8-4h0m-14 6h0m4-16h0m-23 6h0m12 26h0m10-29h0m0 21h0m-10-10h0m14-9h0m-12-15h0m35 36h0m-22-6h0m6-4h0m-8-8h0m-6 35h0" stroke="#1c2890" stroke-width="7"/>
<ellipse cx="3526" cy="2538" rx="10" ry="10" fill="#20a080" opacity=".62" filter="url(#bl)" transform="rotate(0 3526 2538)"/>
<path d="M3522 2538h0m2 16h0m2-16h0m9-18h0m-17 19h0m16-2h0m-15 17h0m19-19h0m6-4h0m-1 13h0m-11 3h0m-10-7h0m0-2h0m9-1h0m-4-2h0m-17-11h0m-4 18h0m21 2h0m12-8h0m-14 8h0m2 3h0m5 13h0m-6-14h0m28-21h0m-15 17h0m5 12h0m4-15h0m-32-6h0m2 24h0" stroke="#20a080" stroke-width="7"/>
<ellipse cx="3456" cy="2906" rx="15" ry="15" fill="#30c030" opacity=".62" filter="url(#bl)" transform="rotate(0 3456 2906)"/>
<path d="M3457 2901h0m3-5h0m-5 31h0m9-24h0m7 1h0m-13-21h0m15 17h0m5-13h0m-39 30h0m14-17h0m3-6h0m-11 5h0m21 1h0m-14 24h0m17-28h0m-18 34h0m10-18h0m-4-1h0m13-19h0m-24 4h0m14-3h0m-9 30h0m3-3h0m4-28h0m3 21h0m0-20h0m-2 28h0m-8-29h0m11 23h0m-3-3h0m-4 6h0m-22-18h0m20-5h0m-6 33h0m20-20h0m-9-14h0m8 21h0m-18-24h0m3 0h0m1 23h0m15-4h0m-21 28h0m-2-33h0m14 1h0m-31 20h0m4 10h0m0-19h0m19-14h0m-5 50h0m7-46h0m1-15h0m-1 13h0m-23 35h0" stroke="#30c030" stroke-width="7"/>
</g>
</g>
<g font-size="3.4" font-weight="bold" fill="#111" text-anchor="middle">
<text x="336.11" y="248.18">26</text>
<text x="354.52" y="247.55">23</text>
<text x="342.46" y="251.36">24</text>
<text x="358.33" y="251.99">28</text>
<text x="331.67" y="253.52">9</text>
<text x="350.71" y="254.28">21</text>
<text x="346.65" y="258.34">8</text>
<text x="335.48" y="259.35">6</text>
<text x="356.42" y="261.13">25</text>
<text x="325.96" y="262.78">5</text>
<text x="335.48" y="264.68">14</text>
<text x="341.19" y="266.21">1</text>
<text x="350.08" y="269.76">19</text>
<text x="367.21" y="269.76">11</text>
<text x="336.75" y="272.55">7</text>
<text x="345.89" y="275.47">17</text>
<text x="354.52" y="273.06">18</text>
<text x="360.23" y="275.47">13</text>
<text x="365.31" y="275.47">31</text>
<text x="322.15" y="275.47">3</text>
<text x="327.23" y="276.11">12</text>
<text x="342.46" y="277.38">16</text>
<text x="325.33" y="281.44">27</text>
<text x="338.65" y="280.68">22</text>
<text x="350.71" y="281.82">4</text>
<text x="331.67" y="287.28">2</text>
<text x="343.73" y="289.05">29</text>
<text x="357.69" y="286.51">33</text>
<text x="357.69" y="289.43">35</text>
<text x="364.93" y="286.51">32</text>
<text x="335.48" y="293.88">30</text>
</g>
<text x="344.95" y="239.1" font-size="5.3" text-anchor="middle" textLength="57.5" lengthAdjust="spacingAndGlyphs">Phenograph scattar plot</text>
<path d="M314.5 254h-1.9" stroke="#222" stroke-width=".6"/>
<text x="311.6" y="255.95" font-size="5.5" text-anchor="end">20</text>
<path d="M314.5 270h-1.9" stroke="#222" stroke-width=".6"/>
<text x="311.6" y="271.95" font-size="5.5" text-anchor="end">0</text>
<path d="M314.5 285.7h-1.9" stroke="#222" stroke-width=".6"/>
<text x="311.6" y="287.65" font-size="5.5" text-anchor="end">-20</text>
<path d="M325 297.6v1.9" stroke="#222" stroke-width=".6"/>
<text x="324.2" y="305.5" font-size="5.5" text-anchor="middle">-20</text>
<path d="M344.4 297.6v1.9" stroke="#222" stroke-width=".6"/>
<text x="344.4" y="305.5" font-size="5.5" text-anchor="middle">0</text>
<path d="M362.6 297.6v1.9" stroke="#222" stroke-width=".6"/>
<text x="362.6" y="305.5" font-size="5.5" text-anchor="middle">20</text>
<text x="344.95" y="312" font-size="5.6" text-anchor="middle" textLength="14.6" lengthAdjust="spacingAndGlyphs">tsne_1</text>
<text font-size="5.6" text-anchor="middle" textLength="14.6" lengthAdjust="spacingAndGlyphs" stroke="#111" stroke-width=".12" transform="translate(302 270) rotate(-90)">tsne_2</text>
<rect x="234.9" y="322.6" width="60.9" height="52.6" fill="#fff" stroke="#333" stroke-width=".7"/>
<path d="M247.5 322.6V375.2M265.7 322.6V375.2M283 322.6V375.2M234.9 336.4H295.8M234.9 350.3H295.8M234.9 364.5H295.8" stroke="#ebebeb" stroke-width=".5" fill="none"/>
<clipPath id="c7"><rect x="235.3" y="323" width="60.1" height="51.8"/></clipPath>
<g clip-path="url(#c7)" stroke-linecap="round" fill="none">
<g transform="scale(.1)">
<ellipse cx="2399" cy="3507" rx="23" ry="23" fill="#f01414" opacity=".68" filter="url(#bl)" transform="rotate(0 2399 3507)"/>
<path d="M2395 3517h0m1-16h0m-14 2h0m39 12h0m-2-3h0m-12-1h0m-38 12h0m40-6h0m-41-42h0m15 24h0m22 7h0m5-11h0m-4 20h0m-19 24h0m23-9h0m-22-36h0m5 11h0m19 7h0m-21-23h0m-1 41h0m-5-18h0m23-32h0m-7 52h0m-39-31h0m36-9h0m11 14h0m-36 17h0m39 2h0m15-11h0m-25-31h0m9 13h0m-20-12h0m-9 13h0m42-28h0m-51 43h0m54 6h0m-63-58h0m42 34h0m-27 32h0m41-16h0m-16 5h0m25 4h0m-20-1h0m-38 13h0m47-14h0m-55-22h0m52-21h0m-19 52h0m-21 11h0m35-32h0m-4 14h0m-4 10h0m-15-29h0m32 8h0m-36 17h0m44-26h0m-53 6h0m23-3h0m29-14h0m-3-4h0m-38 35h0m36 4h0m-15-13h0m-3 8h0m-6-6h0m13-5h0m4 11h0m23-5h0m-45-13h0m8 25h0m-6-11h0m40-54h0m-55 52h0m28 0h0m-15 8h0m13-22h0m40 16h0m-56-9h0m7 1h0m-47-8h0m70-12h0m-20 39h0m17 10h0m-48-34h0m25 18h0m27-62h0m0 23h0m-7 0h0m-10 50h0m-6-19h0m18-1h0m-17 26h0m21-34h0m32-16h0m-34 16h0m-15 18h0m2-1h0m-33-40h0m40 10h0m-30-9h0m42 41h0m4-31h0m-27-4h0m14 51h0m-31-1h0m35-32h0m-55 29h0m33-50h0m20 41h0m44-58h0m-15 101h0m13-67h0m-88 48h0m34-36h0m53-15h0m-149-5h0m17 48h0m88-57h0m-14 58h0m4 20h0m-6-12h0m63 23h0m-87-29h0m-48-79h0m-4 86h0m29-43h0m42-1h0m-16 11h0m96-8h0m-51 38h0m-29-90h0m-14 93h0m-44-67h0m106 56h0m-40 1h0m6-80h0m-69 22h0m100 3h0m-73-9h0" stroke="#f01414" stroke-width="7"/>
<ellipse cx="2469" cy="3509" rx="31" ry="31" fill="#54e430" opacity=".56" filter="url(#bl)" transform="rotate(0 2469 3509)"/>
<path d="M2432 3507h0m9 12h0m-29-1h0m42-56h0m33 41h0m-72-15h0m62 11h0m12 29h0m-3-10h0m16 8h0m-21-67h0m11 83h0m-30-44h0m55-31h0m-36 102h0m-34-42h0m69-20h0m-33 25h0m-36-24h0m30 22h0m-8-25h0m-24-4h0m47 11h0m-43-23h0m86 49h0m-50-92h0m0 76h0m26-2h0m-43 3h0m-46 12h0m56-42h0m24 61h0m-67-61h0m42 21h0m-17-28h0m62 49h0m-82-58h0m71 57h0m3-4h0m-66-14h0m-31-25h0m51 32h0m-16-16h0m29 12h0m4-4h0m-23 14h0m9-39h0m-17 20h0m13 4h0m3 0h0m-4-35h0m14 57h0m0-31h0m1-19h0m-58 25h0m24 17h0m-4-83h0m1 104h0m16-73h0m-9 47h0m31-9h0m24 13h0m-37-3h0m41 10h0m-15-51h0m-29 45h0m-4 8h0m22-4h0m-20 40h0m36-67h0m-28 69h0m-11-43h0m33-21h0m-53 4h0m37 24h0m11-28h0m2 13h0m-16-12h0m-11 16h0m-20-33h0m26-20h0m-11-13h0m-6 63h0m31-16h0m-20-33h0m50 48h0m-18-35h0m-31-23h0m24 68h0m-66-24h0m62-42h0m-60 17h0m29-9h0m16 41h0m15 11h0m22 11h0m-70-41h0m7-14h0m24 27h0m14-39h0m-43 38h0m26-7h0m3-11h0m19 28h0m-20-26h0m-2-50h0m-19 68h0m-13 4h0m40-39h0m-10 26h0m18 23h0m-12-36h0m-3 19h0m22 9h0m-36-40h0m8 15h0m-18 15h0m16 5h0m24-12h0m45 2h0m-30 11h0m0-61h0m-46 64h0m33 51h0m-6-26h0m10-8h0m-6-27h0m0-23h0m17 2h0m-23 77h0m-12-52h0m34 0h0m-48 6h0m34 11h0m-33 26h0m60-43h0m-35-11h0m28-6h0m-18 5h0m-33 29h0m49-17h0m-49 20h0m15-13h0m39 21h0m-50 28h0m13-37h0m-16-20h0m-77 95h0m165-158h0m-152-22h0m142 62h0m-66 7h0m-3-41h0m8-18h0m-5 92h0m28-28h0m-72 20h0m22 75h0m66-89h0m-65-31h0m-25 18h0m65 46h0m15 84h0m-68-110h0m185-100h0m-175 108h0m36 12h0m-21-2h0m15 22h0m-103-88h0m100-8h0m-55 88h0m21 0h0m74-17h0m-13-22h0m-101 4h0m99-26h0m-30 67h0m-41-5h0m145-64h0m-91 22h0m74 25h0m-34-54h0m-48 36h0m-93 77h0m141-169h0m-8 86h0m-16 26h0m-103-30h0m159-20h0m-134-41h0" stroke="#54e430" stroke-width="7"/>
<ellipse cx="2533" cy="3342" rx="31" ry="31" fill="#a4f024" opacity=".56" filter="url(#bl)" transform="rotate(0 2533 3342)"/>
<path d="M2503 3351h0m72 2h0m-36 44h0m-19-71h0m26 30h0m-38-42h0m32 34h0m-39-11h0m19 17h0m10-14h0m-6 28h0m43-35h0m-13-9h0m-19 37h0m35-28h0m-39 14h0m-35-4h0m20 8h0m-11-57h0m29 55h0m-14 15h0m6-37h0m19-23h0m-29 38h0m38-4h0m-13-12h0m-1 57h0m-24 17h0m1-57h0m20 24h0m-34-76h0m45 71h0m0 45h0m-10-58h0m18 2h0m18-39h0m-50-54h0m29 75h0m3 62h0m-23-59h0m-12-14h0m-3 36h0m16-14h0m-5 21h0m16-26h0m4 0h0m-44 39h0m39-59h0m16 32h0m-65 31h0m46-18h0m-3-25h0m-43 27h0m39-31h0m8 9h0m8-11h0m-18-43h0m-9 69h0m43-26h0m-36 48h0m-5-21h0m49-17h0m-11-18h0m-25 15h0m-2 30h0m56-44h0m-73 29h0m-12 0h0m40-20h0m-1-31h0m6 0h0m-36 25h0m7 34h0m12-30h0m11 48h0m-13-30h0m31-2h0m-62 54h0m85-109h0m-55 59h0m25 6h0m-31-43h0m10 52h0m-30-51h0m26-22h0m-5 37h0m17-7h0m-33 8h0m21-7h0m1 35h0m29 23h0m-48-52h0m-42 57h0m43-48h0m31-32h0m-2 33h0m-56 7h0m74-53h0m-9 51h0m-8 6h0m20-16h0m-10-5h0m-4-10h0m-21 63h0m14-47h0m-39-15h0m33 42h0m6-10h0m-12 20h0m-9-46h0m32 15h0m-29-16h0m1 30h0m15-45h0m2 34h0m-35 14h0m17-27h0m27 41h0m-37-22h0m-4 46h0m9-27h0m-4-10h0m71-82h0m-66 75h0m9-29h0m55 18h0m-93 19h0m-2 8h0m28-25h0m45-1h0m-65-44h0m63 59h0m-49 3h0m32-5h0m-67-23h0m77 25h0m0-78h0m-18 72h0m59-35h0m-71 24h0m30-12h0m6-8h0m-21 6h0m-3-4h0m-43 44h0m47-40h0m-3 38h0m-57-31h0m81 34h0m-47-139h0m84 129h0m-65-32h0m13-8h0m-68-17h0m22 7h0m-29 66h0m-8 1h0m15-16h0m127-8h0m-112-8h0m47-94h0m-40 100h0m7-4h0m64 36h0m9-10h0m-63-32h0m1-15h0m5-75h0m-9 90h0m-33 0h0m78-7h0m83-130h0m-121 42h0m63 237h0m-184-134h0m160-23h0m1-102h0m16 138h0m-44-51h0m33 6h0m-22-2h0m-131 26h0m130 41h0m-57-41h0m79 9h0m33 98h0m-114-207h0m93 182h0m4-38h0m-82-80h0m80-11h0" stroke="#a4f024" stroke-width="7"/>
<ellipse cx="2590" cy="3285" rx="15" ry="15" fill="#202084" opacity=".68" filter="url(#bl)" transform="rotate(0 2590 3285)"/>
<path d="M2569 3273h0m51 35h0m-38-31h0m11-1h0m13 8h0m-29 17h0m6-13h0m7-7h0m4-4h0m-26-18h0m7 17h0m15 10h0m7 1h0m-16-10h0m-16 6h0m31 8h0m-7-8h0m12 2h0m-2 7h0m-6 9h0m-10-20h0m-2-5h0m28 30h0m-19-14h0m14 3h0m0-25h0m-21 21h0m24-5h0m-27-5h0m2-6h0m26 3h0m-18 33h0m14-22h0m-21 1h0m26 3h0m-4-7h0m-9-3h0m-1 18h0m-22-17h0m20-6h0m-6 17h0m27-2h0m-20-26h0m19 19h0m-23-14h0m-1-15h0m3 40h0m-1-5h0m-23 30h0m6-83h0m11 27h0m-21 10h0m34-21h0m-11 67h0m21-41h0m-15 1h0m-4 22h0m-1-80h0" stroke="#202084" stroke-width="7"/>
<ellipse cx="2659" cy="3299" rx="19" ry="19" fill="#30d4e4" opacity=".68" filter="url(#bl)" transform="rotate(0 2659 3299)"/>
<path d="M2660 3286h0m10 4h0m-8 42h0m-18-50h0m-6-19h0m-7 42h0m19-34h0m-13 38h0m11-15h0m17 26h0m25-5h0m-28-13h0m25 19h0m-32-15h0m9-6h0m-12-21h0m0-3h0m27 31h0m-37 13h0m32-50h0m14 41h0m3-31h0m-23 26h0m-5-4h0m13-26h0m-35 2h0m10 12h0m15 13h0m-6-14h0m-7 25h0m19-13h0m-17 22h0m-4-14h0m27-14h0m-5-13h0m2 20h0m-39 7h0m10 10h0m4-22h0m14-3h0m0-3h0m6 8h0m-7-42h0m15 43h0m-45 1h0m34 14h0m-24 8h0m15 13h0m0-26h0m-4-28h0m23 31h0m6-1h0m-32-38h0m-1 15h0m-2 19h0m17-13h0m-2 2h0m0 14h0m12-22h0m-38 32h0m25-5h0m-27-22h0m25-17h0m-8 33h0m24 13h0m-29-45h0m21 35h0m-5-34h0m9 32h0m-4-19h0m-3 19h0m-14-40h0m14 35h0m-5 22h0m-19-32h0m9 22h0m62-27h0m15 58h0m-41-31h0m32-25h0m-62-29h0m20 79h0m1-30h0m-24-8h0m-40 29h0m34-71h0m-12 9h0m53 62h0m-73-4h0m74-50h0m-78-5h0m28 35h0m9-77h0m20 16h0" stroke="#30d4e4" stroke-width="7"/>
<ellipse cx="2710" cy="3311" rx="23" ry="23" fill="#2444f4" opacity=".68" filter="url(#bl)" transform="rotate(0 2710 3311)"/>
<path d="M2728 3289h0m-30 7h0m3 40h0m26-13h0m-10-40h0m-16 19h0m-8 19h0m4-22h0m-6-25h0m31 63h0m-8-43h0m-54 21h0m73 2h0m-5 22h0m4-35h0m-2 22h0m-48-22h0m2 6h0m38-18h0m-50 44h0m46 3h0m-32-7h0m63 17h0m-42-32h0m1 13h0m22-17h0m-45 13h0m17-2h0m14 18h0m16-39h0m-15 42h0m-16-25h0m32 15h0m-13-48h0m-33 29h0m31 43h0m-23-26h0m30-52h0m-29 34h0m6-6h0m18-12h0m-1 3h0m-18 22h0m-1-5h0m41-5h0m-33 14h0m-4 6h0m-17-9h0m14-26h0m43-1h0m-1 28h0m-5-30h0m-5 45h0m-24-30h0m48 6h0m-54-15h0m16 18h0m-5 26h0m-9-23h0m33-28h0m-8 53h0m-44-55h0m5-14h0m28 0h0m1 62h0m-39-33h0m-6 20h0m22-19h0m15 15h0m-8-10h0m-3 2h0m-12-1h0m-14-10h0m71 10h0m-59 4h0m6-36h0m4 45h0m21-16h0m-24-18h0m42 24h0m-43-43h0m-8 85h0m4-48h0m26-1h0m-9-23h0m-15 57h0m6-15h0m-18-21h0m37 24h0m-26-8h0m28-25h0m2-3h0m-24 16h0m-36-1h0m32-25h0m11 41h0m0 9h0m-14-48h0m51 32h0m-12-23h0m-2 21h0m-3-5h0m10-12h0m-40-16h0m39 14h0m-41-4h0m11-6h0m-3-1h0m-10-14h0m23 20h0m3 29h0m9-98h0m-35 56h0m53-31h0m-60 51h0m15 52h0m-4-1h0m-41-112h0m108 90h0m-30-12h0m0-54h0m19 27h0m1 25h0m-118-55h0m124 46h0m-61 16h0m-1-32h0m21 28h0m57-4h0m14 70h0m-6-30h0m-64-37h0m-11-35h0m3 4h0m69 47h0m-84-98h0m16 60h0m-42-29h0m-47 69h0" stroke="#2444f4" stroke-width="7"/>
<ellipse cx="2774" cy="3324" rx="21" ry="21" fill="#2434e4" opacity=".68" filter="url(#bl)" transform="rotate(0 2774 3324)"/>
<path d="M2773 3368h0m1-46h0m25 5h0m-22-9h0m-13 32h0m27 4h0m-23-29h0m-9 16h0m-8-7h0m42 14h0m-35-5h0m4-31h0m-10 32h0m50-30h0m-41 5h0m56 23h0m-52-48h0m-2 51h0m43-25h0m-43-4h0m-21 24h0m14 3h0m-11-40h0m34 9h0m8 13h0m-33 10h0m34-43h0m17 41h0m-18-40h0m-25 26h0m30-19h0m-33-10h0m11 40h0m-24-15h0m37 36h0m2-32h0m-31-10h0m9 18h0m10 26h0m6-47h0m21 35h0m-24-29h0m-33-5h0m47 4h0m-38 17h0m26 7h0m7 13h0m-25-7h0m-2-5h0m19-7h0m14-5h0m2 15h0m-16-24h0m-16 1h0m10 8h0m54 11h0m-38-25h0m-25 9h0m15-12h0m25 8h0m-10-30h0m-18 44h0m3 6h0m2-8h0m-37-15h0m-7 23h0m44-14h0m-19-6h0m45 39h0m-32-8h0m-26-54h0m19 18h0m-1 18h0m60-15h0m-50 16h0m-1 11h0m30-37h0m-27 17h0m3-21h0m-36-14h0m39 43h0m-8-44h0m-7 28h0m-18-3h0m36 25h0m-12-1h0m-10-7h0m11 8h0m-2-12h0m-4-21h0m87 42h0m-66 65h0m35-140h0m-25 87h0m43 18h0m-41-91h0m-60 52h0m51-47h0m-33 23h0m16 27h0m-12-58h0m56 104h0m-50-21h0m20-13h0m2-52h0m3 64h0m-53 35h0m108-5h0m-3-39h0m-85-49h0m-17 26h0m28 20h0m-72 60h0m156-85h0m-58 18h0" stroke="#2434e4" stroke-width="7"/>
<ellipse cx="2786" cy="3400" rx="23" ry="23" fill="#2434d4" opacity=".68" filter="url(#bl)" transform="rotate(0 2786 3400)"/>
<path d="M2792 3397h0m-7-12h0m5 15h0m3-15h0m-5 17h0m10-21h0m-3 38h0m3-25h0m-20 2h0m22 34h0m-16-41h0m10 15h0m-24-17h0m15 26h0m-20-31h0m31-4h0m-7 29h0m-4-25h0m1 12h0m7-9h0m14-16h0m-23 32h0m21-12h0m-8 1h0m4 43h0m-22-24h0m-9 10h0m39-18h0m-43 7h0m42 13h0m-6-54h0m-28 60h0m-10-5h0m58-7h0m-14-21h0m-44 5h0m19 1h0m17-2h0m-10 11h0m-3 26h0m8-33h0m-12-13h0m29 14h0m-45-13h0m17 2h0m23-13h0m-11 24h0m-31-1h0m20 8h0m-6-4h0m-23-25h0m46 39h0m-15-30h0m20-28h0m-35 51h0m27-32h0m-47 47h0m38-44h0m-2 33h0m-49 4h0m62-59h0m0 6h0m7 40h0m21-19h0m-42 31h0m-12-32h0m5 11h0m-13 11h0m30-8h0m22-7h0m-8-4h0m-10-26h0m-10 32h0m-13-8h0m2-2h0m-34 3h0m31 1h0m-10 7h0m35-2h0m-24 30h0m27-8h0m3-23h0m-23 26h0m-8-23h0m17 10h0m-12 11h0m2-5h0m23-1h0m-6-34h0m-39 10h0m34 40h0m-32-23h0m7-19h0m11 27h0m9 9h0m-22-6h0m35-15h0m-8-12h0m-29 3h0m8 62h0m3-24h0m13-24h0m10-21h0m3 22h0m-45 4h0m38-3h0m19-16h0m-9 38h0m-56 18h0m-22-100h0m79 8h0m-26-22h0m8 20h0m11-16h0m4 51h0m-16 8h0m3-50h0m-108 54h0m65-20h0m55-61h0m-48 55h0m-12 38h0m37-46h0m-34 65h0m13-9h0m45-99h0m-62 76h0m58 31h0m18 10h0m-47-50h0m46-8h0m11-47h0m-16 57h0m-105 46h0m91-38h0m-55-20h0m104-15h0m-200-1h0m91 29h0" stroke="#2434d4" stroke-width="7"/>
<ellipse cx="2856" cy="3387" rx="12" ry="12" fill="#5414a4" opacity=".68" filter="url(#bl)" transform="rotate(0 2856 3387)"/>
<path d="M2853 3379h0m-5 20h0m-6 9h0m9-31h0m14 17h0m-19 2h0m-8-17h0m30 6h0m-25 8h0m23-5h0m-28-4h0m23 12h0m15-11h0m-24 3h0m17-10h0m1-18h0m-5 21h0m-4 14h0m-16-8h0m14 7h0m-12-16h0m-10 36h0m18-28h0m-13 11h0m9 6h0m14-15h0m-1-11h0m-11 5h0m-9 6h0m11 15h0m-32-22h0m24 2h0m14 9h0m-4-9h0m11 13h0m-52-14h0m11-20h0m33 27h0m-1-20h0m-7-1h0m13 35h0m30 13h0m-56-38h0m-3 17h0" stroke="#5414a4" stroke-width="7"/>
<ellipse cx="2659" cy="3400" rx="45" ry="31" fill="#f2f234" opacity=".59" filter="url(#bl)" transform="rotate(0 2659 3400)"/>
<path d="M2730 3418h0m-148-49h0m32 45h0m46-6h0m63-28h0m-93 70h0m42-69h0m-84-18h0m-15 39h0m89 23h0m-7-42h0m-21 65h0m-37-43h0m64 11h0m-15-3h0m43-16h0m-45-1h0m-18 0h0m23 10h0m58 27h0m-63-17h0m26 4h0m-9-13h0m-18-26h0m48 52h0m-7-21h0m-15-23h0m-72 28h0m70-30h0m-41 45h0m-30 13h0m87 15h0m-49-60h0m8 5h0m11-23h0m45-1h0m-56 33h0m-1-24h0m32 2h0m-57 6h0m36 45h0m-31-18h0m11-33h0m16 15h0m43 37h0m-54-10h0m58-13h0m-62 2h0m23-14h0m-6 8h0m50 12h0m-47-4h0m59-48h0m0-10h0m-33 48h0m34-7h0m-70-27h0m-27 39h0m36-37h0m27-1h0m-35 7h0m75 48h0m-65-75h0m16 40h0m2 13h0m-23 9h0m41-18h0m-44-17h0m39-16h0m-31 9h0m-44 34h0m49-14h0m32-38h0m-33 44h0m32-34h0m-5 32h0m23 23h0m-28 25h0m-20-64h0m-12-13h0m11-23h0m-2 57h0m38-19h0m14-8h0m-54-30h0m-22 27h0m79 33h0m-90 0h0m55-19h0m-16-2h0m-20-35h0m16 74h0m53-38h0m-76 2h0m57 13h0m-51 0h0m13 4h0m-7-48h0m16 54h0m-40-21h0m68-6h0m-53 58h0m52-24h0m-62 14h0m-24-52h0m83 45h0m-58-48h0m39-31h0m15 60h0m-37 0h0m42-6h0m-9 29h0m-34-32h0m-2 21h0m4-14h0m19-10h0m54-3h0m-10 22h0m-4-24h0m-13 22h0m-53-12h0m17-7h0m49-17h0m-103-24h0m42 26h0m16 29h0m60-6h0m-44-25h0m4 50h0m26-79h0m-15 85h0m-3-74h0m-39 50h0m25-34h0m-45 43h0m-15 11h0m47-27h0m-47-22h0m70-21h0m47 2h0m-113 35h0m58 16h0m-29-22h0m5-9h0m-80 37h0m97-20h0m-30 3h0m21-8h0m38-39h0m-29 15h0m-20 62h0m-26-39h0m17 25h0m-13-63h0m51 32h0m-29 35h0m-19-35h0m35 19h0m-23 14h0m95-34h0m-13-41h0m-16 42h0m-43 1h0m-27-23h0m9 62h0m52-40h0m-57-8h0m-23 60h0m64-41h0m-40-27h0m62 43h0m-78 5h0m-5-8h0m5-25h0m50 20h0m18-30h0m19 52h0m-54-21h0m-27-15h0m-18 6h0m52 30h0m25-13h0m-44-25h0m0 11h0m-54 13h0m13-31h0m54 0h0m56 10h0m-3 31h0m-71-19h0m61-17h0m-41-6h0m-1 5h0m1 33h0m45-21h0m-41 17h0m-17-46h0m48 3h0m-6 0h0m30-2h0m-33 61h0m-62-1h0m5-77h0m53 58h0m-32-77h0m5 53h0m-11 1h0m-48-7h0m122 51h0m-73-54h0m26 42h0m11-53h0m-19 31h0m43 25h0m-31 1h0m-32 7h0m-1-27h0m46-31h0m-55-20h0m30 40h0m-17 14h0m-61-13h0m75-6h0m24 49h0m-42-65h0m-6 25h0m41-23h0m54-43h0m-13 90h0m-27 109h0m-53-146h0m54 65h0m-133-37h0m43 22h0m156-36h0m-109 8h0m-209 37h0m258-38h0m-70-56h0m16 122h0m5 8h0m-181-113h0m209 28h0m-142-41h0m214-39h0m-165 12h0m32 109h0m85-167h0m63 90h0m-150 141h0m37-182h0m-41 32h0m-27 25h0m139 43h0m-167 152h0m29-167h0m75 40h0m-26-19h0m179-22h0m-235 14h0m21-43h0m73 44h0m-35 32h0m7-135h0m79 59h0m24-18h0m-47 60h0m-240-113h0m116 182h0m-57-31h0m219-26h0m-30-62h0m-51 45h0m32 30h0m-46-88h0m-26 69h0m-81-104h0m92 44h0m10-132h0m-5 151h0m82-108h0m-80 153h0m59 45h0m42-140h0m-31 45h0m-106 117h0m13-150h0m16 0h0m104 77h0m29 2h0m-148 40h0m-3-94h0m36 31h0m100-40h0m-62 36h0" stroke="#f2f234" stroke-width="7"/>
<ellipse cx="2583" cy="3494" rx="23" ry="23" fill="#f2f224" opacity=".68" filter="url(#bl)" transform="rotate(0 2583 3494)"/>
<path d="M2561 3475h0m19 27h0m10 1h0m-5-16h0m6-10h0m-31 12h0m-2-4h0m12 0h0m13-5h0m-7-16h0m10 15h0m5-35h0m-22 55h0m-29-11h0m46 8h0m-29 3h0m30-22h0m10 17h0m-13-7h0m10 9h0m10 7h0m-31-12h0m27-3h0m-9 16h0m-10-51h0m5 45h0m0-17h0m20 11h0m-33-10h0m17-7h0m-24 56h0m41-17h0m1-9h0m-55 11h0m53-13h0m-57 14h0m59-31h0m-22 23h0m-4 5h0m3-7h0m0-39h0m-19 84h0m23-34h0m15 8h0m-10-42h0m-10-24h0m-4 51h0m-35-13h0m54 21h0m-32-36h0m-17-7h0m43 56h0m-30-12h0m29-34h0m32-37h0m-41 50h0m39 28h0m3-30h0m-23 22h0m-9-18h0m-12-14h0m-19 43h0m14-73h0m13 37h0m-2 33h0m-5-37h0m-12 4h0m6 4h0m64 4h0m-72 28h0m31-21h0m-2 0h0m-1 11h0m6-1h0m-27-24h0m-4 17h0m28-26h0m-5 56h0m12-68h0m-24 32h0m1-4h0m22-1h0m-41 7h0m18-11h0m-8-27h0m-13 18h0m3-43h0m41 29h0m-34 30h0m-31 15h0m30-12h0m5-7h0m11-5h0m-35-27h0m32 52h0m-9-16h0m13-1h0m15-36h0m-13 24h0m-11-12h0m-8-3h0m-6 64h0m51-45h0m-18-18h0m-64-15h0m53 59h0m-3-45h0m-9-20h0m-45 30h0m39-23h0m-19-5h0m44 91h0m-17 33h0m-55-77h0m18-17h0m49 28h0m40-43h0m-93 14h0m60-20h0m24 93h0m-91-51h0m96-90h0m-32 67h0m-64 60h0m64-70h0m9 44h0m13-3h0m-14-68h0m-33 51h0m-91 78h0m93-125h0m-56 51h0m72-32h0m-17-12h0m-13 31h0m4 30h0m19-21h0m22 44h0m7-40h0" stroke="#f2f224" stroke-width="7"/>
<ellipse cx="2628" cy="3446" rx="12" ry="12" fill="#a01424" opacity=".68" filter="url(#bl)" transform="rotate(0 2628 3446)"/>
<path d="M2627 3438h0m-2 15h0m6-10h0m-16-12h0m16 26h0m1-24h0m-6 16h0m-7 1h0m7-12h0m-10 16h0m16-16h0m-14 17h0m16-12h0m10 1h0m-26 13h0m8-7h0m3-14h0m-12 8h0m25-8h0m0 13h0m-25 0h0m17-12h0m-27 13h0m10 1h0m-8-6h0m11-13h0m6 16h0m-3-13h0m7-6h0m4 22h0m11 4h0m-13-6h0m-3-16h0m14 19h0m-21-30h0m38 36h0m-57 3h0m66-15h0m-32-8h0m-22 31h0m79-20h0m-68 14h0m-4-1h0m24-37h0" stroke="#a01424" stroke-width="7"/>
<ellipse cx="2666" cy="3426" rx="8" ry="8" fill="#2444f4" opacity=".68" filter="url(#bl)" transform="rotate(0 2666 3426)"/>
<path d="M2659 3426h0m13 2h0m2-11h0m-4 5h0m-3 6h0m-7-3h0m-1 3h0m2-5h0m7-1h0m6 0h0m-2 6h0m-12-3h0m1-1h0m4 14h0m-1-2h0m5-19h0m-18 14h0m-13 5h0m43-4h0m-18-9h0m7-1h0m-11-1h0" stroke="#2444f4" stroke-width="7"/>
<ellipse cx="2507" cy="3420" rx="17" ry="17" fill="#f0a424" opacity=".38" filter="url(#bl)" transform="rotate(0 2507 3420)"/>
<path d="M2523 3413h0m-10-7h0m-15-3h0m7 27h0m7-15h0m4 1h0m-3 9h0m2-36h0m-24 42h0m15 19h0m-1-36h0m22 14h0m6 0h0m-28 2h0m-8-15h0m3 3h0m18-3h0m-6-1h0m7-29h0m-14 38h0m-11 11h0m17 4h0m9-9h0m-14-22h0m-1 8h0m6 0h0m37-15h0m-25 15h0m-18 18h0m3-28h0m5 13h0m-63 9h0m28-27h0m43 29h0m-22 53h0m21-78h0m-6 14h0m-68-41h0m22 102h0m35-66h0" stroke="#f0a424" stroke-width="7"/>
<ellipse cx="2704" cy="3464" rx="16" ry="16" fill="#30d4b4" opacity=".68" filter="url(#bl)" transform="rotate(0 2704 3464)"/>
<path d="M2697 3476h0m8 9h0m9-1h0m-11-15h0m-4-7h0m-16-5h0m10-1h0m26 11h0m0 8h0m-3 1h0m-19-2h0m3-16h0m19 33h0m-27-6h0m23-31h0m-7 15h0m1-9h0m-20 5h0m26 9h0m-2 4h0m-21-14h0m17 12h0m-3-6h0m0 20h0m-28-26h0m57 3h0m-53-1h0m5-10h0m20 29h0m3-13h0m7-5h0m-23-4h0m15-2h0m-13-1h0m-10-8h0m17 8h0m2 21h0m3-17h0m-18-13h0m19 2h0m1-2h0m-4 12h0m11-4h0m-17 8h0m5 18h0m-4-27h0m0 12h0m6 3h0m-19 21h0m39-30h0m-37 2h0m25-61h0m-10 20h0m11 76h0m16-77h0m9 64h0m-46-11h0m49-22h0m-40-6h0m31-42h0m7 32h0m-13-18h0m-49 27h0m46-27h0m-6 26h0m17 9h0" stroke="#30d4b4" stroke-width="7"/>
<ellipse cx="2672" cy="3514" rx="36" ry="18" fill="#44f484" opacity=".56" filter="url(#bl)" transform="rotate(0 2672 3514)"/>
<path d="M2686 3513h0m36-3h0m-50 32h0m3-18h0m-23-6h0m-42-2h0m45-22h0m-22 37h0m51-37h0m39 11h0m-61 13h0m-21-25h0m11 38h0m47-38h0m7 22h0m-19 1h0m-3-15h0m-36 4h0m14 18h0m-23 14h0m16-30h0m37 14h0m-29-21h0m-18-7h0m59 37h0m20-8h0m-42 3h0m17-14h0m-17 34h0m-56-50h0m20 30h0m60-15h0m-15 4h0m-10-7h0m-9 8h0m32 31h0m-82-24h0m51 6h0m29-2h0m-7-24h0m-70 36h0m81-36h0m2 22h0m-103 3h0m40 4h0m9-26h0m-24 7h0m71-6h0m-80 39h0m103-21h0m-66-26h0m-31 25h0m82-23h0m-36 11h0m-7 11h0m65-16h0m-35 24h0m-31-17h0m-30 17h0m23-24h0m17-3h0m-31 8h0m70 1h0m-27-17h0m-68 45h0m43-46h0m8 29h0m-45-20h0m55-1h0m15 26h0m-10-19h0m-14-3h0m-2 13h0m-5 9h0m81-21h0m-63 19h0m9-14h0m-32 17h0m31-7h0m-40 2h0m45-12h0m-4 33h0m-70-22h0m19-27h0m26 27h0m8-24h0m-41 8h0m40-4h0m-42 36h0m18-26h0m8-6h0m17 4h0m16-13h0m-59 44h0m40-16h0m35-3h0m-32-30h0m-46 36h0m64-6h0m-66-38h0m17 13h0m34 3h0m91-14h0m-129 67h0m53-80h0m30 128h0m-123-98h0m9-77h0m102 119h0m21-12h0m-180-20h0m81-52h0m-26 87h0m49 55h0m46-175h0m26 142h0m-52-111h0m104-4h0m-111-27h0m-71 9h0m141 130h0m-90-114h0m21 78h0m-88-70h0m85 85h0m11-12h0m-80-133h0m95 71h0m-27 25h0m37-18h0m58 36h0m-55 27h0" stroke="#44f484" stroke-width="7"/>
<ellipse cx="2805" cy="3497" rx="38" ry="38" fill="#54e424" opacity=".62" filter="url(#bl)" transform="rotate(0 2805 3497)"/>
<path d="M2837 3509h0m-83-31h0m107 33h0m-38 0h0m-36-34h0m0 55h0m30 18h0m4 4h0m-1-92h0m38 45h0m-16-3h0m-46-2h0m-24-41h0m7 20h0m-14 13h0m50 64h0m46-62h0m-29-5h0m-14 5h0m-28 3h0m-28 11h0m35-45h0m-2 49h0m-9-3h0m37 33h0m-50-50h0m48 48h0m-7-22h0m-52-40h0m94 9h0m15-14h0m-73-26h0m27 56h0m42-3h0m-69-47h0m5 71h0m25 8h0m4-38h0m-8 6h0m-58 47h0m51-83h0m1 40h0m18 35h0m-122-27h0m138-45h0m-102 37h0m66 2h0m-44-25h0m40 37h0m60-14h0m-84-80h0m50 67h0m-35-26h0m25-24h0m-19 58h0m6 36h0m-12-37h0m29-50h0m-35 49h0m38-26h0m-5 36h0m-69-57h0m2 49h0m49 18h0m19-39h0m7 42h0m-18-10h0m-53-4h0m8-47h0m20 40h0m9-14h0m-28 16h0m7-49h0m26 87h0m-15-76h0m54 84h0m-51-58h0m15 96h0m-2-60h0m9-85h0m-46 18h0m46 40h0m41-11h0m-45 10h0m-5 68h0m5-25h0m30-63h0m-18 7h0m-18 16h0m-2-19h0m46 6h0m-26 59h0m-2-20h0m23 2h0m10-76h0m7 44h0m-112-20h0m11 18h0m-3-29h0m54 35h0m-33-12h0m21 9h0m3-9h0m27-42h0m-42 53h0m3-21h0m-1 24h0m51-13h0m-46 17h0m1-70h0m15 48h0m-25 30h0m18-36h0m-67-35h0m66 49h0m13 10h0m-28-45h0m-18 34h0m-2 27h0m-5-77h0m34 0h0m56 24h0m-52 23h0m-23-47h0m-32 80h0m88 40h0m-76-49h0m45 9h0m-16-4h0m43-3h0m17-24h0m3-16h0m4-63h0m-51 60h0m0 56h0m22-29h0m30-48h0m-77 91h0m35-109h0m0 27h0m35 71h0m-62 5h0m-8-12h0m43-32h0m-61-4h0m-27-9h0m14 54h0m26-111h0m48 85h0m-33 54h0m39-63h0m-44-92h0m35 119h0m-33-72h0m17-8h0m1 75h0m46-16h0m-40 15h0m37-33h0m-80-14h0m-1-3h0m34 38h0m9-9h0m-16 11h0m38 10h0m19-32h0m-54 61h0m14-39h0m-16 17h0m-2-61h0m10 18h0m27 2h0m-21 5h0m6-13h0m24-24h0m-46 22h0m32 22h0m-5-11h0m-37-24h0m12 18h0m18 27h0m22-14h0m-53-29h0m25 43h0m57-5h0m-5 51h0m-86-20h0m67 4h0m-35-12h0m-15-31h0m16 56h0m-8-25h0m9-50h0m5 41h0m-29-1h0m0-46h0m29 20h0m-37-43h0m31 58h0m-15-2h0m-33 6h0m60-3h0m-32-6h0m23 30h0m4-25h0m-30 18h0m58-41h0m-17 25h0m-20-49h0m54-18h0m-44 46h0m26-2h0m-34 32h0m13-35h0m7 28h0m9-27h0m-31 3h0m-25 20h0m38 35h0m-22-31h0m45-15h0m-33 7h0m-23-34h0m55 35h0m-36-43h0m6 74h0m-39-63h0m69 71h0m13-61h0m-29-6h0m-2 12h0m-10 52h0m4-48h0m-8 15h0m-18-2h0m34 41h0m-81-83h0m25 63h0m112-21h0m-70 29h0m-78-40h0m-20 10h0m79-20h0m25-3h0m24 18h0m-23 77h0m-25-49h0m-11 10h0m54-34h0m1 45h0m12-49h0m-44 34h0m-94-73h0m128 76h0m89 78h0m-100-86h0m-107-41h0m103-3h0m-13 55h0m-66-77h0m-54 112h0m47-186h0m119 97h0m13-10h0m75 71h0m-128-39h0m-23 45h0m143-80h0m-201 66h0m140-136h0m-114 32h0m81 98h0m-84-106h0m92-60h0m-2 123h0m82 75h0m-162-83h0m20-29h0m23 110h0m-103-78h0m195 63h0m-150-100h0m-2-52h0m129 109h0m-119-98h0m20 60h0m136 3h0m-104 99h0m36-81h0m-184 103h0m180-119h0m-45-34h0m-52-34h0m90 130h0m-21 17h0m24-43h0m-92 30h0m134 3h0m4-71h0m-144 111h0m25-65h0m26-14h0m-6-37h0m-97 158h0m128-247h0m-72 52h0m11-92h0m85 270h0m-53-58h0m55-128h0m39-28h0m-115 85h0m118 31h0m-89-60h0m14 55h0m41 87h0m0-89h0m-57 102h0m23-104h0m103 102h0m-79-108h0m-78 76h0m12-7h0m-21-55h0m76 2h0m-11 16h0m-87-96h0" stroke="#54e424" stroke-width="7"/>
<ellipse cx="2878" cy="3522" rx="27" ry="27" fill="#84f444" opacity=".44" filter="url(#bl)" transform="rotate(0 2878 3522)"/>
<path d="M2875 3560h0m1-57h0m-11 20h0m38-12h0m-13 15h0m-19-23h0m4 5h0m14-22h0m13 52h0m-12 15h0m1-66h0m-12 45h0m-15-33h0m23 34h0m-17-15h0m-2-7h0m9 34h0m-32-29h0m67 13h0m-31 11h0m-23-42h0m-14-6h0m39 48h0m-13-31h0m17 26h0m-3-52h0m-17-13h0m16 35h0m-18 49h0m41-22h0m-22-6h0m-18-5h0m52-17h0m-53 22h0m32 14h0m-39-20h0m15-23h0m7 16h0m17 18h0m-35-7h0m9-15h0m-3 35h0m2-57h0m-8 52h0m61-38h0m-52 15h0m-22 15h0m28-3h0m47-11h0m-29 23h0m-30-30h0m45 27h0m-29-37h0m15 33h0m28 20h0m-29-25h0m-15-17h0m5 17h0m7 17h0m-7-34h0m10 43h0m-34-23h0m29 3h0m-1-13h0m-13 36h0m38-63h0m-88 38h0m38-20h0m-18 18h0m31-19h0m20 62h0m12-26h0m-39-11h0m8 10h0m12-24h0m0-14h0m5 45h0m-24-19h0m-27 8h0m52-40h0m18 23h0m-71-31h0m53 23h0m31-63h0m-53 112h0m-26-13h0m14-15h0m31 83h0m-70-64h0m113-84h0m-54 152h0m43-234h0m-57 56h0m24 43h0m-39-5h0m38 17h0m-53 10h0m58-27h0m32-36h0m-32 56h0m52-11h0m-99-31h0m117 87h0m-136-42h0m6 82h0m61-158h0m-9 131h0" stroke="#84f444" stroke-width="7"/>
<ellipse cx="2888" cy="3573" rx="6" ry="6" fill="#f02484" opacity=".62" filter="url(#bl)" transform="rotate(0 2888 3573)"/>
<path d="M2888 3576h0m0-2h0m1-4h0m1 4h0m-2-4h0m-5 5h0m10-14h0m-7 19h0m7-10h0m2-2h0m-15 26h0m4-23h0m-13-8h0" stroke="#f02484" stroke-width="7"/>
<ellipse cx="2539" cy="3615" rx="38" ry="54" fill="#f05424" opacity=".62" filter="url(#bl)" transform="rotate(0 2539 3615)"/>
<path d="M2505 3609h0m-20 50h0m44-69h0m-8 56h0m64-48h0m2 84h0m-8-54h0m-84 15h0m32-20h0m-43-20h0m62-27h0m2 109h0m-2-98h0m64-61h0m-98 106h0m10-112h0m25 130h0m-31 26h0m38-11h0m-60-50h0m93 84h0m-8-84h0m-34-26h0m27-3h0m-29-57h0m-48 160h0m46-65h0m-67-10h0m127-61h0m-132 55h0m55-2h0m-22-47h0m1 83h0m35 7h0m-31-9h0m19-21h0m41-2h0m-38-71h0m12 102h0m-20-36h0m-34-52h0m64 109h0m-21-124h0m-2 5h0m3 146h0m17-87h0m22-10h0m-21 25h0m4-70h0m8 98h0m-90-150h0m42 176h0m27-34h0m16 8h0m-36-61h0m31 50h0m6-12h0m-32 32h0m29-1h0m-91-2h0m3-34h0m54-4h0m5-18h0m20 28h0m-30-121h0m1 129h0m-2-5h0m14-57h0m46 109h0m-38-72h0m32-54h0m-55 104h0m54-69h0m-51 36h0m-19-36h0m35-83h0m25 136h0m15-92h0m-71 26h0m-1 121h0m10-100h0m36 32h0m37-65h0m-17 52h0m-62 1h0m-7 62h0m20-26h0m62-69h0m-67 32h0m-4 32h0m37-70h0m-26 63h0m-23 41h0m20-80h0m-5 77h0m53-14h0m-5-51h0m32 24h0m-38-3h0m9-13h0m-28-80h0m68 13h0m-128 25h0m124 82h0m-77-41h0m18-95h0m-10 97h0m46-64h0m-104-16h0m78 71h0m-5 2h0m-16-64h0m25 75h0m4 36h0m-55-152h0m-17 190h0m27-74h0m27 14h0m98-53h0m-103-3h0m13 47h0m-37 34h0m64-37h0m-38-29h0m-47 38h0m21-49h0m60-18h0m-46 76h0m72-66h0m-23 1h0m-22 49h0m-46 23h0m89-42h0m-46-52h0m46 53h0m-93 30h0m-6-62h0m-21 88h0m133-86h0m-87 3h0m2 48h0m62-67h0m-31-34h0m33 73h0m-68 69h0m18-6h0m36 12h0m-57-68h0m36-11h0m35-22h0m-16 88h0m-90-99h0m32 18h0m39 16h0m-9-12h0m-5 40h0m25-54h0m-26 1h0m-2-29h0m35 90h0m-33-58h0m-10 1h0m-34 98h0m148-122h0m-136 77h0m54-92h0m-77 90h0m-2 38h0m45-57h0m15-28h0m-4 11h0m42 9h0m-39-18h0m-18-9h0m20 110h0m33-69h0m17 33h0m-44-50h0m-40 18h0m24-78h0m-30 150h0m46-62h0m0-41h0m7 66h0m-23-24h0m41-42h0m-26-11h0m13 15h0m16-16h0m17 19h0m-77-25h0m46 2h0m34 91h0m-39-116h0m-16 30h0m-55 49h0m123-41h0m-43 78h0m-54-69h0m38 34h0m-43-11h0m31 32h0m-45-65h0m33 11h0m37-14h0m62-3h0m-58 74h0m4-53h0m-55-2h0m46 16h0m-3 20h0m-45-65h0m71 19h0m-92 101h0m23-120h0m55-8h0m-56 93h0m1 62h0m28 8h0m1-112h0m-23-12h0m4 8h0m39-53h0m-52-35h0m74 86h0m-46 1h0m31 16h0m-5-21h0m-29 5h0m-53 49h0m8-89h0m69 45h0m4 70h0m32-14h0m-63 29h0m-20-92h0m57-5h0m-34-6h0m45-90h0m-3 150h0m-41-21h0m-27 24h0m123-87h0m-51 37h0m-53-19h0m5-32h0m-36 124h0m41-47h0m10-3h0m-56-61h0m66 83h0m-54-67h0m2 52h0m43-26h0m-30 13h0m20-47h0m10 4h0m18 55h0m-50-2h0m23-55h0m-29-41h0m-7 86h0m71-42h0m-32 42h0m19 4h0m14 14h0m-61-16h0m-48-24h0m72 32h0m-10 11h0m50-72h0m-57 47h0m31-5h0m11-56h0m-2 100h0m10-32h0m-41-1h0m5-85h0m-16 66h0m3-38h0m8 24h0m10 14h0m3 45h0m-1-25h0m-42-144h0m25 155h0m2-55h0m-27 64h0m21-27h0m51 12h0m34-28h0m-39 35h0m-50-28h0m3-46h0m27 11h0m42 2h0m-68 35h0m1-2h0m-3-62h0m-55 5h0m120 74h0m-42-39h0m-9 33h0m-38-47h0m15 88h0m-5-4h0m18 66h0m12-114h0m44 36h0m-13-83h0m6 117h0m-38-92h0m-30 64h0m42-44h0m-46 69h0m64-70h0m18-39h0m-18-2h0m16 30h0m-5-6h0m-25 67h0m-40-45h0m2 33h0m7-53h0m12 66h0m-25-51h0m21-22h0m-14 16h0m30-59h0m2 16h0m-7 147h0m-30-100h0m22 45h0m-7-118h0m-35 84h0m57 38h0m-24-17h0m-16 26h0m30-84h0m8 104h0m-31-128h0m-6 4h0m30 64h0m-4-6h0m42-21h0m-75-85h0m46 68h0m-15 47h0m22-85h0m-44 70h0m25 46h0m-29-212h0m110 34h0m-140 160h0m-6 165h0m85-154h0m-44 133h0m64-231h0m47-77h0m-121 156h0m47-98h0m95 191h0m-165-86h0m20-64h0m106 44h0m-72-2h0m-70 88h0m28 7h0m19-139h0m128 51h0m-140-57h0m82 190h0m1-179h0m-114-22h0m66 72h0m-36 82h0m-19-157h0m95 94h0m-58 38h0m-67 53h0m236 25h0m-136 1h0m-4-50h0m-17-90h0m48-153h0m-48 274h0m-179-105h0m253-5h0m-48 83h0m9-258h0m-84 126h0m72-12h0m-16 167h0m-186-41h0m254-43h0m-61-43h0m23 14h0m-71 43h0m-7-65h0m31-87h0m63 85h0m-116-1h0m-14 119h0m124 44h0m-71-101h0m-26-123h0m58 100h0m66-54h0m12 97h0m-130-90h0m-3 148h0m24-64h0m96-90h0m-91 47h0m-19-126h0m-13 126h0m76 112h0m-132-99h0m44 51h0m121-81h0m51-39h0m-131-53h0m-8 91h0m86 92h0m-61-158h0m-4 24h0m-9 2h0m-27 27h0m24-9h0m-57 25h0m128 39h0m-73-140h0m-49-3h0m42 68h0m-73 77h0m15-106h0m53 118h0m167-92h0m-137-3h0m4 17h0m174-72h0m-168 24h0m31 21h0m14-44h0m100 101h0m-253 38h0m85-145h0m59 50h0m19-2h0m11 54h0m-35 0h0m-47-40h0m53 83h0m-56 119h0m136-263h0m-39 84h0" stroke="#f05424" stroke-width="7"/>
<ellipse cx="2488" cy="3603" rx="10" ry="10" fill="#8444c4" opacity=".62" filter="url(#bl)" transform="rotate(0 2488 3603)"/>
<path d="M2491 3597h0m11 0h0m-14 1h0m17 16h0m-27-14h0m14 0h0m-6-5h0m5 0h0m5 29h0m-10-7h0m6-19h0m-6-2h0m4 14h0m6-9h0m-17 2h0m24 3h0m-15-20h0m-3 22h0m-4 7h0m3-18h0m0 6h0m13-4h0m-23 4h0m24 28h0m-30-1h0m33-18h0m-26-24h0m-4 33h0m22 2h0" stroke="#8444c4" stroke-width="7"/>
<ellipse cx="2425" cy="3560" rx="10" ry="10" fill="#44a424" opacity=".62" filter="url(#bl)" transform="rotate(0 2425 3560)"/>
<path d="M2440 3561h0m-15 16h0m-11-20h0m8 0h0m4-3h0m9-5h0m-17-2h0m-4 19h0m16-7h0m2 7h0m-12-6h0m8 17h0m-6-13h0m8 7h0m-1-1h0m-13-12h0m-7 2h0m36 3h0m-19 0h0m0-13h0m-7 9h0m8-5h0m-3 1h0m-22-6h0m9 27h0m38-5h0m-28-20h0m-24 0h0m56 30h0" stroke="#44a424" stroke-width="7"/>
<ellipse cx="2850" cy="3634" rx="8" ry="8" fill="#9424e4" opacity=".62" filter="url(#bl)" transform="rotate(0 2850 3634)"/>
<path d="M2852 3633h0m-2 4h0m0 0h0m-5-2h0m3 6h0m-6 2h0m8-12h0m1 4h0m-2 2h0m-2-14h0m8 11h0m6 3h0m-24 5h0m9-4h0m19 3h0m-22-7h0m-16 10h0m31-24h0m-1 28h0m5-23h0" stroke="#9424e4" stroke-width="7"/>
<ellipse cx="2805" cy="3646" rx="5" ry="5" fill="#7030c0" opacity=".5" filter="url(#bl)" transform="rotate(0 2805 3646)"/>
<path d="M2803 3642h0m-2 6h0m5 4h0m1-6h0m-7 7h0m7-6h0m-5-4h0m10-5h0m-1 15h0" stroke="#7030c0" stroke-width="7"/>
<ellipse cx="2564" cy="3700" rx="8" ry="8" fill="#f0a404" opacity=".62" filter="url(#bl)" transform="rotate(0 2564 3700)"/>
<path d="M2562 3690h0m6 20h0m-9-18h0m13 9h0m-11 7h0m2-5h0m-1-8h0m4 0h0m-13 2h0m20 11h0m6-1h0m-3-5h0m-14 1h0m-4 2h0m4-3h0m-3-3h0m20-2h0m-24 7h0m22-6h0m-29-20h0" stroke="#f0a404" stroke-width="7"/>
<ellipse cx="2596" cy="3361" rx="10" ry="10" fill="#303090" opacity=".56" filter="url(#bl)" transform="rotate(0 2596 3361)"/>
<path d="M2585 3370h0m11-5h0m9-1h0m-4-7h0m-18 10h0m13-1h0m-8-6h0m25-5h0m-16 17h0m-2-10h0m-16 6h0m14 4h0m3-14h0m4 1h0m-8 15h0m13-12h0m-2 6h0m-2-6h0m-4 3h0m4-1h0m-9-3h0m13-17h0m-9 31h0m4-18h0m-4-4h0m18 2h0m-47-15h0" stroke="#303090" stroke-width="7"/>
</g>
</g>
<g font-size="3.4" font-weight="bold" fill="#111" text-anchor="middle">
<text x="259.02" y="329.82">26</text>
<text x="266" y="331.22">21</text>
<text x="276.79" y="329.18">23</text>
<text x="271.08" y="332.48">28</text>
<text x="277.42" y="333.75">25</text>
<text x="253.94" y="335.53">9</text>
<text x="259.65" y="336.8">27</text>
<text x="262.19" y="339.34">6</text>
<text x="272.35" y="342.64">8</text>
<text x="278.69" y="341.37">24</text>
<text x="285.67" y="340.1">29</text>
<text x="250.13" y="343.4">5</text>
<text x="255.85" y="345.43">15</text>
<text x="262.83" y="345.94">1</text>
<text x="270.44" y="347.71">19</text>
<text x="259.02" y="350.76">7</text>
<text x="265.75" y="352.79">17</text>
<text x="280.59" y="351.01">13</text>
<text x="287.83" y="353.55">11</text>
<text x="288.21" y="356.09">31</text>
<text x="239.98" y="352.03">3</text>
<text x="247.6" y="352.66">12</text>
<text x="242.52" y="357.36">10</text>
<text x="248.86" y="361.68">30</text>
<text x="255.21" y="364.72">2</text>
<text x="256.48" y="371.32">4</text>
<text x="280.59" y="365.99">33</text>
<text x="286.31" y="364.72">32</text>
</g>
<text x="265.35" y="320.2" font-size="5.3" text-anchor="middle" textLength="57.5" lengthAdjust="spacingAndGlyphs">Phenograph scattar plot</text>
<path d="M234.9 336.4h-1.9" stroke="#222" stroke-width=".6"/>
<text x="232" y="338.35" font-size="5.5" text-anchor="end">20</text>
<path d="M234.9 350.3h-1.9" stroke="#222" stroke-width=".6"/>
<text x="232" y="352.25" font-size="5.5" text-anchor="end">0</text>
<path d="M234.9 364.5h-1.9" stroke="#222" stroke-width=".6"/>
<text x="232" y="366.45" font-size="5.5" text-anchor="end">-20</text>
<path d="M247.5 375.2v1.9" stroke="#222" stroke-width=".6"/>
<text x="246.7" y="383.5" font-size="5.5" text-anchor="middle">-20</text>
<path d="M265.7 375.2v1.9" stroke="#222" stroke-width=".6"/>
<text x="265.7" y="383.5" font-size="5.5" text-anchor="middle">0</text>
<path d="M283 375.2v1.9" stroke="#222" stroke-width=".6"/>
<text x="283" y="383.5" font-size="5.5" text-anchor="middle">20</text>
<text x="265.35" y="390" font-size="5.6" text-anchor="middle" textLength="14.6" lengthAdjust="spacingAndGlyphs">tsne_1</text>
<text font-size="5.6" text-anchor="middle" textLength="14.6" lengthAdjust="spacingAndGlyphs" stroke="#111" stroke-width=".12" transform="translate(221.7 350.3) rotate(-90)">tsne_1</text>
<rect x="314.5" y="322.6" width="60.9" height="52.6" fill="#fff" stroke="#333" stroke-width=".7"/>
<path d="M328 322.6V375.2M345.4 322.6V375.2M363 322.6V375.2M314.5 336.4H375.4M314.5 350.3H375.4M314.5 364.5H375.4" stroke="#ebebeb" stroke-width=".5" fill="none"/>
<clipPath id="c8"><rect x="314.9" y="323" width="60.1" height="51.8"/></clipPath>
<g clip-path="url(#c8)" stroke-linecap="round" fill="none">
<g transform="scale(.1)">
<ellipse cx="3189" cy="3507" rx="23" ry="23" fill="#f01414" opacity=".68" filter="url(#bl)" transform="rotate(0 3189 3507)"/>
<path d="M3197 3554h0m13-26h0m-8-14h0m1-7h0m-26-16h0m-8 23h0m33 26h0m-1-25h0m3-6h0m-48 20h0m27-15h0m4 51h0m27-48h0m-44 9h0m5 6h0m-12-24h0m47-15h0m-16 20h0m16-13h0m-5 50h0m-42-57h0m38 4h0m-35 40h0m45-6h0m2-7h0m-37-60h0m26 25h0m-9 28h0m-25-14h0m58 22h0m-65-19h0m31 15h0m15-12h0m-19 18h0m-23 5h0m34-32h0m-18 14h0m-17-50h0m35 74h0m-10-28h0m2-20h0m8 35h0m-7 1h0m-20-12h0m5-15h0m19 13h0m12 9h0m-40 12h0m-7-27h0m35 0h0m4 2h0m-29 15h0m18-33h0m2 17h0m5-11h0m-3 8h0m27-4h0m-6 6h0m-3 46h0m-28-42h0m-10-16h0m6 15h0m28 15h0m-26-14h0m-19 8h0m23-31h0m-9 31h0m16 2h0m-11-10h0m4-32h0m2 27h0m-10 17h0m53 12h0m-39-49h0m-5 10h0m7 35h0m-4-50h0m26 28h0m1-17h0m21-7h0m-45 39h0m-51-31h0m19 48h0m43-51h0m-46-15h0m36 18h0m4 5h0m-39 45h0m41-48h0m-16 38h0m22-48h0m12 12h0m-16-12h0m-24 38h0m-10-13h0m31-14h0m19 25h0m-30 7h0m29 4h0m-29-8h0m10-36h0m-14 59h0m-8-29h0m47-17h0m-32-7h0m10-9h0m-2 8h0m6-55h0m-59 108h0m69-162h0m38 91h0m-26 75h0m-43-57h0m-72 34h0m155-70h0m-30 81h0m-8-73h0m-43 54h0m74-49h0m-91 7h0m57-34h0m-44 12h0m-5 84h0m-9-3h0m3-30h0m13-34h0m23 62h0m-49 2h0m37-46h0m2 51h0m23 27h0m-19-51h0m-72-31h0m85-23h0m-62 119h0m35-119h0m-83 9h0m180 35h0m-69 28h0" stroke="#f01414" stroke-width="7"/>
<ellipse cx="3259" cy="3509" rx="31" ry="31" fill="#54e430" opacity=".56" filter="url(#bl)" transform="rotate(0 3259 3509)"/>
<path d="M3247 3518h0m13-17h0m24-12h0m-44 4h0m49 4h0m15-21h0m-69-32h0m1 67h0m40-26h0m-30 59h0m1-32h0m28-27h0m14 19h0m-11-2h0m-12 37h0m-2-75h0m-12 36h0m2 14h0m-35 39h0m19-12h0m12-41h0m6 1h0m17 38h0m31 16h0m-75-30h0m42-18h0m-4 3h0m-36-21h0m52 19h0m10-10h0m-48 14h0m17 21h0m-16-4h0m22-41h0m-13 17h0m29 35h0m-8-44h0m1 17h0m-32 15h0m-5-26h0m-6-27h0m34-5h0m-25 30h0m28-7h0m6-4h0m-37 0h0m7 2h0m-23 0h0m14 44h0m-5-18h0m4 13h0m19-35h0m31 51h0m10-13h0m-36-40h0m-14 3h0m25 3h0m-7 15h0m-9-21h0m-23 79h0m23-102h0m-28 24h0m76 19h0m-67 39h0m-24-15h0m115-27h0m-44 16h0m-96-8h0m57-76h0m36 53h0m-13 26h0m-24-70h0m4 39h0m-18-1h0m29 59h0m2-33h0m25 6h0m-32-28h0m-24 40h0m27 7h0m-17-45h0m29 51h0m-14-51h0m17-19h0m16 2h0m-67 33h0m25 32h0m33-22h0m-70-13h0m29-47h0m66 1h0m-70 25h0m9 26h0m26-35h0m0 47h0m-2 24h0m-21-49h0m2-19h0m9 55h0m16-27h0m-11 34h0m27-80h0m-63 72h0m51-9h0m5-45h0m-54 40h0m1-9h0m81-47h0m-38 84h0m19-51h0m-55 12h0m-9 3h0m23-11h0m29 8h0m-35-5h0m9-2h0m-6 28h0m2 5h0m26-2h0m-6-57h0m50 22h0m-87 15h0m32-55h0m-40 42h0m25-19h0m-14 27h0m-2 10h0m31-23h0m37 51h0m-79-40h0m72-17h0m-90-5h0m37 6h0m25 32h0m7-64h0m-32 74h0m4-53h0m6 83h0m-28-66h0m27-12h0m5 10h0m-29 4h0m20-4h0m18 25h0m7 1h0m-43-8h0m24-29h0m9 13h0m-17 35h0m-53-29h0m19-22h0m18 64h0m59-14h0m-96-15h0m151 54h0m-55-55h0m-72 10h0m-36-25h0m4-42h0m-1 67h0m54-2h0m54 2h0m-70 0h0m-33-44h0m99 14h0m-24 14h0m115-97h0m-180 169h0m-5-73h0m146-97h0m-90 134h0m73-71h0m-31 14h0m-12-3h0m8 60h0m21-58h0m-88 39h0m92 10h0m-99-25h0m42-46h0m121 30h0m-137 3h0m-47-15h0m36-18h0m5-132h0m23 162h0m-47-38h0m-68 18h0m129 38h0m-14-27h0m68 98h0" stroke="#54e430" stroke-width="7"/>
<ellipse cx="3323" cy="3342" rx="31" ry="31" fill="#a4f024" opacity=".56" filter="url(#bl)" transform="rotate(0 3323 3342)"/>
<path d="M3290 3381h0m44-73h0m-17 42h0m55-15h0m-24-7h0m-32 48h0m-7-26h0m33 9h0m-7-1h0m45-24h0m-35-11h0m-21 5h0m-49-31h0m66-24h0m-32 54h0m33 18h0m-5-29h0m-46-5h0m28 44h0m29-34h0m12 28h0m-44-48h0m20 56h0m-19-51h0m-31 89h0m20-4h0m35-28h0m20-22h0m-36-50h0m-23 29h0m35-5h0m26 16h0m-20 11h0m-11-8h0m23 11h0m-56-67h0m58 56h0m-43-20h0m31-2h0m2 55h0m-3-18h0m-49 41h0m32-24h0m-19-30h0m-5 12h0m12-49h0m-35 19h0m2 27h0m61 11h0m-43 32h0m-1-45h0m-6-54h0m51 15h0m-43 0h0m0 29h0m14 27h0m-7 7h0m27-38h0m-27 25h0m6-11h0m-26-35h0m55 22h0m-1 47h0m-18-51h0m33 30h0m-56 7h0m-25-41h0m60 34h0m24-6h0m5 15h0m-65-41h0m18 68h0m29-28h0m-7-53h0m-6 35h0m-20 35h0m49 8h0m-16-68h0m1-3h0m-12 45h0m13-17h0m-1-5h0m-37-19h0m2 1h0m32 6h0m-25 39h0m23-16h0m-22-35h0m-15 31h0m40-51h0m-24 46h0m-44 21h0m35-36h0m50 46h0m-10-15h0m-43-25h0m-33 26h0m56-18h0m9 4h0m35 14h0m-33-6h0m-4-33h0m-16 30h0m2 12h0m12-42h0m-33 15h0m-29 37h0m76-6h0m-39-1h0m6-46h0m-24 24h0m18-1h0m-9 14h0m1-5h0m-20 3h0m47-8h0m-40-12h0m33 1h0m32 8h0m-28 26h0m-9-18h0m-17-18h0m-29 12h0m4 11h0m41 0h0m-13-3h0m15-24h0m-1-5h0m-11 27h0m22 1h0m3-12h0m13-11h0m-13 2h0m-43-8h0m20 50h0m33-46h0m12 20h0m-28-32h0m7 7h0m-37 27h0m33-2h0m-41-45h0m55 88h0m-34-26h0m15-22h0m-48-24h0m37 14h0m-7-14h0m-71 40h0m51 13h0m16 10h0m104-31h0m-111 13h0m20-7h0m-63-2h0m28-52h0m71 37h0m-7 66h0m-61-40h0m28-87h0m-64 31h0m18 62h0m87-32h0m-102 18h0m73-38h0m29 50h0m-49-59h0m72 43h0m-8 55h0m38-94h0m-133 5h0m105 32h0m-100-16h0m-62 75h0m77-39h0m-86 15h0m172-29h0m8-20h0m-85 48h0m10-70h0m87 1h0m-50 9h0m19 21h0m-109 9h0m53-24h0m38-2h0m-17 38h0m-34-4h0m12-70h0m47 84h0m-7-96h0" stroke="#a4f024" stroke-width="7"/>
<ellipse cx="3380" cy="3285" rx="15" ry="15" fill="#202084" opacity=".68" filter="url(#bl)" transform="rotate(0 3380 3285)"/>
<path d="M3395 3292h0m-29-6h0m14-7h0m-6-13h0m16 13h0m-7 25h0m29-19h0m-40-6h0m14 3h0m-20-15h0m-4 11h0m2 15h0m20 10h0m1-12h0m3 1h0m11-6h0m1-13h0m-6 16h0m-3 8h0m18-9h0m-36-1h0m-2 3h0m-3-4h0m22-3h0m4 8h0m-25-4h0m33-7h0m-27 9h0m21-18h0m-5 9h0m-9 20h0m-21-18h0m39 27h0m-29-26h0m6 0h0m10-11h0m-6 17h0m-22-8h0m23 34h0m-13-39h0m22 7h0m-14-9h0m-5 23h0m13-13h0m-8 4h0m-5 2h0m21-41h0m28 26h0m-61 39h0m35-6h0m38 18h0m-63-58h0m-15 11h0m54-19h0m-39-9h0m29 61h0m-5-47h0m8 21h0" stroke="#202084" stroke-width="7"/>
<ellipse cx="3449" cy="3299" rx="19" ry="19" fill="#30d4e4" opacity=".68" filter="url(#bl)" transform="rotate(0 3449 3299)"/>
<path d="M3470 3301h0m-27-1h0m15-10h0m-16 12h0m-12-6h0m19 1h0m6 9h0m-15 19h0m25-46h0m-18 19h0m-1 19h0m3-33h0m-12 19h0m-3-7h0m-7 29h0m5-40h0m34-5h0m-17 45h0m-13-38h0m5-15h0m6 39h0m-4-13h0m9-9h0m-12 35h0m19-32h0m7 23h0m-28-26h0m30 46h0m7-18h0m-24-6h0m-8-8h0m8-14h0m-3 24h0m3-18h0m-2-8h0m-22-21h0m25 37h0m-9 19h0m9-9h0m28-17h0m-20 0h0m-15-9h0m-3-15h0m-2 12h0m-3-4h0m25 40h0m9 0h0m-25-15h0m25-4h0m-7 5h0m8-1h0m-20-8h0m-19-12h0m-20 0h0m25 44h0m1-33h0m10 10h0m2-18h0m-23-3h0m21 36h0m-6-36h0m10-2h0m1 21h0m11 15h0m-23-20h0m10-1h0m-17-8h0m31-4h0m-10 4h0m-32 4h0m9 23h0m5-11h0m9 16h0m12-24h0m-6 13h0m16 22h0m-66-53h0m92 65h0m-26 8h0m-50-30h0m69-86h0m-49 59h0m-8 51h0m48-111h0m-43 58h0m8 39h0m26-11h0m-39 26h0m-23-39h0m27 41h0m2-55h0m27-3h0m-14 21h0m19-76h0" stroke="#30d4e4" stroke-width="7"/>
<ellipse cx="3500" cy="3311" rx="23" ry="23" fill="#2444f4" opacity=".68" filter="url(#bl)" transform="rotate(0 3500 3311)"/>
<path d="M3470 3320h0m42-43h0m14 26h0m-29 6h0m15 60h0m-55-65h0m50 42h0m2-63h0m-31 85h0m-8-4h0m38-55h0m10 11h0m-19 10h0m15 10h0m8-14h0m-29 1h0m5-17h0m3-19h0m-2-14h0m4 33h0m-4 19h0m-13-21h0m-5 13h0m21-17h0m-11 18h0m-6-2h0m18 35h0m3-43h0m-7-13h0m25 0h0m-1-28h0m-22-7h0m5 59h0m-5-11h0m9-28h0m-12 38h0m21 3h0m-17-13h0m-28-11h0m27 22h0m28-27h0m-52 56h0m-10-30h0m28-30h0m0 26h0m-15 16h0m13-8h0m4-7h0m22-27h0m-44-5h0m11 13h0m23 1h0m-9-40h0m10 61h0m-29 12h0m1-25h0m35-8h0m-15 16h0m58-16h0m-35 7h0m-68-8h0m27 7h0m9-7h0m-4 11h0m14 19h0m-14-50h0m32 41h0m-16-16h0m-2 33h0m-14 12h0m39-32h0m-40-14h0m10-7h0m22 25h0m3-1h0m-17 12h0m22-28h0m-58-5h0m9 24h0m69-31h0m-21 20h0m-25-37h0m-10 35h0m-4 8h0m3-7h0m43 30h0m-66-24h0m18-18h0m-17-13h0m49 48h0m34-35h0m-57 9h0m-2-17h0m21 18h0m-7 8h0m-31-17h0m-13 14h0m48-4h0m-30-3h0m30 10h0m-29-13h0m17 13h0m-9-44h0m32 69h0m-56-6h0m80-40h0m-15 20h0m-19-2h0m-40-18h0m76 3h0m-55 59h0m1-47h0m46-38h0m-55-37h0m17 68h0m-23-46h0m-7 9h0m41 32h0m-64 61h0m-19 11h0m117-83h0m-49 9h0m-7 62h0m68-47h0m-80-4h0m0-35h0m47 50h0m-7 33h0m-59-49h0m49-3h0m13-32h0m-7 67h0m-6 99h0m-37-143h0m9 100h0m13-6h0m3-72h0m92-4h0m-15-32h0" stroke="#2444f4" stroke-width="7"/>
<ellipse cx="3564" cy="3324" rx="21" ry="21" fill="#2434e4" opacity=".68" filter="url(#bl)" transform="rotate(0 3564 3324)"/>
<path d="M3561 3324h0m-9-3h0m-21 13h0m43 15h0m-6-21h0m8 8h0m9 7h0m-39-10h0m23 13h0m4-20h0m-1 11h0m-1-24h0m-2 30h0m11-18h0m-33-15h0m30 1h0m-22 11h0m-25-7h0m29 6h0m-19 19h0m61-9h0m-33-30h0m-2 4h0m-13 4h0m8 5h0m-2 24h0m-27-27h0m12 16h0m28-8h0m-11 30h0m10-44h0m-8 50h0m-3-31h0m25 24h0m-23-15h0m-4 20h0m18-17h0m-3-27h0m-17 19h0m15 8h0m-8 1h0m11-4h0m-41-34h0m18 41h0m20 0h0m-4 0h0m18 16h0m-17-41h0m14 13h0m-40 25h0m33 5h0m5-47h0m6-8h0m-1 50h0m-3-34h0m-15 0h0m40-22h0m-6 27h0m-42-23h0m-12 31h0m8-2h0m25-2h0m-9-5h0m-20 19h0m21-53h0m-24 24h0m27 3h0m-27 1h0m3 16h0m-23-8h0m42-4h0m-17 9h0m32-12h0m-36-3h0m24 25h0m-24 13h0m15-43h0m-8 24h0m32-18h0m-32 2h0m43 0h0m-28 17h0m-3-15h0m-20 5h0m14-20h0m-9 25h0m10-4h0m22 11h0m-30-12h0m-33-21h0m47 55h0m-25-17h0m9 29h0m67-1h0m-70-27h0m8-37h0m2 12h0m19-10h0m8 55h0m-44-71h0m-2 67h0m36-79h0m11 110h0m7-31h0m-25-5h0m41-23h0m41 51h0m-84-137h0m-77 86h0m102 23h0m-35-74h0m22 68h0m-17-33h0m61 11h0m-68 45h0" stroke="#2434e4" stroke-width="7"/>
<ellipse cx="3576" cy="3400" rx="23" ry="23" fill="#2434d4" opacity=".68" filter="url(#bl)" transform="rotate(0 3576 3400)"/>
<path d="M3581 3414h0m40-25h0m-28-2h0m-21 43h0m-25-16h0m6-4h0m-1-2h0m7 5h0m35 3h0m-8-17h0m-2 9h0m6 21h0m-1-40h0m-15 21h0m-27 3h0m47-22h0m-11-1h0m19-2h0m-25 34h0m-6-56h0m-9 61h0m25-32h0m0 15h0m-15-57h0m-2 8h0m-17 43h0m5-5h0m17-3h0m9 18h0m-10-2h0m15-7h0m3 5h0m-11-41h0m3 45h0m-9-7h0m28-23h0m-39 21h0m12-4h0m17 12h0m-11 5h0m-4-51h0m0 22h0m41 11h0m-49 23h0m24-12h0m-51-14h0m41 9h0m-21 0h0m43 0h0m3 9h0m-34-24h0m7-13h0m-22 25h0m2 5h0m5 5h0m7-19h0m4-9h0m1 11h0m2-6h0m-32 16h0m15 8h0m6 4h0m1 1h0m6-16h0m7-20h0m-2 40h0m-58-21h0m56 4h0m-27 29h0m36-31h0m1 30h0m-22-16h0m-33-30h0m21-9h0m15 32h0m26-23h0m-35 2h0m-6 25h0m15-24h0m21 15h0m-2-7h0m-18 5h0m-17 27h0m28-46h0m14 15h0m-6-7h0m-34 60h0m17-72h0m9-1h0m16 0h0m-20 45h0m18-27h0m-48 27h0m21-25h0m-5-4h0m9 18h0m-19-23h0m29 17h0m-31-20h0m29 15h0m14 13h0m-5-11h0m-19 3h0m-13-50h0m4 25h0m32 16h0m-7-1h0m9 59h0m14 31h0m-54-73h0m84-31h0m-104-18h0m20 14h0m-29 65h0m82-83h0m-74 6h0m45 62h0m45 32h0m-89-118h0m81 17h0m-48 58h0m-10-23h0m74-48h0m-35 83h0m-90-44h0m-23 35h0m114 25h0m0-32h0m-2 10h0m-70 15h0m136-26h0m-63 41h0m-18-46h0m-50 2h0m66-17h0m10-22h0m-15 26h0m-100 11h0m63 24h0" stroke="#2434d4" stroke-width="7"/>
<ellipse cx="3646" cy="3387" rx="12" ry="12" fill="#5414a4" opacity=".68" filter="url(#bl)" transform="rotate(0 3646 3387)"/>
<path d="M3649 3395h0m-4-1h0m-7-28h0m11 31h0m-15-7h0m-6-14h0m20 9h0m-11 17h0m12-23h0m1 6h0m-9 13h0m11 4h0m19-11h0m-24-10h0m7-4h0m8-15h0m-9 48h0m-3-18h0m-2 6h0m-16-10h0m15 15h0m-8-22h0m18 5h0m-9 4h0m-11 1h0m5-18h0m6 21h0m3 1h0m-10 9h0m1-16h0m11-5h0m10 5h0m-22-4h0m10 14h0m11-32h0m-30-10h0m2-4h0m46 32h0m-51-4h0m32 6h0m-20 22h0m5-19h0m2-23h0m9 41h0" stroke="#5414a4" stroke-width="7"/>
<ellipse cx="3449" cy="3400" rx="45" ry="31" fill="#f2f234" opacity=".59" filter="url(#bl)" transform="rotate(0 3449 3400)"/>
<path d="M3473 3330h0m-61 54h0m96 39h0m9-43h0m-92 4h0m-8 55h0m36-33h0m56-1h0m-41-7h0m-74 37h0m31-33h0m51-76h0m17 80h0m-78 10h0m7-30h0m-18 24h0m75-21h0m37-26h0m-103 7h0m56 10h0m-56 8h0m83 45h0m-12-22h0m-89-4h0m95 13h0m8-13h0m-57-65h0m70 67h0m-34-11h0m32-17h0m-70 46h0m-23-77h0m12 39h0m42 25h0m-48-8h0m-7-5h0m39 1h0m-19-24h0m83-14h0m-80 44h0m66-42h0m-43-12h0m24 47h0m-67-43h0m2 48h0m-31-10h0m77 23h0m-13-3h0m0-11h0m-22 9h0m42-58h0m-8 76h0m-63-17h0m-32 7h0m24-70h0m74 19h0m18 69h0m-9-61h0m-22-2h0m-7-8h0m2 39h0m-29 6h0m-21-42h0m29 65h0m30-26h0m51-46h0m-67 54h0m6-39h0m-11 8h0m18-45h0m1 68h0m-23 27h0m25-11h0m34-40h0m-63 17h0m-13-22h0m14 43h0m-10 15h0m-12-54h0m63 37h0m13-71h0m-37 79h0m-66-11h0m34-42h0m0 42h0m44-31h0m84 29h0m-70-27h0m26 7h0m-24 1h0m0-2h0m-32-14h0m-7 24h0m53-11h0m-62 1h0m-8 24h0m62-33h0m-41 20h0m-11-32h0m-12-15h0m61 46h0m-48-26h0m13 3h0m-29 31h0m0 22h0m-51-47h0m16 26h0m67-31h0m-57-15h0m93 32h0m-20 26h0m-34-32h0m-19-11h0m44 0h0m-65 51h0m42-51h0m52-28h0m-38 26h0m-46 25h0m22-13h0m37 30h0m14-64h0m-27 39h0m-40 17h0m52 10h0m-28-30h0m34 21h0m71-30h0m-34 25h0m-23-30h0m-53 1h0m75 6h0m-74 32h0m84-30h0m-17 47h0m-99-8h0m103-52h0m-76 25h0m-26 29h0m31-12h0m99-32h0m-4 25h0m-119-44h0m130 96h0m-56-67h0m-64-5h0m45-28h0m-1 27h0m-29-9h0m46 77h0m-17-28h0m27-52h0m-23 51h0m-2-17h0m15 5h0m58-56h0m-46 34h0m28 3h0m-74-55h0m89 60h0m-26-45h0m26 43h0m-44 17h0m-48 11h0m-63-21h0m139-10h0m-90-9h0m47-7h0m-11-11h0m-82 38h0m78-29h0m28 32h0m21 68h0m-124-64h0m143-21h0m-86 14h0m-9-3h0m10-50h0m45 33h0m-29-32h0m-12 26h0m26-6h0m-74 30h0m128-17h0m29-5h0m-82-6h0m-37 68h0m47-23h0m3-14h0m-53-24h0m11-8h0m40 17h0m33-28h0m-55 43h0m-68-41h0m35 15h0m37 14h0m-40 13h0m34-13h0m-52-30h0m-18 21h0m18-8h0m-42 9h0m128-4h0m-13-21h0m28 76h0m-54-14h0m-39-30h0m54-39h0m-89-5h0m74 9h0m1 26h0m-20-35h0m28 31h0m81 23h0m-144 3h0m66-23h0m1 27h0m-42 7h0m49-45h0m-19 15h0m34 48h0m0-16h0m-34-43h0m40-10h0m-21 44h0m-6-10h0m38 50h0m-31 1h0m9-57h0m-10-41h0m26 154h0m-61-36h0m-62-151h0m-33 87h0m8 3h0m220-21h0m-74 132h0m-111-66h0m12-77h0m155 61h0m-156-55h0m31 8h0m78 113h0m-5-146h0m35 65h0m-85 11h0m61-32h0m-74 46h0m127-60h0m-73-140h0m-126 8h0m217 110h0m-196-30h0m75-55h0m31 171h0m-176-76h0m157 125h0m38-138h0m-1 81h0m114-115h0m-185 9h0m94 125h0m-20-57h0m94-24h0m-180 106h0m-18-90h0m123-22h0m6-26h0m-97 41h0m32-64h0m-58-61h0m49 153h0m-60 13h0m-53-150h0m212 140h0m-59 23h0m-77-128h0m-83 157h0m134-26h0m126-58h0m-269 47h0m37-60h0m-128 24h0m148 2h0m-7-127h0m121 129h0m-31 23h0m-63 20h0m63-142h0m45 38h0m-65-29h0m-28 77h0m54 28h0m208-20h0" stroke="#f2f234" stroke-width="7"/>
<ellipse cx="3373" cy="3494" rx="23" ry="23" fill="#f2f224" opacity=".68" filter="url(#bl)" transform="rotate(0 3373 3494)"/>
<path d="M3383 3524h0m0-47h0m15 35h0m1-34h0m-26-1h0m12 30h0m-9-23h0m26-39h0m14 35h0m-34 20h0m-19-28h0m-10 6h0m8 6h0m29 21h0m-6-21h0m-26 17h0m-32-23h0m45 16h0m-14-51h0m7 49h0m30 22h0m-22-30h0m6 14h0m-30-29h0m33 54h0m-25-39h0m-7 13h0m-15-42h0m33 40h0m18 24h0m-22-21h0m18-1h0m-36 9h0m30-16h0m16-38h0m-5 43h0m3-6h0m-15 4h0m14-32h0m-12 31h0m25 38h0m5-59h0m-33 38h0m-6-16h0m12-4h0m-9-4h0m8-12h0m17 19h0m-7-8h0m-11-12h0m-3 33h0m11-6h0m-22-10h0m21 53h0m-61-38h0m55-8h0m-21 1h0m27 15h0m5-3h0m-18-23h0m10-16h0m-15 43h0m-18-18h0m41 1h0m10 24h0m-34-15h0m21 30h0m-9-31h0m40 3h0m-35 1h0m8-20h0m-8-2h0m-21 10h0m-7 56h0m-3-64h0m22 5h0m4-21h0m6 32h0m3 1h0m-17-15h0m16 15h0m5-2h0m-29-9h0m-8-3h0m3 1h0m-18 3h0m48 15h0m10-22h0m-5-17h0m-20 41h0m20-1h0m-50-38h0m47 3h0m-11 17h0m-2-26h0m-2 24h0m-20-7h0m27 29h0m8 17h0m-24-34h0m-19-4h0m7 28h0m-4-47h0m6 28h0m30-35h0m2 23h0m-37-5h0m43 94h0m-15-88h0m32-71h0m-50 123h0m58-55h0m-30-52h0m-86 166h0m80-122h0m-2 31h0m-64 94h0m94-141h0m22-18h0m-114 45h0m119 48h0m-137-131h0m117 132h0m-53-21h0m38-13h0m-13-46h0m17 34h0m-23 38h0m35-50h0m-13-37h0m-47 67h0m45-65h0m-42 106h0m38-34h0m-81-38h0m59 28h0m-15 16h0m-43-126h0m45 23h0" stroke="#f2f224" stroke-width="7"/>
<ellipse cx="3418" cy="3446" rx="12" ry="12" fill="#a01424" opacity=".68" filter="url(#bl)" transform="rotate(0 3418 3446)"/>
<path d="M3418 3448h0m-2 1h0m-18-11h0m25 16h0m-10-9h0m-8-9h0m6 15h0m-9-22h0m20-14h0m-13 28h0m34 9h0m-11 9h0m0-4h0m-19-13h0m11-1h0m-7 0h0m2 4h0m-6 5h0m5-24h0m4 14h0m-17-5h0m4 3h0m12 0h0m11 22h0m-7-27h0m-22 7h0m9 8h0m12 8h0m-16-19h0m2-3h0m-4 6h0m15-8h0m-16 7h0m23 16h0m4-40h0m-69 33h0m30-10h0m6 31h0m12 4h0m41 2h0m-2-13h0m3-42h0m-51 34h0m-16-14h0" stroke="#a01424" stroke-width="7"/>
<ellipse cx="3456" cy="3426" rx="8" ry="8" fill="#2444f4" opacity=".68" filter="url(#bl)" transform="rotate(0 3456 3426)"/>
<path d="M3460 3412h0m-8 21h0m13-6h0m-3-5h0m5 1h0m-11-9h0m11 16h0m-18-14h0m10 14h0m-22 9h0m27-10h0m-8 3h0m10-9h0m-4 0h0m-6-1h0m4-5h0m3 4h0m-17 3h0m23-17h0m-23 23h0m42 0h0m-53 6h0" stroke="#2444f4" stroke-width="7"/>
<ellipse cx="3297" cy="3420" rx="17" ry="17" fill="#f0a424" opacity=".38" filter="url(#bl)" transform="rotate(0 3297 3420)"/>
<path d="M3295 3394h0m-9 29h0m-2 6h0m27-46h0m-1 62h0m2-34h0m-7 2h0m-37-2h0m17 34h0m17-8h0m12-30h0m-15 9h0m4-12h0m-30 30h0m16-17h0m8 7h0m-6-8h0m5 22h0m0-13h0m-10-17h0m23-12h0m8 7h0m-32 10h0m13 20h0m-8-41h0m3 10h0m7 21h0m0 20h0m-3-19h0m-1-3h0m2-15h0m-64-43h0m45 58h0m-2 46h0m40-36h0m-33-12h0m-36-7h0m59 2h0m-24-33h0m11 42h0" stroke="#f0a424" stroke-width="7"/>
<ellipse cx="3494" cy="3464" rx="16" ry="16" fill="#30d4b4" opacity=".68" filter="url(#bl)" transform="rotate(0 3494 3464)"/>
<path d="M3490 3450h0m-2 6h0m17 3h0m-33-2h0m37 19h0m-24-29h0m-2 38h0m24-9h0m-15-16h0m6-9h0m6 4h0m-13-4h0m-1 4h0m19 23h0m-18 1h0m-6-22h0m0 14h0m-2-25h0m14 19h0m12 8h0m-25 1h0m18-8h0m-26 9h0m31 2h0m-20-28h0m-9 31h0m12-3h0m1-18h0m6 21h0m-8-30h0m-7 4h0m28-1h0m3 10h0m-21 0h0m-6 3h0m9 2h0m0 9h0m17 9h0m-5-21h0m-16 3h0m9 0h0m-35-7h0m47-13h0m-44 26h0m11-2h0m6-32h0m-9 31h0m20-34h0m-17 21h0m20 11h0m-32-6h0m-10 9h0m-7-21h0m38 23h0m62-15h0m-34-32h0m36 11h0m-49 20h0m13 19h0m-48 17h0m4-20h0m50-50h0m-2 11h0m14 11h0m-13 80h0m-49-130h0" stroke="#30d4b4" stroke-width="7"/>
<ellipse cx="3462" cy="3514" rx="36" ry="18" fill="#44f484" opacity=".56" filter="url(#bl)" transform="rotate(0 3462 3514)"/>
<path d="M3490 3506h0m-21 16h0m-32 18h0m56-23h0m-7 6h0m9-14h0m-72-1h0m40 29h0m-18-38h0m35-7h0m-41 36h0m39-13h0m18 7h0m-43-9h0m34 22h0m-25 13h0m20-35h0m-77 18h0m44-14h0m38-12h0m-29 27h0m-40-12h0m30-9h0m25 4h0m3-11h0m-65 3h0m102 22h0m-79 0h0m36-9h0m-48-9h0m54 16h0m-13-26h0m16 28h0m-24-2h0m48-4h0m-23-19h0m-62 11h0m52 5h0m-46 1h0m50 20h0m-14-18h0m11 24h0m-34-38h0m76 19h0m-71-13h0m23 22h0m-5-12h0m17-17h0m46-6h0m-46 4h0m-33 28h0m15-9h0m36-1h0m-36-30h0m27 51h0m-27-27h0m2 6h0m19-10h0m-40 16h0m13-35h0m17 18h0m9 20h0m-57-16h0m35 3h0m23 1h0m-21-21h0m30 34h0m-18-18h0m7 2h0m-21 1h0m-20-31h0m27 27h0m-12-12h0m-5 12h0m42 9h0m0-16h0m-28-4h0m-24 15h0m-17-35h0m137 31h0m-120-9h0m36 29h0m-2-15h0m-54-10h0m34 9h0m26-20h0m-38 4h0m18 40h0m29-12h0m-19-19h0m22-6h0m-40 20h0m3-3h0m-10-43h0m30 14h0m7 29h0m13 13h0m-37-14h0m-27-19h0m3 42h0m40-25h0m-27-5h0m-5 5h0m74 14h0m45-22h0m-105-43h0m71 136h0m-18-67h0m-38-49h0m34 111h0m-76-71h0m19-2h0m-49-17h0m71 83h0m50-105h0m75-9h0m-155 85h0m121-14h0m-131 15h0m17-25h0m-71-69h0m62 5h0m-6 58h0m31-24h0m-42 71h0m33-68h0m-11 69h0m100-37h0m-48-82h0m53 72h0m-57-86h0m19 62h0" stroke="#44f484" stroke-width="7"/>
<ellipse cx="3595" cy="3497" rx="38" ry="38" fill="#54e424" opacity=".62" filter="url(#bl)" transform="rotate(0 3595 3497)"/>
<path d="M3640 3521h0m-14-15h0m-39-16h0m27 33h0m13 12h0m-41-75h0m-38 100h0m37-84h0m23 31h0m-41-10h0m13-9h0m-18-12h0m52-6h0m17 57h0m-9-34h0m-45 46h0m2-55h0m36-18h0m-39 72h0m36-19h0m30-79h0m-38 114h0m-35-41h0m60-3h0m-105 2h0m25-6h0m53-63h0m-31 78h0m69 15h0m-38-33h0m-32 42h0m38-75h0m-25 37h0m-27-25h0m112 21h0m-83-57h0m-7 134h0m-2-120h0m55 31h0m-20 29h0m40-68h0m-23 42h0m-18-15h0m-14 7h0m17 10h0m32-11h0m-26-2h0m-6 74h0m-33-64h0m14-2h0m62-37h0m-61 23h0m-20 4h0m34 14h0m-3-11h0m-41 22h0m38-13h0m-15-15h0m-31 53h0m68-60h0m-35 30h0m63-4h0m-70-19h0m0 2h0m68 28h0m-107-13h0m64-64h0m-7 84h0m-12-62h0m31 24h0m24-46h0m-122 89h0m94-95h0m-48 54h0m22 11h0m-13 23h0m-17-84h0m46 58h0m25 36h0m-65 5h0m31-68h0m16 73h0m25-61h0m-16 4h0m-68-51h0m35 44h0m4 3h0m-24 68h0m-26-76h0m30 19h0m21-4h0m3-8h0m47-19h0m-109 53h0m32-12h0m0 37h0m94-35h0m-88-10h0m18-23h0m-26 9h0m64 16h0m-69 29h0m27 1h0m26 0h0m-23 35h0m-9-66h0m53 6h0m-74 14h0m39-14h0m24-8h0m-5 45h0m-60-11h0m60-3h0m-12 12h0m-6-16h0m33-47h0m6 1h0m4-12h0m-8 17h0m-27 5h0m-2 25h0m-33-1h0m-5-36h0m25 64h0m-8-68h0m2 26h0m-45 65h0m105-40h0m-102 3h0m77-44h0m-18 46h0m5 2h0m-20-31h0m20 14h0m-34-12h0m38-28h0m-108 56h0m82-72h0m-20 38h0m-8-15h0m14 9h0m13 12h0m-31 57h0m13-11h0m72-34h0m-12-16h0m14 26h0m3-13h0m-78-35h0m-3 24h0m62 35h0m-2-8h0m-14 20h0m-18-25h0m44-6h0m-26-1h0m-2-2h0m8 18h0m-42 12h0m42-63h0m-24 59h0m-24 7h0m-63-47h0m120 5h0m-25-17h0m-2 7h0m-10-3h0m23 3h0m-14 4h0m50-8h0m-64 58h0m22-37h0m-11-32h0m-8 61h0m-39-45h0m42 35h0m34 14h0m-36-67h0m14 16h0m-20 10h0m34 63h0m6-47h0m-61 50h0m47-97h0m-11 57h0m24 25h0m-65-25h0m8-47h0m33 48h0m-5-38h0m29 44h0m-67-33h0m13 33h0m43 8h0m35-37h0m-58 24h0m-2-22h0m15-14h0m53-20h0m-38 44h0m-65-9h0m65 17h0m4 18h0m-40-44h0m-31-1h0m22 40h0m22-28h0m25-59h0m33-30h0m-92 140h0m28-50h0m5-7h0m11-2h0m27-51h0m-3 49h0m-31-25h0m-12 20h0m5-86h0m-8 111h0m8-45h0m15 41h0m-45-17h0m8 26h0m8-49h0m37 45h0m-38-24h0m-2-3h0m-19-21h0m73 35h0m-60-22h0m38 48h0m-3-48h0m-17 64h0m41-61h0m-50 45h0m67 5h0m-23-68h0m28 108h0m-42-61h0m11 25h0m1-19h0m-41-31h0m-11 20h0m-18-23h0m35 11h0m44 77h0m-17-40h0m-57-4h0m29-55h0m62 41h0m-13 28h0m-49-16h0m66-36h0m-151 38h0m37 50h0m-91-79h0m72 130h0m181-54h0m-119-121h0m12 84h0m105-91h0m-171 59h0m84-32h0m-72-35h0m0 81h0m59-13h0m7 29h0m57 58h0m-8-15h0m-108-138h0m27 123h0m99-57h0m69-117h0m-150 130h0m83-79h0m-36 176h0m29-230h0m7 95h0m-59-51h0m18-3h0m-178 115h0m115-37h0m0-9h0m96 12h0m3 27h0m27 50h0m-72-99h0m61 58h0m50 50h0m-77-64h0m-109-27h0m83-138h0m29 66h0m-107 145h0m82-48h0m-95 54h0m90-69h0m-71 13h0m5-91h0m96 84h0m5 38h0m-10 10h0m-151-126h0m10-57h0m51 115h0m18-103h0m8 125h0m38 10h0m-84-9h0m-42-109h0m137 72h0m44 41h0m-145 68h0m46-101h0m186-13h0m-254 52h0m125-64h0m-5 100h0m-197-70h0m172-46h0m30-37h0m36 65h0m-180-153h0m104 217h0m-11 9h0m77-15h0m-180 31h0" stroke="#54e424" stroke-width="7"/>
<ellipse cx="3668" cy="3522" rx="27" ry="27" fill="#84f444" opacity=".44" filter="url(#bl)" transform="rotate(0 3668 3522)"/>
<path d="M3663 3550h0m-10-53h0m10 15h0m-8-8h0m24 38h0m-6-12h0m-11-10h0m-16-19h0m-6 23h0m46 30h0m-7-30h0m-33-7h0m7 3h0m32 4h0m-8 41h0m-4-59h0m21 58h0m-13-29h0m-6 4h0m-13-29h0m-4 32h0m-14-27h0m29 6h0m1-27h0m-29 35h0m20-34h0m-3 11h0m-6 35h0m14-40h0m-3 52h0m11-32h0m27 3h0m-51-10h0m32 17h0m-6-8h0m-29 12h0m-17-28h0m42-4h0m-5 17h0m-2 4h0m-16 15h0m4-4h0m25 21h0m-14-13h0m-21-3h0m-11-1h0m21-29h0m39-13h0m-50-1h0m2 60h0m44-38h0m-48 0h0m-8 0h0m32 9h0m24 3h0m18-9h0m-57 18h0m30 21h0m-32-16h0m34 22h0m15-29h0m-43-29h0m32 34h0m10-36h0m-33 50h0m49-48h0m-30-19h0m-17 49h0m-1-25h0m43-21h0m-34 16h0m6 22h0m-25 29h0m6-48h0m-8-7h0m4-12h0m31 32h0m-17-29h0m-33 60h0m9-42h0m23 32h0m-13 12h0m-1-46h0m-32-10h0m10 40h0m31 16h0m39-57h0m25-44h0m-22-59h0m-62 144h0m28-23h0m11-32h0m-32 17h0m-26 83h0m89-132h0m-58 47h0m2-95h0m-40 158h0m99-16h0m-93 31h0m5-101h0m17 91h0m-33-36h0m-20-33h0m97-10h0m-38 28h0m54 34h0" stroke="#84f444" stroke-width="7"/>
<ellipse cx="3678" cy="3573" rx="6" ry="6" fill="#f02484" opacity=".62" filter="url(#bl)" transform="rotate(0 3678 3573)"/>
<path d="M3677 3574h0m-1 0h0m1-6h0m4 7h0m-15 8h0m17-4h0m-4-5h0m3-5h0m-3 4h0m3 6h0m9-23h0m-17 26h0m-3 1h0" stroke="#f02484" stroke-width="7"/>
<ellipse cx="3329" cy="3615" rx="38" ry="54" fill="#f05424" opacity=".62" filter="url(#bl)" transform="rotate(0 3329 3615)"/>
<path d="M3251 3560h0m120 51h0m-30 15h0m14-51h0m12 16h0m-37 14h0m-4 48h0m19-20h0m9-85h0m-8-38h0m-28 39h0m29 116h0m-31-75h0m45 2h0m-7 48h0m11-32h0m-56 10h0m29-44h0m-16-6h0m36 85h0m-21-53h0m4 41h0m-39-59h0m36 42h0m-14-55h0m-18 54h0m23 14h0m12-69h0m34 46h0m-28-18h0m-26 22h0m-10-114h0m-2 147h0m19 34h0m-17-148h0m54 62h0m-21-87h0m24 95h0m-32 45h0m-57-13h0m116-1h0m3-46h0m-117 68h0m96-53h0m-53-9h0m37-12h0m10 1h0m-27-47h0m-12 16h0m-25 105h0m4-95h0m46 33h0m-18-27h0m27 78h0m-66-42h0m40-13h0m-18-9h0m-7 101h0m31-33h0m32-54h0m-20 22h0m-26-104h0m55 206h0m9-128h0m-58 28h0m-9-27h0m54 71h0m-38-12h0m-11-83h0m11 10h0m-25 59h0m-16-26h0m-12 10h0m-16-10h0m46 36h0m17-18h0m-5-15h0m-31-68h0m71 113h0m-110-4h0m84-25h0m-47-14h0m38 49h0m8-89h0m-22 9h0m-3 45h0m20-1h0m43-86h0m-80-20h0m7 95h0m42-97h0m3 132h0m-34-56h0m8 28h0m-53-62h0m91 59h0m-44-11h0m-21-57h0m68 65h0m-40 42h0m35-65h0m-6-42h0m9 93h0m-39-28h0m19 0h0m-14-9h0m-24-15h0m-3 60h0m36 18h0m55-70h0m-33 41h0m-3 11h0m-15-29h0m53 25h0m-21-66h0m-86 46h0m-6-61h0m48 109h0m30-131h0m-51 12h0m7 135h0m-3-78h0m-13-90h0m31 6h0m-64 56h0m11 115h0m87-150h0m-61 45h0m1 28h0m48-11h0m21-72h0m-34 51h0m-59-60h0m31 100h0m-3 50h0m35-83h0m-78 73h0m15-12h0m8-14h0m50-23h0m-5-37h0m-17 41h0m-17-74h0m59 67h0m-56-24h0m-21-30h0m73 44h0m-83-14h0m0 30h0m20-5h0m63-27h0m-36 84h0m-25-45h0m51-76h0m-44 51h0m-25-93h0m35 232h0m-11-187h0m29 45h0m-59 18h0m81 47h0m-24-15h0m-10-4h0m-20-90h0m-51 27h0m51-43h0m11 44h0m-51 20h0m5 20h0m31 62h0m13-158h0m42 36h0m-42-30h0m57 39h0m-25 30h0m-27 34h0m42 35h0m-33-57h0m-7 40h0m18 38h0m-11-71h0m-14 11h0m17-62h0m3 50h0m-4 5h0m1 10h0m13-19h0m-14-21h0m8-32h0m-16-2h0m-17 61h0m-29 48h0m79-97h0m-31 31h0m-64-52h0m16 25h0m96-25h0m-54 118h0m13-36h0m-9 3h0m20 30h0m-13 20h0m-1-110h0m-28-7h0m16 25h0m61 51h0m-30-73h0m-16 20h0m-11-20h0m-12 8h0m52 92h0m-21-56h0m2-3h0m30-32h0m-9-19h0m-3 114h0m-26-67h0m-59-15h0m47 26h0m60 3h0m-61-2h0m30-16h0m-44 77h0m62-89h0m-11 77h0m-23-39h0m-48-77h0m98 88h0m-30 2h0m-2-68h0m-13 92h0m38-61h0m-34-29h0m19 17h0m-17-32h0m-5 32h0m16 29h0m-23-53h0m-37 73h0m59-26h0m-4-45h0m45 58h0m-51-37h0m13-4h0m19 11h0m-57-78h0m7 106h0m-22 35h0m41-71h0m-38 10h0m-21 50h0m-17-88h0m44 80h0m15-57h0m32-37h0m-61 6h0m8 19h0m31 14h0m-41 49h0m67-15h0m-87-1h0m58-15h0m-15 25h0m5 40h0m-22-117h0m48 93h0m-18-71h0m-1 3h0m34 55h0m-60 13h0m51-25h0m-5 46h0m-7-77h0m-2 31h0m-31-23h0m27 3h0m-24-27h0m-12 11h0m5 62h0m62-70h0m-27 29h0m50-10h0m-27-27h0m-36-36h0m-17 84h0m47-70h0m-93 98h0m-26-75h0m26 15h0m54 4h0m20-11h0m13 95h0m-21-90h0m-3 27h0m13-60h0m-39 56h0m106-52h0m-83-15h0m28 91h0m-36-13h0m20 32h0m-40 31h0m7-41h0m63-37h0m-47 26h0m44 36h0m-32-144h0m-1 48h0m-9 23h0m60-21h0m-63 20h0m-17-3h0m41 47h0m-49-55h0m13 34h0m0-20h0m35 12h0m17-27h0m-70 60h0m83-90h0m-50 125h0m-36-9h0m32-91h0m28-23h0m-34 0h0m45 122h0m-17-82h0m63 9h0m-54-45h0m-22 21h0m-39-17h0m6 47h0m87 45h0m-17-64h0m-16 51h0m-21-13h0m-10 2h0m16-43h0m-4-22h0m7 14h0m15 48h0m-17-86h0m41 95h0m-31-119h0m-17 48h0m3 6h0m23 13h0m-30 41h0m-32-104h0m65 85h0m-64-75h0m65 76h0m-2-32h0m-185 125h0m52-103h0m114-21h0m19 93h0m33-107h0m-70-80h0m68 168h0m37-127h0m-88 26h0m94 89h0m-194-94h0m110 23h0m-137 108h0m221 31h0m-127-121h0m28-48h0m-23 191h0m87-9h0m-73-25h0m-8-145h0m1 86h0m-46-40h0m-32-98h0m16 129h0m153-54h0m-72 35h0m-15 30h0m-42 97h0m-40-73h0m189-12h0m-59-103h0m-88-2h0m4 100h0m164 142h0m-182-210h0m100 153h0m-55-278h0m95 41h0m39 160h0m-195-35h0m34-147h0m202 204h0m-60-4h0m-194-2h0m54-46h0m75 7h0m-43-123h0m-111 44h0m21 187h0m165 6h0m-40-135h0m-67 191h0m21-393h0m-22 260h0m-2-293h0m128 191h0m-65-93h0m-8 142h0m61-92h0m-44 50h0m-2-74h0m-132 199h0m13-130h0m50 84h0m57-39h0m124 58h0m-90 3h0m-50-78h0m-26 104h0m26-95h0m222-76h0m-241 135h0m63 58h0m-33-307h0m12 106h0m7-104h0m-111 227h0m186 65h0m-24-89h0m-112 10h0m13-31h0m-38 100h0m62 13h0m-61-135h0m-56 72h0m-4-86h0m197-83h0m-151 38h0m-12 122h0m53-44h0m-27-90h0m88 137h0m13 35h0m-62-22h0m22-18h0m20-110h0m-7 132h0m-19-56h0m-106 12h0m138 19h0m96 115h0m5-112h0m-163-89h0" stroke="#f05424" stroke-width="7"/>
<ellipse cx="3278" cy="3603" rx="10" ry="10" fill="#8444c4" opacity=".62" filter="url(#bl)" transform="rotate(0 3278 3603)"/>
<path d="M3285 3602h0m-2 0h0m-3 16h0m-2-17h0m2 9h0m15 2h0m-17-11h0m7-15h0m-23 15h0m15 7h0m-3 2h0m13 2h0m-9-10h0m6-4h0m12-10h0m-24 19h0m8 2h0m10-4h0m-6 2h0m-12-6h0m-2-10h0m19 9h0m-2 3h0m-18 9h0m8-5h0m-26-10h0m55-18h0m-14 17h0m-4 10h0" stroke="#8444c4" stroke-width="7"/>
<ellipse cx="3215" cy="3560" rx="10" ry="10" fill="#44a424" opacity=".62" filter="url(#bl)" transform="rotate(0 3215 3560)"/>
<path d="M3213 3559h0m-8 0h0m17-22h0m-21 20h0m-5 15h0m19-25h0m11-1h0m-6 17h0m-15 11h0m3 0h0m14-7h0m-3-2h0m4-16h0m-29 15h0m46 0h0m-26-8h0m1 10h0m-1-2h0m-1-10h0m3 11h0m-11-12h0m-6-13h0m18 34h0m2-15h0m-12 5h0m-3-15h0m24-33h0m-34 27h0m40-2h0" stroke="#44a424" stroke-width="7"/>
<ellipse cx="3640" cy="3634" rx="8" ry="8" fill="#9424e4" opacity=".62" filter="url(#bl)" transform="rotate(0 3640 3634)"/>
<path d="M3629 3636h0m18 5h0m-11-13h0m13 13h0m-29-5h0m20-1h0m-8-4h0m5 1h0m5 3h0m-1-4h0m6 18h0m-14-10h0m2-4h0m18-11h0m-10 7h0m9 7h0m25 3h0m-53-5h0m37-20h0m-21 17h0" stroke="#9424e4" stroke-width="7"/>
<ellipse cx="3595" cy="3646" rx="5" ry="5" fill="#7030c0" opacity=".5" filter="url(#bl)" transform="rotate(0 3595 3646)"/>
<path d="M3599 3650h0m1 3h0m-6-7h0m6 2h0m-5 2h0m0-4h0m6 7h0m-11 11h0m-12-11h0" stroke="#7030c0" stroke-width="7"/>
<ellipse cx="3354" cy="3700" rx="8" ry="8" fill="#f0a404" opacity=".62" filter="url(#bl)" transform="rotate(0 3354 3700)"/>
<path d="M3338 3708h0m19-4h0m-4-8h0m0-3h0m2 9h0m-6 2h0m1-2h0m10-3h0m-7 0h0m-10 2h0m14 5h0m-7-6h0m-1 13h0m-1-15h0m1 5h0m16-7h0m22-6h0m-40 18h0m9-3h0m-14-3h0" stroke="#f0a404" stroke-width="7"/>
<ellipse cx="3386" cy="3361" rx="10" ry="10" fill="#303090" opacity=".56" filter="url(#bl)" transform="rotate(0 3386 3361)"/>
<path d="M3394 3365h0m-14-11h0m5-1h0m1 15h0m4-5h0m8-3h0m-6-7h0m-2 10h0m13-8h0m-26 13h0m20-11h0m-10 20h0m7-7h0m4-6h0m-13 14h0m-5-21h0m14 3h0m-11-2h0m9-12h0m1 17h0m10-4h0m17 1h0m-34 2h0m5-15h0m4 7h0m-1 60h0m-30-70h0" stroke="#303090" stroke-width="7"/>
<ellipse cx="3380" cy="3596" rx="17" ry="17" fill="#30c0f4" opacity=".62" filter="url(#bl)" transform="rotate(0 3380 3596)"/>
<path d="M3374 3587h0m22 10h0m-9 5h0m-18 6h0m17-18h0m-31 48h0m27-42h0m4-27h0m-16-8h0m10 11h0m-7 32h0m16 1h0m14-4h0m-14 1h0m-4-11h0m-25 7h0m5-24h0m2 1h0m17 28h0m-6-1h0m1-1h0m12 3h0m-2-3h0m-6-23h0m-8 19h0m25 7h0m-28 9h0m-18-27h0m45-11h0m-31 27h0m9 2h0m19 18h0m-9-32h0m19-12h0m-26 8h0m5-17h0m-12 16h0m3 29h0m15-11h0m7-7h0m-24-17h0m1-3h0m18 56h0m-14-14h0m1-20h0m-18 2h0m31 1h0m-23-18h0m3-7h0m20 0h0m-8 16h0m-29 7h0m24 4h0m22-37h0m6 6h0m-27-16h0m15 31h0m-12-26h0m43 34h0m-18 42h0m-67-43h0m26-10h0m-12 57h0m-54-7h0m109-73h0m-112-19h0m95 54h0m-12-8h0" stroke="#30c0f4" stroke-width="7"/>
<ellipse cx="3456" cy="3634" rx="21" ry="21" fill="#8424d4" opacity=".62" filter="url(#bl)" transform="rotate(0 3456 3634)"/>
<path d="M3419 3658h0m21-57h0m16 27h0m-6 9h0m25-13h0m-45 28h0m33-29h0m-39 25h0m55-36h0m-22 26h0m19-7h0m-15 19h0m-15-30h0m24 0h0m-28 9h0m43-22h0m-45 12h0m-1 44h0m29-33h0m-45 22h0m49-40h0m-25 23h0m33-5h0m-23-5h0m10-2h0m-1 12h0m7 18h0m-13-10h0m16-10h0m-16 11h0m-2-9h0m-21-28h0m8 36h0m0-5h0m10 25h0m-2-28h0m-14-22h0m-12 7h0m51-7h0m-18 43h0m6-15h0m-15-4h0m18 16h0m-14-30h0m-12 36h0m29-56h0m-12 53h0m20-31h0m-38 0h0m32 7h0m-27-20h0m-8 17h0m47 33h0m-27-32h0m-25 10h0m1-18h0m3-2h0m3-14h0m4 34h0m3-13h0m6 10h0m-10 16h0m19-30h0m-17 35h0m14-10h0m23-8h0m7-14h0m-42 20h0m20-19h0m-12 15h0m10-2h0m-3-19h0m8 18h0m-42-27h0m34 14h0m-17 35h0m22-32h0m0 29h0m0-12h0m21-6h0m-9-48h0m-36 70h0m-32 15h0m67 2h0m-18-90h0m-64 73h0m48-20h0m-3 35h0m-21-18h0m59-13h0m-8-30h0m-17 53h0m-42-16h0m28-51h0m39 58h0m-34-12h0m15-12h0m-11-1h0m-5-14h0m12 38h0m34-25h0m-28 46h0m60-66h0m-66 26h0" stroke="#8424d4" stroke-width="7"/>
<ellipse cx="3608" cy="3641" rx="25" ry="12" fill="#8424d4" opacity=".56" filter="url(#bl)" transform="rotate(0 3608 3641)"/>
<path d="M3583 3648h0m51-5h0m-29 8h0m34-9h0m-30-3h0m13-7h0m-28 10h0m-7-1h0m-12 10h0m56-22h0m-16 24h0m7-10h0m-6-18h0m-22 3h0m56 4h0m-22 16h0m-30 2h0m21-6h0m9 0h0m-37 24h0m12-21h0m18-7h0m-1 7h0m1 12h0m-18-16h0m28-9h0m-27 20h0m3-2h0m13-11h0m-16-4h0m10-14h0m7 34h0m-28-13h0m18-19h0m26 19h0m2-12h0m-22 13h0m-5-12h0m-22 25h0m13-16h0m21 5h0m-24-9h0m37 0h0m-29-6h0m7 24h0m-1-3h0m-15-22h0m-8 12h0m27 5h0m5-15h0m-51 4h0m27 5h0m16 6h0m-53-58h0m-4 62h0m71-38h0m-100 30h0m6-23h0m87 31h0m36-72h0m-100 18h0m-46 22h0m112 5h0m-20 33h0m65-33h0m-90-33h0m34 49h0m19-45h0" stroke="#8424d4" stroke-width="7"/>
<ellipse cx="3469" cy="3682" rx="17" ry="17" fill="#40d040" opacity=".56" filter="url(#bl)" transform="rotate(0 3469 3682)"/>
<path d="M3452 3700h0m20-36h0m-25 27h0m44-24h0m-17 9h0m-14 8h0m0 6h0m9-19h0m-3 0h0m-21 28h0m17-21h0m36-4h0m-38 11h0m-2-27h0m-8 3h0m20 28h0m-2 12h0m-11-1h0m13 9h0m10-54h0m-14 23h0m41-14h0m-29 5h0m-2 9h0m-24 10h0m33-12h0m-4 6h0m-28 6h0m14-3h0m6-2h0m6 4h0m-24 7h0m21 5h0m4-24h0m2-12h0m-24 23h0m7-5h0m9 3h0m-10 19h0m0-24h0m13 5h0m-8-16h0m-3-18h0m12 73h0m-18-48h0m14 6h0m22-5h0m4-29h0m-13 6h0m-42 15h0m-6 5h0m35-17h0m-43 24h0m28 52h0m-40-57h0m6 16h0m85-32h0m-53-20h0m5 85h0m18-55h0m-54 3h0" stroke="#40d040" stroke-width="7"/>
<path d="M3452 3550h0m16 31h0m-36 1h0m-8-26h0m-174 47h0m213 31h0m-52-39h0m27 24h0m113-57h0m-124-23h0m-9 106h0m18-2h0m-30-80h0m11 25h0m9 19h0m-24-32h0m49 59h0m-44-60h0m38-41h0m93-124h0m-128 151h0m90 107h0m-105-147h0m78 37h0m-59 40h0m-36 24h0m126-140h0m-192 140h0m131-43h0m-13 69h0m33 32h0m-37-156h0m-31 102h0m34 73h0m-123-108h0m89 58h0m-104-184h0m150 10h0m-62 104h0m74 71h0m-11-12h0m-85 1h0m48-42h0m-69-67h0m190 85h0m-85 5h0m-29-112h0m50 97h0m36-45h0m-109 52h0m7 48h0m16-137h0m28 109h0m-29-77h0m55 40h0m-84-72h0m51 20h0m-61-33h0m42 73h0m-72 7h0m65-40h0m37-70h0m-42 32h0m13 37h0m-26 90h0m-37-41h0m109-11h0m-47-61h0m21 75h0m91-133h0m-53 94h0m-56 57h0m-41-23h0m13 29h0m1-88h0m35 85h0m-32-100h0m-6 105h0m-25-85h0m-28-27h0m-5-62h0m128 93h0m-53 4h0m30 28h0m-26-27h0m36 91h0m-60-137h0m-22 59h0m35-92h0m48 45h0m4 11h0m0-64h0m-74 45h0m-35 90h0m51 0h0m-5-33h0m11 87h0m1-45h0m-49-40h0m119-87h0m-71 88h0m-25 58h0m-12-63h0m-4 5h0m78 27h0m-31-49h0m-53 82h0m55 48h0m-55-51h0m161-114h0m-5 64h0m-98-6h0m-34 11h0m148-43h0m-42 27h0m-191 8h0m128 36h0m53 12h0m-140-149h0" stroke="#60e860" stroke-width="7"/>
<ellipse cx="3449" cy="3522" rx="12" ry="12" fill="#205424" opacity=".62" filter="url(#bl)" transform="rotate(0 3449 3522)"/>
<path d="M3451 3527h0m-1-5h0m-9-8h0m1 16h0m3-8h0m5 4h0m4-12h0m-12 18h0m-9-4h0m43-16h0m-25 12h0m-19-1h0m23 2h0m-1 13h0m23-11h0m-29-4h0m8 9h0m-18-16h0m-6 0h0m22 12h0m-8-33h0m-12 49h0m6-25h0m8 3h0m5-8h0m-15 11h0m4-1h0m7-7h0m-20 13h0m11-24h0m6 27h0m20 6h0m-2-9h0m-28-22h0m15-27h0m17 30h0m-43-29h0m42 48h0m-24 17h0m-10-15h0" stroke="#205424" stroke-width="7"/>
</g>
</g>
<g font-size="3.4" font-weight="bold" fill="#111" text-anchor="middle">
<text x="338.02" y="329.82">26</text>
<text x="345" y="331.22">21</text>
<text x="355.79" y="329.18">23</text>
<text x="350.08" y="332.48">28</text>
<text x="356.42" y="333.75">25</text>
<text x="332.94" y="335.53">9</text>
<text x="338.65" y="336.8">27</text>
<text x="341.19" y="339.34">6</text>
<text x="351.35" y="342.64">8</text>
<text x="357.69" y="341.37">24</text>
<text x="364.67" y="340.1">29</text>
<text x="329.13" y="343.4">5</text>
<text x="334.85" y="345.43">15</text>
<text x="341.83" y="345.94">1</text>
<text x="349.44" y="347.71">19</text>
<text x="338.02" y="350.76">7</text>
<text x="344.75" y="352.79">17</text>
<text x="359.59" y="351.01">13</text>
<text x="366.83" y="353.55">11</text>
<text x="367.21" y="356.09">31</text>
<text x="318.98" y="352.03">3</text>
<text x="326.6" y="352.66">12</text>
<text x="321.52" y="357.36">10</text>
<text x="327.86" y="361.68">30</text>
<text x="334.21" y="364.72">2</text>
<text x="335.48" y="371.32">4</text>
<text x="359.59" y="365.99">33</text>
<text x="365.31" y="364.72">32</text>
</g>
<text x="344.95" y="320.2" font-size="5.3" text-anchor="middle" textLength="57.5" lengthAdjust="spacingAndGlyphs">Phenograph scattar plot</text>
<path d="M314.5 336.4h-1.9" stroke="#222" stroke-width=".6"/>
<text x="311.6" y="338.35" font-size="5.5" text-anchor="end">20</text>
<path d="M314.5 350.3h-1.9" stroke="#222" stroke-width=".6"/>
<text x="311.6" y="352.25" font-size="5.5" text-anchor="end">0</text>
<path d="M314.5 364.5h-1.9" stroke="#222" stroke-width=".6"/>
<text x="311.6" y="366.45" font-size="5.5" text-anchor="end">-20</text>
<path d="M328 375.2v1.9" stroke="#222" stroke-width=".6"/>
<text x="327.2" y="383.5" font-size="5.5" text-anchor="middle">-20</text>
<path d="M345.4 375.2v1.9" stroke="#222" stroke-width=".6"/>
<text x="345.4" y="383.5" font-size="5.5" text-anchor="middle">0</text>
<path d="M363 375.2v1.9" stroke="#222" stroke-width=".6"/>
<text x="363" y="383.5" font-size="5.5" text-anchor="middle">20</text>
<text x="344.95" y="390" font-size="5.6" text-anchor="middle" textLength="14.6" lengthAdjust="spacingAndGlyphs">tsne_1</text>
<text font-size="5.6" text-anchor="middle" textLength="14.6" lengthAdjust="spacingAndGlyphs" stroke="#111" stroke-width=".12" transform="translate(302 350.3) rotate(-90)">tsne_2</text>
<text x="6.2" y="410.8" font-size="12.6" font-weight="bold" textLength="6.7" lengthAdjust="spacingAndGlyphs" fill="#000" stroke="#000" stroke-width=".45">E</text>
<text font-size="5.8" text-anchor="middle" textLength="13" lengthAdjust="spacingAndGlyphs" stroke="#111" stroke-width=".12" transform="translate(11.3 524.5) rotate(-90)">Value</text>
<path d="M23 440h-1.9" stroke="#222" stroke-width=".7"/>
<text x="19.4" y="441.9" font-size="5.4" text-anchor="end" fill="#222">0</text>
<path d="M23 453.52h-1.9" stroke="#222" stroke-width=".7"/>
<text x="19.4" y="455.42" font-size="5.4" text-anchor="end" fill="#222">−2</text>
<path d="M23 467.04h-1.9" stroke="#222" stroke-width=".7"/>
<text x="19.4" y="468.94" font-size="5.4" text-anchor="end" fill="#222">−4</text>
<path d="M23 480.56h-1.9" stroke="#222" stroke-width=".7"/>
<text x="19.4" y="482.46" font-size="5.4" text-anchor="end" fill="#222">−6</text>
<rect x="23" y="419.3" width="20" height="7" fill="#e0e0e0" stroke="#5a5a5a" stroke-width=".8"/>
<rect x="23" y="426.3" width="20" height="56.7" fill="#fff" stroke="#5a5a5a" stroke-width=".8"/>
<text x="33" y="424.3" font-size="4.1" text-anchor="middle" textLength="15.66" lengthAdjust="spacingAndGlyphs" fill="#000" stroke="#000" stroke-width=".08">Cluster_1</text>
<path d="M25.8 434.59V480.56" stroke="#2a2a2a" stroke-width=".6"/>
<rect x="24.05" y="446.76" width="3.5" height="33.8" fill="#d8103a"/>
<path d="M24.05 480.09h3.5" stroke="#111" stroke-width=".9"/>
<path d="M30.55 472.45V480.56" stroke="#2a2a2a" stroke-width=".6"/>
<rect x="28.8" y="472.45" width="3.5" height="8.11" fill="#14508e"/>
<path d="M28.8 480.09h3.5" stroke="#111" stroke-width=".9"/>
<rect x="29.65" y="445.86" width="1.8" height="1.8" rx=".5" fill="#111"/>
<path d="M35.3 433.71V480.56" stroke="#2a2a2a" stroke-width=".6"/>
<rect x="33.55" y="445" width="3.5" height="35.56" fill="#30c848"/>
<path d="M33.55 464.34h3.5" stroke="#111" stroke-width=".9"/>
<path d="M40.05 446.29V480.56" stroke="#2a2a2a" stroke-width=".6"/>
<rect x="38.3" y="448.11" width="3.5" height="32.45" fill="#671b82"/>
<path d="M38.3 464.34h3.5" stroke="#111" stroke-width=".9"/>
<rect x="44.48" y="419.3" width="20" height="7" fill="#e0e0e0" stroke="#5a5a5a" stroke-width=".8"/>
<rect x="44.48" y="426.3" width="20" height="56.7" fill="#fff" stroke="#5a5a5a" stroke-width=".8"/>
<text x="54.48" y="424.3" font-size="4.1" text-anchor="middle" textLength="15.66" lengthAdjust="spacingAndGlyphs" fill="#000" stroke="#000" stroke-width=".08">Cluster_2</text>
<path d="M47.28 429.86V480.56" stroke="#2a2a2a" stroke-width=".6"/>
<rect x="45.53" y="441.76" width="3.5" height="21.9" fill="#d8103a"/>
<path d="M45.53 443.79h3.5" stroke="#111" stroke-width=".9"/>
<path d="M52.03 440V456.22" stroke="#2a2a2a" stroke-width=".6"/>
<rect x="50.28" y="445" width="3.5" height="11.22" fill="#14508e"/>
<path d="M50.28 448.11h3.5" stroke="#111" stroke-width=".9"/>
<rect x="51.13" y="479.66" width="1.8" height="1.8" rx=".5" fill="#111"/>
<path d="M56.78 428.71V480.56" stroke="#2a2a2a" stroke-width=".6"/>
<rect x="55.03" y="442.5" width="3.5" height="29.95" fill="#30c848"/>
<path d="M55.03 446.29h3.5" stroke="#111" stroke-width=".9"/>
<path d="M61.53 441.35V480.56" stroke="#2a2a2a" stroke-width=".6"/>
<rect x="59.78" y="443.79" width="3.5" height="36.77" fill="#671b82"/>
<path d="M59.78 462.04h3.5" stroke="#111" stroke-width=".9"/>
<rect x="65.96" y="419.3" width="20" height="7" fill="#e0e0e0" stroke="#5a5a5a" stroke-width=".8"/>
<rect x="65.96" y="426.3" width="20" height="56.7" fill="#fff" stroke="#5a5a5a" stroke-width=".8"/>
<text x="75.96" y="424.3" font-size="4.1" text-anchor="middle" textLength="15.66" lengthAdjust="spacingAndGlyphs" fill="#000" stroke="#000" stroke-width=".08">Cluster_3</text>
<path d="M68.76 430.74V443.79" stroke="#2a2a2a" stroke-width=".6"/>
<rect x="67.01" y="431.89" width="3.5" height="6.08" fill="#d8103a"/>
<path d="M67.01 434.59h3.5" stroke="#111" stroke-width=".9"/>
<path d="M73.51 430.74V435.94" stroke="#2a2a2a" stroke-width=".6"/>
<rect x="71.76" y="431.89" width="3.5" height="3.58" fill="#14508e"/>
<path d="M71.76 433.71h3.5" stroke="#111" stroke-width=".9"/>
<rect x="72.61" y="440.45" width="1.8" height="1.8" rx=".5" fill="#111"/>
<path d="M78.26 432.56V434.59" stroke="#2a2a2a" stroke-width=".6"/>
<rect x="76.51" y="432.97" width="3.5" height=".95" fill="#30c848"/>
<path d="M76.51 433.44h3.5" stroke="#111" stroke-width=".9"/>
<rect x="77.36" y="429.84" width="1.8" height="1.8" rx=".5" fill="#111"/>
<rect x="77.36" y="437.75" width="1.8" height="1.8" rx=".5" fill="#111"/>
<path d="M83.01 429.86V435.27" stroke="#2a2a2a" stroke-width=".6"/>
<rect x="81.26" y="431.75" width="3.5" height="3.24" fill="#671b82"/>
<path d="M81.26 433.24h3.5" stroke="#111" stroke-width=".9"/>
<rect x="82.11" y="441.13" width="1.8" height="1.8" rx=".5" fill="#111"/>
<rect x="87.44" y="419.3" width="20" height="7" fill="#e0e0e0" stroke="#5a5a5a" stroke-width=".8"/>
<rect x="87.44" y="426.3" width="20" height="56.7" fill="#fff" stroke="#5a5a5a" stroke-width=".8"/>
<text x="97.44" y="424.3" font-size="4.1" text-anchor="middle" textLength="15.66" lengthAdjust="spacingAndGlyphs" fill="#000" stroke="#000" stroke-width=".08">Cluster_4</text>
<path d="M90.24 445V480.56" stroke="#2a2a2a" stroke-width=".6"/>
<rect x="88.49" y="446.76" width="3.5" height="33.8" fill="#d8103a"/>
<path d="M88.49 448.11h3.5" stroke="#111" stroke-width=".9"/>
<path d="M94.99 436.21V456.22" stroke="#2a2a2a" stroke-width=".6"/>
<rect x="93.24" y="442.5" width="3.5" height="13.72" fill="#14508e"/>
<path d="M93.24 446.29h3.5" stroke="#111" stroke-width=".9"/>
<rect x="94.09" y="479.66" width="1.8" height="1.8" rx=".5" fill="#111"/>
<path d="M99.74 443.79V448.45" stroke="#2a2a2a" stroke-width=".6"/>
<rect x="97.99" y="445.75" width="3.5" height="2.37" fill="#30c848"/>
<path d="M97.99 446.76h3.5" stroke="#111" stroke-width=".9"/>
<rect x="98.84" y="479.66" width="1.8" height="1.8" rx=".5" fill="#111"/>
<path d="M104.49 435.47V453.52" stroke="#2a2a2a" stroke-width=".6"/>
<rect x="102.74" y="438.65" width="3.5" height="14.87" fill="#671b82"/>
<path d="M102.74 441.76h3.5" stroke="#111" stroke-width=".9"/>
<rect x="103.59" y="479.66" width="1.8" height="1.8" rx=".5" fill="#111"/>
<rect x="108.92" y="419.3" width="20" height="7" fill="#e0e0e0" stroke="#5a5a5a" stroke-width=".8"/>
<rect x="108.92" y="426.3" width="20" height="56.7" fill="#fff" stroke="#5a5a5a" stroke-width=".8"/>
<text x="118.92" y="424.3" font-size="4.1" text-anchor="middle" textLength="15.66" lengthAdjust="spacingAndGlyphs" fill="#000" stroke="#000" stroke-width=".08">Cluster_5</text>
<path d="M111.72 433.71V444.26" stroke="#2a2a2a" stroke-width=".6"/>
<rect x="109.97" y="437.97" width="3.5" height="3.38" fill="#d8103a"/>
<path d="M109.97 439.53h3.5" stroke="#111" stroke-width=".9"/>
<path d="M116.47 437.97V444.26" stroke="#2a2a2a" stroke-width=".6"/>
<rect x="114.72" y="439.53" width="3.5" height="3.45" fill="#14508e"/>
<path d="M114.72 441.35h3.5" stroke="#111" stroke-width=".9"/>
<rect x="115.57" y="428.96" width="1.8" height="1.8" rx=".5" fill="#111"/>
<path d="M121.22 435.47V444.26" stroke="#2a2a2a" stroke-width=".6"/>
<rect x="119.47" y="437.03" width="3.5" height="5.48" fill="#30c848"/>
<path d="M119.47 440h3.5" stroke="#111" stroke-width=".9"/>
<path d="M125.97 430.74V453.52" stroke="#2a2a2a" stroke-width=".6"/>
<rect x="124.22" y="437.97" width="3.5" height="15.55" fill="#671b82"/>
<path d="M124.22 444.26h3.5" stroke="#111" stroke-width=".9"/>
<rect x="125.07" y="479.66" width="1.8" height="1.8" rx=".5" fill="#111"/>
<rect x="130.4" y="419.3" width="20" height="7" fill="#e0e0e0" stroke="#5a5a5a" stroke-width=".8"/>
<rect x="130.4" y="426.3" width="20" height="56.7" fill="#fff" stroke="#5a5a5a" stroke-width=".8"/>
<text x="140.4" y="424.3" font-size="4.1" text-anchor="middle" textLength="15.66" lengthAdjust="spacingAndGlyphs" fill="#000" stroke="#000" stroke-width=".08">Cluster_6</text>
<path d="M133.2 438.65V443.79" stroke="#2a2a2a" stroke-width=".6"/>
<rect x="131.45" y="439.53" width="3.5" height="2.5" fill="#d8103a"/>
<path d="M131.45 440.68h3.5" stroke="#111" stroke-width=".9"/>
<rect x="132.3" y="429.84" width="1.8" height="1.8" rx=".5" fill="#111"/>
<rect x="132.3" y="447.21" width="1.8" height="1.8" rx=".5" fill="#111"/>
<path d="M137.95 441.35V448.79" stroke="#2a2a2a" stroke-width=".6"/>
<rect x="136.2" y="442.97" width="3.5" height="4.06" fill="#14508e"/>
<path d="M136.2 445h3.5" stroke="#111" stroke-width=".9"/>
<path d="M142.7 434.25V443.04" stroke="#2a2a2a" stroke-width=".6"/>
<rect x="140.95" y="437.97" width="3.5" height="4.06" fill="#30c848"/>
<path d="M140.95 440.47h3.5" stroke="#111" stroke-width=".9"/>
<rect x="141.8" y="447.21" width="1.8" height="1.8" rx=".5" fill="#111"/>
<path d="M147.45 437.03V452.03" stroke="#2a2a2a" stroke-width=".6"/>
<rect x="145.7" y="440" width="3.5" height="12.03" fill="#671b82"/>
<path d="M145.7 444.53h3.5" stroke="#111" stroke-width=".9"/>
<rect x="146.55" y="479.66" width="1.8" height="1.8" rx=".5" fill="#111"/>
<rect x="151.88" y="419.3" width="20" height="7" fill="#e0e0e0" stroke="#5a5a5a" stroke-width=".8"/>
<rect x="151.88" y="426.3" width="20" height="56.7" fill="#fff" stroke="#5a5a5a" stroke-width=".8"/>
<text x="161.88" y="424.3" font-size="4.1" text-anchor="middle" textLength="15.66" lengthAdjust="spacingAndGlyphs" fill="#000" stroke="#000" stroke-width=".08">Cluster_7</text>
<path d="M154.68 433.71V443.79" stroke="#2a2a2a" stroke-width=".6"/>
<rect x="152.93" y="435.74" width="3.5" height="6.76" fill="#d8103a"/>
<path d="M152.93 437.03h3.5" stroke="#111" stroke-width=".9"/>
<rect x="153.78" y="479.66" width="1.8" height="1.8" rx=".5" fill="#111"/>
<path d="M159.43 430.74V442.5" stroke="#2a2a2a" stroke-width=".6"/>
<rect x="157.68" y="435" width="3.5" height="5" fill="#14508e"/>
<path d="M157.68 437.5h3.5" stroke="#111" stroke-width=".9"/>
<path d="M164.18 431.21V448.79" stroke="#2a2a2a" stroke-width=".6"/>
<rect x="162.43" y="432.97" width="3.5" height="10" fill="#30c848"/>
<path d="M162.43 438.24h3.5" stroke="#111" stroke-width=".9"/>
<path d="M168.93 436.28V439.32" stroke="#2a2a2a" stroke-width=".6"/>
<rect x="167.18" y="437.03" width="3.5" height="1.62" fill="#671b82"/>
<path d="M167.18 437.97h3.5" stroke="#111" stroke-width=".9"/>
<rect x="173.36" y="419.3" width="20" height="7" fill="#e0e0e0" stroke="#5a5a5a" stroke-width=".8"/>
<rect x="173.36" y="426.3" width="20" height="56.7" fill="#fff" stroke="#5a5a5a" stroke-width=".8"/>
<text x="183.36" y="424.3" font-size="4.1" text-anchor="middle" textLength="15.66" lengthAdjust="spacingAndGlyphs" fill="#000" stroke="#000" stroke-width=".08">Cluster_8</text>
<path d="M176.16 430.74V442.5" stroke="#2a2a2a" stroke-width=".6"/>
<rect x="174.41" y="433.71" width="3.5" height="6.29" fill="#d8103a"/>
<path d="M174.41 437.03h3.5" stroke="#111" stroke-width=".9"/>
<path d="M180.91 433.24V435.94" stroke="#2a2a2a" stroke-width=".6"/>
<rect x="179.16" y="433.71" width="3.5" height="1.76" fill="#14508e"/>
<path d="M179.16 434.59h3.5" stroke="#111" stroke-width=".9"/>
<rect x="180.01" y="428.28" width="1.8" height="1.8" rx=".5" fill="#111"/>
<path d="M185.66 429.18V440" stroke="#2a2a2a" stroke-width=".6"/>
<rect x="183.91" y="431.75" width="3.5" height="8.25" fill="#30c848"/>
<path d="M183.91 437.5h3.5" stroke="#111" stroke-width=".9"/>
<path d="M190.41 437.5V440" stroke="#2a2a2a" stroke-width=".6"/>
<rect x="188.66" y="437.97" width="3.5" height="1.35" fill="#671b82"/>
<path d="M188.66 438.65h3.5" stroke="#111" stroke-width=".9"/>
<rect x="194.84" y="419.3" width="20" height="7" fill="#e0e0e0" stroke="#5a5a5a" stroke-width=".8"/>
<rect x="194.84" y="426.3" width="20" height="56.7" fill="#fff" stroke="#5a5a5a" stroke-width=".8"/>
<text x="204.84" y="424.3" font-size="4.1" text-anchor="middle" textLength="15.66" lengthAdjust="spacingAndGlyphs" fill="#000" stroke="#000" stroke-width=".08">Cluster_9</text>
<path d="M197.64 431.75V440" stroke="#2a2a2a" stroke-width=".6"/>
<rect x="195.89" y="434.25" width="3.5" height="5.07" fill="#d8103a"/>
<path d="M195.89 437.03h3.5" stroke="#111" stroke-width=".9"/>
<rect x="196.74" y="445.86" width="1.8" height="1.8" rx=".5" fill="#111"/>
<path d="M202.39 437.03V439.32" stroke="#2a2a2a" stroke-width=".6"/>
<rect x="200.64" y="437.5" width="3.5" height="1.15" fill="#14508e"/>
<path d="M200.64 438.24h3.5" stroke="#111" stroke-width=".9"/>
<rect x="201.49" y="440.45" width="1.8" height="1.8" rx=".5" fill="#111"/>
<path d="M207.14 430.74V438.65" stroke="#2a2a2a" stroke-width=".6"/>
<rect x="205.39" y="434.25" width="3.5" height="3.72" fill="#30c848"/>
<path d="M205.39 435.74h3.5" stroke="#111" stroke-width=".9"/>
<path d="M211.89 437.3V439.32" stroke="#2a2a2a" stroke-width=".6"/>
<rect x="210.14" y="437.5" width="3.5" height="1.15" fill="#671b82"/>
<path d="M210.14 438.11h3.5" stroke="#111" stroke-width=".9"/>
<rect x="216.32" y="419.3" width="20" height="7" fill="#e0e0e0" stroke="#5a5a5a" stroke-width=".8"/>
<rect x="216.32" y="426.3" width="20" height="56.7" fill="#fff" stroke="#5a5a5a" stroke-width=".8"/>
<text x="226.32" y="424.3" font-size="4.1" text-anchor="middle" textLength="17.4" lengthAdjust="spacingAndGlyphs" fill="#000" stroke="#000" stroke-width=".08">Cluster_10</text>
<path d="M219.12 433.71V445" stroke="#2a2a2a" stroke-width=".6"/>
<rect x="217.37" y="437.5" width="3.5" height="5.48" fill="#d8103a"/>
<path d="M217.37 440h3.5" stroke="#111" stroke-width=".9"/>
<rect x="218.22" y="479.66" width="1.8" height="1.8" rx=".5" fill="#111"/>
<path d="M223.87 439.53V442.5" stroke="#2a2a2a" stroke-width=".6"/>
<rect x="222.12" y="440" width="3.5" height="2.03" fill="#14508e"/>
<path d="M222.12 441.35h3.5" stroke="#111" stroke-width=".9"/>
<path d="M228.62 432.97V446.76" stroke="#2a2a2a" stroke-width=".6"/>
<rect x="226.87" y="437.97" width="3.5" height="4.53" fill="#30c848"/>
<path d="M226.87 440.47h3.5" stroke="#111" stroke-width=".9"/>
<path d="M233.37 437.97V445" stroke="#2a2a2a" stroke-width=".6"/>
<rect x="231.62" y="440" width="3.5" height="4.53" fill="#671b82"/>
<path d="M231.62 442.03h3.5" stroke="#111" stroke-width=".9"/>
<rect x="237.8" y="419.3" width="20" height="7" fill="#e0e0e0" stroke="#5a5a5a" stroke-width=".8"/>
<rect x="237.8" y="426.3" width="20" height="56.7" fill="#fff" stroke="#5a5a5a" stroke-width=".8"/>
<text x="247.8" y="424.3" font-size="4.1" text-anchor="middle" textLength="17.4" lengthAdjust="spacingAndGlyphs" fill="#000" stroke="#000" stroke-width=".08">Cluster_11</text>
<path d="M240.6 437.63V439.66" stroke="#2a2a2a" stroke-width=".6"/>
<rect x="238.85" y="437.97" width="3.5" height="1.35" fill="#d8103a"/>
<path d="M238.85 438.65h3.5" stroke="#111" stroke-width=".9"/>
<rect x="239.7" y="428.28" width="1.8" height="1.8" rx=".5" fill="#111"/>
<rect x="239.7" y="440.86" width="1.8" height="1.8" rx=".5" fill="#111"/>
<path d="M245.35 429.86V441.35" stroke="#2a2a2a" stroke-width=".6"/>
<rect x="243.6" y="431.75" width="3.5" height="8.25" fill="#14508e"/>
<path d="M243.6 434.59h3.5" stroke="#111" stroke-width=".9"/>
<path d="M250.1 437.03V440" stroke="#2a2a2a" stroke-width=".6"/>
<rect x="248.35" y="437.5" width="3.5" height="2.03" fill="#30c848"/>
<path d="M248.35 438.65h3.5" stroke="#111" stroke-width=".9"/>
<rect x="249.2" y="442.89" width="1.8" height="1.8" rx=".5" fill="#111"/>
<path d="M254.85 429.86V442.97" stroke="#2a2a2a" stroke-width=".6"/>
<rect x="253.1" y="432.56" width="3.5" height="9.94" fill="#671b82"/>
<path d="M253.1 437.5h3.5" stroke="#111" stroke-width=".9"/>
<rect x="259.28" y="419.3" width="20" height="7" fill="#e0e0e0" stroke="#5a5a5a" stroke-width=".8"/>
<rect x="259.28" y="426.3" width="20" height="56.7" fill="#fff" stroke="#5a5a5a" stroke-width=".8"/>
<text x="269.28" y="424.3" font-size="4.1" text-anchor="middle" textLength="17.4" lengthAdjust="spacingAndGlyphs" fill="#000" stroke="#000" stroke-width=".08">Cluster_12</text>
<path d="M262.08 431.21V441.35" stroke="#2a2a2a" stroke-width=".6"/>
<rect x="260.33" y="434.59" width="3.5" height="5.41" fill="#d8103a"/>
<path d="M260.33 437.03h3.5" stroke="#111" stroke-width=".9"/>
<rect x="261.18" y="479.66" width="1.8" height="1.8" rx=".5" fill="#111"/>
<path d="M266.83 435.74V437.97" stroke="#2a2a2a" stroke-width=".6"/>
<rect x="265.08" y="436.21" width="3.5" height="1.28" fill="#14508e"/>
<path d="M265.08 436.62h3.5" stroke="#111" stroke-width=".9"/>
<rect x="265.93" y="440.86" width="1.8" height="1.8" rx=".5" fill="#111"/>
<path d="M271.58 432.56V443.79" stroke="#2a2a2a" stroke-width=".6"/>
<rect x="269.83" y="434.59" width="3.5" height="4.93" fill="#30c848"/>
<path d="M269.83 436.62h3.5" stroke="#111" stroke-width=".9"/>
<path d="M276.33 435.74V437.97" stroke="#2a2a2a" stroke-width=".6"/>
<rect x="274.58" y="436.21" width="3.5" height="1.28" fill="#671b82"/>
<path d="M274.58 436.62h3.5" stroke="#111" stroke-width=".9"/>
<rect x="275.43" y="439.1" width="1.8" height="1.8" rx=".5" fill="#111"/>
<rect x="280.76" y="419.3" width="20" height="7" fill="#e0e0e0" stroke="#5a5a5a" stroke-width=".8"/>
<rect x="280.76" y="426.3" width="20" height="56.7" fill="#fff" stroke="#5a5a5a" stroke-width=".8"/>
<text x="290.76" y="424.3" font-size="4.1" text-anchor="middle" textLength="17.4" lengthAdjust="spacingAndGlyphs" fill="#000" stroke="#000" stroke-width=".08">Cluster_13</text>
<path d="M283.56 429.86V448.79" stroke="#2a2a2a" stroke-width=".6"/>
<rect x="281.81" y="432.56" width="3.5" height="7.91" fill="#d8103a"/>
<path d="M281.81 435.74h3.5" stroke="#111" stroke-width=".9"/>
<path d="M288.31 435.74V438.31" stroke="#2a2a2a" stroke-width=".6"/>
<rect x="286.56" y="436.21" width="3.5" height="1.76" fill="#14508e"/>
<path d="M286.56 437.03h3.5" stroke="#111" stroke-width=".9"/>
<path d="M293.06 429.86V441.35" stroke="#2a2a2a" stroke-width=".6"/>
<rect x="291.31" y="433.71" width="3.5" height="4.26" fill="#30c848"/>
<path d="M291.31 435.47h3.5" stroke="#111" stroke-width=".9"/>
<path d="M297.81 434.59V436.76" stroke="#2a2a2a" stroke-width=".6"/>
<rect x="296.06" y="435" width="3.5" height="1.22" fill="#671b82"/>
<path d="M296.06 435.47h3.5" stroke="#111" stroke-width=".9"/>
<path d="M23 508.8h-1.9" stroke="#222" stroke-width=".7"/>
<text x="19.4" y="510.7" font-size="5.4" text-anchor="end" fill="#222">0</text>
<path d="M23 522.32h-1.9" stroke="#222" stroke-width=".7"/>
<text x="19.4" y="524.22" font-size="5.4" text-anchor="end" fill="#222">−2</text>
<path d="M23 535.84h-1.9" stroke="#222" stroke-width=".7"/>
<text x="19.4" y="537.74" font-size="5.4" text-anchor="end" fill="#222">−4</text>
<path d="M23 549.36h-1.9" stroke="#222" stroke-width=".7"/>
<text x="19.4" y="551.26" font-size="5.4" text-anchor="end" fill="#222">−6</text>
<rect x="23" y="488.6" width="20" height="6.6" fill="#e0e0e0" stroke="#5a5a5a" stroke-width=".8"/>
<rect x="23" y="495.2" width="20" height="56.8" fill="#fff" stroke="#5a5a5a" stroke-width=".8"/>
<text x="33" y="493.4" font-size="4.1" text-anchor="middle" textLength="17.4" lengthAdjust="spacingAndGlyphs" fill="#000" stroke="#000" stroke-width=".08">Cluster_14</text>
<path d="M25.8 503.8V505.76" stroke="#2a2a2a" stroke-width=".6"/>
<rect x="24.05" y="504.27" width="3.5" height=".8" fill="#d8103a"/>
<path d="M24.05 504.54h3.5" stroke="#111" stroke-width=".9"/>
<rect x="24.9" y="511.69" width="1.8" height="1.8" rx=".5" fill="#111"/>
<path d="M30.55 502.04V507.04" stroke="#2a2a2a" stroke-width=".6"/>
<rect x="28.8" y="503.05" width="3.5" height="2.77" fill="#14508e"/>
<path d="M28.8 504.54h3.5" stroke="#111" stroke-width=".9"/>
<path d="M35.3 502.51V506.77" stroke="#2a2a2a" stroke-width=".6"/>
<rect x="33.55" y="503.39" width="3.5" height="2.43" fill="#30c848"/>
<path d="M33.55 504.54h3.5" stroke="#111" stroke-width=".9"/>
<path d="M40.05 503.05V507.04" stroke="#2a2a2a" stroke-width=".6"/>
<rect x="38.3" y="503.8" width="3.5" height="1.22" fill="#671b82"/>
<path d="M38.3 504.27h3.5" stroke="#111" stroke-width=".9"/>
<rect x="44.48" y="488.6" width="20" height="6.6" fill="#e0e0e0" stroke="#5a5a5a" stroke-width=".8"/>
<rect x="44.48" y="495.2" width="20" height="56.8" fill="#fff" stroke="#5a5a5a" stroke-width=".8"/>
<text x="54.48" y="493.4" font-size="4.1" text-anchor="middle" textLength="17.4" lengthAdjust="spacingAndGlyphs" fill="#000" stroke="#000" stroke-width=".08">Cluster_15</text>
<path d="M47.28 511.3V549.36" stroke="#2a2a2a" stroke-width=".6"/>
<rect x="45.53" y="515.09" width="3.5" height="34.27" fill="#d8103a"/>
<path d="M45.53 549.02h3.5" stroke="#111" stroke-width=".9"/>
<path d="M52.03 515.09V525.7" stroke="#2a2a2a" stroke-width=".6"/>
<rect x="50.28" y="516.91" width="3.5" height="8.79" fill="#14508e"/>
<path d="M50.28 518.06h3.5" stroke="#111" stroke-width=".9"/>
<rect x="51.13" y="548.46" width="1.8" height="1.8" rx=".5" fill="#111"/>
<path d="M56.78 512.18V549.36" stroke="#2a2a2a" stroke-width=".6"/>
<rect x="55.03" y="513.8" width="3.5" height="27.45" fill="#30c848"/>
<path d="M55.03 516.24h3.5" stroke="#111" stroke-width=".9"/>
<path d="M61.53 509.48V523.67" stroke="#2a2a2a" stroke-width=".6"/>
<rect x="59.78" y="511.77" width="3.5" height="11.9" fill="#671b82"/>
<path d="M59.78 513.8h3.5" stroke="#111" stroke-width=".9"/>
<rect x="60.63" y="548.46" width="1.8" height="1.8" rx=".5" fill="#111"/>
<rect x="65.96" y="488.6" width="20" height="6.6" fill="#e0e0e0" stroke="#5a5a5a" stroke-width=".8"/>
<rect x="65.96" y="495.2" width="20" height="56.8" fill="#fff" stroke="#5a5a5a" stroke-width=".8"/>
<text x="75.96" y="493.4" font-size="4.1" text-anchor="middle" textLength="17.4" lengthAdjust="spacingAndGlyphs" fill="#000" stroke="#000" stroke-width=".08">Cluster_16</text>
<path d="M68.76 521.31V549.36" stroke="#2a2a2a" stroke-width=".6"/>
<rect x="67.01" y="533.14" width="3.5" height="16.22" fill="#d8103a"/>
<path d="M67.01 549.02h3.5" stroke="#111" stroke-width=".9"/>
<path d="M73.51 506.3V549.36" stroke="#2a2a2a" stroke-width=".6"/>
<rect x="71.76" y="515.09" width="3.5" height="34.27" fill="#14508e"/>
<path d="M71.76 533.81h3.5" stroke="#111" stroke-width=".9"/>
<path d="M78.26 515.09V549.36" stroke="#2a2a2a" stroke-width=".6"/>
<rect x="76.51" y="523.67" width="3.5" height="25.69" fill="#30c848"/>
<path d="M76.51 549.02h3.5" stroke="#111" stroke-width=".9"/>
<path d="M83.01 499.54V549.36" stroke="#2a2a2a" stroke-width=".6"/>
<rect x="81.26" y="508.33" width="3.5" height="41.03" fill="#671b82"/>
<path d="M81.26 530.09h3.5" stroke="#111" stroke-width=".9"/>
<rect x="87.44" y="488.6" width="20" height="6.6" fill="#e0e0e0" stroke="#5a5a5a" stroke-width=".8"/>
<rect x="87.44" y="495.2" width="20" height="56.8" fill="#fff" stroke="#5a5a5a" stroke-width=".8"/>
<text x="97.44" y="493.4" font-size="4.1" text-anchor="middle" textLength="17.4" lengthAdjust="spacingAndGlyphs" fill="#000" stroke="#000" stroke-width=".08">Cluster_17</text>
<path d="M90.24 503.05V506.3" stroke="#2a2a2a" stroke-width=".6"/>
<rect x="88.49" y="504.54" width="3.5" height="1.28" fill="#d8103a"/>
<path d="M88.49 505.01h3.5" stroke="#111" stroke-width=".9"/>
<rect x="89.34" y="511.69" width="1.8" height="1.8" rx=".5" fill="#111"/>
<path d="M94.99 501.36V503.8" stroke="#2a2a2a" stroke-width=".6"/>
<rect x="93.24" y="501.77" width="3.5" height="1.28" fill="#14508e"/>
<path d="M93.24 502.51h3.5" stroke="#111" stroke-width=".9"/>
<path d="M99.74 502.51V509.48" stroke="#2a2a2a" stroke-width=".6"/>
<rect x="97.99" y="503.39" width="3.5" height="5.41" fill="#30c848"/>
<path d="M97.99 505.83h3.5" stroke="#111" stroke-width=".9"/>
<path d="M104.49 500.01V502.51" stroke="#2a2a2a" stroke-width=".6"/>
<rect x="102.74" y="500.55" width="3.5" height="1.49" fill="#671b82"/>
<path d="M102.74 501.36h3.5" stroke="#111" stroke-width=".9"/>
<rect x="108.92" y="488.6" width="20" height="6.6" fill="#e0e0e0" stroke="#5a5a5a" stroke-width=".8"/>
<rect x="108.92" y="495.2" width="20" height="56.8" fill="#fff" stroke="#5a5a5a" stroke-width=".8"/>
<text x="118.92" y="493.4" font-size="4.1" text-anchor="middle" textLength="17.4" lengthAdjust="spacingAndGlyphs" fill="#000" stroke="#000" stroke-width=".08">Cluster_18</text>
<path d="M111.72 515.09V549.36" stroke="#2a2a2a" stroke-width=".6"/>
<rect x="109.97" y="518.06" width="3.5" height="31.3" fill="#d8103a"/>
<path d="M109.97 518.26h3.5" stroke="#111" stroke-width=".9"/>
<path d="M116.47 502.04V517.59" stroke="#2a2a2a" stroke-width=".6"/>
<rect x="114.72" y="508.33" width="3.5" height="7.5" fill="#14508e"/>
<path d="M114.72 511.77h3.5" stroke="#111" stroke-width=".9"/>
<path d="M121.22 521.31V549.36" stroke="#2a2a2a" stroke-width=".6"/>
<rect x="119.47" y="525.02" width="3.5" height="24.34" fill="#30c848"/>
<path d="M119.47 549.02h3.5" stroke="#111" stroke-width=".9"/>
<path d="M125.97 515.09V518.06" stroke="#2a2a2a" stroke-width=".6"/>
<rect x="124.22" y="516.57" width="3.5" height=".8" fill="#671b82"/>
<path d="M124.22 516.91h3.5" stroke="#111" stroke-width=".9"/>
<rect x="130.4" y="488.6" width="20" height="6.6" fill="#e0e0e0" stroke="#5a5a5a" stroke-width=".8"/>
<rect x="130.4" y="495.2" width="20" height="56.8" fill="#fff" stroke="#5a5a5a" stroke-width=".8"/>
<text x="140.4" y="493.4" font-size="4.1" text-anchor="middle" textLength="17.4" lengthAdjust="spacingAndGlyphs" fill="#000" stroke="#000" stroke-width=".08">Cluster_19</text>
<path d="M133.2 500.01V515.09" stroke="#2a2a2a" stroke-width=".6"/>
<rect x="131.45" y="505.01" width="3.5" height="7.57" fill="#d8103a"/>
<path d="M131.45 508.8h3.5" stroke="#111" stroke-width=".9"/>
<rect x="132.3" y="548.46" width="1.8" height="1.8" rx=".5" fill="#111"/>
<path d="M137.95 505.83V513.8" stroke="#2a2a2a" stroke-width=".6"/>
<rect x="136.2" y="507.45" width="3.5" height="3.85" fill="#14508e"/>
<path d="M136.2 509.48h3.5" stroke="#111" stroke-width=".9"/>
<path d="M142.7 503.05V512.59" stroke="#2a2a2a" stroke-width=".6"/>
<rect x="140.95" y="505.01" width="3.5" height="6.29" fill="#30c848"/>
<path d="M140.95 506.3h3.5" stroke="#111" stroke-width=".9"/>
<rect x="141.8" y="548.46" width="1.8" height="1.8" rx=".5" fill="#111"/>
<path d="M147.45 505.83V512.59" stroke="#2a2a2a" stroke-width=".6"/>
<rect x="145.7" y="507.45" width="3.5" height="3.11" fill="#671b82"/>
<path d="M145.7 509.27h3.5" stroke="#111" stroke-width=".9"/>
<rect x="151.88" y="488.6" width="20" height="6.6" fill="#e0e0e0" stroke="#5a5a5a" stroke-width=".8"/>
<rect x="151.88" y="495.2" width="20" height="56.8" fill="#fff" stroke="#5a5a5a" stroke-width=".8"/>
<text x="161.88" y="493.4" font-size="4.1" text-anchor="middle" textLength="17.4" lengthAdjust="spacingAndGlyphs" fill="#000" stroke="#000" stroke-width=".08">Cluster_20</text>
<path d="M152.93 549.36h3.5" stroke="#3a3a3a" stroke-width="1.1"/>
<path d="M159.43 515.83V549.36" stroke="#2a2a2a" stroke-width=".6"/>
<rect x="157.68" y="517.59" width="3.5" height="31.77" fill="#14508e"/>
<path d="M157.68 533.81h3.5" stroke="#111" stroke-width=".9"/>
<path d="M164.18 517.59V549.36" stroke="#2a2a2a" stroke-width=".6"/>
<rect x="162.43" y="518.06" width="3.5" height="31.3" fill="#30c848"/>
<path d="M162.43 533.81h3.5" stroke="#111" stroke-width=".9"/>
<path d="M168.93 509.48V549.36" stroke="#2a2a2a" stroke-width=".6"/>
<rect x="167.18" y="515.83" width="3.5" height="33.53" fill="#671b82"/>
<path d="M167.18 533.81h3.5" stroke="#111" stroke-width=".9"/>
<rect x="173.36" y="488.6" width="20" height="6.6" fill="#e0e0e0" stroke="#5a5a5a" stroke-width=".8"/>
<rect x="173.36" y="495.2" width="20" height="56.8" fill="#fff" stroke="#5a5a5a" stroke-width=".8"/>
<text x="183.36" y="493.4" font-size="4.1" text-anchor="middle" textLength="17.4" lengthAdjust="spacingAndGlyphs" fill="#000" stroke="#000" stroke-width=".08">Cluster_21</text>
<path d="M176.16 508.8V513.8" stroke="#2a2a2a" stroke-width=".6"/>
<rect x="174.41" y="509.48" width="3.5" height="3.11" fill="#d8103a"/>
<path d="M174.41 511.3h3.5" stroke="#111" stroke-width=".9"/>
<rect x="175.26" y="501.61" width="1.8" height="1.8" rx=".5" fill="#111"/>
<path d="M180.91 507.04V512.59" stroke="#2a2a2a" stroke-width=".6"/>
<rect x="179.16" y="508.12" width="3.5" height="3.18" fill="#14508e"/>
<path d="M179.16 509.48h3.5" stroke="#111" stroke-width=".9"/>
<path d="M185.66 505.01V515.09" stroke="#2a2a2a" stroke-width=".6"/>
<rect x="183.91" y="507.04" width="3.5" height="4.73" fill="#30c848"/>
<path d="M183.91 509.48h3.5" stroke="#111" stroke-width=".9"/>
<path d="M190.41 505.01V515.09" stroke="#2a2a2a" stroke-width=".6"/>
<rect x="188.66" y="507.04" width="3.5" height="4.26" fill="#671b82"/>
<path d="M188.66 509.27h3.5" stroke="#111" stroke-width=".9"/>
<rect x="194.84" y="488.6" width="20" height="6.6" fill="#e0e0e0" stroke="#5a5a5a" stroke-width=".8"/>
<rect x="194.84" y="495.2" width="20" height="56.8" fill="#fff" stroke="#5a5a5a" stroke-width=".8"/>
<text x="204.84" y="493.4" font-size="4.1" text-anchor="middle" textLength="17.4" lengthAdjust="spacingAndGlyphs" fill="#000" stroke="#000" stroke-width=".08">Cluster_22</text>
<path d="M197.64 505.83V513.8" stroke="#2a2a2a" stroke-width=".6"/>
<rect x="195.89" y="507.45" width="3.5" height="3.11" fill="#d8103a"/>
<path d="M195.89 509.27h3.5" stroke="#111" stroke-width=".9"/>
<path d="M202.39 501.36V513.8" stroke="#2a2a2a" stroke-width=".6"/>
<rect x="200.64" y="505.01" width="3.5" height="5.14" fill="#14508e"/>
<path d="M200.64 507.45h3.5" stroke="#111" stroke-width=".9"/>
<path d="M207.14 505.01V511.3" stroke="#2a2a2a" stroke-width=".6"/>
<rect x="205.39" y="507.45" width="3.5" height="2.7" fill="#30c848"/>
<path d="M205.39 508.8h3.5" stroke="#111" stroke-width=".9"/>
<rect x="206.24" y="515.34" width="1.8" height="1.8" rx=".5" fill="#111"/>
<path d="M211.89 501.36V517.59" stroke="#2a2a2a" stroke-width=".6"/>
<rect x="210.14" y="506.3" width="3.5" height="6.76" fill="#671b82"/>
<path d="M210.14 509.48h3.5" stroke="#111" stroke-width=".9"/>
<rect x="216.32" y="488.6" width="20" height="6.6" fill="#e0e0e0" stroke="#5a5a5a" stroke-width=".8"/>
<rect x="216.32" y="495.2" width="20" height="56.8" fill="#fff" stroke="#5a5a5a" stroke-width=".8"/>
<text x="226.32" y="493.4" font-size="4.1" text-anchor="middle" textLength="17.4" lengthAdjust="spacingAndGlyphs" fill="#000" stroke="#000" stroke-width=".08">Cluster_23</text>
<path d="M219.12 505.01V549.36" stroke="#2a2a2a" stroke-width=".6"/>
<rect x="217.37" y="512.04" width="3.5" height="37.32" fill="#d8103a"/>
<path d="M217.37 549.02h3.5" stroke="#111" stroke-width=".9"/>
<path d="M223.87 540.84V549.36" stroke="#2a2a2a" stroke-width=".6"/>
<rect x="222.12" y="540.84" width="3.5" height="8.52" fill="#14508e"/>
<path d="M222.12 549.02h3.5" stroke="#111" stroke-width=".9"/>
<rect x="222.97" y="512.9" width="1.8" height="1.8" rx=".5" fill="#111"/>
<path d="M228.62 507.45V549.36" stroke="#2a2a2a" stroke-width=".6"/>
<rect x="226.87" y="518.06" width="3.5" height="31.3" fill="#30c848"/>
<path d="M226.87 549.02h3.5" stroke="#111" stroke-width=".9"/>
<path d="M233.37 540.1V549.36" stroke="#2a2a2a" stroke-width=".6"/>
<rect x="231.62" y="540.1" width="3.5" height="9.26" fill="#671b82"/>
<path d="M231.62 549.02h3.5" stroke="#111" stroke-width=".9"/>
<rect x="232.47" y="510.4" width="1.8" height="1.8" rx=".5" fill="#111"/>
<rect x="237.8" y="488.6" width="20" height="6.6" fill="#e0e0e0" stroke="#5a5a5a" stroke-width=".8"/>
<rect x="237.8" y="495.2" width="20" height="56.8" fill="#fff" stroke="#5a5a5a" stroke-width=".8"/>
<text x="247.8" y="493.4" font-size="4.1" text-anchor="middle" textLength="17.4" lengthAdjust="spacingAndGlyphs" fill="#000" stroke="#000" stroke-width=".08">Cluster_24</text>
<path d="M240.6 503.05V508.8" stroke="#2a2a2a" stroke-width=".6"/>
<rect x="238.85" y="504.27" width="3.5" height="3.18" fill="#d8103a"/>
<path d="M238.85 505.83h3.5" stroke="#111" stroke-width=".9"/>
<rect x="239.7" y="497.76" width="1.8" height="1.8" rx=".5" fill="#111"/>
<path d="M245.35 506.77V508.12" stroke="#2a2a2a" stroke-width=".6"/>
<rect x="243.6" y="507.11" width="3.5" height=".8" fill="#14508e"/>
<path d="M243.6 507.45h3.5" stroke="#111" stroke-width=".9"/>
<rect x="244.45" y="504.52" width="1.8" height="1.8" rx=".5" fill="#111"/>
<path d="M250.1 504.74V508.12" stroke="#2a2a2a" stroke-width=".6"/>
<rect x="248.35" y="505.01" width="3.5" height="2.43" fill="#30c848"/>
<path d="M248.35 506.3h3.5" stroke="#111" stroke-width=".9"/>
<rect x="249.2" y="499.65" width="1.8" height="1.8" rx=".5" fill="#111"/>
<path d="M254.85 508.8V511.3" stroke="#2a2a2a" stroke-width=".6"/>
<rect x="253.1" y="509.27" width="3.5" height="1.28" fill="#671b82"/>
<path d="M253.1 510.15h3.5" stroke="#111" stroke-width=".9"/>
<rect x="259.28" y="488.6" width="20" height="6.6" fill="#e0e0e0" stroke="#5a5a5a" stroke-width=".8"/>
<rect x="259.28" y="495.2" width="20" height="56.8" fill="#fff" stroke="#5a5a5a" stroke-width=".8"/>
<text x="269.28" y="493.4" font-size="4.1" text-anchor="middle" textLength="17.4" lengthAdjust="spacingAndGlyphs" fill="#000" stroke="#000" stroke-width=".08">Cluster_25</text>
<path d="M262.08 500.01V515.09" stroke="#2a2a2a" stroke-width=".6"/>
<rect x="260.33" y="505.01" width="3.5" height="7.03" fill="#d8103a"/>
<path d="M260.33 508.33h3.5" stroke="#111" stroke-width=".9"/>
<path d="M266.83 505.83V510.56" stroke="#2a2a2a" stroke-width=".6"/>
<rect x="265.08" y="506.77" width="3.5" height="2.7" fill="#14508e"/>
<path d="M265.08 508.12h3.5" stroke="#111" stroke-width=".9"/>
<path d="M271.58 501.36V513.8" stroke="#2a2a2a" stroke-width=".6"/>
<rect x="269.83" y="504.27" width="3.5" height="8.31" fill="#30c848"/>
<path d="M269.83 508.8h3.5" stroke="#111" stroke-width=".9"/>
<path d="M276.33 503.8V517.59" stroke="#2a2a2a" stroke-width=".6"/>
<rect x="274.58" y="506.3" width="3.5" height="8.79" fill="#671b82"/>
<path d="M274.58 510.56h3.5" stroke="#111" stroke-width=".9"/>
<rect x="280.76" y="488.6" width="20" height="6.6" fill="#e0e0e0" stroke="#5a5a5a" stroke-width=".8"/>
<rect x="280.76" y="495.2" width="20" height="56.8" fill="#fff" stroke="#5a5a5a" stroke-width=".8"/>
<text x="290.76" y="493.4" font-size="4.1" text-anchor="middle" textLength="17.4" lengthAdjust="spacingAndGlyphs" fill="#000" stroke="#000" stroke-width=".08">Cluster_26</text>
<path d="M283.56 552v2" stroke="#222" stroke-width=".7"/>
<path d="M283.56 502.51V517.59" stroke="#2a2a2a" stroke-width=".6"/>
<rect x="281.81" y="506.77" width="3.5" height="8.31" fill="#d8103a"/>
<path d="M281.81 511.3h3.5" stroke="#111" stroke-width=".9"/>
<path d="M288.31 552v2" stroke="#222" stroke-width=".7"/>
<path d="M288.31 506.3V512.59" stroke="#2a2a2a" stroke-width=".6"/>
<rect x="286.56" y="507.45" width="3.5" height="4.33" fill="#14508e"/>
<path d="M286.56 509.48h3.5" stroke="#111" stroke-width=".9"/>
<path d="M293.06 552v2" stroke="#222" stroke-width=".7"/>
<path d="M293.06 503.8V515.09" stroke="#2a2a2a" stroke-width=".6"/>
<rect x="291.31" y="506.77" width="3.5" height="6.56" fill="#30c848"/>
<path d="M291.31 510.15h3.5" stroke="#111" stroke-width=".9"/>
<path d="M297.81 552v2" stroke="#222" stroke-width=".7"/>
<path d="M297.81 508.8V525.7" stroke="#2a2a2a" stroke-width=".6"/>
<rect x="296.06" y="510.15" width="3.5" height="15.55" fill="#671b82"/>
<path d="M296.06 513.8h3.5" stroke="#111" stroke-width=".9"/>
<rect x="296.91" y="548.46" width="1.8" height="1.8" rx=".5" fill="#111"/>
<path d="M23 578h-1.9" stroke="#222" stroke-width=".7"/>
<text x="19.4" y="579.9" font-size="5.4" text-anchor="end" fill="#222">0</text>
<path d="M23 591.52h-1.9" stroke="#222" stroke-width=".7"/>
<text x="19.4" y="593.42" font-size="5.4" text-anchor="end" fill="#222">−2</text>
<path d="M23 605.04h-1.9" stroke="#222" stroke-width=".7"/>
<text x="19.4" y="606.94" font-size="5.4" text-anchor="end" fill="#222">−4</text>
<path d="M23 618.56h-1.9" stroke="#222" stroke-width=".7"/>
<text x="19.4" y="620.46" font-size="5.4" text-anchor="end" fill="#222">−6</text>
<rect x="23" y="558" width="20" height="6.6" fill="#e0e0e0" stroke="#5a5a5a" stroke-width=".8"/>
<rect x="23" y="564.6" width="20" height="56.7" fill="#fff" stroke="#5a5a5a" stroke-width=".8"/>
<text x="33" y="562.8" font-size="4.1" text-anchor="middle" textLength="17.4" lengthAdjust="spacingAndGlyphs" fill="#000" stroke="#000" stroke-width=".08">Cluster_27</text>
<path d="M25.8 621.3v2" stroke="#222" stroke-width=".7"/>
<path d="M24.05 618.56h3.5" stroke="#3a3a3a" stroke-width="1.1"/>
<rect x="24.9" y="579.6" width="1.8" height="1.8" rx=".5" fill="#111"/>
<path d="M30.55 621.3v2" stroke="#222" stroke-width=".7"/>
<path d="M28.8 618.56h3.5" stroke="#3a3a3a" stroke-width="1.1"/>
<path d="M35.3 621.3v2" stroke="#222" stroke-width=".7"/>
<path d="M33.55 618.56h3.5" stroke="#3a3a3a" stroke-width="1.1"/>
<rect x="34.4" y="576.09" width="1.8" height="1.8" rx=".5" fill="#111"/>
<path d="M40.05 621.3v2" stroke="#222" stroke-width=".7"/>
<path d="M38.3 618.56h3.5" stroke="#3a3a3a" stroke-width="1.1"/>
<rect x="44.48" y="558" width="20" height="6.6" fill="#e0e0e0" stroke="#5a5a5a" stroke-width=".8"/>
<rect x="44.48" y="564.6" width="20" height="56.7" fill="#fff" stroke="#5a5a5a" stroke-width=".8"/>
<text x="54.48" y="562.8" font-size="4.1" text-anchor="middle" textLength="17.4" lengthAdjust="spacingAndGlyphs" fill="#000" stroke="#000" stroke-width=".08">Cluster_28</text>
<path d="M47.28 621.3v2" stroke="#222" stroke-width=".7"/>
<path d="M47.28 573.74V618.56" stroke="#2a2a2a" stroke-width=".6"/>
<rect x="45.53" y="598.28" width="3.5" height="20.28" fill="#d8103a"/>
<path d="M45.53 618.22h3.5" stroke="#111" stroke-width=".9"/>
<path d="M52.03 621.3v2" stroke="#222" stroke-width=".7"/>
<path d="M52.03 580.03V618.56" stroke="#2a2a2a" stroke-width=".6"/>
<rect x="50.28" y="585.77" width="3.5" height="32.79" fill="#14508e"/>
<path d="M50.28 603.01h3.5" stroke="#111" stroke-width=".9"/>
<path d="M56.78 621.3v2" stroke="#222" stroke-width=".7"/>
<path d="M56.78 574.21V618.56" stroke="#2a2a2a" stroke-width=".6"/>
<rect x="55.03" y="586.99" width="3.5" height="31.57" fill="#30c848"/>
<path d="M55.03 618.22h3.5" stroke="#111" stroke-width=".9"/>
<path d="M61.53 621.3v2" stroke="#222" stroke-width=".7"/>
<path d="M61.53 609.57V618.56" stroke="#2a2a2a" stroke-width=".6"/>
<rect x="59.78" y="609.57" width="3.5" height="8.99" fill="#671b82"/>
<path d="M59.78 618.22h3.5" stroke="#111" stroke-width=".9"/>
<rect x="60.63" y="580.89" width="1.8" height="1.8" rx=".5" fill="#111"/>
<rect x="65.96" y="558" width="20" height="6.6" fill="#e0e0e0" stroke="#5a5a5a" stroke-width=".8"/>
<rect x="65.96" y="564.6" width="20" height="56.7" fill="#fff" stroke="#5a5a5a" stroke-width=".8"/>
<text x="75.96" y="562.8" font-size="4.1" text-anchor="middle" textLength="17.4" lengthAdjust="spacingAndGlyphs" fill="#000" stroke="#000" stroke-width=".08">Cluster_29</text>
<path d="M68.76 621.3v2" stroke="#222" stroke-width=".7"/>
<path d="M68.76 569.89V618.56" stroke="#2a2a2a" stroke-width=".6"/>
<rect x="67.01" y="580.7" width="3.5" height="37.86" fill="#d8103a"/>
<path d="M67.01 586.99h3.5" stroke="#111" stroke-width=".9"/>
<path d="M73.51 621.3v2" stroke="#222" stroke-width=".7"/>
<path d="M73.51 575.03V618.56" stroke="#2a2a2a" stroke-width=".6"/>
<rect x="71.76" y="585.03" width="3.5" height="33.53" fill="#14508e"/>
<path d="M71.76 603.01h3.5" stroke="#111" stroke-width=".9"/>
<path d="M78.26 621.3v2" stroke="#222" stroke-width=".7"/>
<path d="M78.26 573.27V618.56" stroke="#2a2a2a" stroke-width=".6"/>
<rect x="76.51" y="590.03" width="3.5" height="28.53" fill="#30c848"/>
<path d="M76.51 618.22h3.5" stroke="#111" stroke-width=".9"/>
<path d="M83.01 621.3v2" stroke="#222" stroke-width=".7"/>
<path d="M83.01 609.3V618.56" stroke="#2a2a2a" stroke-width=".6"/>
<rect x="81.26" y="609.3" width="3.5" height="9.26" fill="#671b82"/>
<path d="M81.26 618.22h3.5" stroke="#111" stroke-width=".9"/>
<rect x="82.11" y="577.37" width="1.8" height="1.8" rx=".5" fill="#111"/>
<rect x="87.44" y="558" width="20" height="6.6" fill="#e0e0e0" stroke="#5a5a5a" stroke-width=".8"/>
<rect x="87.44" y="564.6" width="20" height="56.7" fill="#fff" stroke="#5a5a5a" stroke-width=".8"/>
<text x="97.44" y="562.8" font-size="4.1" text-anchor="middle" textLength="17.4" lengthAdjust="spacingAndGlyphs" fill="#000" stroke="#000" stroke-width=".08">Cluster_30</text>
<path d="M90.24 621.3v2" stroke="#222" stroke-width=".7"/>
<path d="M90.24 573.74V586.11" stroke="#2a2a2a" stroke-width=".6"/>
<rect x="88.49" y="576.65" width="3.5" height="8.38" fill="#d8103a"/>
<path d="M88.49 580.5h3.5" stroke="#111" stroke-width=".9"/>
<rect x="89.34" y="617.66" width="1.8" height="1.8" rx=".5" fill="#111"/>
<path d="M94.99 621.3v2" stroke="#222" stroke-width=".7"/>
<path d="M94.99 573V582.06" stroke="#2a2a2a" stroke-width=".6"/>
<rect x="93.24" y="573.74" width="3.5" height="6.29" fill="#14508e"/>
<path d="M93.24 575.77h3.5" stroke="#111" stroke-width=".9"/>
<path d="M99.74 621.3v2" stroke="#222" stroke-width=".7"/>
<path d="M99.74 573.74V584.49" stroke="#2a2a2a" stroke-width=".6"/>
<rect x="97.99" y="579.35" width="3.5" height="3.18" fill="#30c848"/>
<path d="M97.99 581.24h3.5" stroke="#111" stroke-width=".9"/>
<path d="M104.49 621.3v2" stroke="#222" stroke-width=".7"/>
<path d="M104.49 571.92V578.68" stroke="#2a2a2a" stroke-width=".6"/>
<rect x="102.74" y="573.27" width="3.5" height="4.73" fill="#671b82"/>
<path d="M102.74 575.03h3.5" stroke="#111" stroke-width=".9"/>
<rect x="108.92" y="558" width="20" height="6.6" fill="#e0e0e0" stroke="#5a5a5a" stroke-width=".8"/>
<rect x="108.92" y="564.6" width="20" height="56.7" fill="#fff" stroke="#5a5a5a" stroke-width=".8"/>
<text x="118.92" y="562.8" font-size="4.1" text-anchor="middle" textLength="17.4" lengthAdjust="spacingAndGlyphs" fill="#000" stroke="#000" stroke-width=".08">Cluster_31</text>
<path d="M111.72 621.3v2" stroke="#222" stroke-width=".7"/>
<path d="M111.72 575.03V582.53" stroke="#2a2a2a" stroke-width=".6"/>
<rect x="109.97" y="576.65" width="3.5" height="4.6" fill="#d8103a"/>
<path d="M109.97 579.35h3.5" stroke="#111" stroke-width=".9"/>
<rect x="110.82" y="617.66" width="1.8" height="1.8" rx=".5" fill="#111"/>
<path d="M116.47 621.3v2" stroke="#222" stroke-width=".7"/>
<path d="M116.47 576.24V580.03" stroke="#2a2a2a" stroke-width=".6"/>
<rect x="114.72" y="576.65" width="3.5" height="2.7" fill="#14508e"/>
<path d="M114.72 578h3.5" stroke="#111" stroke-width=".9"/>
<rect x="115.57" y="568.99" width="1.8" height="1.8" rx=".5" fill="#111"/>
<path d="M121.22 621.3v2" stroke="#222" stroke-width=".7"/>
<path d="M121.22 570.56V577.32" stroke="#2a2a2a" stroke-width=".6"/>
<rect x="119.47" y="573.27" width="3.5" height="3.38" fill="#30c848"/>
<path d="M119.47 575.03h3.5" stroke="#111" stroke-width=".9"/>
<rect x="120.32" y="617.66" width="1.8" height="1.8" rx=".5" fill="#111"/>
<path d="M125.97 621.3v2" stroke="#222" stroke-width=".7"/>
<path d="M125.97 578V586.11" stroke="#2a2a2a" stroke-width=".6"/>
<rect x="124.22" y="579.35" width="3.5" height="4.39" fill="#671b82"/>
<path d="M124.22 581.79h3.5" stroke="#111" stroke-width=".9"/>
<rect x="125.07" y="568.99" width="1.8" height="1.8" rx=".5" fill="#111"/>
<rect x="130.4" y="558" width="20" height="6.6" fill="#e0e0e0" stroke="#5a5a5a" stroke-width=".8"/>
<rect x="130.4" y="564.6" width="20" height="56.7" fill="#fff" stroke="#5a5a5a" stroke-width=".8"/>
<text x="140.4" y="562.8" font-size="4.1" text-anchor="middle" textLength="17.4" lengthAdjust="spacingAndGlyphs" fill="#000" stroke="#000" stroke-width=".08">Cluster_32</text>
<path d="M133.2 621.3v2" stroke="#222" stroke-width=".7"/>
<path d="M133.2 583.27V586.25" stroke="#2a2a2a" stroke-width=".6"/>
<rect x="131.45" y="583.75" width="3.5" height="2.03" fill="#d8103a"/>
<path d="M131.45 585.03h3.5" stroke="#111" stroke-width=".9"/>
<rect x="132.3" y="571.69" width="1.8" height="1.8" rx=".5" fill="#111"/>
<rect x="132.3" y="617.66" width="1.8" height="1.8" rx=".5" fill="#111"/>
<path d="M137.95 621.3v2" stroke="#222" stroke-width=".7"/>
<path d="M137.95 573V594.49" stroke="#2a2a2a" stroke-width=".6"/>
<rect x="136.2" y="581.79" width="3.5" height="12.71" fill="#14508e"/>
<path d="M136.2 585.77h3.5" stroke="#111" stroke-width=".9"/>
<rect x="137.05" y="617.66" width="1.8" height="1.8" rx=".5" fill="#111"/>
<path d="M142.7 621.3v2" stroke="#222" stroke-width=".7"/>
<path d="M142.7 581.79V587.46" stroke="#2a2a2a" stroke-width=".6"/>
<rect x="140.95" y="585.03" width="3.5" height="1.76" fill="#30c848"/>
<path d="M140.95 585.77h3.5" stroke="#111" stroke-width=".9"/>
<rect x="141.8" y="617.66" width="1.8" height="1.8" rx=".5" fill="#111"/>
<path d="M147.45 621.3v2" stroke="#222" stroke-width=".7"/>
<path d="M147.45 608.01V618.56" stroke="#2a2a2a" stroke-width=".6"/>
<rect x="145.7" y="608.01" width="3.5" height="10.55" fill="#671b82"/>
<path d="M145.7 618.22h3.5" stroke="#111" stroke-width=".9"/>
<rect x="146.55" y="573.31" width="1.8" height="1.8" rx=".5" fill="#111"/>
<rect x="151.88" y="558" width="20" height="6.6" fill="#e0e0e0" stroke="#5a5a5a" stroke-width=".8"/>
<rect x="151.88" y="564.6" width="20" height="56.7" fill="#fff" stroke="#5a5a5a" stroke-width=".8"/>
<text x="161.88" y="562.8" font-size="4.1" text-anchor="middle" textLength="17.4" lengthAdjust="spacingAndGlyphs" fill="#000" stroke="#000" stroke-width=".08">Cluster_33</text>
<path d="M154.68 621.3v2" stroke="#222" stroke-width=".7"/>
<path d="M152.93 618.56h3.5" stroke="#3a3a3a" stroke-width="1.1"/>
<path d="M159.43 621.3v2" stroke="#222" stroke-width=".7"/>
<path d="M157.68 618.56h3.5" stroke="#3a3a3a" stroke-width="1.1"/>
<path d="M164.18 621.3v2" stroke="#222" stroke-width=".7"/>
<path d="M164.18 587.46V618.56" stroke="#2a2a2a" stroke-width=".6"/>
<rect x="162.43" y="594.9" width="3.5" height="23.66" fill="#30c848"/>
<path d="M162.43 618.22h3.5" stroke="#111" stroke-width=".9"/>
<path d="M168.93 621.3v2" stroke="#222" stroke-width=".7"/>
<path d="M167.18 618.56h3.5" stroke="#3a3a3a" stroke-width="1.1"/>
<rect x="173.36" y="558" width="20" height="6.6" fill="#e0e0e0" stroke="#5a5a5a" stroke-width=".8"/>
<rect x="173.36" y="564.6" width="20" height="56.7" fill="#fff" stroke="#5a5a5a" stroke-width=".8"/>
<text x="183.36" y="562.8" font-size="4.1" text-anchor="middle" textLength="17.4" lengthAdjust="spacingAndGlyphs" fill="#000" stroke="#000" stroke-width=".08">Cluster_34</text>
<path d="M176.16 621.3v2" stroke="#222" stroke-width=".7"/>
<path d="M176.16 581.24V618.56" stroke="#2a2a2a" stroke-width=".6"/>
<rect x="174.41" y="582.53" width="3.5" height="19.13" fill="#d8103a"/>
<path d="M174.41 584.29h3.5" stroke="#111" stroke-width=".9"/>
<path d="M180.91 621.3v2" stroke="#222" stroke-width=".7"/>
<path d="M180.91 583V587.13" stroke="#2a2a2a" stroke-width=".6"/>
<rect x="179.16" y="583.75" width="3.5" height="3.04" fill="#14508e"/>
<path d="M179.16 585.03h3.5" stroke="#111" stroke-width=".9"/>
<path d="M185.66 621.3v2" stroke="#222" stroke-width=".7"/>
<path d="M185.66 583.27V586.79" stroke="#2a2a2a" stroke-width=".6"/>
<rect x="183.91" y="585.03" width="3.5" height=".8" fill="#30c848"/>
<path d="M183.91 585.44h3.5" stroke="#111" stroke-width=".9"/>
<path d="M190.41 621.3v2" stroke="#222" stroke-width=".7"/>
<path d="M190.41 583.75V585.77" stroke="#2a2a2a" stroke-width=".6"/>
<rect x="188.66" y="584.29" width="3.5" height=".8" fill="#671b82"/>
<path d="M188.66 584.49h3.5" stroke="#111" stroke-width=".9"/>
<rect x="194.84" y="558" width="20" height="6.6" fill="#e0e0e0" stroke="#5a5a5a" stroke-width=".8"/>
<rect x="194.84" y="564.6" width="20" height="56.7" fill="#fff" stroke="#5a5a5a" stroke-width=".8"/>
<text x="204.84" y="562.8" font-size="4.1" text-anchor="middle" textLength="17.4" lengthAdjust="spacingAndGlyphs" fill="#000" stroke="#000" stroke-width=".08">Cluster_35</text>
<path d="M197.64 621.3v2" stroke="#222" stroke-width=".7"/>
<path d="M197.64 582.06V618.56" stroke="#2a2a2a" stroke-width=".6"/>
<rect x="195.89" y="584.29" width="3.5" height="34.27" fill="#d8103a"/>
<path d="M195.89 586.99h3.5" stroke="#111" stroke-width=".9"/>
<path d="M202.39 621.3v2" stroke="#222" stroke-width=".7"/>
<path d="M202.39 610.04V618.56" stroke="#2a2a2a" stroke-width=".6"/>
<rect x="200.64" y="610.04" width="3.5" height="8.52" fill="#14508e"/>
<path d="M200.64 618.22h3.5" stroke="#111" stroke-width=".9"/>
<rect x="201.49" y="581.63" width="1.8" height="1.8" rx=".5" fill="#111"/>
<path d="M207.14 621.3v2" stroke="#222" stroke-width=".7"/>
<path d="M207.14 582.53V618.56" stroke="#2a2a2a" stroke-width=".6"/>
<rect x="205.39" y="584.49" width="3.5" height="34.07" fill="#30c848"/>
<path d="M205.39 603.01h3.5" stroke="#111" stroke-width=".9"/>
<path d="M211.89 621.3v2" stroke="#222" stroke-width=".7"/>
<path d="M211.89 610.04V618.56" stroke="#2a2a2a" stroke-width=".6"/>
<rect x="210.14" y="610.04" width="3.5" height="8.52" fill="#671b82"/>
<path d="M210.14 618.22h3.5" stroke="#111" stroke-width=".9"/>
<rect x="210.99" y="581.63" width="1.8" height="1.8" rx=".5" fill="#111"/>
<rect x="216.32" y="558" width="20" height="6.6" fill="#e0e0e0" stroke="#5a5a5a" stroke-width=".8"/>
<rect x="216.32" y="564.6" width="20" height="56.7" fill="#fff" stroke="#5a5a5a" stroke-width=".8"/>
<text x="226.32" y="562.8" font-size="4.1" text-anchor="middle" textLength="17.4" lengthAdjust="spacingAndGlyphs" fill="#000" stroke="#000" stroke-width=".08">Cluster_36</text>
<path d="M219.12 621.3v2" stroke="#222" stroke-width=".7"/>
<path d="M219.12 576.99V618.56" stroke="#2a2a2a" stroke-width=".6"/>
<rect x="217.37" y="585.03" width="3.5" height="17.51" fill="#d8103a"/>
<path d="M217.37 586.99h3.5" stroke="#111" stroke-width=".9"/>
<path d="M223.87 621.3v2" stroke="#222" stroke-width=".7"/>
<path d="M223.87 579.49V618.56" stroke="#2a2a2a" stroke-width=".6"/>
<rect x="222.12" y="582.53" width="3.5" height="36.03" fill="#14508e"/>
<path d="M222.12 600.78h3.5" stroke="#111" stroke-width=".9"/>
<path d="M228.62 621.3v2" stroke="#222" stroke-width=".7"/>
<path d="M228.62 580.5V618.56" stroke="#2a2a2a" stroke-width=".6"/>
<rect x="226.87" y="583.75" width="3.5" height="27.04" fill="#30c848"/>
<path d="M226.87 586.99h3.5" stroke="#111" stroke-width=".9"/>
<path d="M233.37 621.3v2" stroke="#222" stroke-width=".7"/>
<path d="M233.37 580.03V584.56" stroke="#2a2a2a" stroke-width=".6"/>
<rect x="231.62" y="583" width="3.5" height="1.28" fill="#671b82"/>
<path d="M231.62 583.75h3.5" stroke="#111" stroke-width=".9"/>
<rect x="237.8" y="558" width="20" height="6.6" fill="#e0e0e0" stroke="#5a5a5a" stroke-width=".8"/>
<rect x="237.8" y="564.6" width="20" height="56.7" fill="#fff" stroke="#5a5a5a" stroke-width=".8"/>
<text x="247.8" y="562.8" font-size="4.1" text-anchor="middle" textLength="17.4" lengthAdjust="spacingAndGlyphs" fill="#000" stroke="#000" stroke-width=".08">Cluster_37</text>
<path d="M240.6 621.3v2" stroke="#222" stroke-width=".7"/>
<path d="M240.6 573.74V581.79" stroke="#2a2a2a" stroke-width=".6"/>
<rect x="238.85" y="575.03" width="3.5" height="3.65" fill="#d8103a"/>
<path d="M238.85 576.65h3.5" stroke="#111" stroke-width=".9"/>
<path d="M245.35 621.3v2" stroke="#222" stroke-width=".7"/>
<path d="M245.35 572.59V581.24" stroke="#2a2a2a" stroke-width=".6"/>
<rect x="243.6" y="573.27" width="3.5" height="5" fill="#14508e"/>
<path d="M243.6 575.03h3.5" stroke="#111" stroke-width=".9"/>
<path d="M250.1 621.3v2" stroke="#222" stroke-width=".7"/>
<path d="M250.1 574.21V579.35" stroke="#2a2a2a" stroke-width=".6"/>
<rect x="248.35" y="576.65" width="3.5" height="2.03" fill="#30c848"/>
<path d="M248.35 578h3.5" stroke="#111" stroke-width=".9"/>
<path d="M254.85 621.3v2" stroke="#222" stroke-width=".7"/>
<path d="M254.85 572.59V585.03" stroke="#2a2a2a" stroke-width=".6"/>
<rect x="253.1" y="573.74" width="3.5" height="10" fill="#671b82"/>
<path d="M253.1 578.68h3.5" stroke="#111" stroke-width=".9"/>
<rect x="259.28" y="558" width="20" height="6.6" fill="#e0e0e0" stroke="#5a5a5a" stroke-width=".8"/>
<rect x="259.28" y="564.6" width="20" height="56.7" fill="#fff" stroke="#5a5a5a" stroke-width=".8"/>
<text x="269.28" y="562.8" font-size="4.1" text-anchor="middle" textLength="17.4" lengthAdjust="spacingAndGlyphs" fill="#000" stroke="#000" stroke-width=".08">Cluster_38</text>
<path d="M262.08 621.3v2" stroke="#222" stroke-width=".7"/>
<path d="M262.08 572.59V586.99" stroke="#2a2a2a" stroke-width=".6"/>
<rect x="260.33" y="579.49" width="3.5" height="5" fill="#d8103a"/>
<path d="M260.33 582.06h3.5" stroke="#111" stroke-width=".9"/>
<rect x="261.18" y="617.66" width="1.8" height="1.8" rx=".5" fill="#111"/>
<path d="M266.83 621.3v2" stroke="#222" stroke-width=".7"/>
<path d="M266.83 578.68V586.11" stroke="#2a2a2a" stroke-width=".6"/>
<rect x="265.08" y="579.49" width="3.5" height="2.57" fill="#14508e"/>
<path d="M265.08 580.7h3.5" stroke="#111" stroke-width=".9"/>
<path d="M271.58 621.3v2" stroke="#222" stroke-width=".7"/>
<path d="M271.58 574.21V585.03" stroke="#2a2a2a" stroke-width=".6"/>
<rect x="269.83" y="576.65" width="3.5" height="7.64" fill="#30c848"/>
<path d="M269.83 581.24h3.5" stroke="#111" stroke-width=".9"/>
<rect x="270.68" y="617.66" width="1.8" height="1.8" rx=".5" fill="#111"/>
<path d="M276.33 621.3v2" stroke="#222" stroke-width=".7"/>
<path d="M276.33 577.53V583.07" stroke="#2a2a2a" stroke-width=".6"/>
<rect x="274.58" y="580.7" width="3.5" height="1.83" fill="#671b82"/>
<path d="M274.58 581.79h3.5" stroke="#111" stroke-width=".9"/>
<path d="M95 519.9V529.6" stroke="#777" stroke-width=".8"/><path d="M95 516.9l-2.3 3.7h4.6z" fill="#111"/>
<path d="M104.8 519.9V529.6" stroke="#777" stroke-width=".8"/><path d="M104.8 516.9l-2.3 3.7h4.6z" fill="#111"/>
<path d="M116.8 525V535.2" stroke="#777" stroke-width=".8"/><path d="M116.8 522l-2.3 3.7h4.6z" fill="#111"/>
<path d="M126.5 525V535.2" stroke="#777" stroke-width=".8"/><path d="M126.5 522l-2.3 3.7h4.6z" fill="#111"/>
<text x="306.3" y="514" font-size="6.02" textLength="15.91" lengthAdjust="spacingAndGlyphs">Group</text>
<rect x="306.6" y="517.1" width="4.19" height="3.4" rx=".9" fill="#d8103a"/>
<path d="M306.6 518.8h4.19" stroke="#111" stroke-width=".8"/>
<text x="313.2" y="520.4" font-size="4.84" textLength="28.59" lengthAdjust="spacingAndGlyphs">Pre responders</text>
<rect x="306.6" y="522.6" width="4.19" height="3.4" rx=".9" fill="#14508e"/>
<path d="M306.6 524.3h4.19" stroke="#111" stroke-width=".8"/>
<text x="313.2" y="525.9" font-size="4.84" textLength="30.64" lengthAdjust="spacingAndGlyphs">Post responders</text>
<rect x="306.6" y="528.1" width="4.19" height="3.4" rx=".9" fill="#30c848"/>
<path d="M306.6 529.8h4.19" stroke="#111" stroke-width=".8"/>
<text x="313.2" y="531.4" font-size="4.84" textLength="37.2" lengthAdjust="spacingAndGlyphs">Pre non responders</text>
<rect x="306.6" y="533.7" width="4.19" height="3.4" rx=".9" fill="#671b82"/>
<path d="M306.6 535.4h4.19" stroke="#111" stroke-width=".8"/>
<text x="313.2" y="537" font-size="4.84" textLength="38.59" lengthAdjust="spacingAndGlyphs">Post non responders</text>
<text x="162" y="630" font-size="5.8" text-anchor="middle" textLength="14.2" lengthAdjust="spacingAndGlyphs" fill="#444">Group</text>
<text x="350.8" y="410.6" font-size="12.6" font-weight="bold" fill="#000" stroke="#000" stroke-width=".45">F</text>
<rect x="443.9" y="406.4" width="50.02" height="2.4" fill="#c4102e"/>
<rect x="443.9" y="410.15" width="32.89" height="2.4" fill="#c4102e"/>
<rect x="443.9" y="413.89" width="30.09" height="2.4" fill="#c4102e"/>
<rect x="443.9" y="417.64" width="17.13" height="2.4" fill="#c4102e"/>
<rect x="443.9" y="421.38" width="12.96" height="2.4" fill="#c4102e"/>
<rect x="443.9" y="425.13" width="10.05" height="2.4" fill="#c4102e"/>
<rect x="443.9" y="428.87" width="8.45" height="2.4" fill="#c4102e"/>
<rect x="443.9" y="432.62" width=".69" height="2.4" fill="#c4102e"/>
<rect x="443.9" y="436.36" width=".34" height="2.4" fill="#c4102e"/>
<rect x="439.39" y="440.11" width="4.51" height="2.4" fill="#c4102e"/>
<rect x="435.62" y="443.85" width="8.28" height="2.4" fill="#c4102e"/>
<rect x="433.85" y="447.6" width="10.05" height="2.4" fill="#c4102e"/>
<rect x="431.79" y="451.34" width="12.11" height="2.4" fill="#c4102e"/>
<rect x="431.45" y="455.09" width="12.45" height="2.4" fill="#c4102e"/>
<rect x="428.65" y="458.83" width="15.25" height="2.4" fill="#c4102e"/>
<rect x="428.14" y="462.58" width="15.76" height="2.4" fill="#c4102e"/>
<rect x="427.46" y="466.32" width="16.44" height="2.4" fill="#c4102e"/>
<rect x="427.11" y="470.07" width="16.79" height="2.4" fill="#c4102e"/>
<rect x="424.37" y="473.81" width="19.53" height="2.4" fill="#c4102e"/>
<rect x="421.92" y="477.56" width="21.98" height="2.4" fill="#c4102e"/>
<rect x="415.01" y="481.3" width="28.89" height="2.4" fill="#c4102e"/>
<rect x="412.78" y="485.05" width="31.12" height="2.4" fill="#c4102e"/>
<rect x="388" y="488.79" width="55.9" height="2.4" fill="#c4102e"/>
<rect x="386.8" y="492.54" width="57.1" height="2.4" fill="#c4102e"/>
<rect x="386.8" y="496.28" width="57.1" height="2.4" fill="#c4102e"/>
<rect x="386.8" y="500.03" width="57.1" height="2.4" fill="#c4102e"/>
<rect x="386.8" y="503.77" width="57.1" height="2.4" fill="#c4102e"/>
<rect x="386.8" y="507.52" width="57.1" height="2.4" fill="#c4102e"/>
<rect x="386.8" y="511.26" width="57.1" height="2.4" fill="#c4102e"/>
<rect x="386.8" y="515" width="57.1" height="2.4" fill="#c4102e"/>
<rect x="386.8" y="518.75" width="57.1" height="2.4" fill="#c4102e"/>
<rect x="386.8" y="522.5" width="57.1" height="2.4" fill="#c4102e"/>
<rect x="386.8" y="526.24" width="57.1" height="2.4" fill="#c4102e"/>
<rect x="386.8" y="529.99" width="57.1" height="2.4" fill="#c4102e"/>
<rect x="386.8" y="533.73" width="57.1" height="2.4" fill="#c4102e"/>
<path d="M382 405.5V536.9H501.2M382 407.6h-2.5M382 411.35h-2.5M382 415.09h-2.5M382 418.84h-2.5M382 422.58h-2.5M382 426.33h-2.5M382 430.07h-2.5M382 433.81h-2.5M382 437.56h-2.5M382 441.31h-2.5M382 445.05h-2.5M382 448.8h-2.5M382 452.54h-2.5M382 456.29h-2.5M382 460.03h-2.5M382 463.78h-2.5M382 467.52h-2.5M382 471.27h-2.5M382 475.01h-2.5M382 478.75h-2.5M382 482.5h-2.5M382 486.25h-2.5M382 489.99h-2.5M382 493.74h-2.5M382 497.48h-2.5M382 501.23h-2.5M382 504.97h-2.5M382 508.72h-2.5M382 512.46h-2.5M382 516.21h-2.5M382 519.95h-2.5M382 523.7h-2.5M382 527.44h-2.5M382 531.19h-2.5M382 534.93h-2.5M386.8 536.9v2.2M415.35 536.9v2.2M443.9 536.9v2.2M472.45 536.9v2.2" stroke="#111" stroke-width=".9" fill="none"/>
<g font-size="4.7" text-anchor="end" fill="#1a1a1a" stroke="#fff" stroke-width=".55" paint-order="stroke" transform="translate(378.2 0) scale(.9 1)">
<text x="0" y="409.25">CD8</text>
<text x="0" y="413">CD26</text>
<text x="0" y="416.74">CD127</text>
<text x="0" y="420.49">CD69</text>
<text x="0" y="424.23">CD103</text>
<text x="0" y="427.98">CD57</text>
<text x="0" y="431.72">CD27</text>
<text x="0" y="435.46">CD28</text>
<text x="0" y="439.21">CD49d</text>
<text x="0" y="442.95">CTLA-4</text>
<text x="0" y="446.7">CD95</text>
<text x="0" y="450.44">Helios</text>
<text x="0" y="454.19">Ki67</text>
<text x="0" y="457.94">CXCR3</text>
<text x="0" y="461.68">TOX</text>
<text x="0" y="465.43">CD152</text>
<text x="0" y="469.17">Eomes</text>
<text x="0" y="472.92">TCF1</text>
<text x="0" y="476.66">CCR7</text>
<text x="0" y="480.4">GzK</text>
<text x="0" y="484.15">Tbet</text>
<text x="0" y="487.89">GzB</text>
<text x="0" y="491.64">CD45RA</text>
<text x="0" y="495.38">CD39</text>
<text x="0" y="499.13">PD-1</text>
<text x="0" y="502.88">LAG-3</text>
<text x="0" y="506.62">TIGIT</text>
<text x="0" y="510.37">Tim-3</text>
<text x="0" y="514.11">CD38</text>
<text x="0" y="517.86">CD16</text>
<text x="0" y="521.6">CD25</text>
<text x="0" y="525.35">HLA-DR</text>
<text x="0" y="529.09">CXCR5</text>
<text x="0" y="532.84">CD56</text>
<text x="0" y="536.58">CD4</text>
</g>
<text x="386" y="545.5" font-size="4.9" text-anchor="middle">-100</text>
<text x="414.55" y="545.5" font-size="4.9" text-anchor="middle">-50</text>
<text x="443.9" y="545.5" font-size="4.9" text-anchor="middle">0</text>
<text x="472.45" y="545.5" font-size="4.9" text-anchor="middle">50</text>
<text x="387.3" y="403.9" font-size="5" textLength="25.3" lengthAdjust="spacingAndGlyphs">Cluster_17</text>
<text x="441.9" y="552.5" font-size="5.9" text-anchor="middle" textLength="18.4" lengthAdjust="spacingAndGlyphs">Intensity</text>
<text font-size="5.9" text-anchor="middle" textLength="15.5" lengthAdjust="spacingAndGlyphs" stroke="#111" stroke-width=".12" transform="translate(356.3 471.2) rotate(-90)">Marker</text>
<rect x="416.9" y="561.1" width="77.31" height="2.4" fill="#c4102e"/>
<rect x="416.9" y="564.8" width="62.01" height="2.4" fill="#c4102e"/>
<rect x="416.9" y="568.5" width="44.1" height="2.4" fill="#c4102e"/>
<rect x="416.9" y="572.2" width="36.9" height="2.4" fill="#c4102e"/>
<rect x="416.9" y="575.9" width="28.2" height="2.4" fill="#c4102e"/>
<rect x="416.9" y="579.6" width="25.95" height="2.4" fill="#c4102e"/>
<rect x="416.9" y="583.3" width="24.51" height="2.4" fill="#c4102e"/>
<rect x="416.9" y="587" width="17.31" height="2.4" fill="#c4102e"/>
<rect x="416.9" y="590.7" width="16.14" height="2.4" fill="#c4102e"/>
<rect x="416.9" y="594.4" width="11.82" height="2.4" fill="#c4102e"/>
<rect x="416.9" y="598.1" width="10.95" height="2.4" fill="#c4102e"/>
<rect x="416.9" y="601.8" width="10.08" height="2.4" fill="#c4102e"/>
<rect x="416.9" y="605.5" width="9.51" height="2.4" fill="#c4102e"/>
<rect x="416.9" y="609.2" width="8.64" height="2.4" fill="#c4102e"/>
<rect x="416.9" y="612.9" width="7.5" height="2.4" fill="#c4102e"/>
<rect x="416.9" y="616.6" width="6.9" height="2.4" fill="#c4102e"/>
<rect x="416.9" y="620.3" width="6" height="2.4" fill="#c4102e"/>
<rect x="416.9" y="624" width=".9" height="2.4" fill="#c4102e"/>
<rect x="415.7" y="627.7" width="1.2" height="2.4" fill="#c4102e"/>
<rect x="414.11" y="631.4" width="2.79" height="2.4" fill="#c4102e"/>
<rect x="411.35" y="635.1" width="5.55" height="2.4" fill="#c4102e"/>
<rect x="410.9" y="638.8" width="6" height="2.4" fill="#c4102e"/>
<rect x="403.4" y="642.5" width="13.5" height="2.4" fill="#c4102e"/>
<rect x="401.45" y="646.2" width="15.45" height="2.4" fill="#c4102e"/>
<rect x="397.4" y="649.9" width="19.5" height="2.4" fill="#c4102e"/>
<rect x="392.75" y="653.6" width="24.15" height="2.4" fill="#c4102e"/>
<rect x="390.2" y="657.3" width="26.7" height="2.4" fill="#c4102e"/>
<rect x="387.95" y="661" width="28.95" height="2.4" fill="#c4102e"/>
<rect x="386.9" y="664.7" width="30" height="2.4" fill="#c4102e"/>
<rect x="386.9" y="668.4" width="30" height="2.4" fill="#c4102e"/>
<rect x="386.9" y="672.1" width="30" height="2.4" fill="#c4102e"/>
<rect x="386.9" y="675.8" width="30" height="2.4" fill="#c4102e"/>
<rect x="386.9" y="679.5" width="30" height="2.4" fill="#c4102e"/>
<rect x="386.9" y="683.2" width="30" height="2.4" fill="#c4102e"/>
<rect x="386.9" y="686.9" width="30" height="2.4" fill="#c4102e"/>
<path d="M382 560V690.4H501.2M382 562.3h-2.5M382 566h-2.5M382 569.7h-2.5M382 573.4h-2.5M382 577.1h-2.5M382 580.8h-2.5M382 584.5h-2.5M382 588.2h-2.5M382 591.9h-2.5M382 595.6h-2.5M382 599.3h-2.5M382 603h-2.5M382 606.7h-2.5M382 610.4h-2.5M382 614.1h-2.5M382 617.8h-2.5M382 621.5h-2.5M382 625.2h-2.5M382 628.9h-2.5M382 632.6h-2.5M382 636.3h-2.5M382 640h-2.5M382 643.7h-2.5M382 647.4h-2.5M382 651.1h-2.5M382 654.8h-2.5M382 658.5h-2.5M382 662.2h-2.5M382 665.9h-2.5M382 669.6h-2.5M382 673.3h-2.5M382 677h-2.5M382 680.7h-2.5M382 684.4h-2.5M382 688.1h-2.5M386.9 690.4v2.2M416.9 690.4v2.2M446.9 690.4v2.2M476.9 690.4v2.2" stroke="#111" stroke-width=".9" fill="none"/>
<g font-size="4.7" text-anchor="end" fill="#1a1a1a" stroke="#fff" stroke-width=".55" paint-order="stroke" transform="translate(378.2 0) scale(.9 1)">
<text x="0" y="563.95">TIGIT</text>
<text x="0" y="567.65">CD38</text>
<text x="0" y="571.35">PD-1</text>
<text x="0" y="575.05">HLA-DR</text>
<text x="0" y="578.75">CD39</text>
<text x="0" y="582.45">CD69</text>
<text x="0" y="586.15">LAG-3</text>
<text x="0" y="589.85">Tim-3</text>
<text x="0" y="593.55">CD27</text>
<text x="0" y="597.25">GzK</text>
<text x="0" y="600.95">CD57</text>
<text x="0" y="604.65">CD95</text>
<text x="0" y="608.35">CD152</text>
<text x="0" y="612.05">Ki67</text>
<text x="0" y="615.75">Tbet</text>
<text x="0" y="619.45">Helios</text>
<text x="0" y="623.15">TOX</text>
<text x="0" y="626.85">CD49d</text>
<text x="0" y="630.55">CD103</text>
<text x="0" y="634.25">CD28</text>
<text x="0" y="637.95">CTLA-4</text>
<text x="0" y="641.65">CXCR3</text>
<text x="0" y="645.35">GzB</text>
<text x="0" y="649.05">CD45RA</text>
<text x="0" y="652.75">TCF1</text>
<text x="0" y="656.45">CD26</text>
<text x="0" y="660.15">CCR7</text>
<text x="0" y="663.85">CD127</text>
<text x="0" y="667.55">Eomes</text>
<text x="0" y="671.25">CD25</text>
<text x="0" y="674.95">CXCR5</text>
<text x="0" y="678.65">CD16</text>
<text x="0" y="682.35">CD56</text>
<text x="0" y="686.05">CD8</text>
<text x="0" y="689.75">CD4</text>
</g>
<text x="386.1" y="697.9" font-size="4.9" text-anchor="middle">-100</text>
<text x="416.9" y="697.9" font-size="4.9" text-anchor="middle">0</text>
<text x="446.9" y="697.9" font-size="4.9" text-anchor="middle">100</text>
<text x="476.9" y="697.9" font-size="4.9" text-anchor="middle">200</text>
<text x="387.3" y="558" font-size="5" textLength="25.3" lengthAdjust="spacingAndGlyphs">Cluster_18</text>
<text x="441.9" y="703.9" font-size="5.9" text-anchor="middle" textLength="18.4" lengthAdjust="spacingAndGlyphs">Intensity</text>
<text font-size="5.9" text-anchor="middle" textLength="15.5" lengthAdjust="spacingAndGlyphs" stroke="#111" stroke-width=".12" transform="translate(356.3 625.2) rotate(-90)">Marker</text>
<rect x=".5" y=".5" width="519" height="710" fill="none" stroke="#000" stroke-width="1"/>
</svg>
</body></html>
